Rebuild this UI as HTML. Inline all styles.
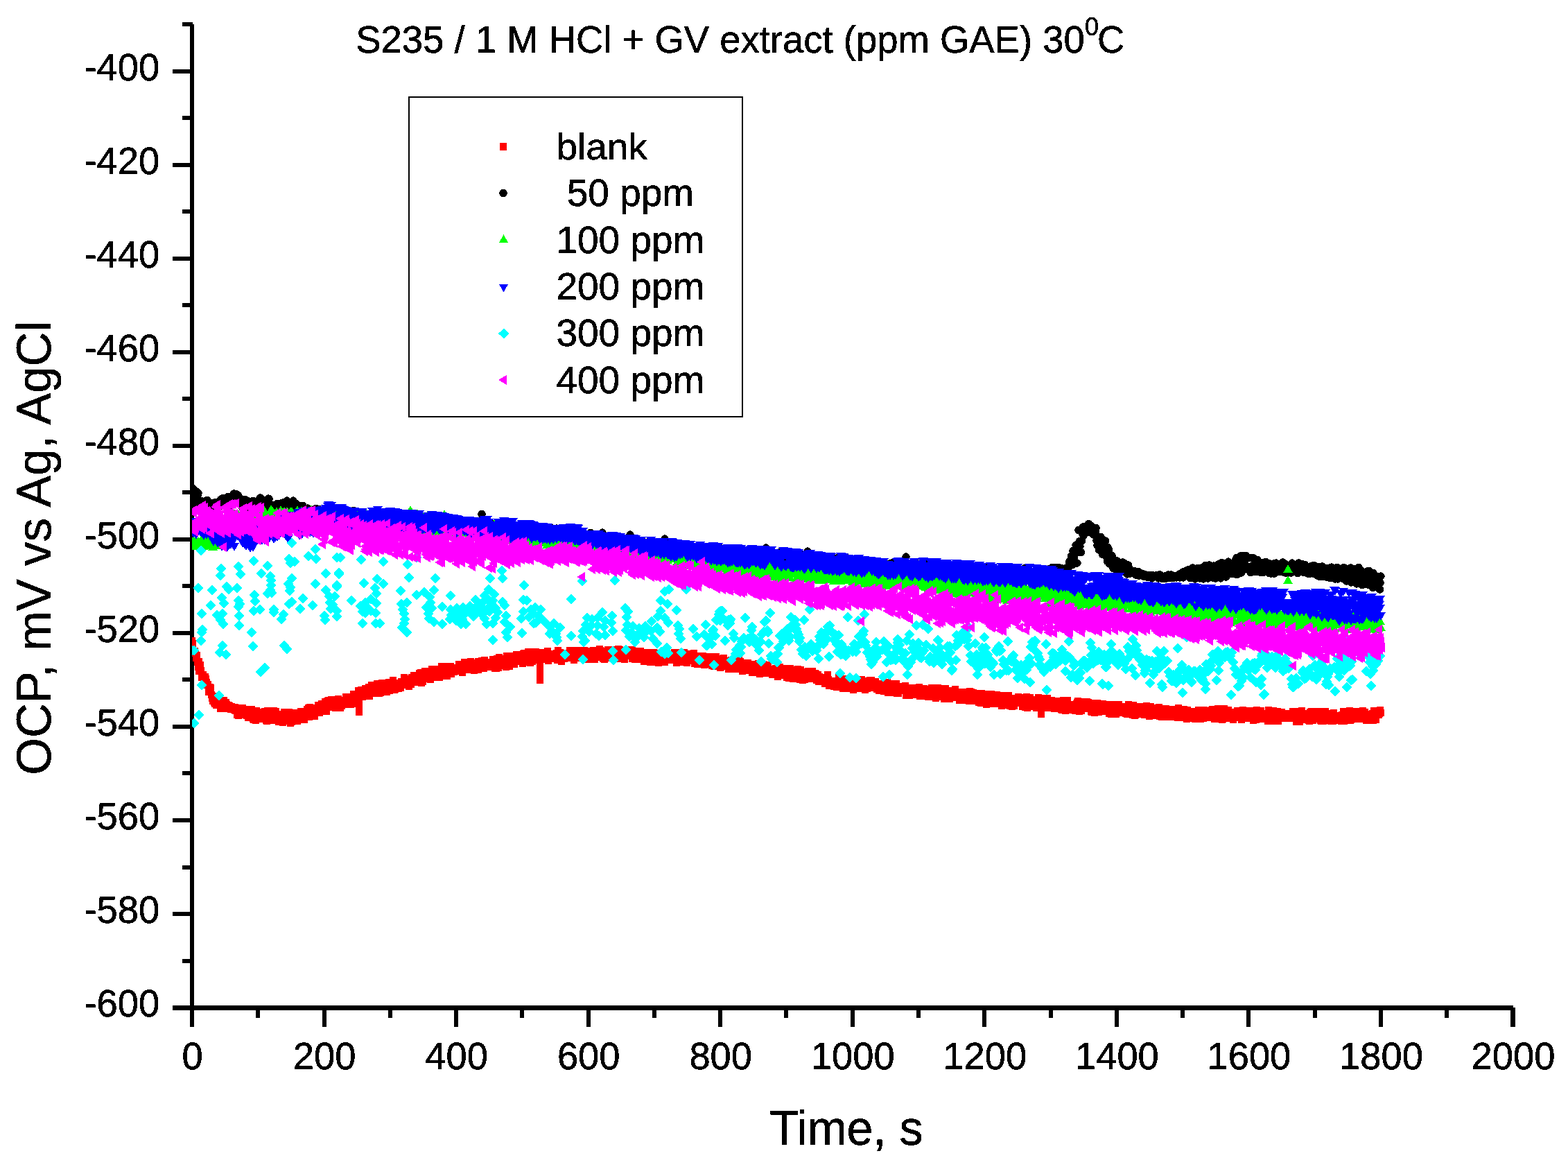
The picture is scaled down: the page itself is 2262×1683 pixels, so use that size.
<!DOCTYPE html>
<html lang="en"><head><meta charset="utf-8"><title>OCP vs time - S235 / 1 M HCl + GV extract</title>
<style>html,body{margin:0;padding:0;background:#fff}svg{display:block}text{font-family:"Liberation Sans",sans-serif;fill:#000;stroke:#000;stroke-width:.55px;stroke-linejoin:round}</style></head>
<body>
<svg width="2262" height="1683" viewBox="0 0 2262 1683">
<rect width="2262" height="1683" fill="#fff"/>
<g fill="#000" shape-rendering="crispEdges">
<rect x="274" y="35" width="6" height="1446"/>
<rect x="249" y="1450" width="1934" height="7"/>
<rect x="249" y="100" width="26" height="6"/><rect x="249" y="235" width="26" height="6"/><rect x="249" y="370" width="26" height="6"/><rect x="249" y="505" width="26" height="6"/><rect x="249" y="640" width="26" height="6"/><rect x="249" y="775" width="26" height="6"/><rect x="249" y="910" width="26" height="6"/><rect x="249" y="1045" width="26" height="6"/><rect x="249" y="1180" width="26" height="6"/><rect x="249" y="1315" width="26" height="6"/><rect x="263" y="32" width="15" height="6"/><rect x="263" y="167" width="12" height="6"/><rect x="263" y="302" width="12" height="6"/><rect x="263" y="437" width="12" height="6"/><rect x="263" y="572" width="12" height="6"/><rect x="263" y="707" width="12" height="6"/><rect x="263" y="842" width="12" height="6"/><rect x="263" y="977" width="12" height="6"/><rect x="263" y="1112" width="12" height="6"/><rect x="263" y="1248" width="12" height="6"/><rect x="263" y="1383" width="12" height="6"/>
<rect x="465" y="1455" width="6" height="26"/><rect x="655" y="1455" width="6" height="26"/><rect x="846" y="1455" width="6" height="26"/><rect x="1036" y="1455" width="6" height="26"/><rect x="1227" y="1455" width="6" height="26"/><rect x="1417" y="1455" width="6" height="26"/><rect x="1608" y="1455" width="6" height="26"/><rect x="1798" y="1455" width="6" height="26"/><rect x="1989" y="1455" width="6" height="26"/><rect x="2179" y="1453" width="7" height="28"/><rect x="369" y="1455" width="6" height="13"/><rect x="560" y="1455" width="6" height="13"/><rect x="750" y="1455" width="6" height="13"/><rect x="941" y="1455" width="6" height="13"/><rect x="1131" y="1455" width="6" height="13"/><rect x="1322" y="1455" width="6" height="13"/><rect x="1513" y="1455" width="6" height="13"/><rect x="1703" y="1455" width="6" height="13"/><rect x="1894" y="1455" width="6" height="13"/><rect x="2084" y="1455" width="6" height="13"/>
</g>
<defs><clipPath id="plot"><rect x="277" y="30" width="1920" height="1425"/></clipPath></defs>
<g clip-path="url(#plot)" shape-rendering="crispEdges">
<path d="M277,924h0M278,928h0M279,939h0M280,941h0M281,939h0M282,942h0M283,949h0M284,945h0M285,955h0M286,962h0M287,954h0M287,968h0M288,966h0M289,959h0M290,967h0M291,977h0M292,976h0M293,973h0M294,982h0M295,976h0M296,976h0M297,979h0M298,984h0M299,988h0M300,987h0M301,998h0M302,991h0M303,991h0M304,992h0M305,1002h0M306,1007h0M307,1004h0M307,1011h0M308,1009h0M309,1013h0M310,1015h0M311,1010h0M312,1017h0M313,1011h0M314,1009h0M315,1012h0M316,1017h0M317,1012h0M318,1022h0M319,1013h0M320,1014h0M321,1014h0M322,1016h0M323,1010h0M324,1021h0M325,1016h0M326,1013h0M327,1022h0M327,1016h0M328,1018h0M329,1021h0M330,1017h0M331,1018h0M332,1022h0M333,1023h0M334,1019h0M335,1020h0M336,1020h0M337,1020h0M338,1024h0M339,1020h0M340,1025h0M341,1021h0M342,1031h0M343,1021h0M344,1032h0M345,1021h0M346,1030h0M347,1028h0M348,1022h0M348,1031h0M349,1023h0M350,1021h0M351,1030h0M352,1029h0M353,1030h0M354,1023h0M355,1025h0M356,1032h0M357,1023h0M358,1035h0M359,1029h0M360,1032h0M361,1027h0M362,1025h0M363,1023h0M364,1026h0M365,1037h0M366,1038h0M367,1030h0M368,1029h0M368,1028h0M369,1039h0M370,1025h0M371,1030h0M372,1027h0M373,1028h0M374,1037h0M375,1028h0M376,1033h0M377,1030h0M378,1033h0M379,1030h0M380,1029h0M381,1029h0M382,1026h0M383,1032h0M384,1039h0M385,1040h0M386,1025h0M387,1039h0M388,1027h0M388,1037h0M389,1039h0M390,1028h0M391,1030h0M392,1031h0M393,1030h0M394,1033h0M395,1025h0M396,1032h0M397,1039h0M398,1026h0M399,1033h0M400,1033h0M401,1038h0M402,1041h0M403,1037h0M404,1030h0M405,1036h0M406,1031h0M407,1038h0M408,1037h0M408,1042h0M409,1040h0M410,1027h0M411,1031h0M412,1040h0M413,1036h0M414,1032h0M415,1027h0M416,1039h0M417,1027h0M418,1028h0M419,1043h0M420,1039h0M421,1041h0M422,1034h0M423,1029h0M424,1035h0M425,1033h0M426,1028h0M427,1028h0M428,1029h0M428,1040h0M429,1040h0M430,1036h0M431,1036h0M432,1036h0M433,1032h0M434,1026h0M435,1037h0M436,1037h0M437,1034h0M438,1037h0M439,1038h0M440,1030h0M441,1034h0M442,1031h0M443,1023h0M444,1026h0M445,1021h0M446,1034h0M447,1020h0M448,1028h0M448,1022h0M449,1021h0M450,1021h0M451,1032h0M452,1025h0M453,1023h0M454,1033h0M455,1025h0M456,1021h0M457,1022h0M458,1026h0M459,1017h0M460,1027h0M461,1028h0M462,1022h0M463,1021h0M464,1015h0M465,1020h0M466,1025h0M467,1019h0M468,1022h0M469,1012h0M469,1015h0M470,1014h0M471,1026h0M472,1011h0M473,1014h0M474,1010h0M475,1020h0M476,1020h0M477,1015h0M478,1009h0M479,1016h0M480,1011h0M481,1015h0M482,1014h0M483,1011h0M484,1021h0M485,1018h0M486,1014h0M487,1013h0M488,1008h0M489,1016h0M489,1014h0M490,1020h0M491,1021h0M492,1018h0M493,1018h0M494,1012h0M495,1010h0M496,1011h0M497,1012h0M498,1016h0M499,1005h0M500,1012h0M501,1016h0M502,1005h0M503,1006h0M504,1014h0M505,1011h0M506,1016h0M507,1010h0M508,1015h0M509,1012h0M509,1010h0M510,1001h0M511,1001h0M512,1012h0M513,1003h0M514,1008h0M515,1003h0M516,1003h0M517,996h0M518,1008h0M519,1000h0M520,1000h0M521,995h0M522,1003h0M523,1005h0M524,1001h0M525,1000h0M526,1004h0M527,993h0M528,1000h0M529,1002h0M529,996h0M530,1004h0M531,996h0M532,991h0M533,1004h0M534,995h0M535,999h0M536,988h0M537,1000h0M538,989h0M539,988h0M540,991h0M541,993h0M542,993h0M543,992h0M544,986h0M545,995h0M546,997h0M547,1000h0M548,993h0M549,999h0M549,999h0M550,987h0M551,985h0M552,986h0M553,995h0M554,987h0M555,985h0M556,998h0M557,993h0M558,998h0M559,987h0M560,985h0M561,984h0M562,996h0M563,984h0M564,994h0M565,984h0M566,994h0M567,981h0M568,986h0M569,986h0M569,995h0M570,994h0M571,985h0M572,986h0M573,990h0M574,989h0M575,993h0M576,989h0M577,986h0M578,992h0M579,983h0M580,983h0M581,983h0M582,985h0M583,977h0M584,984h0M585,981h0M586,980h0M587,980h0M588,988h0M589,981h0M590,990h0M590,981h0M591,985h0M592,979h0M593,987h0M594,977h0M595,977h0M596,977h0M597,974h0M598,984h0M599,979h0M600,974h0M601,980h0M602,979h0M603,979h0M604,982h0M605,971h0M606,978h0M607,970h0M608,985h0M609,979h0M610,971h0M610,983h0M611,971h0M612,973h0M613,968h0M614,973h0M615,979h0M616,969h0M617,979h0M618,973h0M619,979h0M620,968h0M621,980h0M622,976h0M623,965h0M624,972h0M625,965h0M626,975h0M627,969h0M628,976h0M629,977h0M630,965h0M630,975h0M631,968h0M632,968h0M633,972h0M634,977h0M635,972h0M636,965h0M637,961h0M638,963h0M639,965h0M640,961h0M641,961h0M642,975h0M643,962h0M644,965h0M645,975h0M646,968h0M647,970h0M648,963h0M649,969h0M650,961h0M650,964h0M651,972h0M652,969h0M653,965h0M654,965h0M655,969h0M656,963h0M657,964h0M658,966h0M659,965h0M660,963h0M661,966h0M662,958h0M663,967h0M664,958h0M665,968h0M666,964h0M667,970h0M668,961h0M669,965h0M670,955h0M670,959h0M671,956h0M672,964h0M673,955h0M674,961h0M675,957h0M676,955h0M677,966h0M678,956h0M679,954h0M680,959h0M681,956h0M682,964h0M683,962h0M684,967h0M685,965h0M686,957h0M687,965h0M688,956h0M689,965h0M690,954h0M690,966h0M691,960h0M692,958h0M693,957h0M694,957h0M695,953h0M696,961h0M697,956h0M698,964h0M699,952h0M700,958h0M701,959h0M702,962h0M703,960h0M704,957h0M705,961h0M706,961h0M707,956h0M708,956h0M709,955h0M710,962h0M711,951h0M711,962h0M712,958h0M713,955h0M714,964h0M715,964h0M716,964h0M717,950h0M718,956h0M719,963h0M720,948h0M721,953h0M722,955h0M723,952h0M724,956h0M725,956h0M726,960h0M727,950h0M728,959h0M729,954h0M730,962h0M731,960h0M731,946h0M732,952h0M733,949h0M734,953h0M735,961h0M736,954h0M737,946h0M738,956h0M739,947h0M740,951h0M741,954h0M742,958h0M743,949h0M744,954h0M745,944h0M746,944h0M747,949h0M748,952h0M749,947h0M750,954h0M751,947h0M751,946h0M752,953h0M753,953h0M754,957h0M755,943h0M756,942h0M757,954h0M758,945h0M759,955h0M760,949h0M761,950h0M762,940h0M763,949h0M764,954h0M765,956h0M766,946h0M767,942h0M768,954h0M769,946h0M770,947h0M771,947h0M771,948h0M772,940h0M773,940h0M774,952h0M775,949h0M776,946h0M777,950h0M778,951h0M779,944h0M780,945h0M781,943h0M782,941h0M783,948h0M784,951h0M785,949h0M786,943h0M787,949h0M788,945h0M789,946h0M790,939h0M791,951h0M791,953h0M792,943h0M793,944h0M794,946h0M795,945h0M796,944h0M797,950h0M798,949h0M799,943h0M800,948h0M801,949h0M802,945h0M803,942h0M804,952h0M805,938h0M806,950h0M807,951h0M808,941h0M809,947h0M810,954h0M811,943h0M811,948h0M812,944h0M813,945h0M814,950h0M815,946h0M816,942h0M817,949h0M818,946h0M819,942h0M820,947h0M821,949h0M822,938h0M823,940h0M824,943h0M825,941h0M826,946h0M827,938h0M828,952h0M829,949h0M830,944h0M831,939h0M832,938h0M832,949h0M833,946h0M834,943h0M835,942h0M836,938h0M837,949h0M838,940h0M839,941h0M840,940h0M841,946h0M842,941h0M843,938h0M844,950h0M845,939h0M846,940h0M847,948h0M848,944h0M849,951h0M850,950h0M851,945h0M852,939h0M852,941h0M853,947h0M854,941h0M855,944h0M856,938h0M857,945h0M858,951h0M859,946h0M860,940h0M861,938h0M862,945h0M863,945h0M864,948h0M865,936h0M866,938h0M867,946h0M868,945h0M869,947h0M870,950h0M871,948h0M872,945h0M872,951h0M873,941h0M874,939h0M875,940h0M876,946h0M877,937h0M878,942h0M879,941h0M880,937h0M881,949h0M882,949h0M883,939h0M884,937h0M885,945h0M886,939h0M887,945h0M888,941h0M889,949h0M890,940h0M891,943h0M892,936h0M892,941h0M893,950h0M894,937h0M895,947h0M896,942h0M897,944h0M898,949h0M899,950h0M900,942h0M901,951h0M902,940h0M903,939h0M904,946h0M905,945h0M906,944h0M907,941h0M908,943h0M909,945h0M910,937h0M911,937h0M912,937h0M912,950h0M913,947h0M914,942h0M915,946h0M916,951h0M917,939h0M918,940h0M919,943h0M920,945h0M921,943h0M922,951h0M923,946h0M924,939h0M925,942h0M926,946h0M927,950h0M928,948h0M929,954h0M930,944h0M931,948h0M932,954h0M932,946h0M933,941h0M934,943h0M935,946h0M936,941h0M937,947h0M938,955h0M939,954h0M940,949h0M941,955h0M942,950h0M943,941h0M944,950h0M945,949h0M946,950h0M947,944h0M948,952h0M949,949h0M950,956h0M951,942h0M952,948h0M952,954h0M953,943h0M954,952h0M955,955h0M956,952h0M957,951h0M958,944h0M959,955h0M960,941h0M961,946h0M962,941h0M963,948h0M964,952h0M965,948h0M966,944h0M967,950h0M968,952h0M969,944h0M970,946h0M971,944h0M972,948h0M973,941h0M973,947h0M974,942h0M975,945h0M976,956h0M977,941h0M978,945h0M979,946h0M980,954h0M981,942h0M982,955h0M983,952h0M984,955h0M985,954h0M986,950h0M987,941h0M988,955h0M989,950h0M990,943h0M991,956h0M992,943h0M993,944h0M993,951h0M994,953h0M995,943h0M996,948h0M997,949h0M998,949h0M999,949h0M1000,949h0M1001,942h0M1002,957h0M1003,952h0M1004,954h0M1005,953h0M1006,958h0M1007,952h0M1008,949h0M1009,955h0M1010,946h0M1011,953h0M1012,955h0M1013,953h0M1013,957h0M1014,946h0M1015,957h0M1016,959h0M1017,958h0M1018,951h0M1019,947h0M1020,954h0M1021,949h0M1022,956h0M1023,950h0M1024,957h0M1025,952h0M1026,953h0M1027,960h0M1028,952h0M1029,947h0M1030,961h0M1031,949h0M1032,951h0M1033,959h0M1033,947h0M1034,959h0M1035,955h0M1036,958h0M1037,953h0M1038,952h0M1039,963h0M1040,962h0M1041,958h0M1042,954h0M1043,950h0M1044,949h0M1045,953h0M1046,960h0M1047,953h0M1048,953h0M1049,957h0M1050,961h0M1051,965h0M1052,965h0M1053,959h0M1053,960h0M1054,955h0M1055,952h0M1056,960h0M1057,953h0M1058,965h0M1059,953h0M1060,961h0M1061,952h0M1062,962h0M1063,954h0M1064,962h0M1065,965h0M1066,952h0M1067,957h0M1068,954h0M1069,956h0M1070,958h0M1071,968h0M1072,958h0M1073,964h0M1073,957h0M1074,957h0M1075,959h0M1076,963h0M1077,963h0M1078,960h0M1079,956h0M1080,967h0M1081,963h0M1082,964h0M1083,966h0M1084,958h0M1085,970h0M1086,967h0M1087,968h0M1088,967h0M1089,958h0M1090,966h0M1091,959h0M1092,964h0M1093,970h0M1094,964h0M1094,957h0M1095,968h0M1096,972h0M1097,969h0M1098,967h0M1099,958h0M1100,962h0M1101,958h0M1102,964h0M1103,968h0M1104,971h0M1105,964h0M1106,964h0M1107,961h0M1108,959h0M1109,969h0M1110,966h0M1111,968h0M1112,970h0M1113,965h0M1114,973h0M1114,967h0M1115,968h0M1116,973h0M1117,965h0M1118,972h0M1119,964h0M1120,972h0M1121,970h0M1122,976h0M1123,968h0M1124,972h0M1125,962h0M1126,973h0M1127,970h0M1128,965h0M1129,974h0M1130,965h0M1131,970h0M1132,972h0M1133,964h0M1134,971h0M1134,964h0M1135,977h0M1136,966h0M1137,972h0M1138,978h0M1139,970h0M1140,964h0M1141,970h0M1142,973h0M1143,972h0M1144,979h0M1145,966h0M1146,966h0M1147,970h0M1148,971h0M1149,978h0M1150,968h0M1151,965h0M1152,976h0M1153,972h0M1154,966h0M1154,980h0M1155,966h0M1156,973h0M1157,972h0M1158,981h0M1159,973h0M1160,970h0M1161,980h0M1162,975h0M1163,969h0M1164,969h0M1165,977h0M1166,968h0M1167,973h0M1168,978h0M1169,979h0M1170,978h0M1171,970h0M1172,968h0M1173,979h0M1174,975h0M1174,977h0M1175,971h0M1176,971h0M1177,972h0M1178,981h0M1179,973h0M1180,973h0M1181,983h0M1182,976h0M1183,983h0M1184,979h0M1185,980h0M1186,977h0M1187,979h0M1188,978h0M1189,980h0M1190,986h0M1191,982h0M1192,981h0M1193,982h0M1194,973h0M1194,976h0M1195,980h0M1196,989h0M1197,985h0M1198,988h0M1199,983h0M1200,988h0M1201,982h0M1202,989h0M1203,990h0M1204,985h0M1205,983h0M1206,986h0M1207,991h0M1208,983h0M1209,987h0M1210,977h0M1211,985h0M1212,981h0M1213,989h0M1214,981h0M1215,986h0M1215,985h0M1216,993h0M1217,991h0M1218,979h0M1219,992h0M1220,990h0M1221,980h0M1222,990h0M1223,993h0M1224,983h0M1225,987h0M1226,981h0M1227,984h0M1228,986h0M1229,986h0M1230,982h0M1231,995h0M1232,979h0M1233,982h0M1234,984h0M1235,983h0M1235,980h0M1236,986h0M1237,983h0M1238,985h0M1239,981h0M1240,993h0M1241,992h0M1242,980h0M1243,980h0M1244,990h0M1245,984h0M1246,986h0M1247,988h0M1248,995h0M1249,982h0M1250,986h0M1251,993h0M1252,990h0M1253,986h0M1254,989h0M1255,981h0M1255,986h0M1256,992h0M1257,981h0M1258,989h0M1259,984h0M1260,984h0M1261,986h0M1262,985h0M1263,983h0M1264,986h0M1265,994h0M1266,991h0M1267,994h0M1268,996h0M1269,994h0M1270,986h0M1271,989h0M1272,987h0M1273,995h0M1274,993h0M1275,993h0M1275,997h0M1276,987h0M1277,988h0M1278,994h0M1279,997h0M1280,984h0M1281,999h0M1282,988h0M1283,989h0M1284,995h0M1285,999h0M1286,986h0M1287,992h0M1288,998h0M1289,993h0M1290,995h0M1291,997h0M1292,995h0M1293,986h0M1294,1000h0M1295,990h0M1295,993h0M1296,1000h0M1297,992h0M1298,993h0M1299,996h0M1300,992h0M1301,991h0M1302,995h0M1303,990h0M1304,994h0M1305,991h0M1306,989h0M1307,1003h0M1308,1001h0M1309,1003h0M1310,995h0M1311,992h0M1312,1003h0M1313,992h0M1314,995h0M1315,999h0M1315,992h0M1316,997h0M1317,1002h0M1318,999h0M1319,994h0M1320,992h0M1321,996h0M1322,997h0M1323,994h0M1324,996h0M1325,996h0M1326,991h0M1327,1004h0M1328,1002h0M1329,1000h0M1330,994h0M1331,999h0M1332,996h0M1333,993h0M1334,995h0M1335,999h0M1336,995h0M1336,1001h0M1337,1004h0M1338,1002h0M1339,1005h0M1340,1005h0M1341,1003h0M1342,999h0M1343,994h0M1344,992h0M1345,997h0M1346,993h0M1347,993h0M1348,996h0M1349,997h0M1350,1007h0M1351,994h0M1352,1001h0M1353,992h0M1354,1005h0M1355,993h0M1356,998h0M1356,1000h0M1357,1004h0M1358,1000h0M1359,996h0M1360,1005h0M1361,995h0M1362,1008h0M1363,1003h0M1364,993h0M1365,1008h0M1366,1006h0M1367,996h0M1368,1008h0M1369,999h0M1370,1008h0M1371,1001h0M1372,999h0M1373,999h0M1374,1005h0M1375,1005h0M1376,1006h0M1376,1006h0M1377,996h0M1378,994h0M1379,998h0M1380,999h0M1381,1000h0M1382,1003h0M1383,999h0M1384,1010h0M1385,1000h0M1386,998h0M1387,1001h0M1388,1002h0M1389,1004h0M1390,998h0M1391,1002h0M1392,1010h0M1393,998h0M1394,1008h0M1395,1000h0M1396,1001h0M1396,1010h0M1397,1004h0M1398,1011h0M1399,997h0M1400,1005h0M1401,998h0M1402,1005h0M1403,1009h0M1404,999h0M1405,1001h0M1406,1011h0M1407,1010h0M1408,1007h0M1409,1007h0M1410,1001h0M1411,1006h0M1412,1013h0M1413,1005h0M1414,1000h0M1415,1014h0M1416,1011h0M1416,1000h0M1417,1006h0M1418,1002h0M1419,1013h0M1420,1010h0M1421,1014h0M1422,1007h0M1423,1016h0M1424,1001h0M1425,1004h0M1426,1013h0M1427,1010h0M1428,1015h0M1429,1007h0M1430,1001h0M1431,1008h0M1432,1003h0M1433,1004h0M1434,1005h0M1435,1004h0M1436,1008h0M1436,1010h0M1437,1015h0M1438,1002h0M1439,1003h0M1440,1007h0M1441,1008h0M1442,1003h0M1443,1014h0M1444,1006h0M1445,1018h0M1446,1013h0M1447,1003h0M1448,1017h0M1449,1010h0M1450,1015h0M1451,1014h0M1452,1007h0M1453,1011h0M1454,1003h0M1455,1003h0M1456,1008h0M1457,1018h0M1457,1015h0M1458,1015h0M1459,1010h0M1460,1019h0M1461,1012h0M1462,1013h0M1463,1018h0M1464,1007h0M1465,1007h0M1466,1012h0M1467,1012h0M1468,1014h0M1469,1005h0M1470,1008h0M1471,1008h0M1472,1012h0M1473,1014h0M1474,1011h0M1475,1019h0M1476,1011h0M1477,1013h0M1477,1006h0M1478,1013h0M1479,1020h0M1480,1019h0M1481,1005h0M1482,1021h0M1483,1014h0M1484,1018h0M1485,1009h0M1486,1006h0M1487,1019h0M1488,1013h0M1489,1010h0M1490,1010h0M1491,1012h0M1492,1009h0M1493,1010h0M1494,1016h0M1495,1021h0M1496,1016h0M1497,1015h0M1497,1009h0M1498,1006h0M1499,1020h0M1500,1020h0M1501,1020h0M1502,1009h0M1503,1007h0M1504,1014h0M1505,1014h0M1506,1015h0M1507,1018h0M1508,1021h0M1509,1015h0M1510,1020h0M1511,1007h0M1512,1011h0M1513,1011h0M1514,1014h0M1515,1021h0M1516,1011h0M1517,1021h0M1517,1010h0M1518,1011h0M1519,1014h0M1520,1016h0M1521,1022h0M1522,1018h0M1523,1013h0M1524,1011h0M1525,1018h0M1526,1021h0M1527,1016h0M1528,1012h0M1529,1014h0M1530,1016h0M1531,1023h0M1532,1024h0M1533,1011h0M1534,1010h0M1535,1014h0M1536,1010h0M1537,1018h0M1537,1025h0M1538,1022h0M1539,1015h0M1540,1010h0M1541,1020h0M1542,1022h0M1543,1024h0M1544,1024h0M1545,1022h0M1546,1019h0M1547,1017h0M1548,1016h0M1549,1023h0M1550,1020h0M1551,1025h0M1552,1023h0M1553,1015h0M1554,1013h0M1555,1011h0M1556,1012h0M1557,1017h0M1557,1026h0M1558,1016h0M1559,1012h0M1560,1025h0M1561,1019h0M1562,1020h0M1563,1022h0M1564,1013h0M1565,1020h0M1566,1016h0M1567,1016h0M1568,1012h0M1569,1020h0M1570,1013h0M1571,1014h0M1572,1022h0M1573,1022h0M1574,1026h0M1575,1027h0M1576,1020h0M1577,1026h0M1578,1015h0M1578,1021h0M1579,1028h0M1580,1014h0M1581,1025h0M1582,1016h0M1583,1014h0M1584,1022h0M1585,1027h0M1586,1019h0M1587,1017h0M1588,1018h0M1589,1017h0M1590,1022h0M1591,1015h0M1592,1016h0M1593,1026h0M1594,1017h0M1595,1025h0M1596,1021h0M1597,1016h0M1598,1020h0M1598,1018h0M1599,1026h0M1600,1029h0M1601,1025h0M1602,1022h0M1603,1030h0M1604,1018h0M1605,1016h0M1606,1018h0M1607,1022h0M1608,1027h0M1609,1016h0M1610,1030h0M1611,1023h0M1612,1028h0M1613,1026h0M1614,1016h0M1615,1028h0M1616,1021h0M1617,1024h0M1618,1025h0M1618,1021h0M1619,1019h0M1620,1022h0M1621,1027h0M1622,1026h0M1623,1023h0M1624,1029h0M1625,1019h0M1626,1030h0M1627,1022h0M1628,1016h0M1629,1025h0M1630,1024h0M1631,1020h0M1632,1025h0M1633,1027h0M1634,1031h0M1635,1017h0M1636,1026h0M1637,1032h0M1638,1022h0M1638,1031h0M1639,1022h0M1640,1028h0M1641,1023h0M1642,1027h0M1643,1028h0M1644,1019h0M1645,1020h0M1646,1025h0M1647,1020h0M1648,1030h0M1649,1028h0M1650,1019h0M1651,1031h0M1652,1030h0M1653,1031h0M1654,1018h0M1655,1019h0M1656,1020h0M1657,1019h0M1658,1028h0M1658,1033h0M1659,1029h0M1660,1019h0M1661,1032h0M1662,1024h0M1663,1026h0M1664,1030h0M1665,1028h0M1666,1032h0M1667,1021h0M1668,1022h0M1669,1021h0M1670,1023h0M1671,1027h0M1672,1020h0M1673,1033h0M1674,1032h0M1675,1031h0M1676,1034h0M1677,1028h0M1678,1030h0M1678,1024h0M1679,1034h0M1680,1033h0M1681,1030h0M1682,1022h0M1683,1029h0M1684,1025h0M1685,1023h0M1686,1027h0M1687,1030h0M1688,1034h0M1689,1026h0M1690,1023h0M1691,1025h0M1692,1029h0M1693,1030h0M1694,1026h0M1695,1034h0M1696,1027h0M1697,1029h0M1698,1033h0M1699,1035h0M1699,1028h0M1700,1021h0M1701,1033h0M1702,1023h0M1703,1030h0M1704,1035h0M1705,1031h0M1706,1035h0M1707,1028h0M1708,1023h0M1709,1028h0M1710,1035h0M1711,1025h0M1712,1037h0M1713,1024h0M1714,1033h0M1715,1034h0M1716,1026h0M1717,1034h0M1718,1036h0M1719,1027h0M1719,1026h0M1720,1027h0M1721,1030h0M1722,1036h0M1723,1027h0M1724,1037h0M1725,1034h0M1726,1031h0M1727,1033h0M1728,1037h0M1729,1024h0M1730,1030h0M1731,1027h0M1732,1037h0M1733,1030h0M1734,1027h0M1735,1024h0M1736,1036h0M1737,1024h0M1738,1030h0M1739,1035h0M1739,1033h0M1740,1035h0M1741,1031h0M1742,1034h0M1743,1031h0M1744,1030h0M1745,1035h0M1746,1027h0M1747,1025h0M1748,1024h0M1749,1023h0M1750,1033h0M1751,1026h0M1752,1037h0M1753,1024h0M1754,1030h0M1755,1035h0M1756,1033h0M1757,1022h0M1758,1034h0M1759,1037h0M1759,1026h0M1760,1035h0M1761,1031h0M1762,1026h0M1763,1038h0M1764,1037h0M1765,1035h0M1766,1022h0M1767,1033h0M1768,1029h0M1769,1026h0M1770,1036h0M1771,1025h0M1772,1024h0M1773,1032h0M1774,1032h0M1775,1035h0M1776,1027h0M1777,1033h0M1778,1034h0M1779,1038h0M1779,1038h0M1780,1035h0M1781,1027h0M1782,1030h0M1783,1027h0M1784,1029h0M1785,1025h0M1786,1034h0M1787,1025h0M1788,1035h0M1789,1029h0M1790,1030h0M1791,1038h0M1792,1034h0M1793,1024h0M1794,1036h0M1795,1032h0M1796,1036h0M1797,1031h0M1798,1032h0M1799,1035h0M1799,1033h0M1800,1025h0M1801,1036h0M1802,1028h0M1803,1026h0M1804,1032h0M1805,1028h0M1806,1036h0M1807,1036h0M1808,1039h0M1809,1025h0M1810,1035h0M1811,1029h0M1812,1038h0M1813,1024h0M1814,1029h0M1815,1030h0M1816,1035h0M1817,1026h0M1818,1036h0M1819,1025h0M1820,1032h0M1820,1037h0M1821,1033h0M1822,1034h0M1823,1035h0M1824,1029h0M1825,1030h0M1826,1033h0M1827,1030h0M1828,1029h0M1829,1040h0M1830,1024h0M1831,1028h0M1832,1026h0M1833,1031h0M1834,1038h0M1835,1034h0M1836,1039h0M1837,1025h0M1838,1040h0M1839,1037h0M1840,1038h0M1840,1031h0M1841,1026h0M1842,1036h0M1843,1026h0M1844,1040h0M1845,1027h0M1846,1032h0M1847,1032h0M1848,1027h0M1849,1027h0M1850,1031h0M1851,1030h0M1852,1033h0M1853,1034h0M1854,1036h0M1855,1034h0M1856,1032h0M1857,1033h0M1858,1035h0M1859,1029h0M1860,1036h0M1860,1035h0M1861,1035h0M1862,1029h0M1863,1030h0M1864,1035h0M1865,1026h0M1866,1030h0M1867,1031h0M1868,1027h0M1869,1035h0M1870,1041h0M1871,1040h0M1872,1026h0M1873,1033h0M1874,1030h0M1875,1041h0M1876,1035h0M1877,1038h0M1878,1025h0M1879,1034h0M1880,1029h0M1880,1031h0M1881,1033h0M1882,1036h0M1883,1031h0M1884,1038h0M1885,1031h0M1886,1029h0M1887,1033h0M1888,1039h0M1889,1040h0M1890,1027h0M1891,1027h0M1892,1026h0M1893,1027h0M1894,1039h0M1895,1036h0M1896,1037h0M1897,1037h0M1898,1030h0M1899,1031h0M1900,1030h0M1900,1033h0M1901,1026h0M1902,1033h0M1903,1032h0M1904,1034h0M1905,1039h0M1906,1040h0M1907,1031h0M1908,1026h0M1909,1040h0M1910,1027h0M1911,1039h0M1912,1026h0M1913,1032h0M1914,1029h0M1915,1029h0M1916,1033h0M1917,1033h0M1918,1037h0M1919,1033h0M1920,1040h0M1920,1035h0M1921,1033h0M1922,1038h0M1923,1040h0M1924,1028h0M1925,1039h0M1926,1039h0M1927,1034h0M1928,1033h0M1929,1032h0M1930,1036h0M1931,1034h0M1932,1033h0M1933,1039h0M1934,1039h0M1935,1040h0M1936,1031h0M1937,1036h0M1938,1026h0M1939,1040h0M1940,1032h0M1941,1030h0M1941,1035h0M1942,1031h0M1943,1033h0M1944,1032h0M1945,1036h0M1946,1031h0M1947,1025h0M1948,1039h0M1949,1038h0M1950,1030h0M1951,1035h0M1952,1035h0M1953,1034h0M1954,1036h0M1955,1026h0M1956,1028h0M1957,1034h0M1958,1037h0M1959,1035h0M1960,1027h0M1961,1028h0M1961,1034h0M1962,1037h0M1963,1033h0M1964,1031h0M1965,1026h0M1966,1025h0M1967,1029h0M1968,1035h0M1969,1027h0M1970,1031h0M1971,1039h0M1972,1037h0M1973,1038h0M1974,1033h0M1975,1036h0M1976,1032h0M1977,1030h0M1978,1036h0M1979,1033h0M1980,1029h0M1981,1034h0M1981,1039h0M1982,1025h0M1983,1030h0M1984,1033h0M1985,1038h0M1986,1030h0M1987,1027h0M1988,1026h0M1989,1031h0M1990,1029h0M1991,1024h0M1992,1028h0M518,1012h0M518,1020h0M518,1027h0M779,958h0M779,966h0M779,974h0M779,981h0M1502,1018h0M1502,1025h0M1502,1030h0" stroke="#f00" stroke-width="10" stroke-linecap="square" fill="none"/>
<path d="M277,715.5h0M277.5,709h0M278.5,709.5h0M279,707h0M280,710h0M280.5,713.5h0M281.5,708h0M282,716h0M282.5,722h0M283.5,715.5h0M284,711h0M285,715h0M285.5,729.5h0M286.5,723h0M287,729.5h0M287.5,732.5h0M288.5,725.5h0M289,729.5h0M290,723h0M290.5,722.5h0M291.5,726h0M292,724.5h0M292.5,729.5h0M293.5,739.5h0M294,734.5h0M295,736h0M295.5,723h0M296.5,724.5h0M297,735.5h0M297.5,726h0M298.5,729.5h0M299,721.5h0M300,735.5h0M300.5,734h0M301.5,734.5h0M302,725.5h0M302.5,726.5h0M303.5,730.5h0M304,736.5h0M305,726h0M305.5,726h0M306.5,734.5h0M307,734.5h0M307.5,730.5h0M308.5,730h0M309,725.5h0M310,725.5h0M310.5,724.5h0M311.5,725.5h0M312,733.5h0M312.5,729h0M313.5,729h0M314,734h0M315,724.5h0M315.5,726.5h0M316.5,730.5h0M317,727.5h0M317.5,722h0M318.5,720.5h0M319,722.5h0M320,722h0M320.5,719h0M321.5,721.5h0M322,720.5h0M322.5,728.5h0M323.5,719h0M324,723.5h0M325,727.5h0M325.5,720.5h0M326.5,718.5h0M327,724.5h0M327.5,721.5h0M328.5,722.5h0M329,716.5h0M330,729.5h0M330.5,718h0M331.5,725.5h0M332,728h0M332.5,717.5h0M333.5,727h0M334,716.5h0M335,718h0M335.5,717h0M336.5,714.5h0M337,713.5h0M337.5,712h0M338.5,721.5h0M339,713.5h0M340,715.5h0M340.5,715.5h0M341.5,719.5h0M342,713h0M342.5,723.5h0M343.5,714.5h0M344,722.5h0M345,726.5h0M345.5,718.5h0M346.5,719.5h0M347,728h0M347.5,727h0M348.5,721h0M349,722h0M350,733h0M350.5,732.5h0M351.5,728h0M352,731.5h0M352.5,726h0M353.5,720.5h0M354,724h0M355,723.5h0M355.5,731.5h0M356.5,722h0M357,725.5h0M357.5,734h0M358.5,724h0M359,729.5h0M360,730h0M360.5,733.5h0M361.5,734.5h0M362,734.5h0M362.5,729.5h0M363.5,735h0M364,723h0M365,722.5h0M365.5,732.5h0M366.5,731h0M367,727.5h0M367.5,731h0M368.5,733h0M369,735h0M370,730h0M370.5,730.5h0M371.5,729.5h0M372,725.5h0M373,725.5h0M373.5,721.5h0M374,728.5h0M375,723.5h0M375.5,718h0M376.5,733.5h0M377,728h0M378,728.5h0M378.5,730.5h0M379,722.5h0M380,724.5h0M380.5,735h0M381.5,722.5h0M382,725h0M383,734h0M383.5,723h0M384,721h0M385,721.5h0M385.5,721.5h0M386.5,722.5h0M387,719h0M388,719.5h0M388.5,730.5h0M389,731.5h0M390,731.5h0M390.5,728h0M391.5,728h0M392,734h0M393,731h0M393.5,733.5h0M394,735.5h0M395,730.5h0M395.5,737h0M396.5,731h0M397,735.5h0M398,732.5h0M398.5,737.5h0M399,732.5h0M400,726.5h0M400.5,733h0M401.5,727.5h0M402,736.5h0M403,739h0M403.5,736.5h0M404,731.5h0M405,731h0M405.5,737h0M406.5,725.5h0M407,734.5h0M408,727h0M408.5,725h0M409,737.5h0M410,725h0M410.5,728h0M411.5,730h0M412,726.5h0M413,736.5h0M413.5,739h0M414,722h0M415,737.5h0M415.5,729h0M416.5,732.5h0M417,729.5h0M418,728.5h0M418.5,728.5h0M419,734.5h0M420,724h0M420.5,739h0M421.5,736h0M422,724h0M423,722h0M423.5,728.5h0M424,727h0M425,725.5h0M425.5,737h0M426.5,726h0M427,730.5h0M428,730.5h0M428.5,739.5h0M429,742h0M430,735.5h0M430.5,734h0M431.5,733h0M432,736.5h0M433,733.5h0M433.5,740h0M434,729.5h0M435,743h0M435.5,742.5h0M436.5,733h0M437,729.5h0M438,741.5h0M438.5,733h0M439,737h0M440,735.5h0M440.5,739h0M441.5,745h0M442,736.5h0M443,742.5h0M443.5,740h0M444,733h0M445,742.5h0M445.5,744.5h0M446.5,739h0M447,738h0M448,744h0M448.5,743h0M449,736h0M450,746.5h0M450.5,747h0M451.5,745h0M452,737h0M453,748h0M453.5,745h0M454,734h0M455,747h0M455.5,741.5h0M456.5,733.5h0M457,736h0M458,737h0M458.5,744.5h0M459,735h0M460,737h0M460.5,734.5h0M461.5,742h0M462,735.5h0M463,736.5h0M463.5,749.5h0M464,748h0M465,736.5h0M465.5,750.5h0M466.5,738.5h0M467,734.5h0M468,745.5h0M468.5,744h0M469,742.5h0M470,752.5h0M470.5,738h0M471.5,744.5h0M472,735h0M473,747h0M473.5,746.5h0M474,738.5h0M475,730h0M475.5,738.5h0M476.5,734.5h0M477,745.5h0M478,736.5h0M478.5,734.5h0M479,741h0M480,744h0M480.5,732h0M481.5,753.5h0M482,736h0M483,740h0M483.5,738.5h0M484,754.5h0M485,752.5h0M485.5,735.5h0M486.5,753h0M487,746h0M488,739.5h0M488.5,755h0M489,750h0M490,736.5h0M490.5,756h0M491.5,747.5h0M492,748h0M493,743.5h0M493.5,742h0M494,732.5h0M495,751h0M495.5,747h0M496.5,750h0M497,742.5h0M498,751.5h0M498.5,737h0M499,757h0M500,751.5h0M500.5,742.5h0M501.5,749h0M502,737.5h0M503,748h0M503.5,755.5h0M504,751.5h0M505,752h0M505.5,752h0M506.5,738.5h0M507,741.5h0M508,751h0M508.5,738h0M509,742.5h0M510,736.5h0M510.5,740h0M511.5,750.5h0M512,754h0M513,757.5h0M513.5,755.5h0M514,752.5h0M515,755h0M515.5,755h0M516.5,750.5h0M517,747.5h0M518,751.5h0M518.5,752.5h0M519,739h0M520,755h0M520.5,747.5h0M521.5,749h0M522,746.5h0M523,741h0M523.5,756h0M524,751.5h0M525,743.5h0M525.5,746h0M526.5,748.5h0M527,743h0M528,751h0M528.5,748.5h0M529,754.5h0M530,755h0M530.5,753.5h0M531.5,749h0M532,750.5h0M533,745.5h0M533.5,746.5h0M534,742h0M535,757.5h0M535.5,747.5h0M536.5,748h0M537,749.5h0M538,758h0M538.5,753.5h0M539,756h0M540,744h0M540.5,744.5h0M541.5,743h0M542,759h0M543,753h0M543.5,749.5h0M544,750.5h0M545,753.5h0M545.5,756h0M546.5,752.5h0M547,755h0M548,741.5h0M548.5,744.5h0M549,759h0M550,757h0M550.5,749h0M551.5,748.5h0M552,744h0M553,743.5h0M553.5,749.5h0M554.5,743.5h0M555,755.5h0M555.5,752h0M556.5,748h0M557,757h0M558,745.5h0M558.5,744h0M559.5,745h0M560,757.5h0M560.5,744.5h0M561.5,743h0M562,753h0M563,753.5h0M563.5,746.5h0M564.5,749.5h0M565,749h0M565.5,756h0M566.5,753.5h0M567,758h0M568,759h0M568.5,745h0M569.5,748.5h0M570,752.5h0M570.5,758h0M571.5,745.5h0M572,745.5h0M573,742.5h0M573.5,754h0M574.5,755.5h0M575,742.5h0M575.5,742.5h0M576.5,755h0M577,751.5h0M578,747h0M578.5,752h0M579.5,748.5h0M580,755h0M580.5,757.5h0M581.5,742.5h0M582,755h0M583,755.5h0M583.5,747.5h0M584.5,754.5h0M585,749h0M585.5,748h0M586.5,752.5h0M587,756h0M588,758.5h0M588.5,758h0M589.5,745.5h0M590,755h0M590.5,753h0M591.5,756h0M592,757.5h0M593,745h0M593.5,755.5h0M594.5,747h0M595,750h0M595.5,744.5h0M596.5,760h0M597,753.5h0M598,755h0M598.5,751h0M599.5,749.5h0M600,747.5h0M600.5,748h0M601.5,750.5h0M602,758.5h0M603,746h0M603.5,760.5h0M604.5,744h0M605,761.5h0M605.5,758.5h0M606.5,758.5h0M607,758h0M608,757h0M608.5,760.5h0M609.5,746.5h0M610,757.5h0M610.5,745h0M611.5,750.5h0M612,757.5h0M613,754.5h0M613.5,753.5h0M614.5,745h0M615,757.5h0M615.5,748h0M616.5,754h0M617,762.5h0M618,753.5h0M618.5,757h0M619.5,751.5h0M620,756.5h0M620.5,746.5h0M621.5,746.5h0M622,747.5h0M623,758h0M623.5,748.5h0M624.5,748.5h0M625,757h0M625.5,751h0M626.5,756.5h0M627,748h0M628,747h0M628.5,755h0M629.5,749.5h0M630,748.5h0M630.5,746h0M631.5,763.5h0M632,756.5h0M633,758.5h0M633.5,763h0M634.5,764h0M635,758.5h0M635.5,765h0M636.5,755.5h0M637,754h0M638,749.5h0M638.5,754h0M639.5,758h0M640,753h0M640.5,764.5h0M641.5,749h0M642,764h0M643,757.5h0M643.5,754h0M644.5,751.5h0M645,749.5h0M645.5,749.5h0M646.5,748.5h0M647,752.5h0M648,764h0M648.5,750h0M649.5,748.5h0M650,757.5h0M650.5,754.5h0M651.5,755h0M652,749h0M653,756.5h0M653.5,755.5h0M654.5,767h0M655,766.5h0M655.5,756.5h0M656.5,766h0M657,760h0M658,752.5h0M658.5,767h0M659.5,756.5h0M660,758.5h0M660.5,762.5h0M661.5,754h0M662,758.5h0M663,754.5h0M663.5,754.5h0M664.5,756.5h0M665,766.5h0M665.5,762h0M666.5,757.5h0M667,757h0M668,758h0M668.5,753.5h0M669.5,766.5h0M670,757.5h0M670.5,760h0M671.5,753h0M672,767.5h0M673,760.5h0M673.5,769h0M674.5,753.5h0M675,756.5h0M675.5,762.5h0M676.5,759h0M677,766h0M678,762.5h0M678.5,767h0M679.5,766h0M680,752.5h0M680.5,768.5h0M681.5,755h0M682,758.5h0M683,762h0M683.5,768h0M684.5,757.5h0M685,753h0M685.5,754.5h0M686.5,766.5h0M687,756h0M688,764.5h0M688.5,764.5h0M689.5,769.5h0M690,770.5h0M690.5,757h0M691.5,767.5h0M692,760h0M693,757h0M693.5,759h0M694.5,756.5h0M695,770.5h0M695.5,753.5h0M696.5,768h0M697,765.5h0M698,763h0M698.5,757.5h0M699.5,759h0M700,770h0M700.5,768h0M701.5,755.5h0M702,761.5h0M703,770h0M703.5,754.5h0M704.5,763h0M705,766.5h0M705.5,758.5h0M706.5,761h0M707,770h0M708,764.5h0M708.5,769h0M709.5,766.5h0M710,758h0M710.5,757h0M711.5,765h0M712,760h0M713,755.5h0M713.5,755.5h0M714.5,768.5h0M715,767h0M715.5,769.5h0M716.5,755h0M717,765h0M718,757h0M718.5,770h0M719.5,765.5h0M720,755.5h0M720.5,770h0M721.5,759h0M722,771.5h0M723,760.5h0M723.5,768.5h0M724.5,764h0M725,763.5h0M725.5,760.5h0M726.5,772.5h0M727,770.5h0M728,772.5h0M728.5,757h0M729.5,766h0M730,764h0M730.5,760.5h0M731.5,766h0M732,772h0M733,768.5h0M733.5,766.5h0M734.5,762h0M735,765.5h0M735.5,756h0M736.5,760.5h0M737,766.5h0M738,767h0M738.5,758h0M739.5,762h0M740,772h0M741,760h0M741.5,759h0M742,764.5h0M743,762.5h0M743.5,765h0M744.5,757.5h0M745,767.5h0M746,763h0M746.5,758h0M747,765h0M748,766.5h0M748.5,762h0M749.5,760.5h0M750,771h0M751,767h0M751.5,762h0M752,769.5h0M753,763.5h0M753.5,765h0M754.5,759.5h0M755,762h0M756,763h0M756.5,770.5h0M757,761h0M758,765.5h0M758.5,761.5h0M759.5,769.5h0M760,760h0M761,765.5h0M761.5,762h0M762,769h0M763,771.5h0M763.5,773h0M764.5,768.5h0M765,758.5h0M766,769.5h0M766.5,769.5h0M767,771h0M768,769.5h0M768.5,761h0M769.5,773h0M770,762.5h0M771,771h0M771.5,760.5h0M772,760h0M773,763h0M773.5,760.5h0M774.5,764h0M775,761.5h0M776,772h0M776.5,771h0M777,772.5h0M778,768h0M778.5,763h0M779.5,760h0M780,761h0M781,763.5h0M781.5,763.5h0M782,764h0M783,772h0M783.5,770.5h0M784.5,768.5h0M785,766h0M786,763.5h0M786.5,769h0M787,764h0M788,772h0M788.5,773.5h0M789.5,768h0M790,761h0M791,770.5h0M791.5,765h0M792,774h0M793,761.5h0M793.5,771h0M794.5,771.5h0M795,761.5h0M796,773h0M796.5,764.5h0M797,772.5h0M798,773h0M798.5,769h0M799.5,770h0M800,774.5h0M801,763.5h0M801.5,769h0M802,766.5h0M803,762h0M803.5,763h0M804.5,766.5h0M805,774h0M806,774h0M806.5,766.5h0M807,772h0M808,770h0M808.5,773.5h0M809.5,773h0M810,766.5h0M811,774.5h0M811.5,772h0M812,764h0M813,763.5h0M813.5,763.5h0M814.5,773.5h0M815,769.5h0M816,764h0M816.5,771.5h0M817,772h0M818,775h0M818.5,771.5h0M819.5,776.5h0M820,770.5h0M821,769.5h0M821.5,774.5h0M822,767h0M823,766.5h0M823.5,773h0M824.5,775h0M825,772.5h0M826,766.5h0M826.5,771h0M827,765h0M828,775.5h0M828.5,777h0M829.5,764h0M830,769h0M831,775.5h0M831.5,775.5h0M832,769.5h0M833,767.5h0M833.5,772.5h0M834.5,770h0M835,765h0M836,772h0M836.5,770h0M837,770.5h0M838,768h0M838.5,773.5h0M839.5,769h0M840,779h0M841,774.5h0M841.5,776.5h0M842,777h0M843,769h0M843.5,778h0M844.5,777h0M845,774.5h0M846,778h0M846.5,772.5h0M847,770.5h0M848,771.5h0M848.5,777.5h0M849.5,775.5h0M850,774.5h0M851,778.5h0M851.5,769.5h0M852,768.5h0M853,775.5h0M853.5,777h0M854.5,779.5h0M855,774.5h0M856,777h0M856.5,773.5h0M857,771h0M858,779.5h0M858.5,781h0M859.5,771.5h0M860,777.5h0M861,778h0M861.5,778.5h0M862,775.5h0M863,774.5h0M863.5,775h0M864.5,774h0M865,777.5h0M866,772.5h0M866.5,777h0M867,778h0M868,782h0M868.5,778h0M869.5,775.5h0M870,779h0M871,772.5h0M871.5,775.5h0M872,778.5h0M873,779.5h0M873.5,775h0M874.5,782h0M875,776h0M876,784.5h0M876.5,784h0M877,777.5h0M878,773.5h0M878.5,780.5h0M879.5,784h0M880,780h0M881,784.5h0M881.5,779h0M882,780.5h0M883,779h0M883.5,775h0M884.5,776.5h0M885,785.5h0M886,780.5h0M886.5,784h0M887,783.5h0M888,777h0M888.5,775h0M889.5,776.5h0M890,775h0M891,778h0M891.5,783h0M892,780.5h0M893,778.5h0M893.5,787h0M894.5,779.5h0M895,789h0M896,777.5h0M896.5,778.5h0M897,779h0M898,778.5h0M898.5,778h0M899.5,791.5h0M900,778h0M901,791h0M901.5,781h0M902,778h0M903,782.5h0M903.5,784.5h0M904.5,787.5h0M905,793h0M906,785.5h0M906.5,787h0M907,788.5h0M908,780.5h0M908.5,784.5h0M909.5,790.5h0M910,780.5h0M911,780.5h0M911.5,789.5h0M912,787.5h0M913,781.5h0M913.5,784h0M914.5,781.5h0M915,781h0M916,789.5h0M916.5,779.5h0M917,784.5h0M918,794.5h0M918.5,794h0M919.5,782.5h0M920,784h0M921,784h0M921.5,786.5h0M922,783h0M923,786.5h0M923.5,783h0M924.5,790h0M925,787h0M926,785h0M926.5,781.5h0M927.5,781h0M928,793.5h0M928.5,784.5h0M929.5,782h0M930,786.5h0M931,790.5h0M931.5,798h0M932.5,784.5h0M933,798h0M933.5,787.5h0M934.5,782h0M935,797h0M936,782h0M936.5,782h0M937.5,783.5h0M938,797.5h0M938.5,782.5h0M939.5,784h0M940,787.5h0M941,797h0M941.5,797h0M942.5,794.5h0M943,788h0M943.5,794h0M944.5,796.5h0M945,792.5h0M946,795h0M946.5,787h0M947.5,782.5h0M948,789h0M948.5,796h0M949.5,785h0M950,784h0M951,789.5h0M951.5,787h0M952.5,782.5h0M953,795h0M953.5,794h0M954.5,797.5h0M955,783h0M956,784.5h0M956.5,789.5h0M957.5,794h0M958,787h0M958.5,785h0M959.5,785h0M960,789h0M961,788.5h0M961.5,797h0M962.5,790h0M963,790.5h0M963.5,797.5h0M964.5,791.5h0M965,785h0M966,784.5h0M966.5,790h0M967.5,787.5h0M968,793.5h0M968.5,792h0M969.5,788.5h0M970,785h0M971,788.5h0M971.5,794h0M972.5,792.5h0M973,786.5h0M973.5,786h0M974.5,793.5h0M975,798h0M976,797h0M976.5,795.5h0M977.5,785.5h0M978,795h0M978.5,789h0M979.5,797h0M980,790h0M981,790.5h0M981.5,794.5h0M982.5,786.5h0M983,791h0M983.5,788h0M984.5,794h0M985,789.5h0M986,791h0M986.5,796.5h0M987.5,793h0M988,796h0M988.5,795.5h0M989.5,789.5h0M990,795.5h0M991,797.5h0M991.5,796h0M992.5,795.5h0M993,789h0M993.5,793h0M994.5,788h0M995,793h0M996,788h0M996.5,797.5h0M997.5,793h0M998,792h0M998.5,796.5h0M999.5,794.5h0M1000,790.5h0M1001,795.5h0M1001.5,793.5h0M1002.5,792h0M1003,798h0M1003.5,795.5h0M1004.5,793.5h0M1005,800.5h0M1006,795.5h0M1006.5,795.5h0M1007.5,793.5h0M1008,792.5h0M1008.5,793.5h0M1009.5,791.5h0M1010,800h0M1011,789h0M1011.5,801h0M1012.5,797.5h0M1013,790.5h0M1013.5,789.5h0M1014.5,792.5h0M1015,793.5h0M1016,801.5h0M1016.5,795.5h0M1017.5,795.5h0M1018,802h0M1018.5,798h0M1019.5,799.5h0M1020,791.5h0M1021,796.5h0M1021.5,790h0M1022.5,791h0M1023,798h0M1023.5,791h0M1024.5,796.5h0M1025,794h0M1026,791.5h0M1026.5,788.5h0M1027.5,793h0M1028,795h0M1028.5,794.5h0M1029.5,798h0M1030,804h0M1031,802h0M1031.5,795h0M1032.5,800h0M1033,792h0M1033.5,803h0M1034.5,791.5h0M1035,794h0M1036,802h0M1036.5,805h0M1037.5,789h0M1038,804.5h0M1038.5,790h0M1039.5,801.5h0M1040,795.5h0M1041,793h0M1041.5,799h0M1042.5,801.5h0M1043,795.5h0M1043.5,793.5h0M1044.5,792h0M1045,802.5h0M1046,803.5h0M1046.5,797.5h0M1047.5,798.5h0M1048,800h0M1048.5,791.5h0M1049.5,795h0M1050,800.5h0M1051,796.5h0M1051.5,792.5h0M1052.5,791h0M1053,799h0M1053.5,798.5h0M1054.5,795h0M1055,791.5h0M1056,803h0M1056.5,803.5h0M1057.5,791.5h0M1058,795h0M1058.5,794h0M1059.5,798.5h0M1060,802h0M1061,802.5h0M1061.5,805h0M1062.5,801h0M1063,803.5h0M1063.5,800.5h0M1064.5,806.5h0M1065,801.5h0M1066,802.5h0M1066.5,798h0M1067.5,808.5h0M1068,809h0M1068.5,804h0M1069.5,804.5h0M1070,800h0M1071,796.5h0M1071.5,798.5h0M1072.5,801.5h0M1073,810h0M1073.5,796.5h0M1074.5,798h0M1075,810h0M1076,801.5h0M1076.5,807.5h0M1077.5,806.5h0M1078,800h0M1078.5,795.5h0M1079.5,795h0M1080,808.5h0M1081,810.5h0M1081.5,799h0M1082.5,807h0M1083,803h0M1083.5,806.5h0M1084.5,801.5h0M1085,808h0M1086,812h0M1086.5,803h0M1087.5,808.5h0M1088,798.5h0M1088.5,804h0M1089.5,811h0M1090,799h0M1091,796h0M1091.5,799.5h0M1092.5,800.5h0M1093,808h0M1093.5,797.5h0M1094.5,799h0M1095,808.5h0M1096,801.5h0M1096.5,812h0M1097.5,795h0M1098,797h0M1098.5,798.5h0M1099.5,809h0M1100,804.5h0M1101,810h0M1101.5,800.5h0M1102.5,809h0M1103,795.5h0M1103.5,804h0M1104.5,811h0M1105,799.5h0M1106,797.5h0M1106.5,800.5h0M1107.5,812h0M1108,811.5h0M1109,806.5h0M1109.5,812h0M1110,800h0M1111,807h0M1111.5,804.5h0M1112.5,799h0M1113,797.5h0M1114,806h0M1114.5,803h0M1115,802.5h0M1116,801.5h0M1116.5,799h0M1117.5,811h0M1118,805.5h0M1119,797.5h0M1119.5,803.5h0M1120,800.5h0M1121,802h0M1121.5,809h0M1122.5,812h0M1123,804h0M1124,798.5h0M1124.5,808h0M1125,796h0M1126,806h0M1126.5,803h0M1127.5,801h0M1128,796.5h0M1129,800.5h0M1129.5,797h0M1130,809h0M1131,801.5h0M1131.5,811h0M1132.5,808.5h0M1133,809h0M1134,813h0M1134.5,812.5h0M1135,807h0M1136,805h0M1136.5,804.5h0M1137.5,807h0M1138,804.5h0M1139,801h0M1139.5,804h0M1140,811.5h0M1141,800h0M1141.5,798h0M1142.5,813.5h0M1143,809.5h0M1144,807.5h0M1144.5,803h0M1145,803.5h0M1146,803.5h0M1146.5,798h0M1147.5,809h0M1148,802h0M1149,812.5h0M1149.5,814h0M1150,807.5h0M1151,803h0M1151.5,809.5h0M1152.5,801h0M1153,811.5h0M1154,811h0M1154.5,813h0M1155,799.5h0M1156,807h0M1156.5,813.5h0M1157.5,807h0M1158,807h0M1159,805h0M1159.5,813.5h0M1160,811.5h0M1161,808h0M1161.5,803h0M1162.5,809.5h0M1163,804.5h0M1164,802h0M1164.5,801.5h0M1165,814.5h0M1166,808.5h0M1166.5,807.5h0M1167.5,814.5h0M1168,814.5h0M1169,811.5h0M1169.5,801h0M1170,812h0M1171,816.5h0M1171.5,806h0M1172.5,802.5h0M1173,815.5h0M1174,806.5h0M1174.5,809.5h0M1175,802.5h0M1176,814h0M1176.5,807.5h0M1177.5,808h0M1178,806.5h0M1179,816.5h0M1179.5,815h0M1180,806.5h0M1181,807h0M1181.5,813.5h0M1182.5,815.5h0M1183,804h0M1184,801.5h0M1184.5,811h0M1185,815.5h0M1186,818h0M1186.5,807h0M1187.5,809h0M1188,810.5h0M1189,817h0M1189.5,811.5h0M1190,806h0M1191,805.5h0M1191.5,806h0M1192.5,812.5h0M1193,814h0M1194,814.5h0M1194.5,812h0M1195,806.5h0M1196,818.5h0M1196.5,807h0M1197.5,808h0M1198,815.5h0M1199,804h0M1199.5,811h0M1200,811.5h0M1201,819h0M1201.5,804.5h0M1202.5,812.5h0M1203,819.5h0M1204,809h0M1204.5,815h0M1205,819.5h0M1206,816h0M1206.5,806.5h0M1207.5,807.5h0M1208,813h0M1209,804h0M1209.5,818.5h0M1210,811h0M1211,818h0M1211.5,805.5h0M1212.5,817.5h0M1213,812h0M1214,807.5h0M1214.5,815.5h0M1215,812.5h0M1216,815.5h0M1216.5,810.5h0M1217.5,811.5h0M1218,816.5h0M1219,814.5h0M1219.5,809.5h0M1220,815.5h0M1221,815.5h0M1221.5,807.5h0M1222.5,814.5h0M1223,805h0M1224,820.5h0M1224.5,818h0M1225,815.5h0M1226,820.5h0M1226.5,808.5h0M1227.5,818h0M1228,811h0M1229,814h0M1229.5,820h0M1230,809.5h0M1231,811h0M1231.5,812h0M1232.5,817h0M1233,814h0M1234,817h0M1234.5,813h0M1235,822h0M1236,808.5h0M1236.5,815h0M1237.5,808.5h0M1238,815h0M1239,817h0M1239.5,812h0M1240,811.5h0M1241,809h0M1241.5,819h0M1242.5,817.5h0M1243,813.5h0M1244,809.5h0M1244.5,822h0M1245,815.5h0M1246,821h0M1246.5,819.5h0M1247.5,820.5h0M1248,813h0M1249,819h0M1249.5,820.5h0M1250,816h0M1251,818h0M1251.5,817.5h0M1252.5,814.5h0M1253,819.5h0M1254,811h0M1254.5,819h0M1255,815h0M1256,816h0M1256.5,817.5h0M1257.5,812.5h0M1258,811.5h0M1259,816h0M1259.5,818h0M1260,819h0M1261,822.5h0M1261.5,812h0M1262.5,813.5h0M1263,814h0M1264,823.5h0M1264.5,814.5h0M1265,818.5h0M1266,818h0M1266.5,816.5h0M1267.5,819h0M1268,823h0M1269,815h0M1269.5,814.5h0M1270,822.5h0M1271,815.5h0M1271.5,818h0M1272.5,815.5h0M1273,817h0M1274,824h0M1274.5,822h0M1275,816.5h0M1276,813.5h0M1276.5,825.5h0M1277.5,813h0M1278,821.5h0M1279,824h0M1279.5,816.5h0M1280,820.5h0M1281,826.5h0M1281.5,823.5h0M1282.5,816.5h0M1283,827h0M1284,816.5h0M1284.5,812.5h0M1285,820h0M1286,823.5h0M1286.5,814.5h0M1287.5,811.5h0M1288,826.5h0M1289,825h0M1289.5,824h0M1290,825h0M1291,816h0M1291.5,824.5h0M1292.5,815h0M1293,813h0M1294,814h0M1294.5,823h0M1295.5,827.5h0M1296,827.5h0M1296.5,819h0M1297.5,813.5h0M1298,819.5h0M1299,817h0M1299.5,814.5h0M1300.5,827.5h0M1301,812.5h0M1301.5,816.5h0M1302.5,813.5h0M1303,812h0M1304,812h0M1304.5,829.5h0M1305.5,820.5h0M1306,817h0M1306.5,827.5h0M1307.5,828h0M1308,813h0M1309,814h0M1309.5,827h0M1310.5,826h0M1311,829.5h0M1311.5,827.5h0M1312.5,825.5h0M1313,816h0M1314,814.5h0M1314.5,817.5h0M1315.5,813h0M1316,818h0M1316.5,816h0M1317.5,831h0M1318,815.5h0M1319,829.5h0M1319.5,830h0M1320.5,828h0M1321,828.5h0M1321.5,823h0M1322.5,827h0M1323,815h0M1324,813h0M1324.5,821h0M1325.5,831h0M1326,822.5h0M1326.5,821h0M1327.5,826h0M1328,828h0M1329,818.5h0M1329.5,819.5h0M1330.5,818h0M1331,830h0M1331.5,822.5h0M1332.5,812.5h0M1333,826.5h0M1334,820.5h0M1334.5,817h0M1335.5,831h0M1336,817.5h0M1336.5,833h0M1337.5,826.5h0M1338,831h0M1339,829h0M1339.5,813h0M1340.5,833.5h0M1341,822.5h0M1341.5,814h0M1342.5,817.5h0M1343,817.5h0M1344,820.5h0M1344.5,829h0M1345.5,832.5h0M1346,821h0M1346.5,819.5h0M1347.5,817.5h0M1348,828.5h0M1349,818.5h0M1349.5,828.5h0M1350.5,827.5h0M1351,824.5h0M1351.5,820.5h0M1352.5,818.5h0M1353,823h0M1354,821.5h0M1354.5,824h0M1355.5,832h0M1356,823.5h0M1356.5,813.5h0M1357.5,822h0M1358,824.5h0M1359,833h0M1359.5,827.5h0M1360.5,824h0M1361,823.5h0M1361.5,815h0M1362.5,815h0M1363,832h0M1364,822.5h0M1364.5,818.5h0M1365.5,829.5h0M1366,822h0M1366.5,818.5h0M1367.5,828h0M1368,817.5h0M1369,828.5h0M1369.5,817.5h0M1370.5,826.5h0M1371,829.5h0M1371.5,822.5h0M1372.5,825h0M1373,835h0M1374,822.5h0M1374.5,826h0M1375.5,834.5h0M1376,815h0M1376.5,820.5h0M1377.5,816.5h0M1378,828.5h0M1379,818h0M1379.5,826h0M1380.5,829.5h0M1381,832.5h0M1381.5,826.5h0M1382.5,827h0M1383,819.5h0M1384,822h0M1384.5,819h0M1385.5,823.5h0M1386,825.5h0M1386.5,821h0M1387.5,824h0M1388,814.5h0M1389,817h0M1389.5,827h0M1390.5,823h0M1391,825h0M1391.5,828.5h0M1392.5,826h0M1393,824h0M1394,815h0M1394.5,832.5h0M1395.5,827h0M1396,818.5h0M1396.5,820.5h0M1397.5,835.5h0M1398,830.5h0M1399,831.5h0M1399.5,825.5h0M1400.5,822.5h0M1401,828.5h0M1401.5,818h0M1402.5,835h0M1403,832h0M1404,824.5h0M1404.5,828h0M1405.5,822.5h0M1406,836.5h0M1406.5,825h0M1407.5,828.5h0M1408,826.5h0M1409,823h0M1409.5,828.5h0M1410.5,818h0M1411,832h0M1411.5,818.5h0M1412.5,825.5h0M1413,836.5h0M1414,828.5h0M1414.5,834.5h0M1415.5,820h0M1416,818h0M1416.5,833.5h0M1417.5,836h0M1418,830h0M1419,832h0M1419.5,832h0M1420.5,831.5h0M1421,828h0M1421.5,824.5h0M1422.5,826h0M1423,833h0M1424,832h0M1424.5,818h0M1425.5,825h0M1426,825.5h0M1426.5,825h0M1427.5,821h0M1428,823.5h0M1429,829.5h0M1429.5,822.5h0M1430.5,821.5h0M1431,820.5h0M1431.5,834.5h0M1432.5,830h0M1433,826.5h0M1434,826h0M1434.5,832h0M1435.5,822.5h0M1436,827h0M1436.5,827h0M1437.5,823.5h0M1438,823h0M1439,832h0M1439.5,833h0M1440.5,833.5h0M1441,821.5h0M1441.5,826.5h0M1442.5,820h0M1443,820.5h0M1444,822.5h0M1444.5,829h0M1445.5,819.5h0M1446,835h0M1446.5,820.5h0M1447.5,835h0M1448,829.5h0M1449,820.5h0M1449.5,831.5h0M1450.5,825h0M1451,832h0M1451.5,829.5h0M1452.5,828h0M1453,828.5h0M1454,834.5h0M1454.5,829.5h0M1455.5,828h0M1456,835h0M1456.5,835h0M1457.5,822.5h0M1458,828h0M1459,835h0M1459.5,831h0M1460.5,821.5h0M1461,828.5h0M1461.5,831h0M1462.5,831.5h0M1463,820h0M1464,819.5h0M1464.5,822.5h0M1465.5,825h0M1466,824.5h0M1466.5,830.5h0M1467.5,825.5h0M1468,828h0M1469,831h0M1469.5,828.5h0M1470.5,832h0M1471,826.5h0M1471.5,827h0M1472.5,832.5h0M1473,823h0M1474,823h0M1474.5,823h0M1475.5,824.5h0M1476,824h0M1477,833h0M1477.5,820h0M1478,824.5h0M1479,823.5h0M1479.5,828.5h0M1480.5,828h0M1481,820h0M1482,832.5h0M1482.5,822.5h0M1483,824.5h0M1484,827.5h0M1484.5,824.5h0M1485.5,825h0M1486,831.5h0M1487,827h0M1487.5,830h0M1488,825.5h0M1489,829h0M1489.5,825.5h0M1490.5,828.5h0M1491,829h0M1492,829h0M1492.5,824.5h0M1493,826.5h0M1494,824h0M1494.5,829.5h0M1495.5,830.5h0M1496,823h0M1497,821.5h0M1497.5,822h0M1498,825h0M1499,824h0M1499.5,822h0M1500.5,824.5h0M1501,820.5h0M1502,824h0M1502.5,826.5h0M1503,827.5h0M1504,825.5h0M1504.5,827h0M1505.5,821h0M1506,821h0M1507,823h0M1507.5,824.5h0M1508,823h0M1509,825.5h0M1509.5,822.5h0M1510.5,823.5h0M1511,825h0M1512,821h0M1512.5,822.5h0M1513,824.5h0M1514,826h0M1514.5,824.5h0M1515.5,825h0M1516,822.5h0M1517,826h0M1517.5,824.5h0M1518,818.5h0M1519,822.5h0M1519.5,821h0M1520.5,820h0M1521,820.5h0M1522,823h0M1522.5,824h0M1523,818.5h0M1524,820h0M1524.5,820h0M1525.5,820.5h0M1526,823.5h0M1527,818.5h0M1527.5,819.5h0M1528,822.5h0M1529,820h0M1529.5,824.5h0M1530.5,820h0M1531,824h0M1532,820h0M1532.5,820h0M1533,821h0M1534,820.5h0M1534.5,822.5h0M1535.5,821.5h0M1536,820h0M1537,821h0M1537.5,821h0M1538,821h0M1539,820.5h0M1539.5,820.5h0M1540.5,819h0M1541,818h0M1542,815.5h0M1542.5,812.5h0M1543,809.5h0M1544,813.5h0M1544.5,815.5h0M1545.5,802h0M1546,809.5h0M1547,814.5h0M1547.5,809h0M1548,794.5h0M1549,811h0M1549.5,803.5h0M1550.5,796.5h0M1551,811.5h0M1552,786h0M1552.5,812h0M1553,793.5h0M1554,812h0M1554.5,791.5h0M1555.5,796.5h0M1556,764.5h0M1557,786h0M1557.5,780.5h0M1558,788h0M1559,764.5h0M1559.5,796.5h0M1560.5,780h0M1561,769h0M1562,764h0M1562.5,760h0M1563,772.5h0M1564,768.5h0M1564.5,767.5h0M1565.5,760h0M1566,767h0M1567,761h0M1567.5,766.5h0M1568,766.5h0M1569,767.5h0M1569.5,757.5h0M1570.5,755.5h0M1571,763.5h0M1572,757h0M1572.5,766.5h0M1573,764.5h0M1574,758h0M1574.5,766h0M1575.5,762h0M1576,763.5h0M1577,764h0M1577.5,771h0M1578,765h0M1579,768.5h0M1579.5,764h0M1580.5,766h0M1581,761.5h0M1582,779.5h0M1582.5,776.5h0M1583,786.5h0M1584,783h0M1584.5,780.5h0M1585.5,793h0M1586,788h0M1587,794h0M1587.5,786.5h0M1588,774.5h0M1589,778h0M1589.5,790.5h0M1590.5,799.5h0M1591,793.5h0M1592,791h0M1592.5,793.5h0M1593,785h0M1594,781h0M1594.5,780h0M1595.5,802h0M1596,797h0M1597,804h0M1597.5,809.5h0M1598,789h0M1599,795.5h0M1599.5,792.5h0M1600.5,813h0M1601,807h0M1602,800h0M1602.5,806.5h0M1603,813h0M1604,801h0M1604.5,811h0M1605.5,817.5h0M1606,819.5h0M1607,815h0M1607.5,814.5h0M1608,810.5h0M1609,808h0M1609.5,812.5h0M1610.5,810h0M1611,822.5h0M1612,809h0M1612.5,822.5h0M1613,815.5h0M1614,817h0M1614.5,813h0M1615.5,820h0M1616,812.5h0M1617,817h0M1617.5,822.5h0M1618,811.5h0M1619,819h0M1619.5,811h0M1620.5,815h0M1621,818.5h0M1622,812.5h0M1622.5,824.5h0M1623,821.5h0M1624,825h0M1624.5,823h0M1625.5,816.5h0M1626,828h0M1627,816h0M1627.5,815h0M1628,817h0M1629,819h0M1629.5,827.5h0M1630.5,827h0M1631,823h0M1632,825.5h0M1632.5,824.5h0M1633,826h0M1634,825.5h0M1634.5,826.5h0M1635.5,827h0M1636,824h0M1637,825h0M1637.5,824h0M1638,825.5h0M1639,828.5h0M1639.5,829.5h0M1640.5,828h0M1641,825h0M1642,824.5h0M1642.5,830h0M1643,828h0M1644,830h0M1644.5,829.5h0M1645.5,827.5h0M1646,829.5h0M1647,827h0M1647.5,827.5h0M1648,827.5h0M1649,829.5h0M1649.5,829h0M1650.5,831.5h0M1651,829h0M1652,829h0M1652.5,829h0M1653,830.5h0M1654,831.5h0M1654.5,831h0M1655.5,830.5h0M1656,832.5h0M1657,829.5h0M1657.5,832h0M1658,832h0M1659,829.5h0M1659.5,829.5h0M1660.5,829.5h0M1661,829.5h0M1662,834h0M1662.5,831.5h0M1663.5,830.5h0M1664,830h0M1664.5,831h0M1665.5,830.5h0M1666,831h0M1667,830h0M1667.5,830.5h0M1668.5,829.5h0M1669,832h0M1669.5,831.5h0M1670.5,832h0M1671,834h0M1672,833h0M1672.5,829h0M1673.5,829h0M1674,831h0M1674.5,831h0M1675.5,834h0M1676,831h0M1677,834h0M1677.5,834h0M1678.5,833.5h0M1679,831.5h0M1679.5,831.5h0M1680.5,833.5h0M1681,834.5h0M1682,830.5h0M1682.5,831h0M1683.5,832h0M1684,831h0M1684.5,829.5h0M1685.5,829h0M1686,831h0M1687,831.5h0M1687.5,833.5h0M1688.5,829.5h0M1689,832h0M1689.5,829h0M1690.5,832h0M1691,833h0M1692,832.5h0M1692.5,831h0M1693.5,833h0M1694,833h0M1694.5,831.5h0M1695.5,832.5h0M1696,830.5h0M1697,833h0M1697.5,831.5h0M1698.5,831.5h0M1699,832h0M1699.5,829.5h0M1700.5,831.5h0M1701,829h0M1702,833h0M1702.5,827.5h0M1703.5,829.5h0M1704,830.5h0M1704.5,831.5h0M1705.5,827.5h0M1706,825h0M1707,833h0M1707.5,824.5h0M1708.5,826.5h0M1709,831h0M1709.5,824h0M1710.5,824h0M1711,830h0M1712,829h0M1712.5,823h0M1713.5,823h0M1714,824.5h0M1714.5,821.5h0M1715.5,826.5h0M1716,830h0M1717,833.5h0M1717.5,825.5h0M1718.5,833h0M1719,820h0M1719.5,832.5h0M1720.5,819h0M1721,831.5h0M1722,829.5h0M1722.5,821.5h0M1723.5,821.5h0M1724,835h0M1724.5,826.5h0M1725.5,831h0M1726,820h0M1727,827.5h0M1727.5,827h0M1728.5,819.5h0M1729,825.5h0M1729.5,829.5h0M1730.5,822.5h0M1731,834h0M1732,831.5h0M1732.5,831.5h0M1733.5,819h0M1734,827.5h0M1734.5,827h0M1735.5,829h0M1736,835h0M1737,823.5h0M1737.5,821h0M1738.5,821.5h0M1739,815.5h0M1739.5,826.5h0M1740.5,815.5h0M1741,826.5h0M1742,819.5h0M1742.5,834h0M1743.5,832h0M1744,832.5h0M1744.5,815h0M1745.5,826.5h0M1746,825.5h0M1747,824.5h0M1747.5,829.5h0M1748.5,822.5h0M1749,833h0M1749.5,822h0M1750.5,819h0M1751,816h0M1752,825h0M1752.5,816.5h0M1753.5,834h0M1754,825.5h0M1754.5,825.5h0M1755.5,830h0M1756,826.5h0M1757,814h0M1757.5,825h0M1758.5,829h0M1759,814.5h0M1759.5,830h0M1760.5,818h0M1761,834h0M1762,814.5h0M1762.5,811.5h0M1763.5,816.5h0M1764,824.5h0M1764.5,813h0M1765.5,816.5h0M1766,821h0M1767,829h0M1767.5,829h0M1768.5,832h0M1769,825.5h0M1769.5,821h0M1770.5,817.5h0M1771,817h0M1772,810h0M1772.5,828h0M1773.5,812.5h0M1774,822h0M1774.5,815.5h0M1775.5,825h0M1776,818.5h0M1777,827.5h0M1777.5,825h0M1778.5,819.5h0M1779,824h0M1779.5,814h0M1780.5,812.5h0M1781,810h0M1782,812h0M1782.5,828h0M1783.5,815h0M1784,804.5h0M1784.5,812h0M1785.5,828h0M1786,814.5h0M1787,818h0M1787.5,807.5h0M1788.5,807.5h0M1789,822h0M1789.5,802h0M1790.5,817.5h0M1791,826h0M1792,815h0M1792.5,807h0M1793.5,817.5h0M1794,801.5h0M1794.5,802h0M1795.5,813.5h0M1796,806.5h0M1797,816h0M1797.5,801.5h0M1798.5,805.5h0M1799,803h0M1799.5,820h0M1800.5,821.5h0M1801,819h0M1802,820.5h0M1802.5,823h0M1803.5,804.5h0M1804,825.5h0M1804.5,804.5h0M1805.5,816.5h0M1806,820.5h0M1807,816.5h0M1807.5,815.5h0M1808.5,805h0M1809,806.5h0M1809.5,817h0M1810.5,822h0M1811,824.5h0M1812,823.5h0M1812.5,824h0M1813.5,811h0M1814,807.5h0M1814.5,813.5h0M1815.5,816.5h0M1816,810.5h0M1817,811.5h0M1817.5,814h0M1818.5,825.5h0M1819,819h0M1819.5,812h0M1820.5,825.5h0M1821,814.5h0M1822,816h0M1822.5,822.5h0M1823.5,825h0M1824,812h0M1824.5,811h0M1825.5,823h0M1826,810.5h0M1827,817.5h0M1827.5,817.5h0M1828.5,818.5h0M1829,825h0M1829.5,822h0M1830.5,812.5h0M1831,826.5h0M1832,822.5h0M1832.5,821h0M1833.5,827h0M1834,817.5h0M1834.5,814h0M1835.5,822.5h0M1836,815h0M1837,817.5h0M1837.5,827h0M1838.5,812.5h0M1839,827h0M1839.5,814.5h0M1840.5,819h0M1841,812h0M1842,822.5h0M1842.5,818h0M1843.5,820h0M1844,816.5h0M1845,813.5h0M1845.5,818h0M1846,824.5h0M1847,823h0M1847.5,824h0M1848.5,823.5h0M1849,813h0M1850,820h0M1850.5,811h0M1851,824h0M1852,814.5h0M1852.5,825.5h0M1853.5,823h0M1854,813h0M1855,824.5h0M1855.5,819h0M1856,826.5h0M1857,826.5h0M1857.5,820h0M1858.5,819h0M1859,821.5h0M1860,820h0M1860.5,820.5h0M1861,823h0M1862,821.5h0M1862.5,826h0M1863.5,821h0M1864,812h0M1865,823.5h0M1865.5,818h0M1866,824.5h0M1867,819.5h0M1867.5,817.5h0M1868.5,824h0M1869,817.5h0M1870,814h0M1870.5,824.5h0M1871,815h0M1872,826.5h0M1872.5,813.5h0M1873.5,812h0M1874,824h0M1875,824h0M1875.5,816h0M1876,823.5h0M1877,813.5h0M1877.5,818.5h0M1878.5,824.5h0M1879,814.5h0M1880,814h0M1880.5,825.5h0M1881,825.5h0M1882,817.5h0M1882.5,814.5h0M1883.5,817.5h0M1884,822h0M1885,818h0M1885.5,823h0M1886,827h0M1887,819.5h0M1887.5,827.5h0M1888.5,825.5h0M1889,822.5h0M1890,818h0M1890.5,825h0M1891,827h0M1892,816.5h0M1892.5,824.5h0M1893.5,821h0M1894,826.5h0M1895,815.5h0M1895.5,826h0M1896,827.5h0M1897,819h0M1897.5,816.5h0M1898.5,820.5h0M1899,829h0M1900,826.5h0M1900.5,830h0M1901,818h0M1902,821.5h0M1902.5,831h0M1903.5,817.5h0M1904,821h0M1905,827.5h0M1905.5,820.5h0M1906,830h0M1907,831.5h0M1907.5,817h0M1908.5,819.5h0M1909,825h0M1910,828.5h0M1910.5,821.5h0M1911,822h0M1912,819.5h0M1912.5,831h0M1913.5,832h0M1914,819.5h0M1915,825h0M1915.5,820.5h0M1916,822h0M1917,823.5h0M1917.5,828h0M1918.5,819h0M1919,833.5h0M1920,831h0M1920.5,818.5h0M1921,818h0M1922,829.5h0M1922.5,828h0M1923.5,826.5h0M1924,829.5h0M1925,831.5h0M1925.5,831h0M1926,835h0M1927,825.5h0M1927.5,825.5h0M1928.5,822h0M1929,818.5h0M1930,835h0M1930.5,824h0M1931,825.5h0M1932,832h0M1932.5,823.5h0M1933.5,824h0M1934,829.5h0M1935,832h0M1935.5,832.5h0M1936,826.5h0M1937,829.5h0M1937.5,819h0M1938.5,835h0M1939,824h0M1940,819h0M1940.5,825h0M1941,821.5h0M1942,823h0M1942.5,838h0M1943.5,833h0M1944,827.5h0M1945,832h0M1945.5,831h0M1946,824h0M1947,829.5h0M1947.5,825h0M1948.5,819h0M1949,840h0M1950,830h0M1950.5,823h0M1951,830.5h0M1952,833.5h0M1952.5,824h0M1953.5,828.5h0M1954,820.5h0M1955,825h0M1955.5,829.5h0M1956,840h0M1957,842h0M1957.5,826.5h0M1958.5,826h0M1959,819h0M1960,818.5h0M1960.5,833.5h0M1961,840h0M1962,831h0M1962.5,834.5h0M1963.5,829.5h0M1964,823h0M1965,843.5h0M1965.5,843.5h0M1966,828h0M1967,825.5h0M1967.5,835.5h0M1968.5,827h0M1969,840.5h0M1970,826.5h0M1970.5,826.5h0M1971,826h0M1972,824h0M1972.5,834h0M1973.5,843h0M1974,830h0M1975,823.5h0M1975.5,824.5h0M1976,836h0M1977,828.5h0M1977.5,827h0M1978.5,827h0M1979,829.5h0M1980,827h0M1980.5,847.5h0M1981,826.5h0M1982,846.5h0M1982.5,843h0M1983.5,830.5h0M1984,840h0M1985,834.5h0M1985.5,835.5h0M1986,835.5h0M1987,844.5h0M1987.5,831.5h0M1988.5,844.5h0M1989,833h0M1990,840h0M1990.5,850h0M1991,840.5h0M1992,831h0M277,703h0M278,704h0M280,706h0M282,708h0M284,709h0M286,711h0M695,741.5h0M869,768h0M909,771h0M959,777h0M1105,790h0M1165,795h0M1307,803h0" stroke="#000" stroke-width="11.5" stroke-linecap="round" fill="none"/>
<path d="M277,780.1l6.7,11.7h-13.4zM278,780.1l6.7,11.7h-13.4zM278,777.1l6.7,11.7h-13.4zM279,772.1l6.7,11.7h-13.4zM279,781.1l6.7,11.7h-13.4zM280,778.1l6.7,11.7h-13.4zM280,775.1l6.7,11.7h-13.4zM281,777.1l6.7,11.7h-13.4zM282,777.1l6.7,11.7h-13.4zM282,773.1l6.7,11.7h-13.4zM283,774.1l6.7,11.7h-13.4zM283,777.1l6.7,11.7h-13.4zM284,775.1l6.7,11.7h-13.4zM284,781.1l6.7,11.7h-13.4zM285,777.1l6.7,11.7h-13.4zM286,774.1l6.7,11.7h-13.4zM286,777.1l6.7,11.7h-13.4zM287,777.1l6.7,11.7h-13.4zM287,777.1l6.7,11.7h-13.4zM288,779.1l6.7,11.7h-13.4zM288,776.1l6.7,11.7h-13.4zM289,778.1l6.7,11.7h-13.4zM290,772.1l6.7,11.7h-13.4zM290,778.1l6.7,11.7h-13.4zM291,781.1l6.7,11.7h-13.4zM291,777.1l6.7,11.7h-13.4zM292,776.1l6.7,11.7h-13.4zM292,773.1l6.7,11.7h-13.4zM293,781.1l6.7,11.7h-13.4zM294,775.1l6.7,11.7h-13.4zM294,778.1l6.7,11.7h-13.4zM295,777.1l6.7,11.7h-13.4zM295,774.1l6.7,11.7h-13.4zM296,771.1l6.7,11.7h-13.4zM296,780.1l6.7,11.7h-13.4zM297,775.1l6.7,11.7h-13.4zM298,779.1l6.7,11.7h-13.4zM298,776.1l6.7,11.7h-13.4zM299,777.1l6.7,11.7h-13.4zM299,776.1l6.7,11.7h-13.4zM300,776.1l6.7,11.7h-13.4zM300,774.1l6.7,11.7h-13.4zM301,779.1l6.7,11.7h-13.4zM302,775.1l6.7,11.7h-13.4zM302,777.1l6.7,11.7h-13.4zM303,772.1l6.7,11.7h-13.4zM303,779.1l6.7,11.7h-13.4zM304,777.1l6.7,11.7h-13.4zM304,774.1l6.7,11.7h-13.4zM305,776.1l6.7,11.7h-13.4zM306,776.1l6.7,11.7h-13.4zM306,777.1l6.7,11.7h-13.4zM307,782.1l6.7,11.7h-13.4zM307,779.1l6.7,11.7h-13.4zM308,779.1l6.7,11.7h-13.4zM308,777.1l6.7,11.7h-13.4zM309,777.1l6.7,11.7h-13.4zM310,778.1l6.7,11.7h-13.4zM310,778.1l6.7,11.7h-13.4zM311,775.1l6.7,11.7h-13.4zM311,776.1l6.7,11.7h-13.4zM312,778.1l6.7,11.7h-13.4zM312,775.1l6.7,11.7h-13.4zM313,780.1l6.7,11.7h-13.4zM314,780.1l6.7,11.7h-13.4zM314,778.1l6.7,11.7h-13.4zM315,774.1l6.7,11.7h-13.4zM315,775.1l6.7,11.7h-13.4zM316,765.1l6.7,11.7h-13.4zM316,770.1l6.7,11.7h-13.4zM317,779.1l6.7,11.7h-13.4zM318,773.1l6.7,11.7h-13.4zM318,766.1l6.7,11.7h-13.4zM319,768.1l6.7,11.7h-13.4zM319,756.1l6.7,11.7h-13.4zM320,763.1l6.7,11.7h-13.4zM320,765.1l6.7,11.7h-13.4zM321,769.1l6.7,11.7h-13.4zM322,758.1l6.7,11.7h-13.4zM322,771.1l6.7,11.7h-13.4zM323,748.1l6.7,11.7h-13.4zM323,769.1l6.7,11.7h-13.4zM324,769.1l6.7,11.7h-13.4zM324,748.1l6.7,11.7h-13.4zM325,751.1l6.7,11.7h-13.4zM326,742.1l6.7,11.7h-13.4zM326,747.1l6.7,11.7h-13.4zM327,751.1l6.7,11.7h-13.4zM327,753.1l6.7,11.7h-13.4zM328,757.1l6.7,11.7h-13.4zM328,763.1l6.7,11.7h-13.4zM329,737.1l6.7,11.7h-13.4zM330,753.1l6.7,11.7h-13.4zM330,748.1l6.7,11.7h-13.4zM331,744.1l6.7,11.7h-13.4zM331,746.1l6.7,11.7h-13.4zM332,738.1l6.7,11.7h-13.4zM332,748.1l6.7,11.7h-13.4zM333,752.1l6.7,11.7h-13.4zM334,735.1l6.7,11.7h-13.4zM334,746.1l6.7,11.7h-13.4zM335,753.1l6.7,11.7h-13.4zM335,757.1l6.7,11.7h-13.4zM336,739.1l6.7,11.7h-13.4zM336,754.1l6.7,11.7h-13.4zM337,748.1l6.7,11.7h-13.4zM338,734.1l6.7,11.7h-13.4zM338,738.1l6.7,11.7h-13.4zM339,753.1l6.7,11.7h-13.4zM339,737.1l6.7,11.7h-13.4zM340,751.1l6.7,11.7h-13.4zM340,742.1l6.7,11.7h-13.4zM341,745.1l6.7,11.7h-13.4zM342,735.1l6.7,11.7h-13.4zM342,757.1l6.7,11.7h-13.4zM343,740.1l6.7,11.7h-13.4zM343,743.1l6.7,11.7h-13.4zM344,735.1l6.7,11.7h-13.4zM344,738.1l6.7,11.7h-13.4zM345,744.1l6.7,11.7h-13.4zM346,744.1l6.7,11.7h-13.4zM346,757.1l6.7,11.7h-13.4zM347,741.1l6.7,11.7h-13.4zM347,741.1l6.7,11.7h-13.4zM348,743.1l6.7,11.7h-13.4zM348,736.1l6.7,11.7h-13.4zM349,740.1l6.7,11.7h-13.4zM350,744.1l6.7,11.7h-13.4zM350,746.1l6.7,11.7h-13.4zM351,744.1l6.7,11.7h-13.4zM351,733.1l6.7,11.7h-13.4zM352,740.1l6.7,11.7h-13.4zM352,755.1l6.7,11.7h-13.4zM353,748.1l6.7,11.7h-13.4zM354,747.1l6.7,11.7h-13.4zM354,751.1l6.7,11.7h-13.4zM355,738.1l6.7,11.7h-13.4zM355,741.1l6.7,11.7h-13.4zM356,755.1l6.7,11.7h-13.4zM356,745.1l6.7,11.7h-13.4zM357,748.1l6.7,11.7h-13.4zM358,748.1l6.7,11.7h-13.4zM358,738.1l6.7,11.7h-13.4zM359,743.1l6.7,11.7h-13.4zM359,749.1l6.7,11.7h-13.4zM360,742.1l6.7,11.7h-13.4zM360,749.1l6.7,11.7h-13.4zM361,734.1l6.7,11.7h-13.4zM362,743.1l6.7,11.7h-13.4zM362,742.1l6.7,11.7h-13.4zM363,740.1l6.7,11.7h-13.4zM363,747.1l6.7,11.7h-13.4zM364,750.1l6.7,11.7h-13.4zM364,747.1l6.7,11.7h-13.4zM365,736.1l6.7,11.7h-13.4zM366,746.1l6.7,11.7h-13.4zM366,739.1l6.7,11.7h-13.4zM367,746.1l6.7,11.7h-13.4zM367,745.1l6.7,11.7h-13.4zM368,745.1l6.7,11.7h-13.4zM368,742.1l6.7,11.7h-13.4zM369,736.1l6.7,11.7h-13.4zM370,737.1l6.7,11.7h-13.4zM370,752.1l6.7,11.7h-13.4zM371,754.1l6.7,11.7h-13.4zM371,737.1l6.7,11.7h-13.4zM372,737.1l6.7,11.7h-13.4zM372,746.1l6.7,11.7h-13.4zM373,744.1l6.7,11.7h-13.4zM374,738.1l6.7,11.7h-13.4zM374,743.1l6.7,11.7h-13.4zM375,740.1l6.7,11.7h-13.4zM375,752.1l6.7,11.7h-13.4zM376,737.1l6.7,11.7h-13.4zM376,740.1l6.7,11.7h-13.4zM377,734.1l6.7,11.7h-13.4zM378,737.1l6.7,11.7h-13.4zM378,733.1l6.7,11.7h-13.4zM379,742.1l6.7,11.7h-13.4zM379,744.1l6.7,11.7h-13.4zM380,733.1l6.7,11.7h-13.4zM380,736.1l6.7,11.7h-13.4zM381,729.1l6.7,11.7h-13.4zM382,740.1l6.7,11.7h-13.4zM382,741.1l6.7,11.7h-13.4zM383,751.1l6.7,11.7h-13.4zM383,750.1l6.7,11.7h-13.4zM384,735.1l6.7,11.7h-13.4zM384,751.1l6.7,11.7h-13.4zM385,742.1l6.7,11.7h-13.4zM386,741.1l6.7,11.7h-13.4zM386,745.1l6.7,11.7h-13.4zM387,740.1l6.7,11.7h-13.4zM387,746.1l6.7,11.7h-13.4zM388,741.1l6.7,11.7h-13.4zM388,742.1l6.7,11.7h-13.4zM389,744.1l6.7,11.7h-13.4zM390,740.1l6.7,11.7h-13.4zM390,738.1l6.7,11.7h-13.4zM391,744.1l6.7,11.7h-13.4zM391,728.1l6.7,11.7h-13.4zM392,745.1l6.7,11.7h-13.4zM392,735.1l6.7,11.7h-13.4zM393,730.1l6.7,11.7h-13.4zM394,732.1l6.7,11.7h-13.4zM394,752.1l6.7,11.7h-13.4zM395,739.1l6.7,11.7h-13.4zM395,748.1l6.7,11.7h-13.4zM396,740.1l6.7,11.7h-13.4zM396,739.1l6.7,11.7h-13.4zM397,745.1l6.7,11.7h-13.4zM398,747.1l6.7,11.7h-13.4zM398,734.1l6.7,11.7h-13.4zM399,731.1l6.7,11.7h-13.4zM399,734.1l6.7,11.7h-13.4zM400,750.1l6.7,11.7h-13.4zM400,743.1l6.7,11.7h-13.4zM401,740.1l6.7,11.7h-13.4zM402,747.1l6.7,11.7h-13.4zM402,745.1l6.7,11.7h-13.4zM403,735.1l6.7,11.7h-13.4zM403,751.1l6.7,11.7h-13.4zM404,744.1l6.7,11.7h-13.4zM404,741.1l6.7,11.7h-13.4zM405,729.1l6.7,11.7h-13.4zM406,733.1l6.7,11.7h-13.4zM406,743.1l6.7,11.7h-13.4zM407,749.1l6.7,11.7h-13.4zM407,751.1l6.7,11.7h-13.4zM408,754.1l6.7,11.7h-13.4zM408,732.1l6.7,11.7h-13.4zM409,736.1l6.7,11.7h-13.4zM410,731.1l6.7,11.7h-13.4zM410,731.1l6.7,11.7h-13.4zM411,732.1l6.7,11.7h-13.4zM411,746.1l6.7,11.7h-13.4zM412,742.1l6.7,11.7h-13.4zM412,733.1l6.7,11.7h-13.4zM413,736.1l6.7,11.7h-13.4zM414,731.1l6.7,11.7h-13.4zM414,736.1l6.7,11.7h-13.4zM415,743.1l6.7,11.7h-13.4zM415,732.1l6.7,11.7h-13.4zM416,745.1l6.7,11.7h-13.4zM416,746.1l6.7,11.7h-13.4zM417,736.1l6.7,11.7h-13.4zM418,741.1l6.7,11.7h-13.4zM418,742.1l6.7,11.7h-13.4zM419,735.1l6.7,11.7h-13.4zM419,731.1l6.7,11.7h-13.4zM420,746.1l6.7,11.7h-13.4zM420,749.1l6.7,11.7h-13.4zM421,731.1l6.7,11.7h-13.4zM422,736.1l6.7,11.7h-13.4zM422,744.1l6.7,11.7h-13.4zM423,742.1l6.7,11.7h-13.4zM423,753.1l6.7,11.7h-13.4zM424,751.1l6.7,11.7h-13.4zM424,743.1l6.7,11.7h-13.4zM425,739.1l6.7,11.7h-13.4zM426,748.1l6.7,11.7h-13.4zM426,749.1l6.7,11.7h-13.4zM427,744.1l6.7,11.7h-13.4zM427,740.1l6.7,11.7h-13.4zM428,752.1l6.7,11.7h-13.4zM428,742.1l6.7,11.7h-13.4zM429,729.1l6.7,11.7h-13.4zM430,753.1l6.7,11.7h-13.4zM430,734.1l6.7,11.7h-13.4zM431,731.1l6.7,11.7h-13.4zM431,748.1l6.7,11.7h-13.4zM432,744.1l6.7,11.7h-13.4zM432,741.1l6.7,11.7h-13.4zM433,739.1l6.7,11.7h-13.4zM434,735.1l6.7,11.7h-13.4zM434,751.1l6.7,11.7h-13.4zM435,730.1l6.7,11.7h-13.4zM435,738.1l6.7,11.7h-13.4zM436,753.1l6.7,11.7h-13.4zM436,746.1l6.7,11.7h-13.4zM437,752.1l6.7,11.7h-13.4zM438,743.1l6.7,11.7h-13.4zM438,741.1l6.7,11.7h-13.4zM439,735.1l6.7,11.7h-13.4zM439,742.1l6.7,11.7h-13.4zM440,745.1l6.7,11.7h-13.4zM440,742.1l6.7,11.7h-13.4zM441,747.1l6.7,11.7h-13.4zM442,743.1l6.7,11.7h-13.4zM442,754.1l6.7,11.7h-13.4zM443,733.1l6.7,11.7h-13.4zM443,746.1l6.7,11.7h-13.4zM444,743.1l6.7,11.7h-13.4zM444,735.1l6.7,11.7h-13.4zM445,748.1l6.7,11.7h-13.4zM446,740.1l6.7,11.7h-13.4zM446,735.1l6.7,11.7h-13.4zM447,734.1l6.7,11.7h-13.4zM447,742.1l6.7,11.7h-13.4zM448,734.1l6.7,11.7h-13.4zM448,751.1l6.7,11.7h-13.4zM449,728.1l6.7,11.7h-13.4zM450,738.1l6.7,11.7h-13.4zM450,742.1l6.7,11.7h-13.4zM451,733.1l6.7,11.7h-13.4zM451,736.1l6.7,11.7h-13.4zM452,739.1l6.7,11.7h-13.4zM452,751.1l6.7,11.7h-13.4zM453,750.1l6.7,11.7h-13.4zM454,738.1l6.7,11.7h-13.4zM454,733.1l6.7,11.7h-13.4zM455,752.1l6.7,11.7h-13.4zM455,737.1l6.7,11.7h-13.4zM456,754.1l6.7,11.7h-13.4zM456,748.1l6.7,11.7h-13.4zM457,753.1l6.7,11.7h-13.4zM458,746.1l6.7,11.7h-13.4zM458,746.1l6.7,11.7h-13.4zM459,734.1l6.7,11.7h-13.4zM459,736.1l6.7,11.7h-13.4zM460,743.1l6.7,11.7h-13.4zM460,751.1l6.7,11.7h-13.4zM461,749.1l6.7,11.7h-13.4zM462,739.1l6.7,11.7h-13.4zM462,753.1l6.7,11.7h-13.4zM463,749.1l6.7,11.7h-13.4zM463,738.1l6.7,11.7h-13.4zM464,738.1l6.7,11.7h-13.4zM465,739.1l6.7,11.7h-13.4zM465,742.1l6.7,11.7h-13.4zM466,749.1l6.7,11.7h-13.4zM466,748.1l6.7,11.7h-13.4zM467,748.1l6.7,11.7h-13.4zM467,739.1l6.7,11.7h-13.4zM468,739.1l6.7,11.7h-13.4zM469,740.1l6.7,11.7h-13.4zM469,742.1l6.7,11.7h-13.4zM470,745.1l6.7,11.7h-13.4zM470,743.1l6.7,11.7h-13.4zM471,747.1l6.7,11.7h-13.4zM471,743.1l6.7,11.7h-13.4zM472,749.1l6.7,11.7h-13.4zM473,746.1l6.7,11.7h-13.4zM473,743.1l6.7,11.7h-13.4zM474,736.1l6.7,11.7h-13.4zM474,755.1l6.7,11.7h-13.4zM475,732.1l6.7,11.7h-13.4zM475,738.1l6.7,11.7h-13.4zM476,740.1l6.7,11.7h-13.4zM477,733.1l6.7,11.7h-13.4zM477,742.1l6.7,11.7h-13.4zM478,744.1l6.7,11.7h-13.4zM478,741.1l6.7,11.7h-13.4zM479,749.1l6.7,11.7h-13.4zM479,753.1l6.7,11.7h-13.4zM480,734.1l6.7,11.7h-13.4zM481,737.1l6.7,11.7h-13.4zM481,740.1l6.7,11.7h-13.4zM482,749.1l6.7,11.7h-13.4zM482,734.1l6.7,11.7h-13.4zM483,733.1l6.7,11.7h-13.4zM483,739.1l6.7,11.7h-13.4zM484,740.1l6.7,11.7h-13.4zM485,733.1l6.7,11.7h-13.4zM485,733.1l6.7,11.7h-13.4zM486,739.1l6.7,11.7h-13.4zM486,751.1l6.7,11.7h-13.4zM487,748.1l6.7,11.7h-13.4zM487,743.1l6.7,11.7h-13.4zM488,741.1l6.7,11.7h-13.4zM489,738.1l6.7,11.7h-13.4zM489,736.1l6.7,11.7h-13.4zM490,743.1l6.7,11.7h-13.4zM490,743.1l6.7,11.7h-13.4zM491,745.1l6.7,11.7h-13.4zM491,738.1l6.7,11.7h-13.4zM492,752.1l6.7,11.7h-13.4zM493,736.1l6.7,11.7h-13.4zM493,735.1l6.7,11.7h-13.4zM494,746.1l6.7,11.7h-13.4zM494,750.1l6.7,11.7h-13.4zM495,745.1l6.7,11.7h-13.4zM495,742.1l6.7,11.7h-13.4zM496,741.1l6.7,11.7h-13.4zM497,744.1l6.7,11.7h-13.4zM497,740.1l6.7,11.7h-13.4zM498,743.1l6.7,11.7h-13.4zM498,746.1l6.7,11.7h-13.4zM499,752.1l6.7,11.7h-13.4zM499,747.1l6.7,11.7h-13.4zM500,749.1l6.7,11.7h-13.4zM501,739.1l6.7,11.7h-13.4zM501,742.1l6.7,11.7h-13.4zM502,749.1l6.7,11.7h-13.4zM502,751.1l6.7,11.7h-13.4zM503,741.1l6.7,11.7h-13.4zM503,744.1l6.7,11.7h-13.4zM504,738.1l6.7,11.7h-13.4zM505,739.1l6.7,11.7h-13.4zM505,738.1l6.7,11.7h-13.4zM506,750.1l6.7,11.7h-13.4zM506,733.1l6.7,11.7h-13.4zM507,739.1l6.7,11.7h-13.4zM507,743.1l6.7,11.7h-13.4zM508,746.1l6.7,11.7h-13.4zM509,743.1l6.7,11.7h-13.4zM509,745.1l6.7,11.7h-13.4zM510,746.1l6.7,11.7h-13.4zM510,742.1l6.7,11.7h-13.4zM511,750.1l6.7,11.7h-13.4zM511,741.1l6.7,11.7h-13.4zM512,754.1l6.7,11.7h-13.4zM513,746.1l6.7,11.7h-13.4zM513,743.1l6.7,11.7h-13.4zM514,753.1l6.7,11.7h-13.4zM514,740.1l6.7,11.7h-13.4zM515,741.1l6.7,11.7h-13.4zM515,751.1l6.7,11.7h-13.4zM516,742.1l6.7,11.7h-13.4zM517,734.1l6.7,11.7h-13.4zM517,748.1l6.7,11.7h-13.4zM518,741.1l6.7,11.7h-13.4zM518,739.1l6.7,11.7h-13.4zM519,749.1l6.7,11.7h-13.4zM519,745.1l6.7,11.7h-13.4zM520,755.1l6.7,11.7h-13.4zM521,745.1l6.7,11.7h-13.4zM521,742.1l6.7,11.7h-13.4zM522,736.1l6.7,11.7h-13.4zM522,750.1l6.7,11.7h-13.4zM523,745.1l6.7,11.7h-13.4zM523,734.1l6.7,11.7h-13.4zM524,743.1l6.7,11.7h-13.4zM525,737.1l6.7,11.7h-13.4zM525,744.1l6.7,11.7h-13.4zM526,745.1l6.7,11.7h-13.4zM526,746.1l6.7,11.7h-13.4zM527,755.1l6.7,11.7h-13.4zM527,748.1l6.7,11.7h-13.4zM528,733.1l6.7,11.7h-13.4zM529,736.1l6.7,11.7h-13.4zM529,749.1l6.7,11.7h-13.4zM530,737.1l6.7,11.7h-13.4zM530,746.1l6.7,11.7h-13.4zM531,747.1l6.7,11.7h-13.4zM531,737.1l6.7,11.7h-13.4zM532,740.1l6.7,11.7h-13.4zM533,749.1l6.7,11.7h-13.4zM533,744.1l6.7,11.7h-13.4zM534,747.1l6.7,11.7h-13.4zM534,741.1l6.7,11.7h-13.4zM535,746.1l6.7,11.7h-13.4zM535,740.1l6.7,11.7h-13.4zM536,742.1l6.7,11.7h-13.4zM537,737.1l6.7,11.7h-13.4zM537,749.1l6.7,11.7h-13.4zM538,748.1l6.7,11.7h-13.4zM538,736.1l6.7,11.7h-13.4zM539,754.1l6.7,11.7h-13.4zM539,746.1l6.7,11.7h-13.4zM540,744.1l6.7,11.7h-13.4zM541,746.1l6.7,11.7h-13.4zM541,745.1l6.7,11.7h-13.4zM542,752.1l6.7,11.7h-13.4zM542,749.1l6.7,11.7h-13.4zM543,743.1l6.7,11.7h-13.4zM543,734.1l6.7,11.7h-13.4zM544,747.1l6.7,11.7h-13.4zM545,738.1l6.7,11.7h-13.4zM545,751.1l6.7,11.7h-13.4zM546,744.1l6.7,11.7h-13.4zM546,741.1l6.7,11.7h-13.4zM547,753.1l6.7,11.7h-13.4zM547,749.1l6.7,11.7h-13.4zM548,742.1l6.7,11.7h-13.4zM549,738.1l6.7,11.7h-13.4zM549,750.1l6.7,11.7h-13.4zM550,737.1l6.7,11.7h-13.4zM550,748.1l6.7,11.7h-13.4zM551,751.1l6.7,11.7h-13.4zM551,743.1l6.7,11.7h-13.4zM552,736.1l6.7,11.7h-13.4zM553,746.1l6.7,11.7h-13.4zM553,748.1l6.7,11.7h-13.4zM554,755.1l6.7,11.7h-13.4zM554,748.1l6.7,11.7h-13.4zM555,743.1l6.7,11.7h-13.4zM555,747.1l6.7,11.7h-13.4zM556,745.1l6.7,11.7h-13.4zM557,744.1l6.7,11.7h-13.4zM557,743.1l6.7,11.7h-13.4zM558,748.1l6.7,11.7h-13.4zM558,741.1l6.7,11.7h-13.4zM559,752.1l6.7,11.7h-13.4zM559,737.1l6.7,11.7h-13.4zM560,746.1l6.7,11.7h-13.4zM561,750.1l6.7,11.7h-13.4zM561,744.1l6.7,11.7h-13.4zM562,745.1l6.7,11.7h-13.4zM562,740.1l6.7,11.7h-13.4zM563,746.1l6.7,11.7h-13.4zM563,749.1l6.7,11.7h-13.4zM564,738.1l6.7,11.7h-13.4zM565,746.1l6.7,11.7h-13.4zM565,747.1l6.7,11.7h-13.4zM566,745.1l6.7,11.7h-13.4zM566,733.1l6.7,11.7h-13.4zM567,739.1l6.7,11.7h-13.4zM567,744.1l6.7,11.7h-13.4zM568,755.1l6.7,11.7h-13.4zM569,755.1l6.7,11.7h-13.4zM569,734.1l6.7,11.7h-13.4zM570,733.1l6.7,11.7h-13.4zM570,743.1l6.7,11.7h-13.4zM571,747.1l6.7,11.7h-13.4zM571,739.1l6.7,11.7h-13.4zM572,755.1l6.7,11.7h-13.4zM573,751.1l6.7,11.7h-13.4zM573,755.1l6.7,11.7h-13.4zM574,751.1l6.7,11.7h-13.4zM574,741.1l6.7,11.7h-13.4zM575,735.1l6.7,11.7h-13.4zM575,750.1l6.7,11.7h-13.4zM576,746.1l6.7,11.7h-13.4zM577,750.1l6.7,11.7h-13.4zM577,742.1l6.7,11.7h-13.4zM578,749.1l6.7,11.7h-13.4zM578,749.1l6.7,11.7h-13.4zM579,754.1l6.7,11.7h-13.4zM579,744.1l6.7,11.7h-13.4zM580,756.1l6.7,11.7h-13.4zM581,738.1l6.7,11.7h-13.4zM581,739.1l6.7,11.7h-13.4zM582,754.1l6.7,11.7h-13.4zM582,741.1l6.7,11.7h-13.4zM583,737.1l6.7,11.7h-13.4zM583,741.1l6.7,11.7h-13.4zM584,740.1l6.7,11.7h-13.4zM585,751.1l6.7,11.7h-13.4zM585,738.1l6.7,11.7h-13.4zM586,743.1l6.7,11.7h-13.4zM586,745.1l6.7,11.7h-13.4zM587,751.1l6.7,11.7h-13.4zM587,743.1l6.7,11.7h-13.4zM588,748.1l6.7,11.7h-13.4zM589,752.1l6.7,11.7h-13.4zM589,753.1l6.7,11.7h-13.4zM590,744.1l6.7,11.7h-13.4zM590,746.1l6.7,11.7h-13.4zM591,751.1l6.7,11.7h-13.4zM591,751.1l6.7,11.7h-13.4zM592,750.1l6.7,11.7h-13.4zM593,754.1l6.7,11.7h-13.4zM593,742.1l6.7,11.7h-13.4zM594,748.1l6.7,11.7h-13.4zM594,747.1l6.7,11.7h-13.4zM595,753.1l6.7,11.7h-13.4zM595,753.1l6.7,11.7h-13.4zM596,756.1l6.7,11.7h-13.4zM597,746.1l6.7,11.7h-13.4zM597,744.1l6.7,11.7h-13.4zM598,742.1l6.7,11.7h-13.4zM598,734.1l6.7,11.7h-13.4zM599,744.1l6.7,11.7h-13.4zM599,748.1l6.7,11.7h-13.4zM600,756.1l6.7,11.7h-13.4zM601,738.1l6.7,11.7h-13.4zM601,744.1l6.7,11.7h-13.4zM602,734.1l6.7,11.7h-13.4zM602,757.1l6.7,11.7h-13.4zM603,749.1l6.7,11.7h-13.4zM603,747.1l6.7,11.7h-13.4zM604,755.1l6.7,11.7h-13.4zM605,750.1l6.7,11.7h-13.4zM605,739.1l6.7,11.7h-13.4zM606,750.1l6.7,11.7h-13.4zM606,749.1l6.7,11.7h-13.4zM607,749.1l6.7,11.7h-13.4zM607,735.1l6.7,11.7h-13.4zM608,745.1l6.7,11.7h-13.4zM609,742.1l6.7,11.7h-13.4zM609,736.1l6.7,11.7h-13.4zM610,759.1l6.7,11.7h-13.4zM610,747.1l6.7,11.7h-13.4zM611,749.1l6.7,11.7h-13.4zM611,741.1l6.7,11.7h-13.4zM612,741.1l6.7,11.7h-13.4zM613,749.1l6.7,11.7h-13.4zM613,745.1l6.7,11.7h-13.4zM614,745.1l6.7,11.7h-13.4zM614,752.1l6.7,11.7h-13.4zM615,756.1l6.7,11.7h-13.4zM615,748.1l6.7,11.7h-13.4zM616,751.1l6.7,11.7h-13.4zM617,758.1l6.7,11.7h-13.4zM617,736.1l6.7,11.7h-13.4zM618,739.1l6.7,11.7h-13.4zM618,748.1l6.7,11.7h-13.4zM619,743.1l6.7,11.7h-13.4zM619,748.1l6.7,11.7h-13.4zM620,748.1l6.7,11.7h-13.4zM621,757.1l6.7,11.7h-13.4zM621,758.1l6.7,11.7h-13.4zM622,744.1l6.7,11.7h-13.4zM622,745.1l6.7,11.7h-13.4zM623,758.1l6.7,11.7h-13.4zM623,752.1l6.7,11.7h-13.4zM624,757.1l6.7,11.7h-13.4zM625,748.1l6.7,11.7h-13.4zM625,748.1l6.7,11.7h-13.4zM626,753.1l6.7,11.7h-13.4zM626,743.1l6.7,11.7h-13.4zM627,749.1l6.7,11.7h-13.4zM627,754.1l6.7,11.7h-13.4zM628,759.1l6.7,11.7h-13.4zM629,746.1l6.7,11.7h-13.4zM629,751.1l6.7,11.7h-13.4zM630,760.1l6.7,11.7h-13.4zM630,746.1l6.7,11.7h-13.4zM631,750.1l6.7,11.7h-13.4zM631,745.1l6.7,11.7h-13.4zM632,749.1l6.7,11.7h-13.4zM633,743.1l6.7,11.7h-13.4zM633,750.1l6.7,11.7h-13.4zM634,740.1l6.7,11.7h-13.4zM634,744.1l6.7,11.7h-13.4zM635,742.1l6.7,11.7h-13.4zM635,749.1l6.7,11.7h-13.4zM636,738.1l6.7,11.7h-13.4zM637,740.1l6.7,11.7h-13.4zM637,751.1l6.7,11.7h-13.4zM638,748.1l6.7,11.7h-13.4zM638,743.1l6.7,11.7h-13.4zM639,751.1l6.7,11.7h-13.4zM639,739.1l6.7,11.7h-13.4zM640,753.1l6.7,11.7h-13.4zM641,763.1l6.7,11.7h-13.4zM641,752.1l6.7,11.7h-13.4zM642,755.1l6.7,11.7h-13.4zM642,743.1l6.7,11.7h-13.4zM643,759.1l6.7,11.7h-13.4zM643,744.1l6.7,11.7h-13.4zM644,757.1l6.7,11.7h-13.4zM645,756.1l6.7,11.7h-13.4zM645,739.1l6.7,11.7h-13.4zM646,744.1l6.7,11.7h-13.4zM646,741.1l6.7,11.7h-13.4zM647,745.1l6.7,11.7h-13.4zM647,750.1l6.7,11.7h-13.4zM648,748.1l6.7,11.7h-13.4zM649,752.1l6.7,11.7h-13.4zM649,753.1l6.7,11.7h-13.4zM650,758.1l6.7,11.7h-13.4zM650,746.1l6.7,11.7h-13.4zM651,758.1l6.7,11.7h-13.4zM651,749.1l6.7,11.7h-13.4zM652,764.1l6.7,11.7h-13.4zM653,741.1l6.7,11.7h-13.4zM653,747.1l6.7,11.7h-13.4zM654,755.1l6.7,11.7h-13.4zM654,742.1l6.7,11.7h-13.4zM655,760.1l6.7,11.7h-13.4zM655,752.1l6.7,11.7h-13.4zM656,765.1l6.7,11.7h-13.4zM657,745.1l6.7,11.7h-13.4zM657,742.1l6.7,11.7h-13.4zM658,748.1l6.7,11.7h-13.4zM658,753.1l6.7,11.7h-13.4zM659,764.1l6.7,11.7h-13.4zM659,758.1l6.7,11.7h-13.4zM660,748.1l6.7,11.7h-13.4zM661,747.1l6.7,11.7h-13.4zM661,753.1l6.7,11.7h-13.4zM662,747.1l6.7,11.7h-13.4zM662,750.1l6.7,11.7h-13.4zM663,755.1l6.7,11.7h-13.4zM663,755.1l6.7,11.7h-13.4zM664,754.1l6.7,11.7h-13.4zM665,756.1l6.7,11.7h-13.4zM665,753.1l6.7,11.7h-13.4zM666,762.1l6.7,11.7h-13.4zM666,755.1l6.7,11.7h-13.4zM667,749.1l6.7,11.7h-13.4zM667,746.1l6.7,11.7h-13.4zM668,756.1l6.7,11.7h-13.4zM669,760.1l6.7,11.7h-13.4zM669,745.1l6.7,11.7h-13.4zM670,755.1l6.7,11.7h-13.4zM670,748.1l6.7,11.7h-13.4zM671,747.1l6.7,11.7h-13.4zM671,757.1l6.7,11.7h-13.4zM672,752.1l6.7,11.7h-13.4zM673,748.1l6.7,11.7h-13.4zM673,757.1l6.7,11.7h-13.4zM674,750.1l6.7,11.7h-13.4zM674,751.1l6.7,11.7h-13.4zM675,744.1l6.7,11.7h-13.4zM675,754.1l6.7,11.7h-13.4zM676,744.1l6.7,11.7h-13.4zM677,749.1l6.7,11.7h-13.4zM677,754.1l6.7,11.7h-13.4zM678,762.1l6.7,11.7h-13.4zM678,766.1l6.7,11.7h-13.4zM679,755.1l6.7,11.7h-13.4zM679,756.1l6.7,11.7h-13.4zM680,757.1l6.7,11.7h-13.4zM681,756.1l6.7,11.7h-13.4zM681,751.1l6.7,11.7h-13.4zM682,744.1l6.7,11.7h-13.4zM682,756.1l6.7,11.7h-13.4zM683,753.1l6.7,11.7h-13.4zM683,756.1l6.7,11.7h-13.4zM684,745.1l6.7,11.7h-13.4zM685,753.1l6.7,11.7h-13.4zM685,757.1l6.7,11.7h-13.4zM686,749.1l6.7,11.7h-13.4zM686,753.1l6.7,11.7h-13.4zM687,759.1l6.7,11.7h-13.4zM687,766.1l6.7,11.7h-13.4zM688,761.1l6.7,11.7h-13.4zM689,760.1l6.7,11.7h-13.4zM689,762.1l6.7,11.7h-13.4zM690,759.1l6.7,11.7h-13.4zM690,759.1l6.7,11.7h-13.4zM691,757.1l6.7,11.7h-13.4zM691,752.1l6.7,11.7h-13.4zM692,755.1l6.7,11.7h-13.4zM693,750.1l6.7,11.7h-13.4zM693,757.1l6.7,11.7h-13.4zM694,750.1l6.7,11.7h-13.4zM694,760.1l6.7,11.7h-13.4zM695,761.1l6.7,11.7h-13.4zM695,760.1l6.7,11.7h-13.4zM696,759.1l6.7,11.7h-13.4zM697,760.1l6.7,11.7h-13.4zM697,764.1l6.7,11.7h-13.4zM698,754.1l6.7,11.7h-13.4zM698,760.1l6.7,11.7h-13.4zM699,750.1l6.7,11.7h-13.4zM699,748.1l6.7,11.7h-13.4zM700,769.1l6.7,11.7h-13.4zM701,759.1l6.7,11.7h-13.4zM701,755.1l6.7,11.7h-13.4zM702,760.1l6.7,11.7h-13.4zM702,757.1l6.7,11.7h-13.4zM703,758.1l6.7,11.7h-13.4zM703,755.1l6.7,11.7h-13.4zM704,748.1l6.7,11.7h-13.4zM705,750.1l6.7,11.7h-13.4zM705,760.1l6.7,11.7h-13.4zM706,749.1l6.7,11.7h-13.4zM706,754.1l6.7,11.7h-13.4zM707,763.1l6.7,11.7h-13.4zM707,757.1l6.7,11.7h-13.4zM708,754.1l6.7,11.7h-13.4zM709,768.1l6.7,11.7h-13.4zM709,751.1l6.7,11.7h-13.4zM710,753.1l6.7,11.7h-13.4zM710,751.1l6.7,11.7h-13.4zM711,757.1l6.7,11.7h-13.4zM711,760.1l6.7,11.7h-13.4zM712,757.1l6.7,11.7h-13.4zM713,749.1l6.7,11.7h-13.4zM713,753.1l6.7,11.7h-13.4zM714,770.1l6.7,11.7h-13.4zM714,760.1l6.7,11.7h-13.4zM715,750.1l6.7,11.7h-13.4zM715,769.1l6.7,11.7h-13.4zM716,760.1l6.7,11.7h-13.4zM717,758.1l6.7,11.7h-13.4zM717,752.1l6.7,11.7h-13.4zM718,759.1l6.7,11.7h-13.4zM718,758.1l6.7,11.7h-13.4zM719,760.1l6.7,11.7h-13.4zM719,772.1l6.7,11.7h-13.4zM720,766.1l6.7,11.7h-13.4zM721,753.1l6.7,11.7h-13.4zM721,762.1l6.7,11.7h-13.4zM722,764.1l6.7,11.7h-13.4zM722,755.1l6.7,11.7h-13.4zM723,758.1l6.7,11.7h-13.4zM723,763.1l6.7,11.7h-13.4zM724,758.1l6.7,11.7h-13.4zM725,754.1l6.7,11.7h-13.4zM725,753.1l6.7,11.7h-13.4zM726,763.1l6.7,11.7h-13.4zM726,755.1l6.7,11.7h-13.4zM727,753.1l6.7,11.7h-13.4zM727,769.1l6.7,11.7h-13.4zM728,769.1l6.7,11.7h-13.4zM729,772.1l6.7,11.7h-13.4zM729,762.1l6.7,11.7h-13.4zM730,758.1l6.7,11.7h-13.4zM730,757.1l6.7,11.7h-13.4zM731,751.1l6.7,11.7h-13.4zM731,769.1l6.7,11.7h-13.4zM732,772.1l6.7,11.7h-13.4zM733,768.1l6.7,11.7h-13.4zM733,757.1l6.7,11.7h-13.4zM734,767.1l6.7,11.7h-13.4zM734,770.1l6.7,11.7h-13.4zM735,769.1l6.7,11.7h-13.4zM735,758.1l6.7,11.7h-13.4zM736,768.1l6.7,11.7h-13.4zM737,762.1l6.7,11.7h-13.4zM737,758.1l6.7,11.7h-13.4zM738,761.1l6.7,11.7h-13.4zM738,753.1l6.7,11.7h-13.4zM739,769.1l6.7,11.7h-13.4zM739,756.1l6.7,11.7h-13.4zM740,759.1l6.7,11.7h-13.4zM741,757.1l6.7,11.7h-13.4zM741,757.1l6.7,11.7h-13.4zM742,764.1l6.7,11.7h-13.4zM742,770.1l6.7,11.7h-13.4zM743,758.1l6.7,11.7h-13.4zM743,775.1l6.7,11.7h-13.4zM744,769.1l6.7,11.7h-13.4zM745,767.1l6.7,11.7h-13.4zM745,775.1l6.7,11.7h-13.4zM746,759.1l6.7,11.7h-13.4zM746,760.1l6.7,11.7h-13.4zM747,765.1l6.7,11.7h-13.4zM747,766.1l6.7,11.7h-13.4zM748,763.1l6.7,11.7h-13.4zM749,771.1l6.7,11.7h-13.4zM749,755.1l6.7,11.7h-13.4zM750,755.1l6.7,11.7h-13.4zM750,762.1l6.7,11.7h-13.4zM751,763.1l6.7,11.7h-13.4zM751,757.1l6.7,11.7h-13.4zM752,769.1l6.7,11.7h-13.4zM753,770.1l6.7,11.7h-13.4zM753,759.1l6.7,11.7h-13.4zM754,765.1l6.7,11.7h-13.4zM754,761.1l6.7,11.7h-13.4zM755,755.1l6.7,11.7h-13.4zM755,759.1l6.7,11.7h-13.4zM756,761.1l6.7,11.7h-13.4zM757,767.1l6.7,11.7h-13.4zM757,757.1l6.7,11.7h-13.4zM758,772.1l6.7,11.7h-13.4zM758,764.1l6.7,11.7h-13.4zM759,766.1l6.7,11.7h-13.4zM759,772.1l6.7,11.7h-13.4zM760,772.1l6.7,11.7h-13.4zM761,774.1l6.7,11.7h-13.4zM761,763.1l6.7,11.7h-13.4zM762,756.1l6.7,11.7h-13.4zM762,779.1l6.7,11.7h-13.4zM763,758.1l6.7,11.7h-13.4zM763,761.1l6.7,11.7h-13.4zM764,764.1l6.7,11.7h-13.4zM765,765.1l6.7,11.7h-13.4zM765,759.1l6.7,11.7h-13.4zM766,766.1l6.7,11.7h-13.4zM766,771.1l6.7,11.7h-13.4zM767,767.1l6.7,11.7h-13.4zM767,770.1l6.7,11.7h-13.4zM768,765.1l6.7,11.7h-13.4zM769,776.1l6.7,11.7h-13.4zM769,770.1l6.7,11.7h-13.4zM770,777.1l6.7,11.7h-13.4zM770,762.1l6.7,11.7h-13.4zM771,773.1l6.7,11.7h-13.4zM771,771.1l6.7,11.7h-13.4zM772,757.1l6.7,11.7h-13.4zM773,774.1l6.7,11.7h-13.4zM773,765.1l6.7,11.7h-13.4zM774,766.1l6.7,11.7h-13.4zM774,767.1l6.7,11.7h-13.4zM775,767.1l6.7,11.7h-13.4zM775,770.1l6.7,11.7h-13.4zM776,765.1l6.7,11.7h-13.4zM777,774.1l6.7,11.7h-13.4zM777,766.1l6.7,11.7h-13.4zM778,765.1l6.7,11.7h-13.4zM778,770.1l6.7,11.7h-13.4zM779,769.1l6.7,11.7h-13.4zM779,769.1l6.7,11.7h-13.4zM780,769.1l6.7,11.7h-13.4zM781,773.1l6.7,11.7h-13.4zM781,764.1l6.7,11.7h-13.4zM782,762.1l6.7,11.7h-13.4zM782,774.1l6.7,11.7h-13.4zM783,772.1l6.7,11.7h-13.4zM783,776.1l6.7,11.7h-13.4zM784,772.1l6.7,11.7h-13.4zM785,766.1l6.7,11.7h-13.4zM785,770.1l6.7,11.7h-13.4zM786,763.1l6.7,11.7h-13.4zM786,768.1l6.7,11.7h-13.4zM787,769.1l6.7,11.7h-13.4zM787,769.1l6.7,11.7h-13.4zM788,764.1l6.7,11.7h-13.4zM789,772.1l6.7,11.7h-13.4zM789,779.1l6.7,11.7h-13.4zM790,773.1l6.7,11.7h-13.4zM790,762.1l6.7,11.7h-13.4zM791,761.1l6.7,11.7h-13.4zM791,766.1l6.7,11.7h-13.4zM792,766.1l6.7,11.7h-13.4zM793,774.1l6.7,11.7h-13.4zM793,764.1l6.7,11.7h-13.4zM794,772.1l6.7,11.7h-13.4zM794,773.1l6.7,11.7h-13.4zM795,774.1l6.7,11.7h-13.4zM795,765.1l6.7,11.7h-13.4zM796,765.1l6.7,11.7h-13.4zM797,769.1l6.7,11.7h-13.4zM797,772.1l6.7,11.7h-13.4zM798,776.1l6.7,11.7h-13.4zM798,761.1l6.7,11.7h-13.4zM799,766.1l6.7,11.7h-13.4zM799,776.1l6.7,11.7h-13.4zM800,769.1l6.7,11.7h-13.4zM801,771.1l6.7,11.7h-13.4zM801,773.1l6.7,11.7h-13.4zM802,769.1l6.7,11.7h-13.4zM802,768.1l6.7,11.7h-13.4zM803,777.1l6.7,11.7h-13.4zM803,773.1l6.7,11.7h-13.4zM804,773.1l6.7,11.7h-13.4zM805,772.1l6.7,11.7h-13.4zM805,779.1l6.7,11.7h-13.4zM806,766.1l6.7,11.7h-13.4zM806,773.1l6.7,11.7h-13.4zM807,769.1l6.7,11.7h-13.4zM807,766.1l6.7,11.7h-13.4zM808,769.1l6.7,11.7h-13.4zM809,780.1l6.7,11.7h-13.4zM809,773.1l6.7,11.7h-13.4zM810,776.1l6.7,11.7h-13.4zM810,769.1l6.7,11.7h-13.4zM811,774.1l6.7,11.7h-13.4zM811,770.1l6.7,11.7h-13.4zM812,769.1l6.7,11.7h-13.4zM813,762.1l6.7,11.7h-13.4zM813,777.1l6.7,11.7h-13.4zM814,761.1l6.7,11.7h-13.4zM814,768.1l6.7,11.7h-13.4zM815,768.1l6.7,11.7h-13.4zM815,768.1l6.7,11.7h-13.4zM816,778.1l6.7,11.7h-13.4zM817,776.1l6.7,11.7h-13.4zM817,769.1l6.7,11.7h-13.4zM818,762.1l6.7,11.7h-13.4zM818,765.1l6.7,11.7h-13.4zM819,780.1l6.7,11.7h-13.4zM819,766.1l6.7,11.7h-13.4zM820,774.1l6.7,11.7h-13.4zM821,771.1l6.7,11.7h-13.4zM821,778.1l6.7,11.7h-13.4zM822,770.1l6.7,11.7h-13.4zM822,765.1l6.7,11.7h-13.4zM823,772.1l6.7,11.7h-13.4zM823,771.1l6.7,11.7h-13.4zM824,767.1l6.7,11.7h-13.4zM825,772.1l6.7,11.7h-13.4zM825,772.1l6.7,11.7h-13.4zM826,773.1l6.7,11.7h-13.4zM826,772.1l6.7,11.7h-13.4zM827,776.1l6.7,11.7h-13.4zM827,781.1l6.7,11.7h-13.4zM828,776.1l6.7,11.7h-13.4zM829,778.1l6.7,11.7h-13.4zM829,770.1l6.7,11.7h-13.4zM830,774.1l6.7,11.7h-13.4zM830,768.1l6.7,11.7h-13.4zM831,763.1l6.7,11.7h-13.4zM832,777.1l6.7,11.7h-13.4zM832,772.1l6.7,11.7h-13.4zM833,782.1l6.7,11.7h-13.4zM833,771.1l6.7,11.7h-13.4zM834,766.1l6.7,11.7h-13.4zM834,770.1l6.7,11.7h-13.4zM835,780.1l6.7,11.7h-13.4zM836,781.1l6.7,11.7h-13.4zM836,764.1l6.7,11.7h-13.4zM837,776.1l6.7,11.7h-13.4zM837,765.1l6.7,11.7h-13.4zM838,774.1l6.7,11.7h-13.4zM838,768.1l6.7,11.7h-13.4zM839,768.1l6.7,11.7h-13.4zM840,773.1l6.7,11.7h-13.4zM840,774.1l6.7,11.7h-13.4zM841,772.1l6.7,11.7h-13.4zM841,775.1l6.7,11.7h-13.4zM842,778.1l6.7,11.7h-13.4zM842,779.1l6.7,11.7h-13.4zM843,779.1l6.7,11.7h-13.4zM844,774.1l6.7,11.7h-13.4zM844,775.1l6.7,11.7h-13.4zM845,783.1l6.7,11.7h-13.4zM845,775.1l6.7,11.7h-13.4zM846,768.1l6.7,11.7h-13.4zM846,773.1l6.7,11.7h-13.4zM847,781.1l6.7,11.7h-13.4zM848,770.1l6.7,11.7h-13.4zM848,770.1l6.7,11.7h-13.4zM849,776.1l6.7,11.7h-13.4zM849,772.1l6.7,11.7h-13.4zM850,777.1l6.7,11.7h-13.4zM850,779.1l6.7,11.7h-13.4zM851,776.1l6.7,11.7h-13.4zM852,778.1l6.7,11.7h-13.4zM852,768.1l6.7,11.7h-13.4zM853,782.1l6.7,11.7h-13.4zM853,771.1l6.7,11.7h-13.4zM854,786.1l6.7,11.7h-13.4zM854,782.1l6.7,11.7h-13.4zM855,780.1l6.7,11.7h-13.4zM856,772.1l6.7,11.7h-13.4zM856,780.1l6.7,11.7h-13.4zM857,779.1l6.7,11.7h-13.4zM857,771.1l6.7,11.7h-13.4zM858,783.1l6.7,11.7h-13.4zM858,768.1l6.7,11.7h-13.4zM859,772.1l6.7,11.7h-13.4zM860,784.1l6.7,11.7h-13.4zM860,779.1l6.7,11.7h-13.4zM861,781.1l6.7,11.7h-13.4zM861,776.1l6.7,11.7h-13.4zM862,772.1l6.7,11.7h-13.4zM862,774.1l6.7,11.7h-13.4zM863,775.1l6.7,11.7h-13.4zM864,780.1l6.7,11.7h-13.4zM864,786.1l6.7,11.7h-13.4zM865,773.1l6.7,11.7h-13.4zM865,779.1l6.7,11.7h-13.4zM866,779.1l6.7,11.7h-13.4zM866,776.1l6.7,11.7h-13.4zM867,780.1l6.7,11.7h-13.4zM868,783.1l6.7,11.7h-13.4zM868,783.1l6.7,11.7h-13.4zM869,782.1l6.7,11.7h-13.4zM869,780.1l6.7,11.7h-13.4zM870,770.1l6.7,11.7h-13.4zM870,778.1l6.7,11.7h-13.4zM871,778.1l6.7,11.7h-13.4zM872,781.1l6.7,11.7h-13.4zM872,779.1l6.7,11.7h-13.4zM873,779.1l6.7,11.7h-13.4zM873,784.1l6.7,11.7h-13.4zM874,776.1l6.7,11.7h-13.4zM874,779.1l6.7,11.7h-13.4zM875,786.1l6.7,11.7h-13.4zM876,771.1l6.7,11.7h-13.4zM876,780.1l6.7,11.7h-13.4zM877,782.1l6.7,11.7h-13.4zM877,773.1l6.7,11.7h-13.4zM878,776.1l6.7,11.7h-13.4zM878,775.1l6.7,11.7h-13.4zM879,783.1l6.7,11.7h-13.4zM880,780.1l6.7,11.7h-13.4zM880,789.1l6.7,11.7h-13.4zM881,772.1l6.7,11.7h-13.4zM881,783.1l6.7,11.7h-13.4zM882,781.1l6.7,11.7h-13.4zM882,780.1l6.7,11.7h-13.4zM883,778.1l6.7,11.7h-13.4zM884,775.1l6.7,11.7h-13.4zM884,782.1l6.7,11.7h-13.4zM885,780.1l6.7,11.7h-13.4zM885,791.1l6.7,11.7h-13.4zM886,783.1l6.7,11.7h-13.4zM886,778.1l6.7,11.7h-13.4zM887,785.1l6.7,11.7h-13.4zM888,791.1l6.7,11.7h-13.4zM888,781.1l6.7,11.7h-13.4zM889,780.1l6.7,11.7h-13.4zM889,780.1l6.7,11.7h-13.4zM890,774.1l6.7,11.7h-13.4zM890,774.1l6.7,11.7h-13.4zM891,785.1l6.7,11.7h-13.4zM892,793.1l6.7,11.7h-13.4zM892,775.1l6.7,11.7h-13.4zM893,787.1l6.7,11.7h-13.4zM893,777.1l6.7,11.7h-13.4zM894,786.1l6.7,11.7h-13.4zM894,789.1l6.7,11.7h-13.4zM895,774.1l6.7,11.7h-13.4zM896,783.1l6.7,11.7h-13.4zM896,791.1l6.7,11.7h-13.4zM897,781.1l6.7,11.7h-13.4zM897,775.1l6.7,11.7h-13.4zM898,790.1l6.7,11.7h-13.4zM898,784.1l6.7,11.7h-13.4zM899,786.1l6.7,11.7h-13.4zM900,790.1l6.7,11.7h-13.4zM900,786.1l6.7,11.7h-13.4zM901,781.1l6.7,11.7h-13.4zM901,783.1l6.7,11.7h-13.4zM902,784.1l6.7,11.7h-13.4zM902,791.1l6.7,11.7h-13.4zM903,780.1l6.7,11.7h-13.4zM904,790.1l6.7,11.7h-13.4zM904,790.1l6.7,11.7h-13.4zM905,785.1l6.7,11.7h-13.4zM905,786.1l6.7,11.7h-13.4zM906,789.1l6.7,11.7h-13.4zM906,781.1l6.7,11.7h-13.4zM907,783.1l6.7,11.7h-13.4zM908,780.1l6.7,11.7h-13.4zM908,790.1l6.7,11.7h-13.4zM909,786.1l6.7,11.7h-13.4zM909,784.1l6.7,11.7h-13.4zM910,779.1l6.7,11.7h-13.4zM910,789.1l6.7,11.7h-13.4zM911,793.1l6.7,11.7h-13.4zM912,784.1l6.7,11.7h-13.4zM912,790.1l6.7,11.7h-13.4zM913,792.1l6.7,11.7h-13.4zM913,786.1l6.7,11.7h-13.4zM914,788.1l6.7,11.7h-13.4zM914,792.1l6.7,11.7h-13.4zM915,789.1l6.7,11.7h-13.4zM916,789.1l6.7,11.7h-13.4zM916,790.1l6.7,11.7h-13.4zM917,793.1l6.7,11.7h-13.4zM917,778.1l6.7,11.7h-13.4zM918,780.1l6.7,11.7h-13.4zM918,790.1l6.7,11.7h-13.4zM919,784.1l6.7,11.7h-13.4zM920,786.1l6.7,11.7h-13.4zM920,778.1l6.7,11.7h-13.4zM921,787.1l6.7,11.7h-13.4zM921,782.1l6.7,11.7h-13.4zM922,778.1l6.7,11.7h-13.4zM922,783.1l6.7,11.7h-13.4zM923,781.1l6.7,11.7h-13.4zM924,778.1l6.7,11.7h-13.4zM924,783.1l6.7,11.7h-13.4zM925,784.1l6.7,11.7h-13.4zM925,789.1l6.7,11.7h-13.4zM926,793.1l6.7,11.7h-13.4zM926,797.1l6.7,11.7h-13.4zM927,790.1l6.7,11.7h-13.4zM928,789.1l6.7,11.7h-13.4zM928,798.1l6.7,11.7h-13.4zM929,796.1l6.7,11.7h-13.4zM929,781.1l6.7,11.7h-13.4zM930,783.1l6.7,11.7h-13.4zM930,790.1l6.7,11.7h-13.4zM931,786.1l6.7,11.7h-13.4zM932,787.1l6.7,11.7h-13.4zM932,792.1l6.7,11.7h-13.4zM933,783.1l6.7,11.7h-13.4zM933,793.1l6.7,11.7h-13.4zM934,795.1l6.7,11.7h-13.4zM934,802.1l6.7,11.7h-13.4zM935,793.1l6.7,11.7h-13.4zM936,796.1l6.7,11.7h-13.4zM936,783.1l6.7,11.7h-13.4zM937,791.1l6.7,11.7h-13.4zM937,791.1l6.7,11.7h-13.4zM938,785.1l6.7,11.7h-13.4zM938,782.1l6.7,11.7h-13.4zM939,791.1l6.7,11.7h-13.4zM940,800.1l6.7,11.7h-13.4zM940,791.1l6.7,11.7h-13.4zM941,792.1l6.7,11.7h-13.4zM941,791.1l6.7,11.7h-13.4zM942,795.1l6.7,11.7h-13.4zM942,795.1l6.7,11.7h-13.4zM943,792.1l6.7,11.7h-13.4zM944,786.1l6.7,11.7h-13.4zM944,796.1l6.7,11.7h-13.4zM945,787.1l6.7,11.7h-13.4zM945,802.1l6.7,11.7h-13.4zM946,795.1l6.7,11.7h-13.4zM946,799.1l6.7,11.7h-13.4zM947,798.1l6.7,11.7h-13.4zM948,796.1l6.7,11.7h-13.4zM948,802.1l6.7,11.7h-13.4zM949,800.1l6.7,11.7h-13.4zM949,787.1l6.7,11.7h-13.4zM950,800.1l6.7,11.7h-13.4zM950,783.1l6.7,11.7h-13.4zM951,791.1l6.7,11.7h-13.4zM952,798.1l6.7,11.7h-13.4zM952,790.1l6.7,11.7h-13.4zM953,792.1l6.7,11.7h-13.4zM953,798.1l6.7,11.7h-13.4zM954,784.1l6.7,11.7h-13.4zM954,800.1l6.7,11.7h-13.4zM955,792.1l6.7,11.7h-13.4zM956,785.1l6.7,11.7h-13.4zM956,790.1l6.7,11.7h-13.4zM957,796.1l6.7,11.7h-13.4zM957,790.1l6.7,11.7h-13.4zM958,797.1l6.7,11.7h-13.4zM958,790.1l6.7,11.7h-13.4zM959,793.1l6.7,11.7h-13.4zM960,798.1l6.7,11.7h-13.4zM960,798.1l6.7,11.7h-13.4zM961,797.1l6.7,11.7h-13.4zM961,793.1l6.7,11.7h-13.4zM962,794.1l6.7,11.7h-13.4zM962,797.1l6.7,11.7h-13.4zM963,801.1l6.7,11.7h-13.4zM964,791.1l6.7,11.7h-13.4zM964,789.1l6.7,11.7h-13.4zM965,788.1l6.7,11.7h-13.4zM965,786.1l6.7,11.7h-13.4zM966,793.1l6.7,11.7h-13.4zM966,792.1l6.7,11.7h-13.4zM967,797.1l6.7,11.7h-13.4zM968,795.1l6.7,11.7h-13.4zM968,797.1l6.7,11.7h-13.4zM969,786.1l6.7,11.7h-13.4zM969,784.1l6.7,11.7h-13.4zM970,798.1l6.7,11.7h-13.4zM970,799.1l6.7,11.7h-13.4zM971,795.1l6.7,11.7h-13.4zM972,787.1l6.7,11.7h-13.4zM972,792.1l6.7,11.7h-13.4zM973,788.1l6.7,11.7h-13.4zM973,798.1l6.7,11.7h-13.4zM974,796.1l6.7,11.7h-13.4zM974,791.1l6.7,11.7h-13.4zM975,792.1l6.7,11.7h-13.4zM976,796.1l6.7,11.7h-13.4zM976,806.1l6.7,11.7h-13.4zM977,803.1l6.7,11.7h-13.4zM977,797.1l6.7,11.7h-13.4zM978,796.1l6.7,11.7h-13.4zM978,787.1l6.7,11.7h-13.4zM979,796.1l6.7,11.7h-13.4zM980,794.1l6.7,11.7h-13.4zM980,799.1l6.7,11.7h-13.4zM981,801.1l6.7,11.7h-13.4zM981,804.1l6.7,11.7h-13.4zM982,803.1l6.7,11.7h-13.4zM982,795.1l6.7,11.7h-13.4zM983,800.1l6.7,11.7h-13.4zM984,794.1l6.7,11.7h-13.4zM984,803.1l6.7,11.7h-13.4zM985,797.1l6.7,11.7h-13.4zM985,789.1l6.7,11.7h-13.4zM986,793.1l6.7,11.7h-13.4zM986,796.1l6.7,11.7h-13.4zM987,787.1l6.7,11.7h-13.4zM988,796.1l6.7,11.7h-13.4zM988,806.1l6.7,11.7h-13.4zM989,799.1l6.7,11.7h-13.4zM989,799.1l6.7,11.7h-13.4zM990,792.1l6.7,11.7h-13.4zM990,799.1l6.7,11.7h-13.4zM991,801.1l6.7,11.7h-13.4zM992,801.1l6.7,11.7h-13.4zM992,796.1l6.7,11.7h-13.4zM993,799.1l6.7,11.7h-13.4zM993,807.1l6.7,11.7h-13.4zM994,800.1l6.7,11.7h-13.4zM994,809.1l6.7,11.7h-13.4zM995,807.1l6.7,11.7h-13.4zM996,805.1l6.7,11.7h-13.4zM996,790.1l6.7,11.7h-13.4zM997,804.1l6.7,11.7h-13.4zM997,809.1l6.7,11.7h-13.4zM998,799.1l6.7,11.7h-13.4zM998,802.1l6.7,11.7h-13.4zM999,792.1l6.7,11.7h-13.4zM1000,797.1l6.7,11.7h-13.4zM1000,809.1l6.7,11.7h-13.4zM1001,810.1l6.7,11.7h-13.4zM1001,795.1l6.7,11.7h-13.4zM1002,801.1l6.7,11.7h-13.4zM1002,789.1l6.7,11.7h-13.4zM1003,797.1l6.7,11.7h-13.4zM1004,800.1l6.7,11.7h-13.4zM1004,795.1l6.7,11.7h-13.4zM1005,787.1l6.7,11.7h-13.4zM1005,801.1l6.7,11.7h-13.4zM1006,788.1l6.7,11.7h-13.4zM1006,789.1l6.7,11.7h-13.4zM1007,794.1l6.7,11.7h-13.4zM1008,801.1l6.7,11.7h-13.4zM1008,800.1l6.7,11.7h-13.4zM1009,797.1l6.7,11.7h-13.4zM1009,805.1l6.7,11.7h-13.4zM1010,800.1l6.7,11.7h-13.4zM1010,790.1l6.7,11.7h-13.4zM1011,803.1l6.7,11.7h-13.4zM1012,796.1l6.7,11.7h-13.4zM1012,798.1l6.7,11.7h-13.4zM1013,809.1l6.7,11.7h-13.4zM1013,795.1l6.7,11.7h-13.4zM1014,812.1l6.7,11.7h-13.4zM1014,806.1l6.7,11.7h-13.4zM1015,798.1l6.7,11.7h-13.4zM1016,805.1l6.7,11.7h-13.4zM1016,811.1l6.7,11.7h-13.4zM1017,811.1l6.7,11.7h-13.4zM1017,809.1l6.7,11.7h-13.4zM1018,798.1l6.7,11.7h-13.4zM1018,798.1l6.7,11.7h-13.4zM1019,802.1l6.7,11.7h-13.4zM1020,802.1l6.7,11.7h-13.4zM1020,797.1l6.7,11.7h-13.4zM1021,799.1l6.7,11.7h-13.4zM1021,811.1l6.7,11.7h-13.4zM1022,794.1l6.7,11.7h-13.4zM1022,797.1l6.7,11.7h-13.4zM1023,795.1l6.7,11.7h-13.4zM1024,794.1l6.7,11.7h-13.4zM1024,798.1l6.7,11.7h-13.4zM1025,804.1l6.7,11.7h-13.4zM1025,797.1l6.7,11.7h-13.4zM1026,793.1l6.7,11.7h-13.4zM1026,812.1l6.7,11.7h-13.4zM1027,811.1l6.7,11.7h-13.4zM1028,800.1l6.7,11.7h-13.4zM1028,813.1l6.7,11.7h-13.4zM1029,795.1l6.7,11.7h-13.4zM1029,811.1l6.7,11.7h-13.4zM1030,814.1l6.7,11.7h-13.4zM1030,810.1l6.7,11.7h-13.4zM1031,806.1l6.7,11.7h-13.4zM1032,808.1l6.7,11.7h-13.4zM1032,799.1l6.7,11.7h-13.4zM1033,811.1l6.7,11.7h-13.4zM1033,804.1l6.7,11.7h-13.4zM1034,812.1l6.7,11.7h-13.4zM1034,800.1l6.7,11.7h-13.4zM1035,802.1l6.7,11.7h-13.4zM1036,795.1l6.7,11.7h-13.4zM1036,808.1l6.7,11.7h-13.4zM1037,799.1l6.7,11.7h-13.4zM1037,807.1l6.7,11.7h-13.4zM1038,800.1l6.7,11.7h-13.4zM1038,811.1l6.7,11.7h-13.4zM1039,806.1l6.7,11.7h-13.4zM1040,805.1l6.7,11.7h-13.4zM1040,802.1l6.7,11.7h-13.4zM1041,791.1l6.7,11.7h-13.4zM1041,804.1l6.7,11.7h-13.4zM1042,809.1l6.7,11.7h-13.4zM1042,813.1l6.7,11.7h-13.4zM1043,808.1l6.7,11.7h-13.4zM1044,804.1l6.7,11.7h-13.4zM1044,812.1l6.7,11.7h-13.4zM1045,792.1l6.7,11.7h-13.4zM1045,806.1l6.7,11.7h-13.4zM1046,799.1l6.7,11.7h-13.4zM1046,806.1l6.7,11.7h-13.4zM1047,808.1l6.7,11.7h-13.4zM1048,810.1l6.7,11.7h-13.4zM1048,809.1l6.7,11.7h-13.4zM1049,808.1l6.7,11.7h-13.4zM1049,816.1l6.7,11.7h-13.4zM1050,806.1l6.7,11.7h-13.4zM1050,815.1l6.7,11.7h-13.4zM1051,809.1l6.7,11.7h-13.4zM1052,797.1l6.7,11.7h-13.4zM1052,815.1l6.7,11.7h-13.4zM1053,793.1l6.7,11.7h-13.4zM1053,804.1l6.7,11.7h-13.4zM1054,803.1l6.7,11.7h-13.4zM1054,807.1l6.7,11.7h-13.4zM1055,798.1l6.7,11.7h-13.4zM1056,815.1l6.7,11.7h-13.4zM1056,808.1l6.7,11.7h-13.4zM1057,816.1l6.7,11.7h-13.4zM1057,797.1l6.7,11.7h-13.4zM1058,801.1l6.7,11.7h-13.4zM1058,808.1l6.7,11.7h-13.4zM1059,819.1l6.7,11.7h-13.4zM1060,810.1l6.7,11.7h-13.4zM1060,798.1l6.7,11.7h-13.4zM1061,806.1l6.7,11.7h-13.4zM1061,816.1l6.7,11.7h-13.4zM1062,807.1l6.7,11.7h-13.4zM1062,814.1l6.7,11.7h-13.4zM1063,799.1l6.7,11.7h-13.4zM1064,810.1l6.7,11.7h-13.4zM1064,800.1l6.7,11.7h-13.4zM1065,808.1l6.7,11.7h-13.4zM1065,799.1l6.7,11.7h-13.4zM1066,808.1l6.7,11.7h-13.4zM1066,796.1l6.7,11.7h-13.4zM1067,807.1l6.7,11.7h-13.4zM1068,807.1l6.7,11.7h-13.4zM1068,813.1l6.7,11.7h-13.4zM1069,821.1l6.7,11.7h-13.4zM1069,808.1l6.7,11.7h-13.4zM1070,802.1l6.7,11.7h-13.4zM1070,802.1l6.7,11.7h-13.4zM1071,808.1l6.7,11.7h-13.4zM1072,810.1l6.7,11.7h-13.4zM1072,814.1l6.7,11.7h-13.4zM1073,801.1l6.7,11.7h-13.4zM1073,820.1l6.7,11.7h-13.4zM1074,803.1l6.7,11.7h-13.4zM1074,814.1l6.7,11.7h-13.4zM1075,809.1l6.7,11.7h-13.4zM1076,814.1l6.7,11.7h-13.4zM1076,808.1l6.7,11.7h-13.4zM1077,808.1l6.7,11.7h-13.4zM1077,803.1l6.7,11.7h-13.4zM1078,814.1l6.7,11.7h-13.4zM1078,805.1l6.7,11.7h-13.4zM1079,818.1l6.7,11.7h-13.4zM1080,802.1l6.7,11.7h-13.4zM1080,822.1l6.7,11.7h-13.4zM1081,802.1l6.7,11.7h-13.4zM1081,808.1l6.7,11.7h-13.4zM1082,811.1l6.7,11.7h-13.4zM1082,808.1l6.7,11.7h-13.4zM1083,807.1l6.7,11.7h-13.4zM1084,810.1l6.7,11.7h-13.4zM1084,816.1l6.7,11.7h-13.4zM1085,816.1l6.7,11.7h-13.4zM1085,815.1l6.7,11.7h-13.4zM1086,823.1l6.7,11.7h-13.4zM1086,813.1l6.7,11.7h-13.4zM1087,809.1l6.7,11.7h-13.4zM1088,807.1l6.7,11.7h-13.4zM1088,815.1l6.7,11.7h-13.4zM1089,814.1l6.7,11.7h-13.4zM1089,813.1l6.7,11.7h-13.4zM1090,819.1l6.7,11.7h-13.4zM1090,824.1l6.7,11.7h-13.4zM1091,814.1l6.7,11.7h-13.4zM1092,822.1l6.7,11.7h-13.4zM1092,810.1l6.7,11.7h-13.4zM1093,815.1l6.7,11.7h-13.4zM1093,810.1l6.7,11.7h-13.4zM1094,815.1l6.7,11.7h-13.4zM1094,806.1l6.7,11.7h-13.4zM1095,806.1l6.7,11.7h-13.4zM1096,803.1l6.7,11.7h-13.4zM1096,825.1l6.7,11.7h-13.4zM1097,802.1l6.7,11.7h-13.4zM1097,821.1l6.7,11.7h-13.4zM1098,810.1l6.7,11.7h-13.4zM1098,826.1l6.7,11.7h-13.4zM1099,813.1l6.7,11.7h-13.4zM1100,827.1l6.7,11.7h-13.4zM1100,819.1l6.7,11.7h-13.4zM1101,803.1l6.7,11.7h-13.4zM1101,820.1l6.7,11.7h-13.4zM1102,814.1l6.7,11.7h-13.4zM1102,809.1l6.7,11.7h-13.4zM1103,817.1l6.7,11.7h-13.4zM1104,812.1l6.7,11.7h-13.4zM1104,811.1l6.7,11.7h-13.4zM1105,822.1l6.7,11.7h-13.4zM1105,803.1l6.7,11.7h-13.4zM1106,819.1l6.7,11.7h-13.4zM1106,820.1l6.7,11.7h-13.4zM1107,825.1l6.7,11.7h-13.4zM1108,803.1l6.7,11.7h-13.4zM1108,810.1l6.7,11.7h-13.4zM1109,814.1l6.7,11.7h-13.4zM1109,808.1l6.7,11.7h-13.4zM1110,811.1l6.7,11.7h-13.4zM1110,816.1l6.7,11.7h-13.4zM1111,810.1l6.7,11.7h-13.4zM1112,800.1l6.7,11.7h-13.4zM1112,825.1l6.7,11.7h-13.4zM1113,825.1l6.7,11.7h-13.4zM1113,813.1l6.7,11.7h-13.4zM1114,811.1l6.7,11.7h-13.4zM1114,822.1l6.7,11.7h-13.4zM1115,809.1l6.7,11.7h-13.4zM1116,825.1l6.7,11.7h-13.4zM1116,808.1l6.7,11.7h-13.4zM1117,819.1l6.7,11.7h-13.4zM1117,816.1l6.7,11.7h-13.4zM1118,819.1l6.7,11.7h-13.4zM1118,809.1l6.7,11.7h-13.4zM1119,814.1l6.7,11.7h-13.4zM1120,816.1l6.7,11.7h-13.4zM1120,822.1l6.7,11.7h-13.4zM1121,817.1l6.7,11.7h-13.4zM1121,809.1l6.7,11.7h-13.4zM1122,826.1l6.7,11.7h-13.4zM1122,814.1l6.7,11.7h-13.4zM1123,822.1l6.7,11.7h-13.4zM1124,816.1l6.7,11.7h-13.4zM1124,813.1l6.7,11.7h-13.4zM1125,816.1l6.7,11.7h-13.4zM1125,811.1l6.7,11.7h-13.4zM1126,812.1l6.7,11.7h-13.4zM1126,809.1l6.7,11.7h-13.4zM1127,828.1l6.7,11.7h-13.4zM1128,803.1l6.7,11.7h-13.4zM1128,807.1l6.7,11.7h-13.4zM1129,825.1l6.7,11.7h-13.4zM1129,804.1l6.7,11.7h-13.4zM1130,824.1l6.7,11.7h-13.4zM1130,820.1l6.7,11.7h-13.4zM1131,816.1l6.7,11.7h-13.4zM1132,815.1l6.7,11.7h-13.4zM1132,821.1l6.7,11.7h-13.4zM1133,812.1l6.7,11.7h-13.4zM1133,819.1l6.7,11.7h-13.4zM1134,815.1l6.7,11.7h-13.4zM1134,823.1l6.7,11.7h-13.4zM1135,820.1l6.7,11.7h-13.4zM1136,807.1l6.7,11.7h-13.4zM1136,818.1l6.7,11.7h-13.4zM1137,809.1l6.7,11.7h-13.4zM1137,812.1l6.7,11.7h-13.4zM1138,820.1l6.7,11.7h-13.4zM1138,818.1l6.7,11.7h-13.4zM1139,811.1l6.7,11.7h-13.4zM1140,826.1l6.7,11.7h-13.4zM1140,808.1l6.7,11.7h-13.4zM1141,820.1l6.7,11.7h-13.4zM1141,803.1l6.7,11.7h-13.4zM1142,820.1l6.7,11.7h-13.4zM1142,816.1l6.7,11.7h-13.4zM1143,819.1l6.7,11.7h-13.4zM1144,815.1l6.7,11.7h-13.4zM1144,804.1l6.7,11.7h-13.4zM1145,817.1l6.7,11.7h-13.4zM1145,817.1l6.7,11.7h-13.4zM1146,820.1l6.7,11.7h-13.4zM1146,821.1l6.7,11.7h-13.4zM1147,803.1l6.7,11.7h-13.4zM1148,829.1l6.7,11.7h-13.4zM1148,815.1l6.7,11.7h-13.4zM1149,804.1l6.7,11.7h-13.4zM1149,820.1l6.7,11.7h-13.4zM1150,818.1l6.7,11.7h-13.4zM1150,819.1l6.7,11.7h-13.4zM1151,806.1l6.7,11.7h-13.4zM1152,821.1l6.7,11.7h-13.4zM1152,820.1l6.7,11.7h-13.4zM1153,805.1l6.7,11.7h-13.4zM1153,820.1l6.7,11.7h-13.4zM1154,820.1l6.7,11.7h-13.4zM1154,823.1l6.7,11.7h-13.4zM1155,808.1l6.7,11.7h-13.4zM1156,812.1l6.7,11.7h-13.4zM1156,811.1l6.7,11.7h-13.4zM1157,820.1l6.7,11.7h-13.4zM1157,828.1l6.7,11.7h-13.4zM1158,812.1l6.7,11.7h-13.4zM1158,826.1l6.7,11.7h-13.4zM1159,821.1l6.7,11.7h-13.4zM1160,828.1l6.7,11.7h-13.4zM1160,823.1l6.7,11.7h-13.4zM1161,821.1l6.7,11.7h-13.4zM1161,815.1l6.7,11.7h-13.4zM1162,809.1l6.7,11.7h-13.4zM1162,814.1l6.7,11.7h-13.4zM1163,811.1l6.7,11.7h-13.4zM1164,813.1l6.7,11.7h-13.4zM1164,821.1l6.7,11.7h-13.4zM1165,823.1l6.7,11.7h-13.4zM1165,809.1l6.7,11.7h-13.4zM1166,807.1l6.7,11.7h-13.4zM1166,813.1l6.7,11.7h-13.4zM1167,818.1l6.7,11.7h-13.4zM1168,826.1l6.7,11.7h-13.4zM1168,825.1l6.7,11.7h-13.4zM1169,810.1l6.7,11.7h-13.4zM1169,825.1l6.7,11.7h-13.4zM1170,805.1l6.7,11.7h-13.4zM1170,812.1l6.7,11.7h-13.4zM1171,814.1l6.7,11.7h-13.4zM1172,820.1l6.7,11.7h-13.4zM1172,829.1l6.7,11.7h-13.4zM1173,825.1l6.7,11.7h-13.4zM1173,816.1l6.7,11.7h-13.4zM1174,816.1l6.7,11.7h-13.4zM1174,821.1l6.7,11.7h-13.4zM1175,811.1l6.7,11.7h-13.4zM1176,828.1l6.7,11.7h-13.4zM1176,808.1l6.7,11.7h-13.4zM1177,821.1l6.7,11.7h-13.4zM1177,821.1l6.7,11.7h-13.4zM1178,811.1l6.7,11.7h-13.4zM1178,815.1l6.7,11.7h-13.4zM1179,819.1l6.7,11.7h-13.4zM1180,812.1l6.7,11.7h-13.4zM1180,815.1l6.7,11.7h-13.4zM1181,823.1l6.7,11.7h-13.4zM1181,808.1l6.7,11.7h-13.4zM1182,821.1l6.7,11.7h-13.4zM1182,807.1l6.7,11.7h-13.4zM1183,830.1l6.7,11.7h-13.4zM1184,826.1l6.7,11.7h-13.4zM1184,830.1l6.7,11.7h-13.4zM1185,825.1l6.7,11.7h-13.4zM1185,810.1l6.7,11.7h-13.4zM1186,815.1l6.7,11.7h-13.4zM1186,807.1l6.7,11.7h-13.4zM1187,819.1l6.7,11.7h-13.4zM1188,822.1l6.7,11.7h-13.4zM1188,816.1l6.7,11.7h-13.4zM1189,827.1l6.7,11.7h-13.4zM1189,820.1l6.7,11.7h-13.4zM1190,808.1l6.7,11.7h-13.4zM1190,828.1l6.7,11.7h-13.4zM1191,809.1l6.7,11.7h-13.4zM1192,808.1l6.7,11.7h-13.4zM1192,810.1l6.7,11.7h-13.4zM1193,821.1l6.7,11.7h-13.4zM1193,820.1l6.7,11.7h-13.4zM1194,826.1l6.7,11.7h-13.4zM1194,829.1l6.7,11.7h-13.4zM1195,824.1l6.7,11.7h-13.4zM1196,822.1l6.7,11.7h-13.4zM1196,819.1l6.7,11.7h-13.4zM1197,826.1l6.7,11.7h-13.4zM1197,821.1l6.7,11.7h-13.4zM1198,829.1l6.7,11.7h-13.4zM1198,828.1l6.7,11.7h-13.4zM1199,826.1l6.7,11.7h-13.4zM1200,824.1l6.7,11.7h-13.4zM1200,826.1l6.7,11.7h-13.4zM1201,815.1l6.7,11.7h-13.4zM1201,829.1l6.7,11.7h-13.4zM1202,814.1l6.7,11.7h-13.4zM1203,831.1l6.7,11.7h-13.4zM1203,816.1l6.7,11.7h-13.4zM1204,819.1l6.7,11.7h-13.4zM1204,809.1l6.7,11.7h-13.4zM1205,822.1l6.7,11.7h-13.4zM1205,812.1l6.7,11.7h-13.4zM1206,829.1l6.7,11.7h-13.4zM1207,819.1l6.7,11.7h-13.4zM1207,815.1l6.7,11.7h-13.4zM1208,827.1l6.7,11.7h-13.4zM1208,820.1l6.7,11.7h-13.4zM1209,814.1l6.7,11.7h-13.4zM1209,819.1l6.7,11.7h-13.4zM1210,820.1l6.7,11.7h-13.4zM1211,821.1l6.7,11.7h-13.4zM1211,827.1l6.7,11.7h-13.4zM1212,813.1l6.7,11.7h-13.4zM1212,831.1l6.7,11.7h-13.4zM1213,827.1l6.7,11.7h-13.4zM1213,813.1l6.7,11.7h-13.4zM1214,829.1l6.7,11.7h-13.4zM1215,820.1l6.7,11.7h-13.4zM1215,828.1l6.7,11.7h-13.4zM1216,813.1l6.7,11.7h-13.4zM1216,827.1l6.7,11.7h-13.4zM1217,827.1l6.7,11.7h-13.4zM1217,824.1l6.7,11.7h-13.4zM1218,812.1l6.7,11.7h-13.4zM1219,820.1l6.7,11.7h-13.4zM1219,827.1l6.7,11.7h-13.4zM1220,825.1l6.7,11.7h-13.4zM1220,816.1l6.7,11.7h-13.4zM1221,824.1l6.7,11.7h-13.4zM1221,816.1l6.7,11.7h-13.4zM1222,830.1l6.7,11.7h-13.4zM1223,824.1l6.7,11.7h-13.4zM1223,821.1l6.7,11.7h-13.4zM1224,816.1l6.7,11.7h-13.4zM1224,815.1l6.7,11.7h-13.4zM1225,815.1l6.7,11.7h-13.4zM1225,813.1l6.7,11.7h-13.4zM1226,825.1l6.7,11.7h-13.4zM1227,818.1l6.7,11.7h-13.4zM1227,816.1l6.7,11.7h-13.4zM1228,821.1l6.7,11.7h-13.4zM1228,814.1l6.7,11.7h-13.4zM1229,830.1l6.7,11.7h-13.4zM1229,830.1l6.7,11.7h-13.4zM1230,832.1l6.7,11.7h-13.4zM1231,824.1l6.7,11.7h-13.4zM1231,830.1l6.7,11.7h-13.4zM1232,823.1l6.7,11.7h-13.4zM1232,816.1l6.7,11.7h-13.4zM1233,832.1l6.7,11.7h-13.4zM1233,834.1l6.7,11.7h-13.4zM1234,826.1l6.7,11.7h-13.4zM1235,828.1l6.7,11.7h-13.4zM1235,825.1l6.7,11.7h-13.4zM1236,825.1l6.7,11.7h-13.4zM1236,828.1l6.7,11.7h-13.4zM1237,822.1l6.7,11.7h-13.4zM1237,825.1l6.7,11.7h-13.4zM1238,829.1l6.7,11.7h-13.4zM1239,825.1l6.7,11.7h-13.4zM1239,821.1l6.7,11.7h-13.4zM1240,830.1l6.7,11.7h-13.4zM1240,821.1l6.7,11.7h-13.4zM1241,819.1l6.7,11.7h-13.4zM1241,822.1l6.7,11.7h-13.4zM1242,830.1l6.7,11.7h-13.4zM1243,827.1l6.7,11.7h-13.4zM1243,830.1l6.7,11.7h-13.4zM1244,831.1l6.7,11.7h-13.4zM1244,829.1l6.7,11.7h-13.4zM1245,824.1l6.7,11.7h-13.4zM1245,823.1l6.7,11.7h-13.4zM1246,824.1l6.7,11.7h-13.4zM1247,834.1l6.7,11.7h-13.4zM1247,822.1l6.7,11.7h-13.4zM1248,828.1l6.7,11.7h-13.4zM1248,832.1l6.7,11.7h-13.4zM1249,835.1l6.7,11.7h-13.4zM1249,829.1l6.7,11.7h-13.4zM1250,822.1l6.7,11.7h-13.4zM1251,828.1l6.7,11.7h-13.4zM1251,833.1l6.7,11.7h-13.4zM1252,829.1l6.7,11.7h-13.4zM1252,832.1l6.7,11.7h-13.4zM1253,825.1l6.7,11.7h-13.4zM1253,831.1l6.7,11.7h-13.4zM1254,820.1l6.7,11.7h-13.4zM1255,819.1l6.7,11.7h-13.4zM1255,831.1l6.7,11.7h-13.4zM1256,834.1l6.7,11.7h-13.4zM1256,822.1l6.7,11.7h-13.4zM1257,817.1l6.7,11.7h-13.4zM1257,818.1l6.7,11.7h-13.4zM1258,830.1l6.7,11.7h-13.4zM1259,828.1l6.7,11.7h-13.4zM1259,829.1l6.7,11.7h-13.4zM1260,836.1l6.7,11.7h-13.4zM1260,829.1l6.7,11.7h-13.4zM1261,829.1l6.7,11.7h-13.4zM1261,829.1l6.7,11.7h-13.4zM1262,836.1l6.7,11.7h-13.4zM1263,823.1l6.7,11.7h-13.4zM1263,835.1l6.7,11.7h-13.4zM1264,831.1l6.7,11.7h-13.4zM1264,821.1l6.7,11.7h-13.4zM1265,836.1l6.7,11.7h-13.4zM1265,822.1l6.7,11.7h-13.4zM1266,829.1l6.7,11.7h-13.4zM1267,832.1l6.7,11.7h-13.4zM1267,823.1l6.7,11.7h-13.4zM1268,823.1l6.7,11.7h-13.4zM1268,826.1l6.7,11.7h-13.4zM1269,823.1l6.7,11.7h-13.4zM1269,827.1l6.7,11.7h-13.4zM1270,833.1l6.7,11.7h-13.4zM1271,832.1l6.7,11.7h-13.4zM1271,828.1l6.7,11.7h-13.4zM1272,832.1l6.7,11.7h-13.4zM1272,831.1l6.7,11.7h-13.4zM1273,822.1l6.7,11.7h-13.4zM1273,823.1l6.7,11.7h-13.4zM1274,827.1l6.7,11.7h-13.4zM1275,823.1l6.7,11.7h-13.4zM1275,825.1l6.7,11.7h-13.4zM1276,831.1l6.7,11.7h-13.4zM1276,820.1l6.7,11.7h-13.4zM1277,838.1l6.7,11.7h-13.4zM1277,831.1l6.7,11.7h-13.4zM1278,827.1l6.7,11.7h-13.4zM1279,829.1l6.7,11.7h-13.4zM1279,836.1l6.7,11.7h-13.4zM1280,818.1l6.7,11.7h-13.4zM1280,827.1l6.7,11.7h-13.4zM1281,825.1l6.7,11.7h-13.4zM1281,833.1l6.7,11.7h-13.4zM1282,821.1l6.7,11.7h-13.4zM1283,826.1l6.7,11.7h-13.4zM1283,821.1l6.7,11.7h-13.4zM1284,821.1l6.7,11.7h-13.4zM1284,825.1l6.7,11.7h-13.4zM1285,834.1l6.7,11.7h-13.4zM1285,820.1l6.7,11.7h-13.4zM1286,824.1l6.7,11.7h-13.4zM1287,833.1l6.7,11.7h-13.4zM1287,818.1l6.7,11.7h-13.4zM1288,836.1l6.7,11.7h-13.4zM1288,836.1l6.7,11.7h-13.4zM1289,838.1l6.7,11.7h-13.4zM1289,838.1l6.7,11.7h-13.4zM1290,824.1l6.7,11.7h-13.4zM1291,829.1l6.7,11.7h-13.4zM1291,820.1l6.7,11.7h-13.4zM1292,830.1l6.7,11.7h-13.4zM1292,828.1l6.7,11.7h-13.4zM1293,828.1l6.7,11.7h-13.4zM1293,827.1l6.7,11.7h-13.4zM1294,826.1l6.7,11.7h-13.4zM1295,820.1l6.7,11.7h-13.4zM1295,826.1l6.7,11.7h-13.4zM1296,830.1l6.7,11.7h-13.4zM1296,828.1l6.7,11.7h-13.4zM1297,832.1l6.7,11.7h-13.4zM1297,832.1l6.7,11.7h-13.4zM1298,821.1l6.7,11.7h-13.4zM1299,837.1l6.7,11.7h-13.4zM1299,833.1l6.7,11.7h-13.4zM1300,829.1l6.7,11.7h-13.4zM1300,828.1l6.7,11.7h-13.4zM1301,825.1l6.7,11.7h-13.4zM1301,835.1l6.7,11.7h-13.4zM1302,823.1l6.7,11.7h-13.4zM1303,829.1l6.7,11.7h-13.4zM1303,827.1l6.7,11.7h-13.4zM1304,839.1l6.7,11.7h-13.4zM1304,825.1l6.7,11.7h-13.4zM1305,837.1l6.7,11.7h-13.4zM1305,834.1l6.7,11.7h-13.4zM1306,840.1l6.7,11.7h-13.4zM1307,830.1l6.7,11.7h-13.4zM1307,828.1l6.7,11.7h-13.4zM1308,829.1l6.7,11.7h-13.4zM1308,824.1l6.7,11.7h-13.4zM1309,835.1l6.7,11.7h-13.4zM1309,829.1l6.7,11.7h-13.4zM1310,832.1l6.7,11.7h-13.4zM1311,831.1l6.7,11.7h-13.4zM1311,822.1l6.7,11.7h-13.4zM1312,831.1l6.7,11.7h-13.4zM1312,837.1l6.7,11.7h-13.4zM1313,833.1l6.7,11.7h-13.4zM1313,830.1l6.7,11.7h-13.4zM1314,821.1l6.7,11.7h-13.4zM1315,839.1l6.7,11.7h-13.4zM1315,837.1l6.7,11.7h-13.4zM1316,827.1l6.7,11.7h-13.4zM1316,831.1l6.7,11.7h-13.4zM1317,826.1l6.7,11.7h-13.4zM1317,828.1l6.7,11.7h-13.4zM1318,834.1l6.7,11.7h-13.4zM1319,830.1l6.7,11.7h-13.4zM1319,829.1l6.7,11.7h-13.4zM1320,834.1l6.7,11.7h-13.4zM1320,836.1l6.7,11.7h-13.4zM1321,832.1l6.7,11.7h-13.4zM1321,834.1l6.7,11.7h-13.4zM1322,828.1l6.7,11.7h-13.4zM1323,826.1l6.7,11.7h-13.4zM1323,822.1l6.7,11.7h-13.4zM1324,838.1l6.7,11.7h-13.4zM1324,830.1l6.7,11.7h-13.4zM1325,827.1l6.7,11.7h-13.4zM1325,824.1l6.7,11.7h-13.4zM1326,831.1l6.7,11.7h-13.4zM1327,828.1l6.7,11.7h-13.4zM1327,834.1l6.7,11.7h-13.4zM1328,826.1l6.7,11.7h-13.4zM1328,837.1l6.7,11.7h-13.4zM1329,829.1l6.7,11.7h-13.4zM1329,837.1l6.7,11.7h-13.4zM1330,830.1l6.7,11.7h-13.4zM1331,835.1l6.7,11.7h-13.4zM1331,827.1l6.7,11.7h-13.4zM1332,836.1l6.7,11.7h-13.4zM1332,824.1l6.7,11.7h-13.4zM1333,835.1l6.7,11.7h-13.4zM1333,838.1l6.7,11.7h-13.4zM1334,838.1l6.7,11.7h-13.4zM1335,837.1l6.7,11.7h-13.4zM1335,839.1l6.7,11.7h-13.4zM1336,833.1l6.7,11.7h-13.4zM1336,840.1l6.7,11.7h-13.4zM1337,831.1l6.7,11.7h-13.4zM1337,835.1l6.7,11.7h-13.4zM1338,835.1l6.7,11.7h-13.4zM1339,836.1l6.7,11.7h-13.4zM1339,823.1l6.7,11.7h-13.4zM1340,841.1l6.7,11.7h-13.4zM1340,837.1l6.7,11.7h-13.4zM1341,834.1l6.7,11.7h-13.4zM1341,823.1l6.7,11.7h-13.4zM1342,837.1l6.7,11.7h-13.4zM1343,827.1l6.7,11.7h-13.4zM1343,832.1l6.7,11.7h-13.4zM1344,822.1l6.7,11.7h-13.4zM1344,823.1l6.7,11.7h-13.4zM1345,829.1l6.7,11.7h-13.4zM1345,836.1l6.7,11.7h-13.4zM1346,832.1l6.7,11.7h-13.4zM1347,828.1l6.7,11.7h-13.4zM1347,834.1l6.7,11.7h-13.4zM1348,834.1l6.7,11.7h-13.4zM1348,844.1l6.7,11.7h-13.4zM1349,831.1l6.7,11.7h-13.4zM1349,831.1l6.7,11.7h-13.4zM1350,844.1l6.7,11.7h-13.4zM1351,840.1l6.7,11.7h-13.4zM1351,829.1l6.7,11.7h-13.4zM1352,841.1l6.7,11.7h-13.4zM1352,834.1l6.7,11.7h-13.4zM1353,827.1l6.7,11.7h-13.4zM1353,834.1l6.7,11.7h-13.4zM1354,827.1l6.7,11.7h-13.4zM1355,841.1l6.7,11.7h-13.4zM1355,835.1l6.7,11.7h-13.4zM1356,843.1l6.7,11.7h-13.4zM1356,830.1l6.7,11.7h-13.4zM1357,831.1l6.7,11.7h-13.4zM1357,837.1l6.7,11.7h-13.4zM1358,827.1l6.7,11.7h-13.4zM1359,843.1l6.7,11.7h-13.4zM1359,838.1l6.7,11.7h-13.4zM1360,825.1l6.7,11.7h-13.4zM1360,831.1l6.7,11.7h-13.4zM1361,838.1l6.7,11.7h-13.4zM1361,842.1l6.7,11.7h-13.4zM1362,838.1l6.7,11.7h-13.4zM1363,832.1l6.7,11.7h-13.4zM1363,836.1l6.7,11.7h-13.4zM1364,841.1l6.7,11.7h-13.4zM1364,844.1l6.7,11.7h-13.4zM1365,844.1l6.7,11.7h-13.4zM1365,835.1l6.7,11.7h-13.4zM1366,825.1l6.7,11.7h-13.4zM1367,839.1l6.7,11.7h-13.4zM1367,834.1l6.7,11.7h-13.4zM1368,835.1l6.7,11.7h-13.4zM1368,839.1l6.7,11.7h-13.4zM1369,843.1l6.7,11.7h-13.4zM1369,842.1l6.7,11.7h-13.4zM1370,839.1l6.7,11.7h-13.4zM1371,838.1l6.7,11.7h-13.4zM1371,839.1l6.7,11.7h-13.4zM1372,849.1l6.7,11.7h-13.4zM1372,832.1l6.7,11.7h-13.4zM1373,831.1l6.7,11.7h-13.4zM1373,835.1l6.7,11.7h-13.4zM1374,834.1l6.7,11.7h-13.4zM1375,837.1l6.7,11.7h-13.4zM1375,828.1l6.7,11.7h-13.4zM1376,848.1l6.7,11.7h-13.4zM1376,842.1l6.7,11.7h-13.4zM1377,828.1l6.7,11.7h-13.4zM1377,830.1l6.7,11.7h-13.4zM1378,844.1l6.7,11.7h-13.4zM1379,826.1l6.7,11.7h-13.4zM1379,834.1l6.7,11.7h-13.4zM1380,832.1l6.7,11.7h-13.4zM1380,842.1l6.7,11.7h-13.4zM1381,845.1l6.7,11.7h-13.4zM1381,840.1l6.7,11.7h-13.4zM1382,835.1l6.7,11.7h-13.4zM1383,833.1l6.7,11.7h-13.4zM1383,849.1l6.7,11.7h-13.4zM1384,854.1l6.7,11.7h-13.4zM1384,842.1l6.7,11.7h-13.4zM1385,835.1l6.7,11.7h-13.4zM1385,850.1l6.7,11.7h-13.4zM1386,830.1l6.7,11.7h-13.4zM1387,842.1l6.7,11.7h-13.4zM1387,831.1l6.7,11.7h-13.4zM1388,827.1l6.7,11.7h-13.4zM1388,847.1l6.7,11.7h-13.4zM1389,847.1l6.7,11.7h-13.4zM1389,835.1l6.7,11.7h-13.4zM1390,833.1l6.7,11.7h-13.4zM1391,849.1l6.7,11.7h-13.4zM1391,841.1l6.7,11.7h-13.4zM1392,847.1l6.7,11.7h-13.4zM1392,835.1l6.7,11.7h-13.4zM1393,847.1l6.7,11.7h-13.4zM1393,844.1l6.7,11.7h-13.4zM1394,827.1l6.7,11.7h-13.4zM1395,838.1l6.7,11.7h-13.4zM1395,853.1l6.7,11.7h-13.4zM1396,836.1l6.7,11.7h-13.4zM1396,830.1l6.7,11.7h-13.4zM1397,843.1l6.7,11.7h-13.4zM1397,840.1l6.7,11.7h-13.4zM1398,847.1l6.7,11.7h-13.4zM1399,835.1l6.7,11.7h-13.4zM1399,848.1l6.7,11.7h-13.4zM1400,838.1l6.7,11.7h-13.4zM1400,837.1l6.7,11.7h-13.4zM1401,833.1l6.7,11.7h-13.4zM1401,832.1l6.7,11.7h-13.4zM1402,846.1l6.7,11.7h-13.4zM1403,842.1l6.7,11.7h-13.4zM1403,832.1l6.7,11.7h-13.4zM1404,845.1l6.7,11.7h-13.4zM1404,834.1l6.7,11.7h-13.4zM1405,838.1l6.7,11.7h-13.4zM1405,841.1l6.7,11.7h-13.4zM1406,854.1l6.7,11.7h-13.4zM1407,840.1l6.7,11.7h-13.4zM1407,852.1l6.7,11.7h-13.4zM1408,838.1l6.7,11.7h-13.4zM1408,853.1l6.7,11.7h-13.4zM1409,848.1l6.7,11.7h-13.4zM1409,838.1l6.7,11.7h-13.4zM1410,851.1l6.7,11.7h-13.4zM1411,851.1l6.7,11.7h-13.4zM1411,835.1l6.7,11.7h-13.4zM1412,841.1l6.7,11.7h-13.4zM1412,847.1l6.7,11.7h-13.4zM1413,843.1l6.7,11.7h-13.4zM1413,847.1l6.7,11.7h-13.4zM1414,845.1l6.7,11.7h-13.4zM1415,841.1l6.7,11.7h-13.4zM1415,843.1l6.7,11.7h-13.4zM1416,843.1l6.7,11.7h-13.4zM1416,847.1l6.7,11.7h-13.4zM1417,848.1l6.7,11.7h-13.4zM1417,850.1l6.7,11.7h-13.4zM1418,832.1l6.7,11.7h-13.4zM1419,836.1l6.7,11.7h-13.4zM1419,837.1l6.7,11.7h-13.4zM1420,839.1l6.7,11.7h-13.4zM1420,835.1l6.7,11.7h-13.4zM1421,837.1l6.7,11.7h-13.4zM1421,854.1l6.7,11.7h-13.4zM1422,835.1l6.7,11.7h-13.4zM1423,847.1l6.7,11.7h-13.4zM1423,839.1l6.7,11.7h-13.4zM1424,838.1l6.7,11.7h-13.4zM1424,857.1l6.7,11.7h-13.4zM1425,838.1l6.7,11.7h-13.4zM1425,849.1l6.7,11.7h-13.4zM1426,830.1l6.7,11.7h-13.4zM1427,833.1l6.7,11.7h-13.4zM1427,852.1l6.7,11.7h-13.4zM1428,840.1l6.7,11.7h-13.4zM1428,845.1l6.7,11.7h-13.4zM1429,851.1l6.7,11.7h-13.4zM1429,855.1l6.7,11.7h-13.4zM1430,840.1l6.7,11.7h-13.4zM1431,853.1l6.7,11.7h-13.4zM1431,848.1l6.7,11.7h-13.4zM1432,843.1l6.7,11.7h-13.4zM1432,834.1l6.7,11.7h-13.4zM1433,853.1l6.7,11.7h-13.4zM1433,840.1l6.7,11.7h-13.4zM1434,841.1l6.7,11.7h-13.4zM1435,834.1l6.7,11.7h-13.4zM1435,842.1l6.7,11.7h-13.4zM1436,841.1l6.7,11.7h-13.4zM1436,847.1l6.7,11.7h-13.4zM1437,855.1l6.7,11.7h-13.4zM1437,854.1l6.7,11.7h-13.4zM1438,838.1l6.7,11.7h-13.4zM1439,836.1l6.7,11.7h-13.4zM1439,839.1l6.7,11.7h-13.4zM1440,838.1l6.7,11.7h-13.4zM1440,843.1l6.7,11.7h-13.4zM1441,856.1l6.7,11.7h-13.4zM1441,841.1l6.7,11.7h-13.4zM1442,846.1l6.7,11.7h-13.4zM1443,846.1l6.7,11.7h-13.4zM1443,834.1l6.7,11.7h-13.4zM1444,846.1l6.7,11.7h-13.4zM1444,833.1l6.7,11.7h-13.4zM1445,845.1l6.7,11.7h-13.4zM1445,853.1l6.7,11.7h-13.4zM1446,857.1l6.7,11.7h-13.4zM1447,838.1l6.7,11.7h-13.4zM1447,857.1l6.7,11.7h-13.4zM1448,845.1l6.7,11.7h-13.4zM1448,837.1l6.7,11.7h-13.4zM1449,850.1l6.7,11.7h-13.4zM1449,831.1l6.7,11.7h-13.4zM1450,857.1l6.7,11.7h-13.4zM1451,840.1l6.7,11.7h-13.4zM1451,840.1l6.7,11.7h-13.4zM1452,838.1l6.7,11.7h-13.4zM1452,843.1l6.7,11.7h-13.4zM1453,857.1l6.7,11.7h-13.4zM1453,859.1l6.7,11.7h-13.4zM1454,847.1l6.7,11.7h-13.4zM1455,849.1l6.7,11.7h-13.4zM1455,846.1l6.7,11.7h-13.4zM1456,845.1l6.7,11.7h-13.4zM1456,840.1l6.7,11.7h-13.4zM1457,851.1l6.7,11.7h-13.4zM1457,847.1l6.7,11.7h-13.4zM1458,838.1l6.7,11.7h-13.4zM1459,845.1l6.7,11.7h-13.4zM1459,856.1l6.7,11.7h-13.4zM1460,835.1l6.7,11.7h-13.4zM1460,846.1l6.7,11.7h-13.4zM1461,842.1l6.7,11.7h-13.4zM1461,851.1l6.7,11.7h-13.4zM1462,849.1l6.7,11.7h-13.4zM1463,851.1l6.7,11.7h-13.4zM1463,835.1l6.7,11.7h-13.4zM1464,837.1l6.7,11.7h-13.4zM1464,835.1l6.7,11.7h-13.4zM1465,844.1l6.7,11.7h-13.4zM1465,847.1l6.7,11.7h-13.4zM1466,835.1l6.7,11.7h-13.4zM1467,844.1l6.7,11.7h-13.4zM1467,860.1l6.7,11.7h-13.4zM1468,836.1l6.7,11.7h-13.4zM1468,853.1l6.7,11.7h-13.4zM1469,854.1l6.7,11.7h-13.4zM1469,845.1l6.7,11.7h-13.4zM1470,837.1l6.7,11.7h-13.4zM1471,851.1l6.7,11.7h-13.4zM1471,844.1l6.7,11.7h-13.4zM1472,844.1l6.7,11.7h-13.4zM1472,841.1l6.7,11.7h-13.4zM1473,857.1l6.7,11.7h-13.4zM1473,861.1l6.7,11.7h-13.4zM1474,845.1l6.7,11.7h-13.4zM1475,843.1l6.7,11.7h-13.4zM1475,851.1l6.7,11.7h-13.4zM1476,843.1l6.7,11.7h-13.4zM1476,846.1l6.7,11.7h-13.4zM1477,839.1l6.7,11.7h-13.4zM1477,848.1l6.7,11.7h-13.4zM1478,853.1l6.7,11.7h-13.4zM1479,839.1l6.7,11.7h-13.4zM1479,842.1l6.7,11.7h-13.4zM1480,843.1l6.7,11.7h-13.4zM1480,856.1l6.7,11.7h-13.4zM1481,845.1l6.7,11.7h-13.4zM1481,852.1l6.7,11.7h-13.4zM1482,852.1l6.7,11.7h-13.4zM1483,844.1l6.7,11.7h-13.4zM1483,849.1l6.7,11.7h-13.4zM1484,850.1l6.7,11.7h-13.4zM1484,860.1l6.7,11.7h-13.4zM1485,842.1l6.7,11.7h-13.4zM1485,848.1l6.7,11.7h-13.4zM1486,845.1l6.7,11.7h-13.4zM1487,857.1l6.7,11.7h-13.4zM1487,858.1l6.7,11.7h-13.4zM1488,854.1l6.7,11.7h-13.4zM1488,851.1l6.7,11.7h-13.4zM1489,840.1l6.7,11.7h-13.4zM1489,857.1l6.7,11.7h-13.4zM1490,844.1l6.7,11.7h-13.4zM1491,851.1l6.7,11.7h-13.4zM1491,855.1l6.7,11.7h-13.4zM1492,840.1l6.7,11.7h-13.4zM1492,858.1l6.7,11.7h-13.4zM1493,859.1l6.7,11.7h-13.4zM1493,851.1l6.7,11.7h-13.4zM1494,847.1l6.7,11.7h-13.4zM1495,847.1l6.7,11.7h-13.4zM1495,853.1l6.7,11.7h-13.4zM1496,838.1l6.7,11.7h-13.4zM1496,849.1l6.7,11.7h-13.4zM1497,848.1l6.7,11.7h-13.4zM1497,856.1l6.7,11.7h-13.4zM1498,844.1l6.7,11.7h-13.4zM1499,852.1l6.7,11.7h-13.4zM1499,847.1l6.7,11.7h-13.4zM1500,853.1l6.7,11.7h-13.4zM1500,839.1l6.7,11.7h-13.4zM1501,850.1l6.7,11.7h-13.4zM1501,839.1l6.7,11.7h-13.4zM1502,844.1l6.7,11.7h-13.4zM1503,851.1l6.7,11.7h-13.4zM1503,850.1l6.7,11.7h-13.4zM1504,852.1l6.7,11.7h-13.4zM1504,852.1l6.7,11.7h-13.4zM1505,846.1l6.7,11.7h-13.4zM1505,838.1l6.7,11.7h-13.4zM1506,850.1l6.7,11.7h-13.4zM1507,846.1l6.7,11.7h-13.4zM1507,851.1l6.7,11.7h-13.4zM1508,841.1l6.7,11.7h-13.4zM1508,856.1l6.7,11.7h-13.4zM1509,856.1l6.7,11.7h-13.4zM1509,850.1l6.7,11.7h-13.4zM1510,843.1l6.7,11.7h-13.4zM1511,852.1l6.7,11.7h-13.4zM1511,846.1l6.7,11.7h-13.4zM1512,853.1l6.7,11.7h-13.4zM1512,852.1l6.7,11.7h-13.4zM1513,839.1l6.7,11.7h-13.4zM1513,850.1l6.7,11.7h-13.4zM1514,850.1l6.7,11.7h-13.4zM1515,852.1l6.7,11.7h-13.4zM1515,862.1l6.7,11.7h-13.4zM1516,858.1l6.7,11.7h-13.4zM1516,850.1l6.7,11.7h-13.4zM1517,843.1l6.7,11.7h-13.4zM1517,864.1l6.7,11.7h-13.4zM1518,864.1l6.7,11.7h-13.4zM1519,850.1l6.7,11.7h-13.4zM1519,856.1l6.7,11.7h-13.4zM1520,860.1l6.7,11.7h-13.4zM1520,841.1l6.7,11.7h-13.4zM1521,852.1l6.7,11.7h-13.4zM1521,856.1l6.7,11.7h-13.4zM1522,852.1l6.7,11.7h-13.4zM1523,839.1l6.7,11.7h-13.4zM1523,844.1l6.7,11.7h-13.4zM1524,859.1l6.7,11.7h-13.4zM1524,838.1l6.7,11.7h-13.4zM1525,841.1l6.7,11.7h-13.4zM1525,863.1l6.7,11.7h-13.4zM1526,856.1l6.7,11.7h-13.4zM1527,852.1l6.7,11.7h-13.4zM1527,858.1l6.7,11.7h-13.4zM1528,857.1l6.7,11.7h-13.4zM1528,840.1l6.7,11.7h-13.4zM1529,862.1l6.7,11.7h-13.4zM1529,846.1l6.7,11.7h-13.4zM1530,850.1l6.7,11.7h-13.4zM1531,859.1l6.7,11.7h-13.4zM1531,845.1l6.7,11.7h-13.4zM1532,846.1l6.7,11.7h-13.4zM1532,853.1l6.7,11.7h-13.4zM1533,845.1l6.7,11.7h-13.4zM1533,854.1l6.7,11.7h-13.4zM1534,864.1l6.7,11.7h-13.4zM1535,844.1l6.7,11.7h-13.4zM1535,860.1l6.7,11.7h-13.4zM1536,842.1l6.7,11.7h-13.4zM1536,845.1l6.7,11.7h-13.4zM1537,849.1l6.7,11.7h-13.4zM1537,847.1l6.7,11.7h-13.4zM1538,845.1l6.7,11.7h-13.4zM1539,857.1l6.7,11.7h-13.4zM1539,856.1l6.7,11.7h-13.4zM1540,848.1l6.7,11.7h-13.4zM1540,855.1l6.7,11.7h-13.4zM1541,846.1l6.7,11.7h-13.4zM1541,849.1l6.7,11.7h-13.4zM1542,865.1l6.7,11.7h-13.4zM1543,858.1l6.7,11.7h-13.4zM1543,849.1l6.7,11.7h-13.4zM1544,845.1l6.7,11.7h-13.4zM1544,861.1l6.7,11.7h-13.4zM1545,853.1l6.7,11.7h-13.4zM1545,856.1l6.7,11.7h-13.4zM1546,859.1l6.7,11.7h-13.4zM1547,851.1l6.7,11.7h-13.4zM1547,846.1l6.7,11.7h-13.4zM1548,846.1l6.7,11.7h-13.4zM1548,853.1l6.7,11.7h-13.4zM1549,861.1l6.7,11.7h-13.4zM1549,851.1l6.7,11.7h-13.4zM1550,842.1l6.7,11.7h-13.4zM1551,858.1l6.7,11.7h-13.4zM1551,851.1l6.7,11.7h-13.4zM1552,855.1l6.7,11.7h-13.4zM1552,862.1l6.7,11.7h-13.4zM1553,862.1l6.7,11.7h-13.4zM1553,851.1l6.7,11.7h-13.4zM1554,854.1l6.7,11.7h-13.4zM1555,851.1l6.7,11.7h-13.4zM1555,867.1l6.7,11.7h-13.4zM1556,858.1l6.7,11.7h-13.4zM1556,855.1l6.7,11.7h-13.4zM1557,867.1l6.7,11.7h-13.4zM1557,843.1l6.7,11.7h-13.4zM1558,865.1l6.7,11.7h-13.4zM1559,855.1l6.7,11.7h-13.4zM1559,859.1l6.7,11.7h-13.4zM1560,859.1l6.7,11.7h-13.4zM1560,854.1l6.7,11.7h-13.4zM1561,847.1l6.7,11.7h-13.4zM1561,856.1l6.7,11.7h-13.4zM1562,853.1l6.7,11.7h-13.4zM1563,861.1l6.7,11.7h-13.4zM1563,847.1l6.7,11.7h-13.4zM1564,863.1l6.7,11.7h-13.4zM1564,860.1l6.7,11.7h-13.4zM1565,848.1l6.7,11.7h-13.4zM1565,854.1l6.7,11.7h-13.4zM1566,851.1l6.7,11.7h-13.4zM1567,857.1l6.7,11.7h-13.4zM1567,857.1l6.7,11.7h-13.4zM1568,855.1l6.7,11.7h-13.4zM1568,853.1l6.7,11.7h-13.4zM1569,861.1l6.7,11.7h-13.4zM1570,859.1l6.7,11.7h-13.4zM1570,865.1l6.7,11.7h-13.4zM1571,864.1l6.7,11.7h-13.4zM1571,868.1l6.7,11.7h-13.4zM1572,849.1l6.7,11.7h-13.4zM1572,853.1l6.7,11.7h-13.4zM1573,861.1l6.7,11.7h-13.4zM1574,843.1l6.7,11.7h-13.4zM1574,864.1l6.7,11.7h-13.4zM1575,850.1l6.7,11.7h-13.4zM1575,863.1l6.7,11.7h-13.4zM1576,865.1l6.7,11.7h-13.4zM1576,857.1l6.7,11.7h-13.4zM1577,866.1l6.7,11.7h-13.4zM1578,856.1l6.7,11.7h-13.4zM1578,860.1l6.7,11.7h-13.4zM1579,865.1l6.7,11.7h-13.4zM1579,849.1l6.7,11.7h-13.4zM1580,859.1l6.7,11.7h-13.4zM1580,854.1l6.7,11.7h-13.4zM1581,861.1l6.7,11.7h-13.4zM1582,852.1l6.7,11.7h-13.4zM1582,859.1l6.7,11.7h-13.4zM1583,864.1l6.7,11.7h-13.4zM1583,866.1l6.7,11.7h-13.4zM1584,848.1l6.7,11.7h-13.4zM1584,870.1l6.7,11.7h-13.4zM1585,852.1l6.7,11.7h-13.4zM1586,858.1l6.7,11.7h-13.4zM1586,852.1l6.7,11.7h-13.4zM1587,849.1l6.7,11.7h-13.4zM1587,851.1l6.7,11.7h-13.4zM1588,862.1l6.7,11.7h-13.4zM1588,856.1l6.7,11.7h-13.4zM1589,854.1l6.7,11.7h-13.4zM1590,869.1l6.7,11.7h-13.4zM1590,859.1l6.7,11.7h-13.4zM1591,868.1l6.7,11.7h-13.4zM1591,859.1l6.7,11.7h-13.4zM1592,861.1l6.7,11.7h-13.4zM1592,851.1l6.7,11.7h-13.4zM1593,864.1l6.7,11.7h-13.4zM1594,847.1l6.7,11.7h-13.4zM1594,852.1l6.7,11.7h-13.4zM1595,853.1l6.7,11.7h-13.4zM1595,866.1l6.7,11.7h-13.4zM1596,862.1l6.7,11.7h-13.4zM1596,858.1l6.7,11.7h-13.4zM1597,856.1l6.7,11.7h-13.4zM1598,869.1l6.7,11.7h-13.4zM1598,852.1l6.7,11.7h-13.4zM1599,863.1l6.7,11.7h-13.4zM1599,864.1l6.7,11.7h-13.4zM1600,858.1l6.7,11.7h-13.4zM1600,857.1l6.7,11.7h-13.4zM1601,855.1l6.7,11.7h-13.4zM1602,851.1l6.7,11.7h-13.4zM1602,866.1l6.7,11.7h-13.4zM1603,860.1l6.7,11.7h-13.4zM1603,856.1l6.7,11.7h-13.4zM1604,865.1l6.7,11.7h-13.4zM1604,863.1l6.7,11.7h-13.4zM1605,865.1l6.7,11.7h-13.4zM1606,856.1l6.7,11.7h-13.4zM1606,863.1l6.7,11.7h-13.4zM1607,861.1l6.7,11.7h-13.4zM1607,846.1l6.7,11.7h-13.4zM1608,866.1l6.7,11.7h-13.4zM1608,870.1l6.7,11.7h-13.4zM1609,846.1l6.7,11.7h-13.4zM1610,871.1l6.7,11.7h-13.4zM1610,852.1l6.7,11.7h-13.4zM1611,858.1l6.7,11.7h-13.4zM1611,859.1l6.7,11.7h-13.4zM1612,861.1l6.7,11.7h-13.4zM1612,868.1l6.7,11.7h-13.4zM1613,869.1l6.7,11.7h-13.4zM1614,862.1l6.7,11.7h-13.4zM1614,860.1l6.7,11.7h-13.4zM1615,866.1l6.7,11.7h-13.4zM1615,861.1l6.7,11.7h-13.4zM1616,847.1l6.7,11.7h-13.4zM1616,848.1l6.7,11.7h-13.4zM1617,853.1l6.7,11.7h-13.4zM1618,860.1l6.7,11.7h-13.4zM1618,870.1l6.7,11.7h-13.4zM1619,850.1l6.7,11.7h-13.4zM1619,856.1l6.7,11.7h-13.4zM1620,862.1l6.7,11.7h-13.4zM1620,855.1l6.7,11.7h-13.4zM1621,860.1l6.7,11.7h-13.4zM1622,871.1l6.7,11.7h-13.4zM1622,861.1l6.7,11.7h-13.4zM1623,853.1l6.7,11.7h-13.4zM1623,860.1l6.7,11.7h-13.4zM1624,857.1l6.7,11.7h-13.4zM1624,853.1l6.7,11.7h-13.4zM1625,858.1l6.7,11.7h-13.4zM1626,862.1l6.7,11.7h-13.4zM1626,856.1l6.7,11.7h-13.4zM1627,855.1l6.7,11.7h-13.4zM1627,857.1l6.7,11.7h-13.4zM1628,866.1l6.7,11.7h-13.4zM1628,857.1l6.7,11.7h-13.4zM1629,851.1l6.7,11.7h-13.4zM1630,862.1l6.7,11.7h-13.4zM1630,852.1l6.7,11.7h-13.4zM1631,861.1l6.7,11.7h-13.4zM1631,863.1l6.7,11.7h-13.4zM1632,870.1l6.7,11.7h-13.4zM1632,863.1l6.7,11.7h-13.4zM1633,854.1l6.7,11.7h-13.4zM1634,857.1l6.7,11.7h-13.4zM1634,871.1l6.7,11.7h-13.4zM1635,868.1l6.7,11.7h-13.4zM1635,861.1l6.7,11.7h-13.4zM1636,867.1l6.7,11.7h-13.4zM1636,875.1l6.7,11.7h-13.4zM1637,865.1l6.7,11.7h-13.4zM1638,864.1l6.7,11.7h-13.4zM1638,863.1l6.7,11.7h-13.4zM1639,865.1l6.7,11.7h-13.4zM1639,875.1l6.7,11.7h-13.4zM1640,852.1l6.7,11.7h-13.4zM1640,849.1l6.7,11.7h-13.4zM1641,865.1l6.7,11.7h-13.4zM1642,851.1l6.7,11.7h-13.4zM1642,863.1l6.7,11.7h-13.4zM1643,848.1l6.7,11.7h-13.4zM1643,863.1l6.7,11.7h-13.4zM1644,861.1l6.7,11.7h-13.4zM1644,855.1l6.7,11.7h-13.4zM1645,870.1l6.7,11.7h-13.4zM1646,855.1l6.7,11.7h-13.4zM1646,856.1l6.7,11.7h-13.4zM1647,863.1l6.7,11.7h-13.4zM1647,863.1l6.7,11.7h-13.4zM1648,854.1l6.7,11.7h-13.4zM1648,861.1l6.7,11.7h-13.4zM1649,862.1l6.7,11.7h-13.4zM1650,866.1l6.7,11.7h-13.4zM1650,865.1l6.7,11.7h-13.4zM1651,859.1l6.7,11.7h-13.4zM1651,867.1l6.7,11.7h-13.4zM1652,875.1l6.7,11.7h-13.4zM1652,861.1l6.7,11.7h-13.4zM1653,869.1l6.7,11.7h-13.4zM1654,853.1l6.7,11.7h-13.4zM1654,850.1l6.7,11.7h-13.4zM1655,875.1l6.7,11.7h-13.4zM1655,863.1l6.7,11.7h-13.4zM1656,868.1l6.7,11.7h-13.4zM1656,863.1l6.7,11.7h-13.4zM1657,871.1l6.7,11.7h-13.4zM1658,854.1l6.7,11.7h-13.4zM1658,876.1l6.7,11.7h-13.4zM1659,857.1l6.7,11.7h-13.4zM1659,876.1l6.7,11.7h-13.4zM1660,863.1l6.7,11.7h-13.4zM1660,868.1l6.7,11.7h-13.4zM1661,864.1l6.7,11.7h-13.4zM1662,867.1l6.7,11.7h-13.4zM1662,873.1l6.7,11.7h-13.4zM1663,873.1l6.7,11.7h-13.4zM1663,866.1l6.7,11.7h-13.4zM1664,863.1l6.7,11.7h-13.4zM1664,873.1l6.7,11.7h-13.4zM1665,859.1l6.7,11.7h-13.4zM1666,869.1l6.7,11.7h-13.4zM1666,867.1l6.7,11.7h-13.4zM1667,872.1l6.7,11.7h-13.4zM1667,862.1l6.7,11.7h-13.4zM1668,859.1l6.7,11.7h-13.4zM1668,864.1l6.7,11.7h-13.4zM1669,868.1l6.7,11.7h-13.4zM1670,852.1l6.7,11.7h-13.4zM1670,871.1l6.7,11.7h-13.4zM1671,874.1l6.7,11.7h-13.4zM1671,872.1l6.7,11.7h-13.4zM1672,871.1l6.7,11.7h-13.4zM1672,868.1l6.7,11.7h-13.4zM1673,871.1l6.7,11.7h-13.4zM1674,869.1l6.7,11.7h-13.4zM1674,868.1l6.7,11.7h-13.4zM1675,856.1l6.7,11.7h-13.4zM1675,873.1l6.7,11.7h-13.4zM1676,864.1l6.7,11.7h-13.4zM1676,872.1l6.7,11.7h-13.4zM1677,862.1l6.7,11.7h-13.4zM1678,852.1l6.7,11.7h-13.4zM1678,862.1l6.7,11.7h-13.4zM1679,862.1l6.7,11.7h-13.4zM1679,875.1l6.7,11.7h-13.4zM1680,862.1l6.7,11.7h-13.4zM1680,866.1l6.7,11.7h-13.4zM1681,863.1l6.7,11.7h-13.4zM1682,876.1l6.7,11.7h-13.4zM1682,877.1l6.7,11.7h-13.4zM1683,861.1l6.7,11.7h-13.4zM1683,869.1l6.7,11.7h-13.4zM1684,864.1l6.7,11.7h-13.4zM1684,869.1l6.7,11.7h-13.4zM1685,872.1l6.7,11.7h-13.4zM1686,876.1l6.7,11.7h-13.4zM1686,867.1l6.7,11.7h-13.4zM1687,869.1l6.7,11.7h-13.4zM1687,877.1l6.7,11.7h-13.4zM1688,857.1l6.7,11.7h-13.4zM1688,867.1l6.7,11.7h-13.4zM1689,859.1l6.7,11.7h-13.4zM1690,878.1l6.7,11.7h-13.4zM1690,871.1l6.7,11.7h-13.4zM1691,879.1l6.7,11.7h-13.4zM1691,852.1l6.7,11.7h-13.4zM1692,872.1l6.7,11.7h-13.4zM1692,854.1l6.7,11.7h-13.4zM1693,868.1l6.7,11.7h-13.4zM1694,870.1l6.7,11.7h-13.4zM1694,872.1l6.7,11.7h-13.4zM1695,861.1l6.7,11.7h-13.4zM1695,870.1l6.7,11.7h-13.4zM1696,879.1l6.7,11.7h-13.4zM1696,863.1l6.7,11.7h-13.4zM1697,863.1l6.7,11.7h-13.4zM1698,872.1l6.7,11.7h-13.4zM1698,865.1l6.7,11.7h-13.4zM1699,866.1l6.7,11.7h-13.4zM1699,859.1l6.7,11.7h-13.4zM1700,876.1l6.7,11.7h-13.4zM1700,873.1l6.7,11.7h-13.4zM1701,869.1l6.7,11.7h-13.4zM1702,878.1l6.7,11.7h-13.4zM1702,872.1l6.7,11.7h-13.4zM1703,875.1l6.7,11.7h-13.4zM1703,870.1l6.7,11.7h-13.4zM1704,861.1l6.7,11.7h-13.4zM1704,861.1l6.7,11.7h-13.4zM1705,882.1l6.7,11.7h-13.4zM1706,854.1l6.7,11.7h-13.4zM1706,861.1l6.7,11.7h-13.4zM1707,869.1l6.7,11.7h-13.4zM1707,860.1l6.7,11.7h-13.4zM1708,864.1l6.7,11.7h-13.4zM1708,873.1l6.7,11.7h-13.4zM1709,871.1l6.7,11.7h-13.4zM1710,860.1l6.7,11.7h-13.4zM1710,878.1l6.7,11.7h-13.4zM1711,869.1l6.7,11.7h-13.4zM1711,876.1l6.7,11.7h-13.4zM1712,881.1l6.7,11.7h-13.4zM1712,881.1l6.7,11.7h-13.4zM1713,873.1l6.7,11.7h-13.4zM1714,867.1l6.7,11.7h-13.4zM1714,880.1l6.7,11.7h-13.4zM1715,869.1l6.7,11.7h-13.4zM1715,879.1l6.7,11.7h-13.4zM1716,873.1l6.7,11.7h-13.4zM1716,871.1l6.7,11.7h-13.4zM1717,883.1l6.7,11.7h-13.4zM1718,880.1l6.7,11.7h-13.4zM1718,876.1l6.7,11.7h-13.4zM1719,858.1l6.7,11.7h-13.4zM1719,874.1l6.7,11.7h-13.4zM1720,856.1l6.7,11.7h-13.4zM1720,864.1l6.7,11.7h-13.4zM1721,872.1l6.7,11.7h-13.4zM1722,864.1l6.7,11.7h-13.4zM1722,872.1l6.7,11.7h-13.4zM1723,878.1l6.7,11.7h-13.4zM1723,875.1l6.7,11.7h-13.4zM1724,860.1l6.7,11.7h-13.4zM1724,876.1l6.7,11.7h-13.4zM1725,866.1l6.7,11.7h-13.4zM1726,862.1l6.7,11.7h-13.4zM1726,871.1l6.7,11.7h-13.4zM1727,885.1l6.7,11.7h-13.4zM1727,880.1l6.7,11.7h-13.4zM1728,875.1l6.7,11.7h-13.4zM1728,860.1l6.7,11.7h-13.4zM1729,880.1l6.7,11.7h-13.4zM1730,877.1l6.7,11.7h-13.4zM1730,866.1l6.7,11.7h-13.4zM1731,872.1l6.7,11.7h-13.4zM1731,856.1l6.7,11.7h-13.4zM1732,886.1l6.7,11.7h-13.4zM1732,858.1l6.7,11.7h-13.4zM1733,877.1l6.7,11.7h-13.4zM1734,863.1l6.7,11.7h-13.4zM1734,874.1l6.7,11.7h-13.4zM1735,869.1l6.7,11.7h-13.4zM1735,869.1l6.7,11.7h-13.4zM1736,870.1l6.7,11.7h-13.4zM1736,873.1l6.7,11.7h-13.4zM1737,872.1l6.7,11.7h-13.4zM1738,880.1l6.7,11.7h-13.4zM1738,862.1l6.7,11.7h-13.4zM1739,883.1l6.7,11.7h-13.4zM1739,878.1l6.7,11.7h-13.4zM1740,874.1l6.7,11.7h-13.4zM1740,873.1l6.7,11.7h-13.4zM1741,876.1l6.7,11.7h-13.4zM1742,863.1l6.7,11.7h-13.4zM1742,886.1l6.7,11.7h-13.4zM1743,868.1l6.7,11.7h-13.4zM1743,877.1l6.7,11.7h-13.4zM1744,881.1l6.7,11.7h-13.4zM1744,877.1l6.7,11.7h-13.4zM1745,871.1l6.7,11.7h-13.4zM1746,867.1l6.7,11.7h-13.4zM1746,872.1l6.7,11.7h-13.4zM1747,859.1l6.7,11.7h-13.4zM1747,879.1l6.7,11.7h-13.4zM1748,876.1l6.7,11.7h-13.4zM1748,881.1l6.7,11.7h-13.4zM1749,871.1l6.7,11.7h-13.4zM1750,865.1l6.7,11.7h-13.4zM1750,886.1l6.7,11.7h-13.4zM1751,867.1l6.7,11.7h-13.4zM1751,878.1l6.7,11.7h-13.4zM1752,881.1l6.7,11.7h-13.4zM1752,880.1l6.7,11.7h-13.4zM1753,876.1l6.7,11.7h-13.4zM1754,869.1l6.7,11.7h-13.4zM1754,888.1l6.7,11.7h-13.4zM1755,862.1l6.7,11.7h-13.4zM1755,862.1l6.7,11.7h-13.4zM1756,888.1l6.7,11.7h-13.4zM1756,861.1l6.7,11.7h-13.4zM1757,882.1l6.7,11.7h-13.4zM1758,878.1l6.7,11.7h-13.4zM1758,880.1l6.7,11.7h-13.4zM1759,867.1l6.7,11.7h-13.4zM1759,871.1l6.7,11.7h-13.4zM1760,878.1l6.7,11.7h-13.4zM1760,877.1l6.7,11.7h-13.4zM1761,874.1l6.7,11.7h-13.4zM1762,876.1l6.7,11.7h-13.4zM1762,880.1l6.7,11.7h-13.4zM1763,873.1l6.7,11.7h-13.4zM1763,862.1l6.7,11.7h-13.4zM1764,876.1l6.7,11.7h-13.4zM1764,883.1l6.7,11.7h-13.4zM1765,866.1l6.7,11.7h-13.4zM1766,865.1l6.7,11.7h-13.4zM1766,882.1l6.7,11.7h-13.4zM1767,879.1l6.7,11.7h-13.4zM1767,870.1l6.7,11.7h-13.4zM1768,886.1l6.7,11.7h-13.4zM1768,889.1l6.7,11.7h-13.4zM1769,879.1l6.7,11.7h-13.4zM1770,888.1l6.7,11.7h-13.4zM1770,887.1l6.7,11.7h-13.4zM1771,877.1l6.7,11.7h-13.4zM1771,883.1l6.7,11.7h-13.4zM1772,888.1l6.7,11.7h-13.4zM1772,882.1l6.7,11.7h-13.4zM1773,883.1l6.7,11.7h-13.4zM1774,875.1l6.7,11.7h-13.4zM1774,861.1l6.7,11.7h-13.4zM1775,891.1l6.7,11.7h-13.4zM1775,866.1l6.7,11.7h-13.4zM1776,865.1l6.7,11.7h-13.4zM1776,866.1l6.7,11.7h-13.4zM1777,880.1l6.7,11.7h-13.4zM1778,887.1l6.7,11.7h-13.4zM1778,884.1l6.7,11.7h-13.4zM1779,868.1l6.7,11.7h-13.4zM1779,878.1l6.7,11.7h-13.4zM1780,873.1l6.7,11.7h-13.4zM1780,889.1l6.7,11.7h-13.4zM1781,865.1l6.7,11.7h-13.4zM1782,868.1l6.7,11.7h-13.4zM1782,877.1l6.7,11.7h-13.4zM1783,880.1l6.7,11.7h-13.4zM1783,880.1l6.7,11.7h-13.4zM1784,875.1l6.7,11.7h-13.4zM1784,864.1l6.7,11.7h-13.4zM1785,876.1l6.7,11.7h-13.4zM1786,866.1l6.7,11.7h-13.4zM1786,872.1l6.7,11.7h-13.4zM1787,869.1l6.7,11.7h-13.4zM1787,887.1l6.7,11.7h-13.4zM1788,877.1l6.7,11.7h-13.4zM1788,868.1l6.7,11.7h-13.4zM1789,876.1l6.7,11.7h-13.4zM1790,869.1l6.7,11.7h-13.4zM1790,892.1l6.7,11.7h-13.4zM1791,887.1l6.7,11.7h-13.4zM1791,871.1l6.7,11.7h-13.4zM1792,880.1l6.7,11.7h-13.4zM1792,891.1l6.7,11.7h-13.4zM1793,874.1l6.7,11.7h-13.4zM1794,863.1l6.7,11.7h-13.4zM1794,865.1l6.7,11.7h-13.4zM1795,883.1l6.7,11.7h-13.4zM1795,871.1l6.7,11.7h-13.4zM1796,888.1l6.7,11.7h-13.4zM1796,888.1l6.7,11.7h-13.4zM1797,885.1l6.7,11.7h-13.4zM1798,877.1l6.7,11.7h-13.4zM1798,875.1l6.7,11.7h-13.4zM1799,881.1l6.7,11.7h-13.4zM1799,875.1l6.7,11.7h-13.4zM1800,880.1l6.7,11.7h-13.4zM1800,879.1l6.7,11.7h-13.4zM1801,877.1l6.7,11.7h-13.4zM1802,892.1l6.7,11.7h-13.4zM1802,888.1l6.7,11.7h-13.4zM1803,888.1l6.7,11.7h-13.4zM1803,867.1l6.7,11.7h-13.4zM1804,872.1l6.7,11.7h-13.4zM1804,882.1l6.7,11.7h-13.4zM1805,875.1l6.7,11.7h-13.4zM1806,867.1l6.7,11.7h-13.4zM1806,886.1l6.7,11.7h-13.4zM1807,870.1l6.7,11.7h-13.4zM1807,885.1l6.7,11.7h-13.4zM1808,870.1l6.7,11.7h-13.4zM1808,882.1l6.7,11.7h-13.4zM1809,868.1l6.7,11.7h-13.4zM1810,864.1l6.7,11.7h-13.4zM1810,874.1l6.7,11.7h-13.4zM1811,870.1l6.7,11.7h-13.4zM1811,871.1l6.7,11.7h-13.4zM1812,876.1l6.7,11.7h-13.4zM1812,881.1l6.7,11.7h-13.4zM1813,891.1l6.7,11.7h-13.4zM1814,894.1l6.7,11.7h-13.4zM1814,870.1l6.7,11.7h-13.4zM1815,878.1l6.7,11.7h-13.4zM1815,872.1l6.7,11.7h-13.4zM1816,871.1l6.7,11.7h-13.4zM1816,868.1l6.7,11.7h-13.4zM1817,880.1l6.7,11.7h-13.4zM1818,877.1l6.7,11.7h-13.4zM1818,882.1l6.7,11.7h-13.4zM1819,867.1l6.7,11.7h-13.4zM1819,868.1l6.7,11.7h-13.4zM1820,870.1l6.7,11.7h-13.4zM1820,886.1l6.7,11.7h-13.4zM1821,885.1l6.7,11.7h-13.4zM1822,882.1l6.7,11.7h-13.4zM1822,881.1l6.7,11.7h-13.4zM1823,881.1l6.7,11.7h-13.4zM1823,878.1l6.7,11.7h-13.4zM1824,887.1l6.7,11.7h-13.4zM1824,868.1l6.7,11.7h-13.4zM1825,888.1l6.7,11.7h-13.4zM1826,877.1l6.7,11.7h-13.4zM1826,878.1l6.7,11.7h-13.4zM1827,881.1l6.7,11.7h-13.4zM1827,874.1l6.7,11.7h-13.4zM1828,885.1l6.7,11.7h-13.4zM1828,883.1l6.7,11.7h-13.4zM1829,877.1l6.7,11.7h-13.4zM1830,871.1l6.7,11.7h-13.4zM1830,893.1l6.7,11.7h-13.4zM1831,885.1l6.7,11.7h-13.4zM1831,877.1l6.7,11.7h-13.4zM1832,895.1l6.7,11.7h-13.4zM1832,882.1l6.7,11.7h-13.4zM1833,876.1l6.7,11.7h-13.4zM1834,885.1l6.7,11.7h-13.4zM1834,893.1l6.7,11.7h-13.4zM1835,866.1l6.7,11.7h-13.4zM1835,888.1l6.7,11.7h-13.4zM1836,878.1l6.7,11.7h-13.4zM1836,889.1l6.7,11.7h-13.4zM1837,876.1l6.7,11.7h-13.4zM1838,879.1l6.7,11.7h-13.4zM1838,888.1l6.7,11.7h-13.4zM1839,895.1l6.7,11.7h-13.4zM1839,891.1l6.7,11.7h-13.4zM1840,867.1l6.7,11.7h-13.4zM1840,879.1l6.7,11.7h-13.4zM1841,882.1l6.7,11.7h-13.4zM1842,886.1l6.7,11.7h-13.4zM1842,887.1l6.7,11.7h-13.4zM1843,887.1l6.7,11.7h-13.4zM1843,885.1l6.7,11.7h-13.4zM1844,888.1l6.7,11.7h-13.4zM1844,878.1l6.7,11.7h-13.4zM1845,888.1l6.7,11.7h-13.4zM1846,880.1l6.7,11.7h-13.4zM1846,878.1l6.7,11.7h-13.4zM1847,878.1l6.7,11.7h-13.4zM1847,887.1l6.7,11.7h-13.4zM1848,893.1l6.7,11.7h-13.4zM1848,894.1l6.7,11.7h-13.4zM1849,882.1l6.7,11.7h-13.4zM1850,887.1l6.7,11.7h-13.4zM1850,880.1l6.7,11.7h-13.4zM1851,889.1l6.7,11.7h-13.4zM1851,891.1l6.7,11.7h-13.4zM1852,876.1l6.7,11.7h-13.4zM1852,882.1l6.7,11.7h-13.4zM1853,885.1l6.7,11.7h-13.4zM1854,890.1l6.7,11.7h-13.4zM1854,889.1l6.7,11.7h-13.4zM1855,877.1l6.7,11.7h-13.4zM1855,893.1l6.7,11.7h-13.4zM1856,891.1l6.7,11.7h-13.4zM1856,870.1l6.7,11.7h-13.4zM1857,882.1l6.7,11.7h-13.4zM1858,879.1l6.7,11.7h-13.4zM1858,888.1l6.7,11.7h-13.4zM1859,892.1l6.7,11.7h-13.4zM1859,886.1l6.7,11.7h-13.4zM1860,876.1l6.7,11.7h-13.4zM1860,887.1l6.7,11.7h-13.4zM1861,869.1l6.7,11.7h-13.4zM1862,883.1l6.7,11.7h-13.4zM1862,870.1l6.7,11.7h-13.4zM1863,885.1l6.7,11.7h-13.4zM1863,894.1l6.7,11.7h-13.4zM1864,873.1l6.7,11.7h-13.4zM1864,884.1l6.7,11.7h-13.4zM1865,882.1l6.7,11.7h-13.4zM1866,882.1l6.7,11.7h-13.4zM1866,875.1l6.7,11.7h-13.4zM1867,876.1l6.7,11.7h-13.4zM1867,878.1l6.7,11.7h-13.4zM1868,885.1l6.7,11.7h-13.4zM1868,897.1l6.7,11.7h-13.4zM1869,896.1l6.7,11.7h-13.4zM1870,897.1l6.7,11.7h-13.4zM1870,881.1l6.7,11.7h-13.4zM1871,881.1l6.7,11.7h-13.4zM1871,888.1l6.7,11.7h-13.4zM1872,879.1l6.7,11.7h-13.4zM1872,888.1l6.7,11.7h-13.4zM1873,891.1l6.7,11.7h-13.4zM1874,886.1l6.7,11.7h-13.4zM1874,880.1l6.7,11.7h-13.4zM1875,893.1l6.7,11.7h-13.4zM1875,897.1l6.7,11.7h-13.4zM1876,889.1l6.7,11.7h-13.4zM1876,877.1l6.7,11.7h-13.4zM1877,891.1l6.7,11.7h-13.4zM1878,882.1l6.7,11.7h-13.4zM1878,891.1l6.7,11.7h-13.4zM1879,897.1l6.7,11.7h-13.4zM1879,891.1l6.7,11.7h-13.4zM1880,897.1l6.7,11.7h-13.4zM1880,889.1l6.7,11.7h-13.4zM1881,872.1l6.7,11.7h-13.4zM1882,884.1l6.7,11.7h-13.4zM1882,874.1l6.7,11.7h-13.4zM1883,881.1l6.7,11.7h-13.4zM1883,877.1l6.7,11.7h-13.4zM1884,891.1l6.7,11.7h-13.4zM1884,875.1l6.7,11.7h-13.4zM1885,891.1l6.7,11.7h-13.4zM1886,878.1l6.7,11.7h-13.4zM1886,882.1l6.7,11.7h-13.4zM1887,878.1l6.7,11.7h-13.4zM1887,893.1l6.7,11.7h-13.4zM1888,897.1l6.7,11.7h-13.4zM1888,888.1l6.7,11.7h-13.4zM1889,892.1l6.7,11.7h-13.4zM1890,884.1l6.7,11.7h-13.4zM1890,892.1l6.7,11.7h-13.4zM1891,877.1l6.7,11.7h-13.4zM1891,885.1l6.7,11.7h-13.4zM1892,885.1l6.7,11.7h-13.4zM1892,891.1l6.7,11.7h-13.4zM1893,891.1l6.7,11.7h-13.4zM1894,895.1l6.7,11.7h-13.4zM1894,885.1l6.7,11.7h-13.4zM1895,875.1l6.7,11.7h-13.4zM1895,888.1l6.7,11.7h-13.4zM1896,886.1l6.7,11.7h-13.4zM1896,895.1l6.7,11.7h-13.4zM1897,887.1l6.7,11.7h-13.4zM1898,885.1l6.7,11.7h-13.4zM1898,893.1l6.7,11.7h-13.4zM1899,884.1l6.7,11.7h-13.4zM1899,888.1l6.7,11.7h-13.4zM1900,876.1l6.7,11.7h-13.4zM1900,881.1l6.7,11.7h-13.4zM1901,878.1l6.7,11.7h-13.4zM1902,887.1l6.7,11.7h-13.4zM1902,891.1l6.7,11.7h-13.4zM1903,886.1l6.7,11.7h-13.4zM1903,885.1l6.7,11.7h-13.4zM1904,899.1l6.7,11.7h-13.4zM1904,885.1l6.7,11.7h-13.4zM1905,888.1l6.7,11.7h-13.4zM1906,889.1l6.7,11.7h-13.4zM1906,895.1l6.7,11.7h-13.4zM1907,873.1l6.7,11.7h-13.4zM1907,884.1l6.7,11.7h-13.4zM1908,892.1l6.7,11.7h-13.4zM1908,893.1l6.7,11.7h-13.4zM1909,890.1l6.7,11.7h-13.4zM1910,885.1l6.7,11.7h-13.4zM1910,888.1l6.7,11.7h-13.4zM1911,889.1l6.7,11.7h-13.4zM1911,876.1l6.7,11.7h-13.4zM1912,899.1l6.7,11.7h-13.4zM1912,879.1l6.7,11.7h-13.4zM1913,877.1l6.7,11.7h-13.4zM1914,891.1l6.7,11.7h-13.4zM1914,878.1l6.7,11.7h-13.4zM1915,883.1l6.7,11.7h-13.4zM1915,875.1l6.7,11.7h-13.4zM1916,882.1l6.7,11.7h-13.4zM1916,889.1l6.7,11.7h-13.4zM1917,887.1l6.7,11.7h-13.4zM1918,896.1l6.7,11.7h-13.4zM1918,880.1l6.7,11.7h-13.4zM1919,889.1l6.7,11.7h-13.4zM1919,884.1l6.7,11.7h-13.4zM1920,878.1l6.7,11.7h-13.4zM1920,882.1l6.7,11.7h-13.4zM1921,891.1l6.7,11.7h-13.4zM1922,888.1l6.7,11.7h-13.4zM1922,886.1l6.7,11.7h-13.4zM1923,875.1l6.7,11.7h-13.4zM1923,891.1l6.7,11.7h-13.4zM1924,892.1l6.7,11.7h-13.4zM1924,883.1l6.7,11.7h-13.4zM1925,899.1l6.7,11.7h-13.4zM1926,894.1l6.7,11.7h-13.4zM1926,885.1l6.7,11.7h-13.4zM1927,876.1l6.7,11.7h-13.4zM1927,888.1l6.7,11.7h-13.4zM1928,874.1l6.7,11.7h-13.4zM1928,885.1l6.7,11.7h-13.4zM1929,884.1l6.7,11.7h-13.4zM1930,888.1l6.7,11.7h-13.4zM1930,875.1l6.7,11.7h-13.4zM1931,879.1l6.7,11.7h-13.4zM1931,875.1l6.7,11.7h-13.4zM1932,882.1l6.7,11.7h-13.4zM1932,876.1l6.7,11.7h-13.4zM1933,883.1l6.7,11.7h-13.4zM1934,893.1l6.7,11.7h-13.4zM1934,889.1l6.7,11.7h-13.4zM1935,887.1l6.7,11.7h-13.4zM1935,883.1l6.7,11.7h-13.4zM1936,890.1l6.7,11.7h-13.4zM1936,887.1l6.7,11.7h-13.4zM1937,888.1l6.7,11.7h-13.4zM1938,881.1l6.7,11.7h-13.4zM1938,886.1l6.7,11.7h-13.4zM1939,877.1l6.7,11.7h-13.4zM1939,888.1l6.7,11.7h-13.4zM1940,891.1l6.7,11.7h-13.4zM1941,882.1l6.7,11.7h-13.4zM1941,887.1l6.7,11.7h-13.4zM1942,901.1l6.7,11.7h-13.4zM1942,887.1l6.7,11.7h-13.4zM1943,894.1l6.7,11.7h-13.4zM1943,888.1l6.7,11.7h-13.4zM1944,882.1l6.7,11.7h-13.4zM1945,889.1l6.7,11.7h-13.4zM1945,893.1l6.7,11.7h-13.4zM1946,885.1l6.7,11.7h-13.4zM1946,881.1l6.7,11.7h-13.4zM1947,888.1l6.7,11.7h-13.4zM1947,881.1l6.7,11.7h-13.4zM1948,892.1l6.7,11.7h-13.4zM1949,890.1l6.7,11.7h-13.4zM1949,894.1l6.7,11.7h-13.4zM1950,886.1l6.7,11.7h-13.4zM1950,881.1l6.7,11.7h-13.4zM1951,884.1l6.7,11.7h-13.4zM1951,892.1l6.7,11.7h-13.4zM1952,892.1l6.7,11.7h-13.4zM1953,882.1l6.7,11.7h-13.4zM1953,894.1l6.7,11.7h-13.4zM1954,888.1l6.7,11.7h-13.4zM1954,890.1l6.7,11.7h-13.4zM1955,888.1l6.7,11.7h-13.4zM1955,883.1l6.7,11.7h-13.4zM1956,877.1l6.7,11.7h-13.4zM1957,888.1l6.7,11.7h-13.4zM1957,900.1l6.7,11.7h-13.4zM1958,887.1l6.7,11.7h-13.4zM1958,886.1l6.7,11.7h-13.4zM1959,896.1l6.7,11.7h-13.4zM1959,896.1l6.7,11.7h-13.4zM1960,889.1l6.7,11.7h-13.4zM1961,884.1l6.7,11.7h-13.4zM1961,891.1l6.7,11.7h-13.4zM1962,887.1l6.7,11.7h-13.4zM1962,897.1l6.7,11.7h-13.4zM1963,889.1l6.7,11.7h-13.4zM1963,886.1l6.7,11.7h-13.4zM1964,888.1l6.7,11.7h-13.4zM1965,897.1l6.7,11.7h-13.4zM1965,889.1l6.7,11.7h-13.4zM1966,883.1l6.7,11.7h-13.4zM1966,891.1l6.7,11.7h-13.4zM1967,886.1l6.7,11.7h-13.4zM1967,892.1l6.7,11.7h-13.4zM1968,885.1l6.7,11.7h-13.4zM1969,883.1l6.7,11.7h-13.4zM1969,890.1l6.7,11.7h-13.4zM1970,882.1l6.7,11.7h-13.4zM1970,889.1l6.7,11.7h-13.4zM1971,894.1l6.7,11.7h-13.4zM1971,901.1l6.7,11.7h-13.4zM1972,880.1l6.7,11.7h-13.4zM1973,887.1l6.7,11.7h-13.4zM1973,880.1l6.7,11.7h-13.4zM1974,881.1l6.7,11.7h-13.4zM1974,891.1l6.7,11.7h-13.4zM1975,896.1l6.7,11.7h-13.4zM1975,897.1l6.7,11.7h-13.4zM1976,887.1l6.7,11.7h-13.4zM1977,896.1l6.7,11.7h-13.4zM1977,900.1l6.7,11.7h-13.4zM1978,890.1l6.7,11.7h-13.4zM1978,892.1l6.7,11.7h-13.4zM1979,884.1l6.7,11.7h-13.4zM1979,897.1l6.7,11.7h-13.4zM1980,885.1l6.7,11.7h-13.4zM1981,893.1l6.7,11.7h-13.4zM1981,888.1l6.7,11.7h-13.4zM1982,893.1l6.7,11.7h-13.4zM1982,888.1l6.7,11.7h-13.4zM1983,896.1l6.7,11.7h-13.4zM1983,889.1l6.7,11.7h-13.4zM1984,898.1l6.7,11.7h-13.4zM1985,893.1l6.7,11.7h-13.4zM1985,893.1l6.7,11.7h-13.4zM1986,881.1l6.7,11.7h-13.4zM1986,901.1l6.7,11.7h-13.4zM1987,887.1l6.7,11.7h-13.4zM1987,899.1l6.7,11.7h-13.4zM1988,899.1l6.7,11.7h-13.4zM1989,898.1l6.7,11.7h-13.4zM1989,897.1l6.7,11.7h-13.4zM1990,888.1l6.7,11.7h-13.4zM1990,896.1l6.7,11.7h-13.4zM1991,898.1l6.7,11.7h-13.4zM1991,889.1l6.7,11.7h-13.4zM1992,898.1l6.7,11.7h-13.4zM592,729.1l6.7,11.7h-13.4zM641,735.1l6.7,11.7h-13.4zM1858,814.1l6.7,11.7h-13.4zM1858,830.1l6.7,11.7h-13.4z" fill="#0f0"/>
<path d="M277,764.9l6.7,-11.7h-13.4zM278,758.9l6.7,-11.7h-13.4zM278,771.9l6.7,-11.7h-13.4zM279,768.9l6.7,-11.7h-13.4zM279,775.9l6.7,-11.7h-13.4zM280,770.9l6.7,-11.7h-13.4zM280,758.9l6.7,-11.7h-13.4zM281,769.9l6.7,-11.7h-13.4zM282,758.9l6.7,-11.7h-13.4zM282,773.9l6.7,-11.7h-13.4zM283,777.9l6.7,-11.7h-13.4zM283,763.9l6.7,-11.7h-13.4zM284,774.9l6.7,-11.7h-13.4zM284,766.9l6.7,-11.7h-13.4zM285,773.9l6.7,-11.7h-13.4zM286,760.9l6.7,-11.7h-13.4zM286,769.9l6.7,-11.7h-13.4zM287,763.9l6.7,-11.7h-13.4zM287,768.9l6.7,-11.7h-13.4zM288,766.9l6.7,-11.7h-13.4zM288,758.9l6.7,-11.7h-13.4zM289,773.9l6.7,-11.7h-13.4zM290,771.9l6.7,-11.7h-13.4zM290,773.9l6.7,-11.7h-13.4zM291,763.9l6.7,-11.7h-13.4zM291,774.9l6.7,-11.7h-13.4zM292,773.9l6.7,-11.7h-13.4zM292,760.9l6.7,-11.7h-13.4zM293,774.9l6.7,-11.7h-13.4zM294,771.9l6.7,-11.7h-13.4zM294,778.9l6.7,-11.7h-13.4zM295,760.9l6.7,-11.7h-13.4zM295,759.9l6.7,-11.7h-13.4zM296,762.9l6.7,-11.7h-13.4zM296,763.9l6.7,-11.7h-13.4zM297,761.9l6.7,-11.7h-13.4zM298,777.9l6.7,-11.7h-13.4zM298,770.9l6.7,-11.7h-13.4zM299,760.9l6.7,-11.7h-13.4zM299,764.9l6.7,-11.7h-13.4zM300,763.9l6.7,-11.7h-13.4zM300,764.9l6.7,-11.7h-13.4zM301,765.9l6.7,-11.7h-13.4zM302,767.9l6.7,-11.7h-13.4zM302,771.9l6.7,-11.7h-13.4zM303,764.9l6.7,-11.7h-13.4zM303,777.9l6.7,-11.7h-13.4zM304,775.9l6.7,-11.7h-13.4zM304,767.9l6.7,-11.7h-13.4zM305,782.9l6.7,-11.7h-13.4zM306,783.9l6.7,-11.7h-13.4zM306,766.9l6.7,-11.7h-13.4zM307,770.9l6.7,-11.7h-13.4zM307,783.9l6.7,-11.7h-13.4zM308,787.9l6.7,-11.7h-13.4zM308,787.9l6.7,-11.7h-13.4zM309,772.9l6.7,-11.7h-13.4zM310,767.9l6.7,-11.7h-13.4zM310,775.9l6.7,-11.7h-13.4zM311,770.9l6.7,-11.7h-13.4zM311,784.9l6.7,-11.7h-13.4zM312,767.9l6.7,-11.7h-13.4zM312,780.9l6.7,-11.7h-13.4zM313,776.9l6.7,-11.7h-13.4zM314,789.9l6.7,-11.7h-13.4zM314,785.9l6.7,-11.7h-13.4zM315,769.9l6.7,-11.7h-13.4zM315,771.9l6.7,-11.7h-13.4zM316,769.9l6.7,-11.7h-13.4zM316,780.9l6.7,-11.7h-13.4zM317,789.9l6.7,-11.7h-13.4zM318,781.9l6.7,-11.7h-13.4zM318,779.9l6.7,-11.7h-13.4zM319,783.9l6.7,-11.7h-13.4zM319,779.9l6.7,-11.7h-13.4zM320,773.9l6.7,-11.7h-13.4zM320,794.9l6.7,-11.7h-13.4zM321,777.9l6.7,-11.7h-13.4zM322,771.9l6.7,-11.7h-13.4zM322,779.9l6.7,-11.7h-13.4zM323,769.9l6.7,-11.7h-13.4zM323,776.9l6.7,-11.7h-13.4zM324,784.9l6.7,-11.7h-13.4zM324,770.9l6.7,-11.7h-13.4zM325,790.9l6.7,-11.7h-13.4zM326,770.9l6.7,-11.7h-13.4zM326,772.9l6.7,-11.7h-13.4zM327,793.9l6.7,-11.7h-13.4zM327,784.9l6.7,-11.7h-13.4zM328,776.9l6.7,-11.7h-13.4zM328,795.9l6.7,-11.7h-13.4zM329,790.9l6.7,-11.7h-13.4zM330,774.9l6.7,-11.7h-13.4zM330,780.9l6.7,-11.7h-13.4zM331,769.9l6.7,-11.7h-13.4zM331,791.9l6.7,-11.7h-13.4zM332,786.9l6.7,-11.7h-13.4zM332,766.9l6.7,-11.7h-13.4zM333,791.9l6.7,-11.7h-13.4zM334,771.9l6.7,-11.7h-13.4zM334,785.9l6.7,-11.7h-13.4zM335,766.9l6.7,-11.7h-13.4zM335,788.9l6.7,-11.7h-13.4zM336,779.9l6.7,-11.7h-13.4zM336,787.9l6.7,-11.7h-13.4zM337,769.9l6.7,-11.7h-13.4zM338,768.9l6.7,-11.7h-13.4zM338,794.9l6.7,-11.7h-13.4zM339,781.9l6.7,-11.7h-13.4zM339,769.9l6.7,-11.7h-13.4zM340,778.9l6.7,-11.7h-13.4zM340,767.9l6.7,-11.7h-13.4zM341,769.9l6.7,-11.7h-13.4zM342,772.9l6.7,-11.7h-13.4zM342,766.9l6.7,-11.7h-13.4zM343,770.9l6.7,-11.7h-13.4zM343,779.9l6.7,-11.7h-13.4zM344,772.9l6.7,-11.7h-13.4zM344,766.9l6.7,-11.7h-13.4zM345,772.9l6.7,-11.7h-13.4zM346,780.9l6.7,-11.7h-13.4zM346,779.9l6.7,-11.7h-13.4zM347,778.9l6.7,-11.7h-13.4zM347,767.9l6.7,-11.7h-13.4zM348,773.9l6.7,-11.7h-13.4zM348,785.9l6.7,-11.7h-13.4zM349,769.9l6.7,-11.7h-13.4zM350,780.9l6.7,-11.7h-13.4zM350,789.9l6.7,-11.7h-13.4zM351,774.9l6.7,-11.7h-13.4zM351,781.9l6.7,-11.7h-13.4zM352,784.9l6.7,-11.7h-13.4zM352,787.9l6.7,-11.7h-13.4zM353,791.9l6.7,-11.7h-13.4zM354,766.9l6.7,-11.7h-13.4zM354,773.9l6.7,-11.7h-13.4zM355,791.9l6.7,-11.7h-13.4zM355,793.9l6.7,-11.7h-13.4zM356,777.9l6.7,-11.7h-13.4zM356,767.9l6.7,-11.7h-13.4zM357,781.9l6.7,-11.7h-13.4zM358,790.9l6.7,-11.7h-13.4zM358,786.9l6.7,-11.7h-13.4zM359,786.9l6.7,-11.7h-13.4zM359,767.9l6.7,-11.7h-13.4zM360,767.9l6.7,-11.7h-13.4zM360,789.9l6.7,-11.7h-13.4zM361,796.9l6.7,-11.7h-13.4zM362,779.9l6.7,-11.7h-13.4zM362,794.9l6.7,-11.7h-13.4zM363,793.9l6.7,-11.7h-13.4zM363,779.9l6.7,-11.7h-13.4zM364,783.9l6.7,-11.7h-13.4zM364,781.9l6.7,-11.7h-13.4zM365,795.9l6.7,-11.7h-13.4zM366,770.9l6.7,-11.7h-13.4zM366,770.9l6.7,-11.7h-13.4zM367,771.9l6.7,-11.7h-13.4zM367,788.9l6.7,-11.7h-13.4zM368,781.9l6.7,-11.7h-13.4zM368,773.9l6.7,-11.7h-13.4zM369,777.9l6.7,-11.7h-13.4zM370,774.9l6.7,-11.7h-13.4zM370,782.9l6.7,-11.7h-13.4zM371,779.9l6.7,-11.7h-13.4zM371,785.9l6.7,-11.7h-13.4zM372,767.9l6.7,-11.7h-13.4zM372,773.9l6.7,-11.7h-13.4zM373,783.9l6.7,-11.7h-13.4zM374,766.9l6.7,-11.7h-13.4zM374,763.9l6.7,-11.7h-13.4zM375,769.9l6.7,-11.7h-13.4zM375,778.9l6.7,-11.7h-13.4zM376,785.9l6.7,-11.7h-13.4zM376,772.9l6.7,-11.7h-13.4zM377,763.9l6.7,-11.7h-13.4zM378,766.9l6.7,-11.7h-13.4zM378,785.9l6.7,-11.7h-13.4zM379,782.9l6.7,-11.7h-13.4zM379,775.9l6.7,-11.7h-13.4zM380,764.9l6.7,-11.7h-13.4zM380,775.9l6.7,-11.7h-13.4zM381,774.9l6.7,-11.7h-13.4zM382,785.9l6.7,-11.7h-13.4zM382,770.9l6.7,-11.7h-13.4zM383,772.9l6.7,-11.7h-13.4zM383,780.9l6.7,-11.7h-13.4zM384,776.9l6.7,-11.7h-13.4zM384,769.9l6.7,-11.7h-13.4zM385,775.9l6.7,-11.7h-13.4zM386,758.9l6.7,-11.7h-13.4zM386,764.9l6.7,-11.7h-13.4zM387,784.9l6.7,-11.7h-13.4zM387,782.9l6.7,-11.7h-13.4zM388,761.9l6.7,-11.7h-13.4zM388,761.9l6.7,-11.7h-13.4zM389,776.9l6.7,-11.7h-13.4zM390,770.9l6.7,-11.7h-13.4zM390,772.9l6.7,-11.7h-13.4zM391,764.9l6.7,-11.7h-13.4zM391,767.9l6.7,-11.7h-13.4zM392,777.9l6.7,-11.7h-13.4zM392,763.9l6.7,-11.7h-13.4zM393,777.9l6.7,-11.7h-13.4zM394,758.9l6.7,-11.7h-13.4zM394,774.9l6.7,-11.7h-13.4zM395,757.9l6.7,-11.7h-13.4zM395,783.9l6.7,-11.7h-13.4zM396,779.9l6.7,-11.7h-13.4zM396,761.9l6.7,-11.7h-13.4zM397,781.9l6.7,-11.7h-13.4zM398,768.9l6.7,-11.7h-13.4zM398,769.9l6.7,-11.7h-13.4zM399,762.9l6.7,-11.7h-13.4zM399,769.9l6.7,-11.7h-13.4zM400,780.9l6.7,-11.7h-13.4zM400,776.9l6.7,-11.7h-13.4zM401,767.9l6.7,-11.7h-13.4zM402,778.9l6.7,-11.7h-13.4zM402,777.9l6.7,-11.7h-13.4zM403,772.9l6.7,-11.7h-13.4zM403,777.9l6.7,-11.7h-13.4zM404,765.9l6.7,-11.7h-13.4zM404,755.9l6.7,-11.7h-13.4zM405,764.9l6.7,-11.7h-13.4zM406,768.9l6.7,-11.7h-13.4zM406,766.9l6.7,-11.7h-13.4zM407,769.9l6.7,-11.7h-13.4zM407,759.9l6.7,-11.7h-13.4zM408,774.9l6.7,-11.7h-13.4zM408,758.9l6.7,-11.7h-13.4zM409,754.9l6.7,-11.7h-13.4zM410,765.9l6.7,-11.7h-13.4zM410,759.9l6.7,-11.7h-13.4zM411,750.9l6.7,-11.7h-13.4zM411,772.9l6.7,-11.7h-13.4zM412,777.9l6.7,-11.7h-13.4zM412,778.9l6.7,-11.7h-13.4zM413,776.9l6.7,-11.7h-13.4zM414,774.9l6.7,-11.7h-13.4zM414,758.9l6.7,-11.7h-13.4zM415,782.9l6.7,-11.7h-13.4zM415,760.9l6.7,-11.7h-13.4zM416,782.9l6.7,-11.7h-13.4zM416,770.9l6.7,-11.7h-13.4zM417,774.9l6.7,-11.7h-13.4zM418,772.9l6.7,-11.7h-13.4zM418,767.9l6.7,-11.7h-13.4zM419,750.9l6.7,-11.7h-13.4zM419,757.9l6.7,-11.7h-13.4zM420,758.9l6.7,-11.7h-13.4zM420,769.9l6.7,-11.7h-13.4zM421,749.9l6.7,-11.7h-13.4zM422,767.9l6.7,-11.7h-13.4zM422,750.9l6.7,-11.7h-13.4zM423,766.9l6.7,-11.7h-13.4zM423,767.9l6.7,-11.7h-13.4zM424,755.9l6.7,-11.7h-13.4zM424,755.9l6.7,-11.7h-13.4zM425,771.9l6.7,-11.7h-13.4zM426,770.9l6.7,-11.7h-13.4zM426,764.9l6.7,-11.7h-13.4zM427,770.9l6.7,-11.7h-13.4zM427,754.9l6.7,-11.7h-13.4zM428,757.9l6.7,-11.7h-13.4zM428,763.9l6.7,-11.7h-13.4zM429,749.9l6.7,-11.7h-13.4zM430,756.9l6.7,-11.7h-13.4zM430,747.9l6.7,-11.7h-13.4zM431,760.9l6.7,-11.7h-13.4zM431,745.9l6.7,-11.7h-13.4zM432,775.9l6.7,-11.7h-13.4zM432,778.9l6.7,-11.7h-13.4zM433,761.9l6.7,-11.7h-13.4zM434,767.9l6.7,-11.7h-13.4zM434,767.9l6.7,-11.7h-13.4zM435,752.9l6.7,-11.7h-13.4zM435,750.9l6.7,-11.7h-13.4zM436,776.9l6.7,-11.7h-13.4zM436,759.9l6.7,-11.7h-13.4zM437,743.9l6.7,-11.7h-13.4zM438,769.9l6.7,-11.7h-13.4zM438,752.9l6.7,-11.7h-13.4zM439,771.9l6.7,-11.7h-13.4zM439,748.9l6.7,-11.7h-13.4zM440,766.9l6.7,-11.7h-13.4zM440,771.9l6.7,-11.7h-13.4zM441,771.9l6.7,-11.7h-13.4zM442,759.9l6.7,-11.7h-13.4zM442,752.9l6.7,-11.7h-13.4zM443,773.9l6.7,-11.7h-13.4zM443,758.9l6.7,-11.7h-13.4zM444,775.9l6.7,-11.7h-13.4zM444,774.9l6.7,-11.7h-13.4zM445,766.9l6.7,-11.7h-13.4zM446,762.9l6.7,-11.7h-13.4zM446,773.9l6.7,-11.7h-13.4zM447,749.9l6.7,-11.7h-13.4zM447,774.9l6.7,-11.7h-13.4zM448,745.9l6.7,-11.7h-13.4zM448,746.9l6.7,-11.7h-13.4zM449,743.9l6.7,-11.7h-13.4zM450,748.9l6.7,-11.7h-13.4zM450,773.9l6.7,-11.7h-13.4zM451,766.9l6.7,-11.7h-13.4zM451,742.9l6.7,-11.7h-13.4zM452,763.9l6.7,-11.7h-13.4zM452,775.9l6.7,-11.7h-13.4zM453,749.9l6.7,-11.7h-13.4zM454,752.9l6.7,-11.7h-13.4zM454,765.9l6.7,-11.7h-13.4zM455,746.9l6.7,-11.7h-13.4zM455,742.9l6.7,-11.7h-13.4zM456,757.9l6.7,-11.7h-13.4zM456,759.9l6.7,-11.7h-13.4zM457,749.9l6.7,-11.7h-13.4zM458,764.9l6.7,-11.7h-13.4zM458,773.9l6.7,-11.7h-13.4zM459,749.9l6.7,-11.7h-13.4zM459,770.9l6.7,-11.7h-13.4zM460,760.9l6.7,-11.7h-13.4zM460,757.9l6.7,-11.7h-13.4zM461,749.9l6.7,-11.7h-13.4zM462,772.9l6.7,-11.7h-13.4zM462,770.9l6.7,-11.7h-13.4zM463,745.9l6.7,-11.7h-13.4zM463,766.9l6.7,-11.7h-13.4zM464,750.9l6.7,-11.7h-13.4zM465,741.9l6.7,-11.7h-13.4zM465,755.9l6.7,-11.7h-13.4zM466,746.9l6.7,-11.7h-13.4zM466,753.9l6.7,-11.7h-13.4zM467,772.9l6.7,-11.7h-13.4zM467,760.9l6.7,-11.7h-13.4zM468,772.9l6.7,-11.7h-13.4zM469,743.9l6.7,-11.7h-13.4zM469,748.9l6.7,-11.7h-13.4zM470,760.9l6.7,-11.7h-13.4zM470,739.9l6.7,-11.7h-13.4zM471,744.9l6.7,-11.7h-13.4zM471,752.9l6.7,-11.7h-13.4zM472,770.9l6.7,-11.7h-13.4zM473,736.9l6.7,-11.7h-13.4zM473,762.9l6.7,-11.7h-13.4zM474,734.9l6.7,-11.7h-13.4zM474,746.9l6.7,-11.7h-13.4zM475,744.9l6.7,-11.7h-13.4zM475,765.9l6.7,-11.7h-13.4zM476,752.9l6.7,-11.7h-13.4zM477,747.9l6.7,-11.7h-13.4zM477,736.9l6.7,-11.7h-13.4zM478,735.9l6.7,-11.7h-13.4zM478,756.9l6.7,-11.7h-13.4zM479,746.9l6.7,-11.7h-13.4zM479,740.9l6.7,-11.7h-13.4zM480,741.9l6.7,-11.7h-13.4zM481,749.9l6.7,-11.7h-13.4zM481,749.9l6.7,-11.7h-13.4zM482,767.9l6.7,-11.7h-13.4zM482,740.9l6.7,-11.7h-13.4zM483,757.9l6.7,-11.7h-13.4zM483,765.9l6.7,-11.7h-13.4zM484,759.9l6.7,-11.7h-13.4zM485,764.9l6.7,-11.7h-13.4zM485,758.9l6.7,-11.7h-13.4zM486,769.9l6.7,-11.7h-13.4zM486,756.9l6.7,-11.7h-13.4zM487,751.9l6.7,-11.7h-13.4zM487,738.9l6.7,-11.7h-13.4zM488,763.9l6.7,-11.7h-13.4zM489,758.9l6.7,-11.7h-13.4zM489,744.9l6.7,-11.7h-13.4zM490,751.9l6.7,-11.7h-13.4zM490,750.9l6.7,-11.7h-13.4zM491,756.9l6.7,-11.7h-13.4zM491,764.9l6.7,-11.7h-13.4zM492,743.9l6.7,-11.7h-13.4zM493,738.9l6.7,-11.7h-13.4zM493,740.9l6.7,-11.7h-13.4zM494,767.9l6.7,-11.7h-13.4zM494,740.9l6.7,-11.7h-13.4zM495,759.9l6.7,-11.7h-13.4zM495,743.9l6.7,-11.7h-13.4zM496,741.9l6.7,-11.7h-13.4zM497,751.9l6.7,-11.7h-13.4zM497,766.9l6.7,-11.7h-13.4zM498,742.9l6.7,-11.7h-13.4zM498,750.9l6.7,-11.7h-13.4zM499,742.9l6.7,-11.7h-13.4zM499,760.9l6.7,-11.7h-13.4zM500,762.9l6.7,-11.7h-13.4zM501,748.9l6.7,-11.7h-13.4zM501,761.9l6.7,-11.7h-13.4zM502,758.9l6.7,-11.7h-13.4zM502,751.9l6.7,-11.7h-13.4zM503,766.9l6.7,-11.7h-13.4zM503,769.9l6.7,-11.7h-13.4zM504,755.9l6.7,-11.7h-13.4zM505,757.9l6.7,-11.7h-13.4zM505,766.9l6.7,-11.7h-13.4zM506,748.9l6.7,-11.7h-13.4zM506,744.9l6.7,-11.7h-13.4zM507,751.9l6.7,-11.7h-13.4zM507,766.9l6.7,-11.7h-13.4zM508,755.9l6.7,-11.7h-13.4zM509,747.9l6.7,-11.7h-13.4zM509,750.9l6.7,-11.7h-13.4zM510,758.9l6.7,-11.7h-13.4zM510,752.9l6.7,-11.7h-13.4zM511,755.9l6.7,-11.7h-13.4zM511,743.9l6.7,-11.7h-13.4zM512,764.9l6.7,-11.7h-13.4zM513,767.9l6.7,-11.7h-13.4zM513,749.9l6.7,-11.7h-13.4zM514,765.9l6.7,-11.7h-13.4zM514,758.9l6.7,-11.7h-13.4zM515,760.9l6.7,-11.7h-13.4zM515,767.9l6.7,-11.7h-13.4zM516,761.9l6.7,-11.7h-13.4zM517,763.9l6.7,-11.7h-13.4zM517,757.9l6.7,-11.7h-13.4zM518,756.9l6.7,-11.7h-13.4zM518,768.9l6.7,-11.7h-13.4zM519,768.9l6.7,-11.7h-13.4zM519,750.9l6.7,-11.7h-13.4zM520,749.9l6.7,-11.7h-13.4zM521,769.9l6.7,-11.7h-13.4zM521,746.9l6.7,-11.7h-13.4zM522,744.9l6.7,-11.7h-13.4zM522,745.9l6.7,-11.7h-13.4zM523,753.9l6.7,-11.7h-13.4zM523,756.9l6.7,-11.7h-13.4zM524,765.9l6.7,-11.7h-13.4zM525,757.9l6.7,-11.7h-13.4zM525,756.9l6.7,-11.7h-13.4zM526,768.9l6.7,-11.7h-13.4zM526,756.9l6.7,-11.7h-13.4zM527,750.9l6.7,-11.7h-13.4zM527,760.9l6.7,-11.7h-13.4zM528,769.9l6.7,-11.7h-13.4zM529,766.9l6.7,-11.7h-13.4zM529,751.9l6.7,-11.7h-13.4zM530,754.9l6.7,-11.7h-13.4zM530,756.9l6.7,-11.7h-13.4zM531,766.9l6.7,-11.7h-13.4zM531,747.9l6.7,-11.7h-13.4zM532,763.9l6.7,-11.7h-13.4zM533,768.9l6.7,-11.7h-13.4zM533,763.9l6.7,-11.7h-13.4zM534,748.9l6.7,-11.7h-13.4zM534,750.9l6.7,-11.7h-13.4zM535,756.9l6.7,-11.7h-13.4zM535,747.9l6.7,-11.7h-13.4zM536,766.9l6.7,-11.7h-13.4zM537,743.9l6.7,-11.7h-13.4zM537,750.9l6.7,-11.7h-13.4zM538,751.9l6.7,-11.7h-13.4zM538,755.9l6.7,-11.7h-13.4zM539,744.9l6.7,-11.7h-13.4zM539,754.9l6.7,-11.7h-13.4zM540,769.9l6.7,-11.7h-13.4zM541,769.9l6.7,-11.7h-13.4zM541,755.9l6.7,-11.7h-13.4zM542,768.9l6.7,-11.7h-13.4zM542,764.9l6.7,-11.7h-13.4zM543,750.9l6.7,-11.7h-13.4zM543,750.9l6.7,-11.7h-13.4zM544,747.9l6.7,-11.7h-13.4zM545,765.9l6.7,-11.7h-13.4zM545,741.9l6.7,-11.7h-13.4zM546,759.9l6.7,-11.7h-13.4zM546,761.9l6.7,-11.7h-13.4zM547,756.9l6.7,-11.7h-13.4zM547,765.9l6.7,-11.7h-13.4zM548,745.9l6.7,-11.7h-13.4zM549,768.9l6.7,-11.7h-13.4zM549,759.9l6.7,-11.7h-13.4zM550,768.9l6.7,-11.7h-13.4zM550,748.9l6.7,-11.7h-13.4zM551,744.9l6.7,-11.7h-13.4zM551,752.9l6.7,-11.7h-13.4zM552,753.9l6.7,-11.7h-13.4zM553,754.9l6.7,-11.7h-13.4zM553,755.9l6.7,-11.7h-13.4zM554,757.9l6.7,-11.7h-13.4zM554,770.9l6.7,-11.7h-13.4zM555,760.9l6.7,-11.7h-13.4zM555,759.9l6.7,-11.7h-13.4zM556,748.9l6.7,-11.7h-13.4zM557,759.9l6.7,-11.7h-13.4zM557,754.9l6.7,-11.7h-13.4zM558,757.9l6.7,-11.7h-13.4zM558,770.9l6.7,-11.7h-13.4zM559,752.9l6.7,-11.7h-13.4zM559,746.9l6.7,-11.7h-13.4zM560,765.9l6.7,-11.7h-13.4zM561,769.9l6.7,-11.7h-13.4zM561,745.9l6.7,-11.7h-13.4zM562,747.9l6.7,-11.7h-13.4zM562,755.9l6.7,-11.7h-13.4zM563,743.9l6.7,-11.7h-13.4zM563,769.9l6.7,-11.7h-13.4zM564,755.9l6.7,-11.7h-13.4zM565,769.9l6.7,-11.7h-13.4zM565,761.9l6.7,-11.7h-13.4zM566,756.9l6.7,-11.7h-13.4zM566,765.9l6.7,-11.7h-13.4zM567,749.9l6.7,-11.7h-13.4zM567,748.9l6.7,-11.7h-13.4zM568,747.9l6.7,-11.7h-13.4zM569,749.9l6.7,-11.7h-13.4zM569,750.9l6.7,-11.7h-13.4zM570,760.9l6.7,-11.7h-13.4zM570,744.9l6.7,-11.7h-13.4zM571,759.9l6.7,-11.7h-13.4zM571,767.9l6.7,-11.7h-13.4zM572,747.9l6.7,-11.7h-13.4zM573,745.9l6.7,-11.7h-13.4zM573,765.9l6.7,-11.7h-13.4zM574,750.9l6.7,-11.7h-13.4zM574,766.9l6.7,-11.7h-13.4zM575,747.9l6.7,-11.7h-13.4zM575,750.9l6.7,-11.7h-13.4zM576,747.9l6.7,-11.7h-13.4zM577,747.9l6.7,-11.7h-13.4zM577,757.9l6.7,-11.7h-13.4zM578,748.9l6.7,-11.7h-13.4zM578,767.9l6.7,-11.7h-13.4zM579,761.9l6.7,-11.7h-13.4zM579,770.9l6.7,-11.7h-13.4zM580,769.9l6.7,-11.7h-13.4zM581,748.9l6.7,-11.7h-13.4zM581,757.9l6.7,-11.7h-13.4zM582,767.9l6.7,-11.7h-13.4zM582,758.9l6.7,-11.7h-13.4zM583,753.9l6.7,-11.7h-13.4zM583,749.9l6.7,-11.7h-13.4zM584,750.9l6.7,-11.7h-13.4zM585,769.9l6.7,-11.7h-13.4zM585,746.9l6.7,-11.7h-13.4zM586,754.9l6.7,-11.7h-13.4zM586,762.9l6.7,-11.7h-13.4zM587,764.9l6.7,-11.7h-13.4zM587,767.9l6.7,-11.7h-13.4zM588,761.9l6.7,-11.7h-13.4zM589,770.9l6.7,-11.7h-13.4zM589,765.9l6.7,-11.7h-13.4zM590,758.9l6.7,-11.7h-13.4zM590,764.9l6.7,-11.7h-13.4zM591,747.9l6.7,-11.7h-13.4zM591,749.9l6.7,-11.7h-13.4zM592,765.9l6.7,-11.7h-13.4zM593,757.9l6.7,-11.7h-13.4zM593,758.9l6.7,-11.7h-13.4zM594,746.9l6.7,-11.7h-13.4zM594,767.9l6.7,-11.7h-13.4zM595,757.9l6.7,-11.7h-13.4zM595,754.9l6.7,-11.7h-13.4zM596,753.9l6.7,-11.7h-13.4zM597,750.9l6.7,-11.7h-13.4zM597,751.9l6.7,-11.7h-13.4zM598,758.9l6.7,-11.7h-13.4zM598,759.9l6.7,-11.7h-13.4zM599,763.9l6.7,-11.7h-13.4zM599,763.9l6.7,-11.7h-13.4zM600,747.9l6.7,-11.7h-13.4zM601,766.9l6.7,-11.7h-13.4zM601,762.9l6.7,-11.7h-13.4zM602,770.9l6.7,-11.7h-13.4zM602,764.9l6.7,-11.7h-13.4zM603,758.9l6.7,-11.7h-13.4zM603,747.9l6.7,-11.7h-13.4zM604,750.9l6.7,-11.7h-13.4zM605,769.9l6.7,-11.7h-13.4zM605,747.9l6.7,-11.7h-13.4zM606,752.9l6.7,-11.7h-13.4zM606,770.9l6.7,-11.7h-13.4zM607,755.9l6.7,-11.7h-13.4zM607,766.9l6.7,-11.7h-13.4zM608,760.9l6.7,-11.7h-13.4zM609,766.9l6.7,-11.7h-13.4zM609,754.9l6.7,-11.7h-13.4zM610,771.9l6.7,-11.7h-13.4zM610,754.9l6.7,-11.7h-13.4zM611,763.9l6.7,-11.7h-13.4zM611,758.9l6.7,-11.7h-13.4zM612,759.9l6.7,-11.7h-13.4zM613,756.9l6.7,-11.7h-13.4zM613,764.9l6.7,-11.7h-13.4zM614,765.9l6.7,-11.7h-13.4zM614,760.9l6.7,-11.7h-13.4zM615,754.9l6.7,-11.7h-13.4zM615,771.9l6.7,-11.7h-13.4zM616,753.9l6.7,-11.7h-13.4zM617,767.9l6.7,-11.7h-13.4zM617,754.9l6.7,-11.7h-13.4zM618,769.9l6.7,-11.7h-13.4zM618,750.9l6.7,-11.7h-13.4zM619,768.9l6.7,-11.7h-13.4zM619,760.9l6.7,-11.7h-13.4zM620,768.9l6.7,-11.7h-13.4zM621,753.9l6.7,-11.7h-13.4zM621,750.9l6.7,-11.7h-13.4zM622,759.9l6.7,-11.7h-13.4zM622,767.9l6.7,-11.7h-13.4zM623,748.9l6.7,-11.7h-13.4zM623,762.9l6.7,-11.7h-13.4zM624,755.9l6.7,-11.7h-13.4zM625,765.9l6.7,-11.7h-13.4zM625,770.9l6.7,-11.7h-13.4zM626,771.9l6.7,-11.7h-13.4zM626,764.9l6.7,-11.7h-13.4zM627,756.9l6.7,-11.7h-13.4zM627,750.9l6.7,-11.7h-13.4zM628,751.9l6.7,-11.7h-13.4zM629,754.9l6.7,-11.7h-13.4zM629,766.9l6.7,-11.7h-13.4zM630,763.9l6.7,-11.7h-13.4zM630,760.9l6.7,-11.7h-13.4zM631,749.9l6.7,-11.7h-13.4zM631,766.9l6.7,-11.7h-13.4zM632,766.9l6.7,-11.7h-13.4zM633,753.9l6.7,-11.7h-13.4zM633,756.9l6.7,-11.7h-13.4zM634,762.9l6.7,-11.7h-13.4zM634,766.9l6.7,-11.7h-13.4zM635,757.9l6.7,-11.7h-13.4zM635,772.9l6.7,-11.7h-13.4zM636,753.9l6.7,-11.7h-13.4zM637,771.9l6.7,-11.7h-13.4zM637,765.9l6.7,-11.7h-13.4zM638,750.9l6.7,-11.7h-13.4zM638,770.9l6.7,-11.7h-13.4zM639,765.9l6.7,-11.7h-13.4zM639,768.9l6.7,-11.7h-13.4zM640,752.9l6.7,-11.7h-13.4zM641,751.9l6.7,-11.7h-13.4zM641,765.9l6.7,-11.7h-13.4zM642,759.9l6.7,-11.7h-13.4zM642,759.9l6.7,-11.7h-13.4zM643,766.9l6.7,-11.7h-13.4zM643,758.9l6.7,-11.7h-13.4zM644,756.9l6.7,-11.7h-13.4zM645,754.9l6.7,-11.7h-13.4zM645,770.9l6.7,-11.7h-13.4zM646,767.9l6.7,-11.7h-13.4zM646,752.9l6.7,-11.7h-13.4zM647,773.9l6.7,-11.7h-13.4zM647,759.9l6.7,-11.7h-13.4zM648,755.9l6.7,-11.7h-13.4zM649,760.9l6.7,-11.7h-13.4zM649,756.9l6.7,-11.7h-13.4zM650,753.9l6.7,-11.7h-13.4zM650,761.9l6.7,-11.7h-13.4zM651,772.9l6.7,-11.7h-13.4zM651,769.9l6.7,-11.7h-13.4zM652,755.9l6.7,-11.7h-13.4zM653,761.9l6.7,-11.7h-13.4zM653,759.9l6.7,-11.7h-13.4zM654,774.9l6.7,-11.7h-13.4zM654,753.9l6.7,-11.7h-13.4zM655,763.9l6.7,-11.7h-13.4zM655,764.9l6.7,-11.7h-13.4zM656,772.9l6.7,-11.7h-13.4zM657,767.9l6.7,-11.7h-13.4zM657,757.9l6.7,-11.7h-13.4zM658,766.9l6.7,-11.7h-13.4zM658,762.9l6.7,-11.7h-13.4zM659,775.9l6.7,-11.7h-13.4zM659,754.9l6.7,-11.7h-13.4zM660,772.9l6.7,-11.7h-13.4zM661,772.9l6.7,-11.7h-13.4zM661,755.9l6.7,-11.7h-13.4zM662,763.9l6.7,-11.7h-13.4zM662,756.9l6.7,-11.7h-13.4zM663,756.9l6.7,-11.7h-13.4zM663,765.9l6.7,-11.7h-13.4zM664,774.9l6.7,-11.7h-13.4zM665,756.9l6.7,-11.7h-13.4zM665,758.9l6.7,-11.7h-13.4zM666,758.9l6.7,-11.7h-13.4zM666,757.9l6.7,-11.7h-13.4zM667,764.9l6.7,-11.7h-13.4zM667,756.9l6.7,-11.7h-13.4zM668,765.9l6.7,-11.7h-13.4zM669,758.9l6.7,-11.7h-13.4zM669,769.9l6.7,-11.7h-13.4zM670,773.9l6.7,-11.7h-13.4zM670,757.9l6.7,-11.7h-13.4zM671,765.9l6.7,-11.7h-13.4zM671,771.9l6.7,-11.7h-13.4zM672,757.9l6.7,-11.7h-13.4zM673,766.9l6.7,-11.7h-13.4zM673,759.9l6.7,-11.7h-13.4zM674,774.9l6.7,-11.7h-13.4zM674,763.9l6.7,-11.7h-13.4zM675,767.9l6.7,-11.7h-13.4zM675,771.9l6.7,-11.7h-13.4zM676,764.9l6.7,-11.7h-13.4zM677,762.9l6.7,-11.7h-13.4zM677,756.9l6.7,-11.7h-13.4zM678,758.9l6.7,-11.7h-13.4zM678,763.9l6.7,-11.7h-13.4zM679,762.9l6.7,-11.7h-13.4zM679,777.9l6.7,-11.7h-13.4zM680,762.9l6.7,-11.7h-13.4zM681,775.9l6.7,-11.7h-13.4zM681,769.9l6.7,-11.7h-13.4zM682,769.9l6.7,-11.7h-13.4zM682,768.9l6.7,-11.7h-13.4zM683,762.9l6.7,-11.7h-13.4zM683,777.9l6.7,-11.7h-13.4zM684,758.9l6.7,-11.7h-13.4zM685,771.9l6.7,-11.7h-13.4zM685,774.9l6.7,-11.7h-13.4zM686,766.9l6.7,-11.7h-13.4zM686,762.9l6.7,-11.7h-13.4zM687,772.9l6.7,-11.7h-13.4zM687,773.9l6.7,-11.7h-13.4zM688,776.9l6.7,-11.7h-13.4zM689,761.9l6.7,-11.7h-13.4zM689,757.9l6.7,-11.7h-13.4zM690,761.9l6.7,-11.7h-13.4zM690,775.9l6.7,-11.7h-13.4zM691,772.9l6.7,-11.7h-13.4zM691,758.9l6.7,-11.7h-13.4zM692,760.9l6.7,-11.7h-13.4zM693,761.9l6.7,-11.7h-13.4zM693,764.9l6.7,-11.7h-13.4zM694,761.9l6.7,-11.7h-13.4zM694,776.9l6.7,-11.7h-13.4zM695,759.9l6.7,-11.7h-13.4zM695,775.9l6.7,-11.7h-13.4zM696,773.9l6.7,-11.7h-13.4zM697,771.9l6.7,-11.7h-13.4zM697,766.9l6.7,-11.7h-13.4zM698,775.9l6.7,-11.7h-13.4zM698,774.9l6.7,-11.7h-13.4zM699,766.9l6.7,-11.7h-13.4zM699,755.9l6.7,-11.7h-13.4zM700,781.9l6.7,-11.7h-13.4zM701,769.9l6.7,-11.7h-13.4zM701,772.9l6.7,-11.7h-13.4zM702,765.9l6.7,-11.7h-13.4zM702,755.9l6.7,-11.7h-13.4zM703,760.9l6.7,-11.7h-13.4zM703,755.9l6.7,-11.7h-13.4zM704,762.9l6.7,-11.7h-13.4zM705,759.9l6.7,-11.7h-13.4zM705,759.9l6.7,-11.7h-13.4zM706,764.9l6.7,-11.7h-13.4zM706,781.9l6.7,-11.7h-13.4zM707,763.9l6.7,-11.7h-13.4zM707,777.9l6.7,-11.7h-13.4zM708,782.9l6.7,-11.7h-13.4zM709,775.9l6.7,-11.7h-13.4zM709,773.9l6.7,-11.7h-13.4zM710,763.9l6.7,-11.7h-13.4zM710,764.9l6.7,-11.7h-13.4zM711,775.9l6.7,-11.7h-13.4zM711,766.9l6.7,-11.7h-13.4zM712,774.9l6.7,-11.7h-13.4zM713,777.9l6.7,-11.7h-13.4zM713,763.9l6.7,-11.7h-13.4zM714,781.9l6.7,-11.7h-13.4zM714,767.9l6.7,-11.7h-13.4zM715,777.9l6.7,-11.7h-13.4zM715,775.9l6.7,-11.7h-13.4zM716,767.9l6.7,-11.7h-13.4zM717,774.9l6.7,-11.7h-13.4zM717,773.9l6.7,-11.7h-13.4zM718,771.9l6.7,-11.7h-13.4zM718,781.9l6.7,-11.7h-13.4zM719,775.9l6.7,-11.7h-13.4zM719,759.9l6.7,-11.7h-13.4zM720,780.9l6.7,-11.7h-13.4zM721,760.9l6.7,-11.7h-13.4zM721,762.9l6.7,-11.7h-13.4zM722,776.9l6.7,-11.7h-13.4zM722,774.9l6.7,-11.7h-13.4zM723,776.9l6.7,-11.7h-13.4zM723,776.9l6.7,-11.7h-13.4zM724,779.9l6.7,-11.7h-13.4zM725,767.9l6.7,-11.7h-13.4zM725,770.9l6.7,-11.7h-13.4zM726,778.9l6.7,-11.7h-13.4zM726,767.9l6.7,-11.7h-13.4zM727,757.9l6.7,-11.7h-13.4zM727,771.9l6.7,-11.7h-13.4zM728,763.9l6.7,-11.7h-13.4zM729,759.9l6.7,-11.7h-13.4zM729,765.9l6.7,-11.7h-13.4zM730,767.9l6.7,-11.7h-13.4zM730,771.9l6.7,-11.7h-13.4zM731,768.9l6.7,-11.7h-13.4zM731,777.9l6.7,-11.7h-13.4zM732,771.9l6.7,-11.7h-13.4zM733,766.9l6.7,-11.7h-13.4zM733,767.9l6.7,-11.7h-13.4zM734,779.9l6.7,-11.7h-13.4zM734,765.9l6.7,-11.7h-13.4zM735,760.9l6.7,-11.7h-13.4zM735,771.9l6.7,-11.7h-13.4zM736,778.9l6.7,-11.7h-13.4zM737,784.9l6.7,-11.7h-13.4zM737,758.9l6.7,-11.7h-13.4zM738,778.9l6.7,-11.7h-13.4zM738,774.9l6.7,-11.7h-13.4zM739,764.9l6.7,-11.7h-13.4zM739,774.9l6.7,-11.7h-13.4zM740,758.9l6.7,-11.7h-13.4zM741,771.9l6.7,-11.7h-13.4zM741,774.9l6.7,-11.7h-13.4zM742,782.9l6.7,-11.7h-13.4zM742,780.9l6.7,-11.7h-13.4zM743,763.9l6.7,-11.7h-13.4zM743,773.9l6.7,-11.7h-13.4zM744,779.9l6.7,-11.7h-13.4zM745,763.9l6.7,-11.7h-13.4zM745,771.9l6.7,-11.7h-13.4zM746,765.9l6.7,-11.7h-13.4zM746,771.9l6.7,-11.7h-13.4zM747,784.9l6.7,-11.7h-13.4zM747,783.9l6.7,-11.7h-13.4zM748,770.9l6.7,-11.7h-13.4zM749,767.9l6.7,-11.7h-13.4zM749,775.9l6.7,-11.7h-13.4zM750,764.9l6.7,-11.7h-13.4zM750,769.9l6.7,-11.7h-13.4zM751,772.9l6.7,-11.7h-13.4zM751,772.9l6.7,-11.7h-13.4zM752,774.9l6.7,-11.7h-13.4zM753,769.9l6.7,-11.7h-13.4zM753,761.9l6.7,-11.7h-13.4zM754,781.9l6.7,-11.7h-13.4zM754,774.9l6.7,-11.7h-13.4zM755,770.9l6.7,-11.7h-13.4zM755,781.9l6.7,-11.7h-13.4zM756,766.9l6.7,-11.7h-13.4zM757,770.9l6.7,-11.7h-13.4zM757,761.9l6.7,-11.7h-13.4zM758,782.9l6.7,-11.7h-13.4zM758,777.9l6.7,-11.7h-13.4zM759,775.9l6.7,-11.7h-13.4zM759,761.9l6.7,-11.7h-13.4zM760,764.9l6.7,-11.7h-13.4zM761,771.9l6.7,-11.7h-13.4zM761,763.9l6.7,-11.7h-13.4zM762,767.9l6.7,-11.7h-13.4zM762,765.9l6.7,-11.7h-13.4zM763,771.9l6.7,-11.7h-13.4zM763,761.9l6.7,-11.7h-13.4zM764,770.9l6.7,-11.7h-13.4zM765,777.9l6.7,-11.7h-13.4zM765,762.9l6.7,-11.7h-13.4zM766,770.9l6.7,-11.7h-13.4zM766,766.9l6.7,-11.7h-13.4zM767,781.9l6.7,-11.7h-13.4zM767,783.9l6.7,-11.7h-13.4zM768,779.9l6.7,-11.7h-13.4zM769,779.9l6.7,-11.7h-13.4zM769,763.9l6.7,-11.7h-13.4zM770,764.9l6.7,-11.7h-13.4zM770,777.9l6.7,-11.7h-13.4zM771,780.9l6.7,-11.7h-13.4zM771,775.9l6.7,-11.7h-13.4zM772,773.9l6.7,-11.7h-13.4zM773,776.9l6.7,-11.7h-13.4zM773,781.9l6.7,-11.7h-13.4zM774,774.9l6.7,-11.7h-13.4zM774,768.9l6.7,-11.7h-13.4zM775,778.9l6.7,-11.7h-13.4zM775,769.9l6.7,-11.7h-13.4zM776,774.9l6.7,-11.7h-13.4zM777,781.9l6.7,-11.7h-13.4zM777,777.9l6.7,-11.7h-13.4zM778,775.9l6.7,-11.7h-13.4zM778,775.9l6.7,-11.7h-13.4zM779,784.9l6.7,-11.7h-13.4zM779,769.9l6.7,-11.7h-13.4zM780,768.9l6.7,-11.7h-13.4zM781,765.9l6.7,-11.7h-13.4zM781,766.9l6.7,-11.7h-13.4zM782,780.9l6.7,-11.7h-13.4zM782,773.9l6.7,-11.7h-13.4zM783,784.9l6.7,-11.7h-13.4zM783,765.9l6.7,-11.7h-13.4zM784,777.9l6.7,-11.7h-13.4zM785,777.9l6.7,-11.7h-13.4zM785,781.9l6.7,-11.7h-13.4zM786,783.9l6.7,-11.7h-13.4zM786,782.9l6.7,-11.7h-13.4zM787,782.9l6.7,-11.7h-13.4zM787,776.9l6.7,-11.7h-13.4zM788,781.9l6.7,-11.7h-13.4zM789,783.9l6.7,-11.7h-13.4zM789,784.9l6.7,-11.7h-13.4zM790,766.9l6.7,-11.7h-13.4zM790,775.9l6.7,-11.7h-13.4zM791,769.9l6.7,-11.7h-13.4zM791,771.9l6.7,-11.7h-13.4zM792,782.9l6.7,-11.7h-13.4zM793,785.9l6.7,-11.7h-13.4zM793,775.9l6.7,-11.7h-13.4zM794,779.9l6.7,-11.7h-13.4zM794,773.9l6.7,-11.7h-13.4zM795,782.9l6.7,-11.7h-13.4zM795,770.9l6.7,-11.7h-13.4zM796,781.9l6.7,-11.7h-13.4zM797,777.9l6.7,-11.7h-13.4zM797,780.9l6.7,-11.7h-13.4zM798,773.9l6.7,-11.7h-13.4zM798,784.9l6.7,-11.7h-13.4zM799,775.9l6.7,-11.7h-13.4zM799,783.9l6.7,-11.7h-13.4zM800,772.9l6.7,-11.7h-13.4zM801,776.9l6.7,-11.7h-13.4zM801,770.9l6.7,-11.7h-13.4zM802,780.9l6.7,-11.7h-13.4zM802,768.9l6.7,-11.7h-13.4zM803,781.9l6.7,-11.7h-13.4zM803,783.9l6.7,-11.7h-13.4zM804,771.9l6.7,-11.7h-13.4zM805,769.9l6.7,-11.7h-13.4zM805,777.9l6.7,-11.7h-13.4zM806,777.9l6.7,-11.7h-13.4zM806,779.9l6.7,-11.7h-13.4zM807,770.9l6.7,-11.7h-13.4zM807,776.9l6.7,-11.7h-13.4zM808,771.9l6.7,-11.7h-13.4zM809,783.9l6.7,-11.7h-13.4zM809,780.9l6.7,-11.7h-13.4zM810,776.9l6.7,-11.7h-13.4zM810,771.9l6.7,-11.7h-13.4zM811,771.9l6.7,-11.7h-13.4zM811,779.9l6.7,-11.7h-13.4zM812,782.9l6.7,-11.7h-13.4zM813,773.9l6.7,-11.7h-13.4zM813,767.9l6.7,-11.7h-13.4zM814,786.9l6.7,-11.7h-13.4zM814,768.9l6.7,-11.7h-13.4zM815,771.9l6.7,-11.7h-13.4zM815,780.9l6.7,-11.7h-13.4zM816,773.9l6.7,-11.7h-13.4zM817,781.9l6.7,-11.7h-13.4zM817,771.9l6.7,-11.7h-13.4zM818,772.9l6.7,-11.7h-13.4zM818,778.9l6.7,-11.7h-13.4zM819,772.9l6.7,-11.7h-13.4zM819,784.9l6.7,-11.7h-13.4zM820,770.9l6.7,-11.7h-13.4zM821,777.9l6.7,-11.7h-13.4zM821,767.9l6.7,-11.7h-13.4zM822,782.9l6.7,-11.7h-13.4zM822,776.9l6.7,-11.7h-13.4zM823,766.9l6.7,-11.7h-13.4zM823,779.9l6.7,-11.7h-13.4zM824,784.9l6.7,-11.7h-13.4zM825,780.9l6.7,-11.7h-13.4zM825,770.9l6.7,-11.7h-13.4zM826,777.9l6.7,-11.7h-13.4zM826,768.9l6.7,-11.7h-13.4zM827,775.9l6.7,-11.7h-13.4zM827,781.9l6.7,-11.7h-13.4zM828,768.9l6.7,-11.7h-13.4zM829,769.9l6.7,-11.7h-13.4zM829,786.9l6.7,-11.7h-13.4zM830,786.9l6.7,-11.7h-13.4zM830,783.9l6.7,-11.7h-13.4zM831,771.9l6.7,-11.7h-13.4zM832,778.9l6.7,-11.7h-13.4zM832,781.9l6.7,-11.7h-13.4zM833,767.9l6.7,-11.7h-13.4zM833,786.9l6.7,-11.7h-13.4zM834,768.9l6.7,-11.7h-13.4zM834,782.9l6.7,-11.7h-13.4zM835,780.9l6.7,-11.7h-13.4zM836,788.9l6.7,-11.7h-13.4zM836,773.9l6.7,-11.7h-13.4zM837,784.9l6.7,-11.7h-13.4zM837,782.9l6.7,-11.7h-13.4zM838,790.9l6.7,-11.7h-13.4zM838,781.9l6.7,-11.7h-13.4zM839,780.9l6.7,-11.7h-13.4zM840,790.9l6.7,-11.7h-13.4zM840,782.9l6.7,-11.7h-13.4zM841,782.9l6.7,-11.7h-13.4zM841,772.9l6.7,-11.7h-13.4zM842,777.9l6.7,-11.7h-13.4zM842,787.9l6.7,-11.7h-13.4zM843,777.9l6.7,-11.7h-13.4zM844,790.9l6.7,-11.7h-13.4zM844,782.9l6.7,-11.7h-13.4zM845,787.9l6.7,-11.7h-13.4zM845,788.9l6.7,-11.7h-13.4zM846,789.9l6.7,-11.7h-13.4zM846,787.9l6.7,-11.7h-13.4zM847,791.9l6.7,-11.7h-13.4zM848,785.9l6.7,-11.7h-13.4zM848,791.9l6.7,-11.7h-13.4zM849,778.9l6.7,-11.7h-13.4zM849,791.9l6.7,-11.7h-13.4zM850,776.9l6.7,-11.7h-13.4zM850,787.9l6.7,-11.7h-13.4zM851,786.9l6.7,-11.7h-13.4zM852,782.9l6.7,-11.7h-13.4zM852,777.9l6.7,-11.7h-13.4zM853,788.9l6.7,-11.7h-13.4zM853,790.9l6.7,-11.7h-13.4zM854,793.9l6.7,-11.7h-13.4zM854,792.9l6.7,-11.7h-13.4zM855,786.9l6.7,-11.7h-13.4zM856,777.9l6.7,-11.7h-13.4zM856,780.9l6.7,-11.7h-13.4zM857,777.9l6.7,-11.7h-13.4zM857,787.9l6.7,-11.7h-13.4zM858,780.9l6.7,-11.7h-13.4zM858,788.9l6.7,-11.7h-13.4zM859,788.9l6.7,-11.7h-13.4zM860,791.9l6.7,-11.7h-13.4zM860,785.9l6.7,-11.7h-13.4zM861,790.9l6.7,-11.7h-13.4zM861,786.9l6.7,-11.7h-13.4zM862,779.9l6.7,-11.7h-13.4zM862,785.9l6.7,-11.7h-13.4zM863,789.9l6.7,-11.7h-13.4zM864,776.9l6.7,-11.7h-13.4zM864,788.9l6.7,-11.7h-13.4zM865,794.9l6.7,-11.7h-13.4zM865,778.9l6.7,-11.7h-13.4zM866,778.9l6.7,-11.7h-13.4zM866,789.9l6.7,-11.7h-13.4zM867,784.9l6.7,-11.7h-13.4zM868,791.9l6.7,-11.7h-13.4zM868,793.9l6.7,-11.7h-13.4zM869,792.9l6.7,-11.7h-13.4zM869,790.9l6.7,-11.7h-13.4zM870,791.9l6.7,-11.7h-13.4zM870,790.9l6.7,-11.7h-13.4zM871,782.9l6.7,-11.7h-13.4zM872,794.9l6.7,-11.7h-13.4zM872,783.9l6.7,-11.7h-13.4zM873,783.9l6.7,-11.7h-13.4zM873,785.9l6.7,-11.7h-13.4zM874,779.9l6.7,-11.7h-13.4zM874,793.9l6.7,-11.7h-13.4zM875,783.9l6.7,-11.7h-13.4zM876,780.9l6.7,-11.7h-13.4zM876,788.9l6.7,-11.7h-13.4zM877,789.9l6.7,-11.7h-13.4zM877,787.9l6.7,-11.7h-13.4zM878,794.9l6.7,-11.7h-13.4zM878,783.9l6.7,-11.7h-13.4zM879,793.9l6.7,-11.7h-13.4zM880,781.9l6.7,-11.7h-13.4zM880,794.9l6.7,-11.7h-13.4zM881,795.9l6.7,-11.7h-13.4zM881,790.9l6.7,-11.7h-13.4zM882,786.9l6.7,-11.7h-13.4zM882,781.9l6.7,-11.7h-13.4zM883,778.9l6.7,-11.7h-13.4zM884,789.9l6.7,-11.7h-13.4zM884,778.9l6.7,-11.7h-13.4zM885,792.9l6.7,-11.7h-13.4zM885,795.9l6.7,-11.7h-13.4zM886,781.9l6.7,-11.7h-13.4zM886,794.9l6.7,-11.7h-13.4zM887,789.9l6.7,-11.7h-13.4zM888,779.9l6.7,-11.7h-13.4zM888,793.9l6.7,-11.7h-13.4zM889,786.9l6.7,-11.7h-13.4zM889,779.9l6.7,-11.7h-13.4zM890,797.9l6.7,-11.7h-13.4zM890,791.9l6.7,-11.7h-13.4zM891,795.9l6.7,-11.7h-13.4zM892,790.9l6.7,-11.7h-13.4zM892,796.9l6.7,-11.7h-13.4zM893,790.9l6.7,-11.7h-13.4zM893,785.9l6.7,-11.7h-13.4zM894,784.9l6.7,-11.7h-13.4zM894,796.9l6.7,-11.7h-13.4zM895,780.9l6.7,-11.7h-13.4zM896,785.9l6.7,-11.7h-13.4zM896,790.9l6.7,-11.7h-13.4zM897,789.9l6.7,-11.7h-13.4zM897,797.9l6.7,-11.7h-13.4zM898,793.9l6.7,-11.7h-13.4zM898,787.9l6.7,-11.7h-13.4zM899,793.9l6.7,-11.7h-13.4zM900,794.9l6.7,-11.7h-13.4zM900,784.9l6.7,-11.7h-13.4zM901,798.9l6.7,-11.7h-13.4zM901,784.9l6.7,-11.7h-13.4zM902,782.9l6.7,-11.7h-13.4zM902,792.9l6.7,-11.7h-13.4zM903,796.9l6.7,-11.7h-13.4zM904,799.9l6.7,-11.7h-13.4zM904,799.9l6.7,-11.7h-13.4zM905,798.9l6.7,-11.7h-13.4zM905,790.9l6.7,-11.7h-13.4zM906,799.9l6.7,-11.7h-13.4zM906,790.9l6.7,-11.7h-13.4zM907,797.9l6.7,-11.7h-13.4zM908,792.9l6.7,-11.7h-13.4zM908,783.9l6.7,-11.7h-13.4zM909,787.9l6.7,-11.7h-13.4zM909,791.9l6.7,-11.7h-13.4zM910,795.9l6.7,-11.7h-13.4zM910,783.9l6.7,-11.7h-13.4zM911,799.9l6.7,-11.7h-13.4zM912,787.9l6.7,-11.7h-13.4zM912,785.9l6.7,-11.7h-13.4zM913,788.9l6.7,-11.7h-13.4zM913,785.9l6.7,-11.7h-13.4zM914,784.9l6.7,-11.7h-13.4zM914,782.9l6.7,-11.7h-13.4zM915,795.9l6.7,-11.7h-13.4zM916,801.9l6.7,-11.7h-13.4zM916,786.9l6.7,-11.7h-13.4zM917,783.9l6.7,-11.7h-13.4zM917,797.9l6.7,-11.7h-13.4zM918,799.9l6.7,-11.7h-13.4zM918,793.9l6.7,-11.7h-13.4zM919,800.9l6.7,-11.7h-13.4zM920,798.9l6.7,-11.7h-13.4zM920,786.9l6.7,-11.7h-13.4zM921,797.9l6.7,-11.7h-13.4zM921,787.9l6.7,-11.7h-13.4zM922,786.9l6.7,-11.7h-13.4zM922,797.9l6.7,-11.7h-13.4zM923,800.9l6.7,-11.7h-13.4zM924,796.9l6.7,-11.7h-13.4zM924,786.9l6.7,-11.7h-13.4zM925,785.9l6.7,-11.7h-13.4zM925,790.9l6.7,-11.7h-13.4zM926,796.9l6.7,-11.7h-13.4zM926,802.9l6.7,-11.7h-13.4zM927,802.9l6.7,-11.7h-13.4zM928,788.9l6.7,-11.7h-13.4zM928,794.9l6.7,-11.7h-13.4zM929,793.9l6.7,-11.7h-13.4zM929,793.9l6.7,-11.7h-13.4zM930,802.9l6.7,-11.7h-13.4zM930,798.9l6.7,-11.7h-13.4zM931,797.9l6.7,-11.7h-13.4zM932,791.9l6.7,-11.7h-13.4zM932,802.9l6.7,-11.7h-13.4zM933,804.9l6.7,-11.7h-13.4zM933,793.9l6.7,-11.7h-13.4zM934,793.9l6.7,-11.7h-13.4zM934,804.9l6.7,-11.7h-13.4zM935,796.9l6.7,-11.7h-13.4zM936,799.9l6.7,-11.7h-13.4zM936,799.9l6.7,-11.7h-13.4zM937,789.9l6.7,-11.7h-13.4zM937,788.9l6.7,-11.7h-13.4zM938,805.9l6.7,-11.7h-13.4zM938,793.9l6.7,-11.7h-13.4zM939,785.9l6.7,-11.7h-13.4zM940,794.9l6.7,-11.7h-13.4zM940,793.9l6.7,-11.7h-13.4zM941,790.9l6.7,-11.7h-13.4zM941,804.9l6.7,-11.7h-13.4zM942,789.9l6.7,-11.7h-13.4zM942,790.9l6.7,-11.7h-13.4zM943,790.9l6.7,-11.7h-13.4zM944,787.9l6.7,-11.7h-13.4zM944,805.9l6.7,-11.7h-13.4zM945,791.9l6.7,-11.7h-13.4zM945,791.9l6.7,-11.7h-13.4zM946,787.9l6.7,-11.7h-13.4zM946,800.9l6.7,-11.7h-13.4zM947,793.9l6.7,-11.7h-13.4zM948,803.9l6.7,-11.7h-13.4zM948,803.9l6.7,-11.7h-13.4zM949,791.9l6.7,-11.7h-13.4zM949,791.9l6.7,-11.7h-13.4zM950,796.9l6.7,-11.7h-13.4zM950,795.9l6.7,-11.7h-13.4zM951,795.9l6.7,-11.7h-13.4zM952,797.9l6.7,-11.7h-13.4zM952,787.9l6.7,-11.7h-13.4zM953,794.9l6.7,-11.7h-13.4zM953,806.9l6.7,-11.7h-13.4zM954,797.9l6.7,-11.7h-13.4zM954,805.9l6.7,-11.7h-13.4zM955,793.9l6.7,-11.7h-13.4zM956,801.9l6.7,-11.7h-13.4zM956,787.9l6.7,-11.7h-13.4zM957,798.9l6.7,-11.7h-13.4zM957,788.9l6.7,-11.7h-13.4zM958,804.9l6.7,-11.7h-13.4zM958,806.9l6.7,-11.7h-13.4zM959,793.9l6.7,-11.7h-13.4zM960,795.9l6.7,-11.7h-13.4zM960,790.9l6.7,-11.7h-13.4zM961,801.9l6.7,-11.7h-13.4zM961,800.9l6.7,-11.7h-13.4zM962,793.9l6.7,-11.7h-13.4zM962,793.9l6.7,-11.7h-13.4zM963,806.9l6.7,-11.7h-13.4zM964,798.9l6.7,-11.7h-13.4zM964,806.9l6.7,-11.7h-13.4zM965,802.9l6.7,-11.7h-13.4zM965,799.9l6.7,-11.7h-13.4zM966,792.9l6.7,-11.7h-13.4zM966,807.9l6.7,-11.7h-13.4zM967,806.9l6.7,-11.7h-13.4zM968,809.9l6.7,-11.7h-13.4zM968,794.9l6.7,-11.7h-13.4zM969,787.9l6.7,-11.7h-13.4zM969,804.9l6.7,-11.7h-13.4zM970,788.9l6.7,-11.7h-13.4zM970,792.9l6.7,-11.7h-13.4zM971,789.9l6.7,-11.7h-13.4zM972,798.9l6.7,-11.7h-13.4zM972,792.9l6.7,-11.7h-13.4zM973,793.9l6.7,-11.7h-13.4zM973,810.9l6.7,-11.7h-13.4zM974,800.9l6.7,-11.7h-13.4zM974,807.9l6.7,-11.7h-13.4zM975,805.9l6.7,-11.7h-13.4zM976,801.9l6.7,-11.7h-13.4zM976,809.9l6.7,-11.7h-13.4zM977,805.9l6.7,-11.7h-13.4zM977,789.9l6.7,-11.7h-13.4zM978,797.9l6.7,-11.7h-13.4zM978,796.9l6.7,-11.7h-13.4zM979,800.9l6.7,-11.7h-13.4zM980,799.9l6.7,-11.7h-13.4zM980,803.9l6.7,-11.7h-13.4zM981,806.9l6.7,-11.7h-13.4zM981,795.9l6.7,-11.7h-13.4zM982,804.9l6.7,-11.7h-13.4zM982,799.9l6.7,-11.7h-13.4zM983,796.9l6.7,-11.7h-13.4zM984,793.9l6.7,-11.7h-13.4zM984,805.9l6.7,-11.7h-13.4zM985,796.9l6.7,-11.7h-13.4zM985,797.9l6.7,-11.7h-13.4zM986,799.9l6.7,-11.7h-13.4zM986,791.9l6.7,-11.7h-13.4zM987,791.9l6.7,-11.7h-13.4zM988,790.9l6.7,-11.7h-13.4zM988,800.9l6.7,-11.7h-13.4zM989,799.9l6.7,-11.7h-13.4zM989,805.9l6.7,-11.7h-13.4zM990,805.9l6.7,-11.7h-13.4zM990,801.9l6.7,-11.7h-13.4zM991,809.9l6.7,-11.7h-13.4zM992,810.9l6.7,-11.7h-13.4zM992,794.9l6.7,-11.7h-13.4zM993,793.9l6.7,-11.7h-13.4zM993,802.9l6.7,-11.7h-13.4zM994,791.9l6.7,-11.7h-13.4zM994,791.9l6.7,-11.7h-13.4zM995,794.9l6.7,-11.7h-13.4zM996,791.9l6.7,-11.7h-13.4zM996,809.9l6.7,-11.7h-13.4zM997,805.9l6.7,-11.7h-13.4zM997,799.9l6.7,-11.7h-13.4zM998,803.9l6.7,-11.7h-13.4zM998,794.9l6.7,-11.7h-13.4zM999,802.9l6.7,-11.7h-13.4zM1000,802.9l6.7,-11.7h-13.4zM1000,808.9l6.7,-11.7h-13.4zM1001,803.9l6.7,-11.7h-13.4zM1001,805.9l6.7,-11.7h-13.4zM1002,802.9l6.7,-11.7h-13.4zM1002,801.9l6.7,-11.7h-13.4zM1003,794.9l6.7,-11.7h-13.4zM1004,797.9l6.7,-11.7h-13.4zM1004,810.9l6.7,-11.7h-13.4zM1005,810.9l6.7,-11.7h-13.4zM1005,812.9l6.7,-11.7h-13.4zM1006,804.9l6.7,-11.7h-13.4zM1006,806.9l6.7,-11.7h-13.4zM1007,812.9l6.7,-11.7h-13.4zM1008,802.9l6.7,-11.7h-13.4zM1008,798.9l6.7,-11.7h-13.4zM1009,797.9l6.7,-11.7h-13.4zM1009,803.9l6.7,-11.7h-13.4zM1010,798.9l6.7,-11.7h-13.4zM1010,792.9l6.7,-11.7h-13.4zM1011,804.9l6.7,-11.7h-13.4zM1012,805.9l6.7,-11.7h-13.4zM1012,812.9l6.7,-11.7h-13.4zM1013,794.9l6.7,-11.7h-13.4zM1013,794.9l6.7,-11.7h-13.4zM1014,812.9l6.7,-11.7h-13.4zM1014,810.9l6.7,-11.7h-13.4zM1015,811.9l6.7,-11.7h-13.4zM1016,799.9l6.7,-11.7h-13.4zM1016,810.9l6.7,-11.7h-13.4zM1017,796.9l6.7,-11.7h-13.4zM1017,803.9l6.7,-11.7h-13.4zM1018,807.9l6.7,-11.7h-13.4zM1018,804.9l6.7,-11.7h-13.4zM1019,811.9l6.7,-11.7h-13.4zM1020,801.9l6.7,-11.7h-13.4zM1020,798.9l6.7,-11.7h-13.4zM1021,794.9l6.7,-11.7h-13.4zM1021,811.9l6.7,-11.7h-13.4zM1022,814.9l6.7,-11.7h-13.4zM1022,810.9l6.7,-11.7h-13.4zM1023,798.9l6.7,-11.7h-13.4zM1024,805.9l6.7,-11.7h-13.4zM1024,799.9l6.7,-11.7h-13.4zM1025,796.9l6.7,-11.7h-13.4zM1025,799.9l6.7,-11.7h-13.4zM1026,809.9l6.7,-11.7h-13.4zM1026,815.9l6.7,-11.7h-13.4zM1027,799.9l6.7,-11.7h-13.4zM1028,801.9l6.7,-11.7h-13.4zM1028,804.9l6.7,-11.7h-13.4zM1029,794.9l6.7,-11.7h-13.4zM1029,793.9l6.7,-11.7h-13.4zM1030,796.9l6.7,-11.7h-13.4zM1030,814.9l6.7,-11.7h-13.4zM1031,809.9l6.7,-11.7h-13.4zM1032,809.9l6.7,-11.7h-13.4zM1032,804.9l6.7,-11.7h-13.4zM1033,814.9l6.7,-11.7h-13.4zM1033,805.9l6.7,-11.7h-13.4zM1034,816.9l6.7,-11.7h-13.4zM1034,801.9l6.7,-11.7h-13.4zM1035,808.9l6.7,-11.7h-13.4zM1036,794.9l6.7,-11.7h-13.4zM1036,794.9l6.7,-11.7h-13.4zM1037,814.9l6.7,-11.7h-13.4zM1037,797.9l6.7,-11.7h-13.4zM1038,798.9l6.7,-11.7h-13.4zM1038,814.9l6.7,-11.7h-13.4zM1039,800.9l6.7,-11.7h-13.4zM1040,816.9l6.7,-11.7h-13.4zM1040,815.9l6.7,-11.7h-13.4zM1041,803.9l6.7,-11.7h-13.4zM1041,808.9l6.7,-11.7h-13.4zM1042,799.9l6.7,-11.7h-13.4zM1042,814.9l6.7,-11.7h-13.4zM1043,804.9l6.7,-11.7h-13.4zM1044,798.9l6.7,-11.7h-13.4zM1044,814.9l6.7,-11.7h-13.4zM1045,811.9l6.7,-11.7h-13.4zM1045,804.9l6.7,-11.7h-13.4zM1046,811.9l6.7,-11.7h-13.4zM1046,803.9l6.7,-11.7h-13.4zM1047,815.9l6.7,-11.7h-13.4zM1048,806.9l6.7,-11.7h-13.4zM1048,805.9l6.7,-11.7h-13.4zM1049,816.9l6.7,-11.7h-13.4zM1049,801.9l6.7,-11.7h-13.4zM1050,796.9l6.7,-11.7h-13.4zM1050,818.9l6.7,-11.7h-13.4zM1051,806.9l6.7,-11.7h-13.4zM1052,797.9l6.7,-11.7h-13.4zM1052,800.9l6.7,-11.7h-13.4zM1053,817.9l6.7,-11.7h-13.4zM1053,804.9l6.7,-11.7h-13.4zM1054,796.9l6.7,-11.7h-13.4zM1054,805.9l6.7,-11.7h-13.4zM1055,797.9l6.7,-11.7h-13.4zM1056,816.9l6.7,-11.7h-13.4zM1056,799.9l6.7,-11.7h-13.4zM1057,814.9l6.7,-11.7h-13.4zM1057,799.9l6.7,-11.7h-13.4zM1058,802.9l6.7,-11.7h-13.4zM1058,805.9l6.7,-11.7h-13.4zM1059,800.9l6.7,-11.7h-13.4zM1060,812.9l6.7,-11.7h-13.4zM1060,815.9l6.7,-11.7h-13.4zM1061,817.9l6.7,-11.7h-13.4zM1061,810.9l6.7,-11.7h-13.4zM1062,816.9l6.7,-11.7h-13.4zM1062,801.9l6.7,-11.7h-13.4zM1063,818.9l6.7,-11.7h-13.4zM1064,816.9l6.7,-11.7h-13.4zM1064,796.9l6.7,-11.7h-13.4zM1065,800.9l6.7,-11.7h-13.4zM1065,818.9l6.7,-11.7h-13.4zM1066,806.9l6.7,-11.7h-13.4zM1066,815.9l6.7,-11.7h-13.4zM1067,802.9l6.7,-11.7h-13.4zM1068,804.9l6.7,-11.7h-13.4zM1068,818.9l6.7,-11.7h-13.4zM1069,814.9l6.7,-11.7h-13.4zM1069,797.9l6.7,-11.7h-13.4zM1070,804.9l6.7,-11.7h-13.4zM1070,816.9l6.7,-11.7h-13.4zM1071,804.9l6.7,-11.7h-13.4zM1072,800.9l6.7,-11.7h-13.4zM1072,807.9l6.7,-11.7h-13.4zM1073,803.9l6.7,-11.7h-13.4zM1073,814.9l6.7,-11.7h-13.4zM1074,814.9l6.7,-11.7h-13.4zM1074,821.9l6.7,-11.7h-13.4zM1075,807.9l6.7,-11.7h-13.4zM1076,820.9l6.7,-11.7h-13.4zM1076,799.9l6.7,-11.7h-13.4zM1077,802.9l6.7,-11.7h-13.4zM1077,803.9l6.7,-11.7h-13.4zM1078,799.9l6.7,-11.7h-13.4zM1078,808.9l6.7,-11.7h-13.4zM1079,800.9l6.7,-11.7h-13.4zM1080,820.9l6.7,-11.7h-13.4zM1080,803.9l6.7,-11.7h-13.4zM1081,820.9l6.7,-11.7h-13.4zM1081,802.9l6.7,-11.7h-13.4zM1082,817.9l6.7,-11.7h-13.4zM1082,808.9l6.7,-11.7h-13.4zM1083,817.9l6.7,-11.7h-13.4zM1084,806.9l6.7,-11.7h-13.4zM1084,798.9l6.7,-11.7h-13.4zM1085,807.9l6.7,-11.7h-13.4zM1085,797.9l6.7,-11.7h-13.4zM1086,816.9l6.7,-11.7h-13.4zM1086,808.9l6.7,-11.7h-13.4zM1087,807.9l6.7,-11.7h-13.4zM1088,799.9l6.7,-11.7h-13.4zM1088,804.9l6.7,-11.7h-13.4zM1089,801.9l6.7,-11.7h-13.4zM1089,807.9l6.7,-11.7h-13.4zM1090,818.9l6.7,-11.7h-13.4zM1090,805.9l6.7,-11.7h-13.4zM1091,818.9l6.7,-11.7h-13.4zM1092,804.9l6.7,-11.7h-13.4zM1092,798.9l6.7,-11.7h-13.4zM1093,807.9l6.7,-11.7h-13.4zM1093,805.9l6.7,-11.7h-13.4zM1094,800.9l6.7,-11.7h-13.4zM1094,800.9l6.7,-11.7h-13.4zM1095,802.9l6.7,-11.7h-13.4zM1096,808.9l6.7,-11.7h-13.4zM1096,815.9l6.7,-11.7h-13.4zM1097,821.9l6.7,-11.7h-13.4zM1097,820.9l6.7,-11.7h-13.4zM1098,816.9l6.7,-11.7h-13.4zM1098,813.9l6.7,-11.7h-13.4zM1099,817.9l6.7,-11.7h-13.4zM1100,820.9l6.7,-11.7h-13.4zM1100,805.9l6.7,-11.7h-13.4zM1101,815.9l6.7,-11.7h-13.4zM1101,812.9l6.7,-11.7h-13.4zM1102,817.9l6.7,-11.7h-13.4zM1102,798.9l6.7,-11.7h-13.4zM1103,822.9l6.7,-11.7h-13.4zM1104,800.9l6.7,-11.7h-13.4zM1104,804.9l6.7,-11.7h-13.4zM1105,815.9l6.7,-11.7h-13.4zM1105,801.9l6.7,-11.7h-13.4zM1106,817.9l6.7,-11.7h-13.4zM1106,799.9l6.7,-11.7h-13.4zM1107,814.9l6.7,-11.7h-13.4zM1108,799.9l6.7,-11.7h-13.4zM1108,813.9l6.7,-11.7h-13.4zM1109,802.9l6.7,-11.7h-13.4zM1109,805.9l6.7,-11.7h-13.4zM1110,808.9l6.7,-11.7h-13.4zM1110,803.9l6.7,-11.7h-13.4zM1111,801.9l6.7,-11.7h-13.4zM1112,813.9l6.7,-11.7h-13.4zM1112,800.9l6.7,-11.7h-13.4zM1113,799.9l6.7,-11.7h-13.4zM1113,808.9l6.7,-11.7h-13.4zM1114,806.9l6.7,-11.7h-13.4zM1114,816.9l6.7,-11.7h-13.4zM1115,804.9l6.7,-11.7h-13.4zM1116,819.9l6.7,-11.7h-13.4zM1116,815.9l6.7,-11.7h-13.4zM1117,804.9l6.7,-11.7h-13.4zM1117,803.9l6.7,-11.7h-13.4zM1118,818.9l6.7,-11.7h-13.4zM1118,822.9l6.7,-11.7h-13.4zM1119,809.9l6.7,-11.7h-13.4zM1120,807.9l6.7,-11.7h-13.4zM1120,812.9l6.7,-11.7h-13.4zM1121,810.9l6.7,-11.7h-13.4zM1121,817.9l6.7,-11.7h-13.4zM1122,817.9l6.7,-11.7h-13.4zM1122,810.9l6.7,-11.7h-13.4zM1123,814.9l6.7,-11.7h-13.4zM1124,819.9l6.7,-11.7h-13.4zM1124,820.9l6.7,-11.7h-13.4zM1125,821.9l6.7,-11.7h-13.4zM1125,816.9l6.7,-11.7h-13.4zM1126,822.9l6.7,-11.7h-13.4zM1126,805.9l6.7,-11.7h-13.4zM1127,824.9l6.7,-11.7h-13.4zM1128,820.9l6.7,-11.7h-13.4zM1128,823.9l6.7,-11.7h-13.4zM1129,809.9l6.7,-11.7h-13.4zM1129,819.9l6.7,-11.7h-13.4zM1130,809.9l6.7,-11.7h-13.4zM1130,800.9l6.7,-11.7h-13.4zM1131,804.9l6.7,-11.7h-13.4zM1132,822.9l6.7,-11.7h-13.4zM1132,801.9l6.7,-11.7h-13.4zM1133,802.9l6.7,-11.7h-13.4zM1133,821.9l6.7,-11.7h-13.4zM1134,819.9l6.7,-11.7h-13.4zM1134,823.9l6.7,-11.7h-13.4zM1135,801.9l6.7,-11.7h-13.4zM1136,801.9l6.7,-11.7h-13.4zM1136,807.9l6.7,-11.7h-13.4zM1137,807.9l6.7,-11.7h-13.4zM1137,812.9l6.7,-11.7h-13.4zM1138,808.9l6.7,-11.7h-13.4zM1138,802.9l6.7,-11.7h-13.4zM1139,820.9l6.7,-11.7h-13.4zM1140,823.9l6.7,-11.7h-13.4zM1140,808.9l6.7,-11.7h-13.4zM1141,814.9l6.7,-11.7h-13.4zM1141,824.9l6.7,-11.7h-13.4zM1142,816.9l6.7,-11.7h-13.4zM1142,805.9l6.7,-11.7h-13.4zM1143,825.9l6.7,-11.7h-13.4zM1144,817.9l6.7,-11.7h-13.4zM1144,818.9l6.7,-11.7h-13.4zM1145,816.9l6.7,-11.7h-13.4zM1145,825.9l6.7,-11.7h-13.4zM1146,818.9l6.7,-11.7h-13.4zM1146,802.9l6.7,-11.7h-13.4zM1147,806.9l6.7,-11.7h-13.4zM1148,809.9l6.7,-11.7h-13.4zM1148,802.9l6.7,-11.7h-13.4zM1149,807.9l6.7,-11.7h-13.4zM1149,824.9l6.7,-11.7h-13.4zM1150,819.9l6.7,-11.7h-13.4zM1150,803.9l6.7,-11.7h-13.4zM1151,823.9l6.7,-11.7h-13.4zM1152,803.9l6.7,-11.7h-13.4zM1152,811.9l6.7,-11.7h-13.4zM1153,822.9l6.7,-11.7h-13.4zM1153,816.9l6.7,-11.7h-13.4zM1154,808.9l6.7,-11.7h-13.4zM1154,824.9l6.7,-11.7h-13.4zM1155,808.9l6.7,-11.7h-13.4zM1156,816.9l6.7,-11.7h-13.4zM1156,822.9l6.7,-11.7h-13.4zM1157,813.9l6.7,-11.7h-13.4zM1157,821.9l6.7,-11.7h-13.4zM1158,823.9l6.7,-11.7h-13.4zM1158,822.9l6.7,-11.7h-13.4zM1159,810.9l6.7,-11.7h-13.4zM1160,809.9l6.7,-11.7h-13.4zM1160,827.9l6.7,-11.7h-13.4zM1161,807.9l6.7,-11.7h-13.4zM1161,827.9l6.7,-11.7h-13.4zM1162,823.9l6.7,-11.7h-13.4zM1162,818.9l6.7,-11.7h-13.4zM1163,816.9l6.7,-11.7h-13.4zM1164,805.9l6.7,-11.7h-13.4zM1164,809.9l6.7,-11.7h-13.4zM1165,808.9l6.7,-11.7h-13.4zM1165,805.9l6.7,-11.7h-13.4zM1166,814.9l6.7,-11.7h-13.4zM1166,808.9l6.7,-11.7h-13.4zM1167,809.9l6.7,-11.7h-13.4zM1168,811.9l6.7,-11.7h-13.4zM1168,823.9l6.7,-11.7h-13.4zM1169,808.9l6.7,-11.7h-13.4zM1169,804.9l6.7,-11.7h-13.4zM1170,826.9l6.7,-11.7h-13.4zM1170,825.9l6.7,-11.7h-13.4zM1171,816.9l6.7,-11.7h-13.4zM1172,811.9l6.7,-11.7h-13.4zM1172,810.9l6.7,-11.7h-13.4zM1173,815.9l6.7,-11.7h-13.4zM1173,811.9l6.7,-11.7h-13.4zM1174,821.9l6.7,-11.7h-13.4zM1174,820.9l6.7,-11.7h-13.4zM1175,819.9l6.7,-11.7h-13.4zM1176,812.9l6.7,-11.7h-13.4zM1176,810.9l6.7,-11.7h-13.4zM1177,818.9l6.7,-11.7h-13.4zM1177,820.9l6.7,-11.7h-13.4zM1178,826.9l6.7,-11.7h-13.4zM1178,818.9l6.7,-11.7h-13.4zM1179,821.9l6.7,-11.7h-13.4zM1180,824.9l6.7,-11.7h-13.4zM1180,806.9l6.7,-11.7h-13.4zM1181,816.9l6.7,-11.7h-13.4zM1181,807.9l6.7,-11.7h-13.4zM1182,820.9l6.7,-11.7h-13.4zM1182,825.9l6.7,-11.7h-13.4zM1183,819.9l6.7,-11.7h-13.4zM1184,808.9l6.7,-11.7h-13.4zM1184,807.9l6.7,-11.7h-13.4zM1185,820.9l6.7,-11.7h-13.4zM1185,811.9l6.7,-11.7h-13.4zM1186,809.9l6.7,-11.7h-13.4zM1186,818.9l6.7,-11.7h-13.4zM1187,810.9l6.7,-11.7h-13.4zM1188,812.9l6.7,-11.7h-13.4zM1188,808.9l6.7,-11.7h-13.4zM1189,823.9l6.7,-11.7h-13.4zM1189,828.9l6.7,-11.7h-13.4zM1190,819.9l6.7,-11.7h-13.4zM1190,819.9l6.7,-11.7h-13.4zM1191,828.9l6.7,-11.7h-13.4zM1192,808.9l6.7,-11.7h-13.4zM1192,816.9l6.7,-11.7h-13.4zM1193,828.9l6.7,-11.7h-13.4zM1193,824.9l6.7,-11.7h-13.4zM1194,810.9l6.7,-11.7h-13.4zM1194,810.9l6.7,-11.7h-13.4zM1195,811.9l6.7,-11.7h-13.4zM1196,827.9l6.7,-11.7h-13.4zM1196,829.9l6.7,-11.7h-13.4zM1197,823.9l6.7,-11.7h-13.4zM1197,810.9l6.7,-11.7h-13.4zM1198,808.9l6.7,-11.7h-13.4zM1198,814.9l6.7,-11.7h-13.4zM1199,809.9l6.7,-11.7h-13.4zM1200,820.9l6.7,-11.7h-13.4zM1200,821.9l6.7,-11.7h-13.4zM1201,819.9l6.7,-11.7h-13.4zM1201,830.9l6.7,-11.7h-13.4zM1202,824.9l6.7,-11.7h-13.4zM1203,818.9l6.7,-11.7h-13.4zM1203,829.9l6.7,-11.7h-13.4zM1204,822.9l6.7,-11.7h-13.4zM1204,814.9l6.7,-11.7h-13.4zM1205,814.9l6.7,-11.7h-13.4zM1205,818.9l6.7,-11.7h-13.4zM1206,816.9l6.7,-11.7h-13.4zM1207,819.9l6.7,-11.7h-13.4zM1207,830.9l6.7,-11.7h-13.4zM1208,829.9l6.7,-11.7h-13.4zM1208,813.9l6.7,-11.7h-13.4zM1209,828.9l6.7,-11.7h-13.4zM1209,828.9l6.7,-11.7h-13.4zM1210,821.9l6.7,-11.7h-13.4zM1211,831.9l6.7,-11.7h-13.4zM1211,829.9l6.7,-11.7h-13.4zM1212,816.9l6.7,-11.7h-13.4zM1212,823.9l6.7,-11.7h-13.4zM1213,812.9l6.7,-11.7h-13.4zM1213,808.9l6.7,-11.7h-13.4zM1214,828.9l6.7,-11.7h-13.4zM1215,821.9l6.7,-11.7h-13.4zM1215,827.9l6.7,-11.7h-13.4zM1216,827.9l6.7,-11.7h-13.4zM1216,827.9l6.7,-11.7h-13.4zM1217,809.9l6.7,-11.7h-13.4zM1217,815.9l6.7,-11.7h-13.4zM1218,815.9l6.7,-11.7h-13.4zM1219,821.9l6.7,-11.7h-13.4zM1219,824.9l6.7,-11.7h-13.4zM1220,823.9l6.7,-11.7h-13.4zM1220,826.9l6.7,-11.7h-13.4zM1221,829.9l6.7,-11.7h-13.4zM1221,824.9l6.7,-11.7h-13.4zM1222,815.9l6.7,-11.7h-13.4zM1223,816.9l6.7,-11.7h-13.4zM1223,830.9l6.7,-11.7h-13.4zM1224,818.9l6.7,-11.7h-13.4zM1224,811.9l6.7,-11.7h-13.4zM1225,819.9l6.7,-11.7h-13.4zM1225,830.9l6.7,-11.7h-13.4zM1226,826.9l6.7,-11.7h-13.4zM1227,813.9l6.7,-11.7h-13.4zM1227,824.9l6.7,-11.7h-13.4zM1228,824.9l6.7,-11.7h-13.4zM1228,822.9l6.7,-11.7h-13.4zM1229,827.9l6.7,-11.7h-13.4zM1229,820.9l6.7,-11.7h-13.4zM1230,813.9l6.7,-11.7h-13.4zM1231,831.9l6.7,-11.7h-13.4zM1231,819.9l6.7,-11.7h-13.4zM1232,816.9l6.7,-11.7h-13.4zM1232,815.9l6.7,-11.7h-13.4zM1233,828.9l6.7,-11.7h-13.4zM1233,823.9l6.7,-11.7h-13.4zM1234,818.9l6.7,-11.7h-13.4zM1235,813.9l6.7,-11.7h-13.4zM1235,832.9l6.7,-11.7h-13.4zM1236,824.9l6.7,-11.7h-13.4zM1236,826.9l6.7,-11.7h-13.4zM1237,812.9l6.7,-11.7h-13.4zM1237,824.9l6.7,-11.7h-13.4zM1238,828.9l6.7,-11.7h-13.4zM1239,819.9l6.7,-11.7h-13.4zM1239,811.9l6.7,-11.7h-13.4zM1240,814.9l6.7,-11.7h-13.4zM1240,815.9l6.7,-11.7h-13.4zM1241,828.9l6.7,-11.7h-13.4zM1241,813.9l6.7,-11.7h-13.4zM1242,826.9l6.7,-11.7h-13.4zM1243,833.9l6.7,-11.7h-13.4zM1243,832.9l6.7,-11.7h-13.4zM1244,832.9l6.7,-11.7h-13.4zM1244,822.9l6.7,-11.7h-13.4zM1245,827.9l6.7,-11.7h-13.4zM1245,816.9l6.7,-11.7h-13.4zM1246,821.9l6.7,-11.7h-13.4zM1247,813.9l6.7,-11.7h-13.4zM1247,832.9l6.7,-11.7h-13.4zM1248,826.9l6.7,-11.7h-13.4zM1248,826.9l6.7,-11.7h-13.4zM1249,815.9l6.7,-11.7h-13.4zM1249,824.9l6.7,-11.7h-13.4zM1250,814.9l6.7,-11.7h-13.4zM1251,827.9l6.7,-11.7h-13.4zM1251,818.9l6.7,-11.7h-13.4zM1252,818.9l6.7,-11.7h-13.4zM1252,821.9l6.7,-11.7h-13.4zM1253,817.9l6.7,-11.7h-13.4zM1253,822.9l6.7,-11.7h-13.4zM1254,814.9l6.7,-11.7h-13.4zM1255,818.9l6.7,-11.7h-13.4zM1255,814.9l6.7,-11.7h-13.4zM1256,825.9l6.7,-11.7h-13.4zM1256,814.9l6.7,-11.7h-13.4zM1257,823.9l6.7,-11.7h-13.4zM1257,828.9l6.7,-11.7h-13.4zM1258,830.9l6.7,-11.7h-13.4zM1259,827.9l6.7,-11.7h-13.4zM1259,825.9l6.7,-11.7h-13.4zM1260,826.9l6.7,-11.7h-13.4zM1260,815.9l6.7,-11.7h-13.4zM1261,825.9l6.7,-11.7h-13.4zM1261,821.9l6.7,-11.7h-13.4zM1262,831.9l6.7,-11.7h-13.4zM1263,831.9l6.7,-11.7h-13.4zM1263,828.9l6.7,-11.7h-13.4zM1264,826.9l6.7,-11.7h-13.4zM1264,815.9l6.7,-11.7h-13.4zM1265,833.9l6.7,-11.7h-13.4zM1265,831.9l6.7,-11.7h-13.4zM1266,825.9l6.7,-11.7h-13.4zM1267,823.9l6.7,-11.7h-13.4zM1267,835.9l6.7,-11.7h-13.4zM1268,818.9l6.7,-11.7h-13.4zM1268,830.9l6.7,-11.7h-13.4zM1269,833.9l6.7,-11.7h-13.4zM1269,834.9l6.7,-11.7h-13.4zM1270,827.9l6.7,-11.7h-13.4zM1271,827.9l6.7,-11.7h-13.4zM1271,830.9l6.7,-11.7h-13.4zM1272,831.9l6.7,-11.7h-13.4zM1272,823.9l6.7,-11.7h-13.4zM1273,827.9l6.7,-11.7h-13.4zM1273,816.9l6.7,-11.7h-13.4zM1274,825.9l6.7,-11.7h-13.4zM1275,816.9l6.7,-11.7h-13.4zM1275,823.9l6.7,-11.7h-13.4zM1276,832.9l6.7,-11.7h-13.4zM1276,831.9l6.7,-11.7h-13.4zM1277,830.9l6.7,-11.7h-13.4zM1277,832.9l6.7,-11.7h-13.4zM1278,825.9l6.7,-11.7h-13.4zM1279,833.9l6.7,-11.7h-13.4zM1279,823.9l6.7,-11.7h-13.4zM1280,823.9l6.7,-11.7h-13.4zM1280,831.9l6.7,-11.7h-13.4zM1281,836.9l6.7,-11.7h-13.4zM1281,820.9l6.7,-11.7h-13.4zM1282,824.9l6.7,-11.7h-13.4zM1283,824.9l6.7,-11.7h-13.4zM1283,831.9l6.7,-11.7h-13.4zM1284,821.9l6.7,-11.7h-13.4zM1284,836.9l6.7,-11.7h-13.4zM1285,822.9l6.7,-11.7h-13.4zM1285,823.9l6.7,-11.7h-13.4zM1286,833.9l6.7,-11.7h-13.4zM1287,833.9l6.7,-11.7h-13.4zM1287,826.9l6.7,-11.7h-13.4zM1288,833.9l6.7,-11.7h-13.4zM1288,823.9l6.7,-11.7h-13.4zM1289,828.9l6.7,-11.7h-13.4zM1289,836.9l6.7,-11.7h-13.4zM1290,832.9l6.7,-11.7h-13.4zM1291,822.9l6.7,-11.7h-13.4zM1291,822.9l6.7,-11.7h-13.4zM1292,835.9l6.7,-11.7h-13.4zM1292,824.9l6.7,-11.7h-13.4zM1293,828.9l6.7,-11.7h-13.4zM1293,824.9l6.7,-11.7h-13.4zM1294,816.9l6.7,-11.7h-13.4zM1295,829.9l6.7,-11.7h-13.4zM1295,822.9l6.7,-11.7h-13.4zM1296,823.9l6.7,-11.7h-13.4zM1296,815.9l6.7,-11.7h-13.4zM1297,817.9l6.7,-11.7h-13.4zM1297,819.9l6.7,-11.7h-13.4zM1298,822.9l6.7,-11.7h-13.4zM1299,825.9l6.7,-11.7h-13.4zM1299,820.9l6.7,-11.7h-13.4zM1300,825.9l6.7,-11.7h-13.4zM1300,828.9l6.7,-11.7h-13.4zM1301,818.9l6.7,-11.7h-13.4zM1301,816.9l6.7,-11.7h-13.4zM1302,837.9l6.7,-11.7h-13.4zM1303,818.9l6.7,-11.7h-13.4zM1303,832.9l6.7,-11.7h-13.4zM1304,833.9l6.7,-11.7h-13.4zM1304,835.9l6.7,-11.7h-13.4zM1305,832.9l6.7,-11.7h-13.4zM1305,816.9l6.7,-11.7h-13.4zM1306,828.9l6.7,-11.7h-13.4zM1307,831.9l6.7,-11.7h-13.4zM1307,820.9l6.7,-11.7h-13.4zM1308,826.9l6.7,-11.7h-13.4zM1308,823.9l6.7,-11.7h-13.4zM1309,828.9l6.7,-11.7h-13.4zM1309,825.9l6.7,-11.7h-13.4zM1310,830.9l6.7,-11.7h-13.4zM1311,832.9l6.7,-11.7h-13.4zM1311,818.9l6.7,-11.7h-13.4zM1312,821.9l6.7,-11.7h-13.4zM1312,827.9l6.7,-11.7h-13.4zM1313,834.9l6.7,-11.7h-13.4zM1313,837.9l6.7,-11.7h-13.4zM1314,833.9l6.7,-11.7h-13.4zM1315,821.9l6.7,-11.7h-13.4zM1315,832.9l6.7,-11.7h-13.4zM1316,819.9l6.7,-11.7h-13.4zM1316,838.9l6.7,-11.7h-13.4zM1317,824.9l6.7,-11.7h-13.4zM1317,835.9l6.7,-11.7h-13.4zM1318,826.9l6.7,-11.7h-13.4zM1319,821.9l6.7,-11.7h-13.4zM1319,816.9l6.7,-11.7h-13.4zM1320,823.9l6.7,-11.7h-13.4zM1320,820.9l6.7,-11.7h-13.4zM1321,820.9l6.7,-11.7h-13.4zM1321,828.9l6.7,-11.7h-13.4zM1322,835.9l6.7,-11.7h-13.4zM1323,824.9l6.7,-11.7h-13.4zM1323,835.9l6.7,-11.7h-13.4zM1324,833.9l6.7,-11.7h-13.4zM1324,826.9l6.7,-11.7h-13.4zM1325,838.9l6.7,-11.7h-13.4zM1325,824.9l6.7,-11.7h-13.4zM1326,826.9l6.7,-11.7h-13.4zM1327,837.9l6.7,-11.7h-13.4zM1327,819.9l6.7,-11.7h-13.4zM1328,836.9l6.7,-11.7h-13.4zM1328,822.9l6.7,-11.7h-13.4zM1329,830.9l6.7,-11.7h-13.4zM1329,821.9l6.7,-11.7h-13.4zM1330,824.9l6.7,-11.7h-13.4zM1331,830.9l6.7,-11.7h-13.4zM1331,816.9l6.7,-11.7h-13.4zM1332,815.9l6.7,-11.7h-13.4zM1332,830.9l6.7,-11.7h-13.4zM1333,836.9l6.7,-11.7h-13.4zM1333,826.9l6.7,-11.7h-13.4zM1334,829.9l6.7,-11.7h-13.4zM1335,836.9l6.7,-11.7h-13.4zM1335,838.9l6.7,-11.7h-13.4zM1336,828.9l6.7,-11.7h-13.4zM1336,836.9l6.7,-11.7h-13.4zM1337,836.9l6.7,-11.7h-13.4zM1337,830.9l6.7,-11.7h-13.4zM1338,825.9l6.7,-11.7h-13.4zM1339,840.9l6.7,-11.7h-13.4zM1339,822.9l6.7,-11.7h-13.4zM1340,835.9l6.7,-11.7h-13.4zM1340,825.9l6.7,-11.7h-13.4zM1341,836.9l6.7,-11.7h-13.4zM1341,833.9l6.7,-11.7h-13.4zM1342,816.9l6.7,-11.7h-13.4zM1343,837.9l6.7,-11.7h-13.4zM1343,816.9l6.7,-11.7h-13.4zM1344,817.9l6.7,-11.7h-13.4zM1344,826.9l6.7,-11.7h-13.4zM1345,819.9l6.7,-11.7h-13.4zM1345,838.9l6.7,-11.7h-13.4zM1346,825.9l6.7,-11.7h-13.4zM1347,827.9l6.7,-11.7h-13.4zM1347,817.9l6.7,-11.7h-13.4zM1348,836.9l6.7,-11.7h-13.4zM1348,832.9l6.7,-11.7h-13.4zM1349,826.9l6.7,-11.7h-13.4zM1349,826.9l6.7,-11.7h-13.4zM1350,821.9l6.7,-11.7h-13.4zM1351,827.9l6.7,-11.7h-13.4zM1351,816.9l6.7,-11.7h-13.4zM1352,833.9l6.7,-11.7h-13.4zM1352,819.9l6.7,-11.7h-13.4zM1353,819.9l6.7,-11.7h-13.4zM1353,829.9l6.7,-11.7h-13.4zM1354,820.9l6.7,-11.7h-13.4zM1355,837.9l6.7,-11.7h-13.4zM1355,820.9l6.7,-11.7h-13.4zM1356,830.9l6.7,-11.7h-13.4zM1356,820.9l6.7,-11.7h-13.4zM1357,820.9l6.7,-11.7h-13.4zM1357,830.9l6.7,-11.7h-13.4zM1358,837.9l6.7,-11.7h-13.4zM1359,834.9l6.7,-11.7h-13.4zM1359,826.9l6.7,-11.7h-13.4zM1360,821.9l6.7,-11.7h-13.4zM1360,833.9l6.7,-11.7h-13.4zM1361,839.9l6.7,-11.7h-13.4zM1361,818.9l6.7,-11.7h-13.4zM1362,839.9l6.7,-11.7h-13.4zM1363,826.9l6.7,-11.7h-13.4zM1363,838.9l6.7,-11.7h-13.4zM1364,829.9l6.7,-11.7h-13.4zM1364,841.9l6.7,-11.7h-13.4zM1365,832.9l6.7,-11.7h-13.4zM1365,832.9l6.7,-11.7h-13.4zM1366,818.9l6.7,-11.7h-13.4zM1367,827.9l6.7,-11.7h-13.4zM1367,829.9l6.7,-11.7h-13.4zM1368,832.9l6.7,-11.7h-13.4zM1368,826.9l6.7,-11.7h-13.4zM1369,822.9l6.7,-11.7h-13.4zM1369,831.9l6.7,-11.7h-13.4zM1370,830.9l6.7,-11.7h-13.4zM1371,832.9l6.7,-11.7h-13.4zM1371,835.9l6.7,-11.7h-13.4zM1372,834.9l6.7,-11.7h-13.4zM1372,832.9l6.7,-11.7h-13.4zM1373,841.9l6.7,-11.7h-13.4zM1373,824.9l6.7,-11.7h-13.4zM1374,820.9l6.7,-11.7h-13.4zM1375,830.9l6.7,-11.7h-13.4zM1375,826.9l6.7,-11.7h-13.4zM1376,841.9l6.7,-11.7h-13.4zM1376,832.9l6.7,-11.7h-13.4zM1377,837.9l6.7,-11.7h-13.4zM1377,823.9l6.7,-11.7h-13.4zM1378,839.9l6.7,-11.7h-13.4zM1379,838.9l6.7,-11.7h-13.4zM1379,841.9l6.7,-11.7h-13.4zM1380,818.9l6.7,-11.7h-13.4zM1380,821.9l6.7,-11.7h-13.4zM1381,828.9l6.7,-11.7h-13.4zM1381,829.9l6.7,-11.7h-13.4zM1382,820.9l6.7,-11.7h-13.4zM1383,830.9l6.7,-11.7h-13.4zM1383,831.9l6.7,-11.7h-13.4zM1384,832.9l6.7,-11.7h-13.4zM1384,831.9l6.7,-11.7h-13.4zM1385,819.9l6.7,-11.7h-13.4zM1385,834.9l6.7,-11.7h-13.4zM1386,831.9l6.7,-11.7h-13.4zM1387,834.9l6.7,-11.7h-13.4zM1387,834.9l6.7,-11.7h-13.4zM1388,819.9l6.7,-11.7h-13.4zM1388,831.9l6.7,-11.7h-13.4zM1389,819.9l6.7,-11.7h-13.4zM1389,842.9l6.7,-11.7h-13.4zM1390,827.9l6.7,-11.7h-13.4zM1391,824.9l6.7,-11.7h-13.4zM1391,843.9l6.7,-11.7h-13.4zM1392,824.9l6.7,-11.7h-13.4zM1392,819.9l6.7,-11.7h-13.4zM1393,838.9l6.7,-11.7h-13.4zM1393,838.9l6.7,-11.7h-13.4zM1394,832.9l6.7,-11.7h-13.4zM1395,840.9l6.7,-11.7h-13.4zM1395,821.9l6.7,-11.7h-13.4zM1396,844.9l6.7,-11.7h-13.4zM1396,836.9l6.7,-11.7h-13.4zM1397,840.9l6.7,-11.7h-13.4zM1397,834.9l6.7,-11.7h-13.4zM1398,840.9l6.7,-11.7h-13.4zM1399,824.9l6.7,-11.7h-13.4zM1399,840.9l6.7,-11.7h-13.4zM1400,831.9l6.7,-11.7h-13.4zM1400,819.9l6.7,-11.7h-13.4zM1401,822.9l6.7,-11.7h-13.4zM1401,829.9l6.7,-11.7h-13.4zM1402,826.9l6.7,-11.7h-13.4zM1403,836.9l6.7,-11.7h-13.4zM1403,841.9l6.7,-11.7h-13.4zM1404,843.9l6.7,-11.7h-13.4zM1404,831.9l6.7,-11.7h-13.4zM1405,838.9l6.7,-11.7h-13.4zM1405,822.9l6.7,-11.7h-13.4zM1406,825.9l6.7,-11.7h-13.4zM1407,825.9l6.7,-11.7h-13.4zM1407,822.9l6.7,-11.7h-13.4zM1408,835.9l6.7,-11.7h-13.4zM1408,829.9l6.7,-11.7h-13.4zM1409,829.9l6.7,-11.7h-13.4zM1409,843.9l6.7,-11.7h-13.4zM1410,830.9l6.7,-11.7h-13.4zM1411,836.9l6.7,-11.7h-13.4zM1411,838.9l6.7,-11.7h-13.4zM1412,822.9l6.7,-11.7h-13.4zM1412,833.9l6.7,-11.7h-13.4zM1413,842.9l6.7,-11.7h-13.4zM1413,821.9l6.7,-11.7h-13.4zM1414,831.9l6.7,-11.7h-13.4zM1415,836.9l6.7,-11.7h-13.4zM1415,838.9l6.7,-11.7h-13.4zM1416,840.9l6.7,-11.7h-13.4zM1416,824.9l6.7,-11.7h-13.4zM1417,823.9l6.7,-11.7h-13.4zM1417,826.9l6.7,-11.7h-13.4zM1418,845.9l6.7,-11.7h-13.4zM1419,843.9l6.7,-11.7h-13.4zM1419,832.9l6.7,-11.7h-13.4zM1420,827.9l6.7,-11.7h-13.4zM1420,828.9l6.7,-11.7h-13.4zM1421,840.9l6.7,-11.7h-13.4zM1421,844.9l6.7,-11.7h-13.4zM1422,831.9l6.7,-11.7h-13.4zM1423,831.9l6.7,-11.7h-13.4zM1423,832.9l6.7,-11.7h-13.4zM1424,837.9l6.7,-11.7h-13.4zM1424,833.9l6.7,-11.7h-13.4zM1425,844.9l6.7,-11.7h-13.4zM1425,834.9l6.7,-11.7h-13.4zM1426,840.9l6.7,-11.7h-13.4zM1427,842.9l6.7,-11.7h-13.4zM1427,841.9l6.7,-11.7h-13.4zM1428,826.9l6.7,-11.7h-13.4zM1428,836.9l6.7,-11.7h-13.4zM1429,822.9l6.7,-11.7h-13.4zM1429,828.9l6.7,-11.7h-13.4zM1430,838.9l6.7,-11.7h-13.4zM1431,839.9l6.7,-11.7h-13.4zM1431,825.9l6.7,-11.7h-13.4zM1432,824.9l6.7,-11.7h-13.4zM1432,827.9l6.7,-11.7h-13.4zM1433,835.9l6.7,-11.7h-13.4zM1433,846.9l6.7,-11.7h-13.4zM1434,846.9l6.7,-11.7h-13.4zM1435,843.9l6.7,-11.7h-13.4zM1435,833.9l6.7,-11.7h-13.4zM1436,831.9l6.7,-11.7h-13.4zM1436,841.9l6.7,-11.7h-13.4zM1437,826.9l6.7,-11.7h-13.4zM1437,839.9l6.7,-11.7h-13.4zM1438,833.9l6.7,-11.7h-13.4zM1439,844.9l6.7,-11.7h-13.4zM1439,834.9l6.7,-11.7h-13.4zM1440,831.9l6.7,-11.7h-13.4zM1440,839.9l6.7,-11.7h-13.4zM1441,827.9l6.7,-11.7h-13.4zM1441,846.9l6.7,-11.7h-13.4zM1442,837.9l6.7,-11.7h-13.4zM1443,835.9l6.7,-11.7h-13.4zM1443,846.9l6.7,-11.7h-13.4zM1444,828.9l6.7,-11.7h-13.4zM1444,828.9l6.7,-11.7h-13.4zM1445,823.9l6.7,-11.7h-13.4zM1445,826.9l6.7,-11.7h-13.4zM1446,838.9l6.7,-11.7h-13.4zM1447,832.9l6.7,-11.7h-13.4zM1447,825.9l6.7,-11.7h-13.4zM1448,824.9l6.7,-11.7h-13.4zM1448,827.9l6.7,-11.7h-13.4zM1449,826.9l6.7,-11.7h-13.4zM1449,843.9l6.7,-11.7h-13.4zM1450,847.9l6.7,-11.7h-13.4zM1451,843.9l6.7,-11.7h-13.4zM1451,838.9l6.7,-11.7h-13.4zM1452,836.9l6.7,-11.7h-13.4zM1452,829.9l6.7,-11.7h-13.4zM1453,840.9l6.7,-11.7h-13.4zM1453,832.9l6.7,-11.7h-13.4zM1454,823.9l6.7,-11.7h-13.4zM1455,825.9l6.7,-11.7h-13.4zM1455,832.9l6.7,-11.7h-13.4zM1456,834.9l6.7,-11.7h-13.4zM1456,836.9l6.7,-11.7h-13.4zM1457,844.9l6.7,-11.7h-13.4zM1457,831.9l6.7,-11.7h-13.4zM1458,843.9l6.7,-11.7h-13.4zM1459,825.9l6.7,-11.7h-13.4zM1459,840.9l6.7,-11.7h-13.4zM1460,836.9l6.7,-11.7h-13.4zM1460,830.9l6.7,-11.7h-13.4zM1461,828.9l6.7,-11.7h-13.4zM1461,846.9l6.7,-11.7h-13.4zM1462,844.9l6.7,-11.7h-13.4zM1463,846.9l6.7,-11.7h-13.4zM1463,845.9l6.7,-11.7h-13.4zM1464,846.9l6.7,-11.7h-13.4zM1464,838.9l6.7,-11.7h-13.4zM1465,840.9l6.7,-11.7h-13.4zM1465,847.9l6.7,-11.7h-13.4zM1466,824.9l6.7,-11.7h-13.4zM1467,848.9l6.7,-11.7h-13.4zM1467,829.9l6.7,-11.7h-13.4zM1468,824.9l6.7,-11.7h-13.4zM1468,833.9l6.7,-11.7h-13.4zM1469,840.9l6.7,-11.7h-13.4zM1469,835.9l6.7,-11.7h-13.4zM1470,834.9l6.7,-11.7h-13.4zM1471,830.9l6.7,-11.7h-13.4zM1471,832.9l6.7,-11.7h-13.4zM1472,843.9l6.7,-11.7h-13.4zM1472,838.9l6.7,-11.7h-13.4zM1473,844.9l6.7,-11.7h-13.4zM1473,848.9l6.7,-11.7h-13.4zM1474,835.9l6.7,-11.7h-13.4zM1475,829.9l6.7,-11.7h-13.4zM1475,833.9l6.7,-11.7h-13.4zM1476,828.9l6.7,-11.7h-13.4zM1476,829.9l6.7,-11.7h-13.4zM1477,827.9l6.7,-11.7h-13.4zM1477,844.9l6.7,-11.7h-13.4zM1478,832.9l6.7,-11.7h-13.4zM1479,834.9l6.7,-11.7h-13.4zM1479,832.9l6.7,-11.7h-13.4zM1480,845.9l6.7,-11.7h-13.4zM1480,843.9l6.7,-11.7h-13.4zM1481,829.9l6.7,-11.7h-13.4zM1481,830.9l6.7,-11.7h-13.4zM1482,842.9l6.7,-11.7h-13.4zM1483,830.9l6.7,-11.7h-13.4zM1483,833.9l6.7,-11.7h-13.4zM1484,830.9l6.7,-11.7h-13.4zM1484,837.9l6.7,-11.7h-13.4zM1485,824.9l6.7,-11.7h-13.4zM1485,836.9l6.7,-11.7h-13.4zM1486,848.9l6.7,-11.7h-13.4zM1487,838.9l6.7,-11.7h-13.4zM1487,847.9l6.7,-11.7h-13.4zM1488,843.9l6.7,-11.7h-13.4zM1488,836.9l6.7,-11.7h-13.4zM1489,833.9l6.7,-11.7h-13.4zM1489,849.9l6.7,-11.7h-13.4zM1490,837.9l6.7,-11.7h-13.4zM1491,841.9l6.7,-11.7h-13.4zM1491,849.9l6.7,-11.7h-13.4zM1492,842.9l6.7,-11.7h-13.4zM1492,831.9l6.7,-11.7h-13.4zM1493,840.9l6.7,-11.7h-13.4zM1493,850.9l6.7,-11.7h-13.4zM1494,833.9l6.7,-11.7h-13.4zM1495,826.9l6.7,-11.7h-13.4zM1495,825.9l6.7,-11.7h-13.4zM1496,844.9l6.7,-11.7h-13.4zM1496,828.9l6.7,-11.7h-13.4zM1497,842.9l6.7,-11.7h-13.4zM1497,847.9l6.7,-11.7h-13.4zM1498,842.9l6.7,-11.7h-13.4zM1499,833.9l6.7,-11.7h-13.4zM1499,836.9l6.7,-11.7h-13.4zM1500,847.9l6.7,-11.7h-13.4zM1500,848.9l6.7,-11.7h-13.4zM1501,842.9l6.7,-11.7h-13.4zM1501,834.9l6.7,-11.7h-13.4zM1502,838.9l6.7,-11.7h-13.4zM1503,846.9l6.7,-11.7h-13.4zM1503,826.9l6.7,-11.7h-13.4zM1504,838.9l6.7,-11.7h-13.4zM1504,843.9l6.7,-11.7h-13.4zM1505,842.9l6.7,-11.7h-13.4zM1505,827.9l6.7,-11.7h-13.4zM1506,843.9l6.7,-11.7h-13.4zM1507,838.9l6.7,-11.7h-13.4zM1507,828.9l6.7,-11.7h-13.4zM1508,847.9l6.7,-11.7h-13.4zM1508,837.9l6.7,-11.7h-13.4zM1509,828.9l6.7,-11.7h-13.4zM1509,846.9l6.7,-11.7h-13.4zM1510,840.9l6.7,-11.7h-13.4zM1511,838.9l6.7,-11.7h-13.4zM1511,835.9l6.7,-11.7h-13.4zM1512,838.9l6.7,-11.7h-13.4zM1512,839.9l6.7,-11.7h-13.4zM1513,840.9l6.7,-11.7h-13.4zM1513,827.9l6.7,-11.7h-13.4zM1514,851.9l6.7,-11.7h-13.4zM1515,832.9l6.7,-11.7h-13.4zM1515,833.9l6.7,-11.7h-13.4zM1516,841.9l6.7,-11.7h-13.4zM1516,845.9l6.7,-11.7h-13.4zM1517,827.9l6.7,-11.7h-13.4zM1517,831.9l6.7,-11.7h-13.4zM1518,838.9l6.7,-11.7h-13.4zM1519,849.9l6.7,-11.7h-13.4zM1519,829.9l6.7,-11.7h-13.4zM1520,852.9l6.7,-11.7h-13.4zM1520,836.9l6.7,-11.7h-13.4zM1521,846.9l6.7,-11.7h-13.4zM1521,833.9l6.7,-11.7h-13.4zM1522,850.9l6.7,-11.7h-13.4zM1523,843.9l6.7,-11.7h-13.4zM1523,837.9l6.7,-11.7h-13.4zM1524,851.9l6.7,-11.7h-13.4zM1524,846.9l6.7,-11.7h-13.4zM1525,840.9l6.7,-11.7h-13.4zM1525,838.9l6.7,-11.7h-13.4zM1526,843.9l6.7,-11.7h-13.4zM1527,855.9l6.7,-11.7h-13.4zM1527,848.9l6.7,-11.7h-13.4zM1528,831.9l6.7,-11.7h-13.4zM1528,848.9l6.7,-11.7h-13.4zM1529,842.9l6.7,-11.7h-13.4zM1529,839.9l6.7,-11.7h-13.4zM1530,837.9l6.7,-11.7h-13.4zM1531,836.9l6.7,-11.7h-13.4zM1531,834.9l6.7,-11.7h-13.4zM1532,837.9l6.7,-11.7h-13.4zM1532,834.9l6.7,-11.7h-13.4zM1533,846.9l6.7,-11.7h-13.4zM1533,853.9l6.7,-11.7h-13.4zM1534,852.9l6.7,-11.7h-13.4zM1535,841.9l6.7,-11.7h-13.4zM1535,847.9l6.7,-11.7h-13.4zM1536,833.9l6.7,-11.7h-13.4zM1536,846.9l6.7,-11.7h-13.4zM1537,853.9l6.7,-11.7h-13.4zM1537,834.9l6.7,-11.7h-13.4zM1538,837.9l6.7,-11.7h-13.4zM1539,845.9l6.7,-11.7h-13.4zM1539,837.9l6.7,-11.7h-13.4zM1540,852.9l6.7,-11.7h-13.4zM1540,846.9l6.7,-11.7h-13.4zM1541,849.9l6.7,-11.7h-13.4zM1541,836.9l6.7,-11.7h-13.4zM1542,851.9l6.7,-11.7h-13.4zM1543,837.9l6.7,-11.7h-13.4zM1543,849.9l6.7,-11.7h-13.4zM1544,855.9l6.7,-11.7h-13.4zM1544,845.9l6.7,-11.7h-13.4zM1545,851.9l6.7,-11.7h-13.4zM1545,847.9l6.7,-11.7h-13.4zM1546,833.9l6.7,-11.7h-13.4zM1547,857.9l6.7,-11.7h-13.4zM1547,844.9l6.7,-11.7h-13.4zM1548,848.9l6.7,-11.7h-13.4zM1548,842.9l6.7,-11.7h-13.4zM1549,844.9l6.7,-11.7h-13.4zM1549,849.9l6.7,-11.7h-13.4zM1550,860.9l6.7,-11.7h-13.4zM1551,859.9l6.7,-11.7h-13.4zM1551,847.9l6.7,-11.7h-13.4zM1552,856.9l6.7,-11.7h-13.4zM1552,857.9l6.7,-11.7h-13.4zM1553,848.9l6.7,-11.7h-13.4zM1553,851.9l6.7,-11.7h-13.4zM1554,853.9l6.7,-11.7h-13.4zM1555,838.9l6.7,-11.7h-13.4zM1555,835.9l6.7,-11.7h-13.4zM1556,852.9l6.7,-11.7h-13.4zM1556,840.9l6.7,-11.7h-13.4zM1557,855.9l6.7,-11.7h-13.4zM1557,844.9l6.7,-11.7h-13.4zM1558,846.9l6.7,-11.7h-13.4zM1559,849.9l6.7,-11.7h-13.4zM1559,849.9l6.7,-11.7h-13.4zM1560,847.9l6.7,-11.7h-13.4zM1560,836.9l6.7,-11.7h-13.4zM1561,843.9l6.7,-11.7h-13.4zM1561,841.9l6.7,-11.7h-13.4zM1562,836.9l6.7,-11.7h-13.4zM1563,843.9l6.7,-11.7h-13.4zM1563,838.9l6.7,-11.7h-13.4zM1564,860.9l6.7,-11.7h-13.4zM1564,844.9l6.7,-11.7h-13.4zM1565,854.9l6.7,-11.7h-13.4zM1565,863.9l6.7,-11.7h-13.4zM1566,860.9l6.7,-11.7h-13.4zM1567,840.9l6.7,-11.7h-13.4zM1567,856.9l6.7,-11.7h-13.4zM1568,864.9l6.7,-11.7h-13.4zM1568,837.9l6.7,-11.7h-13.4zM1569,861.9l6.7,-11.7h-13.4zM1570,857.9l6.7,-11.7h-13.4zM1570,837.9l6.7,-11.7h-13.4zM1571,838.9l6.7,-11.7h-13.4zM1571,837.9l6.7,-11.7h-13.4zM1572,839.9l6.7,-11.7h-13.4zM1572,839.9l6.7,-11.7h-13.4zM1573,858.9l6.7,-11.7h-13.4zM1574,838.9l6.7,-11.7h-13.4zM1574,864.9l6.7,-11.7h-13.4zM1575,852.9l6.7,-11.7h-13.4zM1575,864.9l6.7,-11.7h-13.4zM1576,864.9l6.7,-11.7h-13.4zM1576,837.9l6.7,-11.7h-13.4zM1577,859.9l6.7,-11.7h-13.4zM1578,851.9l6.7,-11.7h-13.4zM1578,860.9l6.7,-11.7h-13.4zM1579,854.9l6.7,-11.7h-13.4zM1579,859.9l6.7,-11.7h-13.4zM1580,836.9l6.7,-11.7h-13.4zM1580,844.9l6.7,-11.7h-13.4zM1581,853.9l6.7,-11.7h-13.4zM1582,836.9l6.7,-11.7h-13.4zM1582,857.9l6.7,-11.7h-13.4zM1583,846.9l6.7,-11.7h-13.4zM1583,848.9l6.7,-11.7h-13.4zM1584,852.9l6.7,-11.7h-13.4zM1584,856.9l6.7,-11.7h-13.4zM1585,836.9l6.7,-11.7h-13.4zM1586,860.9l6.7,-11.7h-13.4zM1586,850.9l6.7,-11.7h-13.4zM1587,851.9l6.7,-11.7h-13.4zM1587,840.9l6.7,-11.7h-13.4zM1588,858.9l6.7,-11.7h-13.4zM1588,845.9l6.7,-11.7h-13.4zM1589,841.9l6.7,-11.7h-13.4zM1590,852.9l6.7,-11.7h-13.4zM1590,866.9l6.7,-11.7h-13.4zM1591,862.9l6.7,-11.7h-13.4zM1591,849.9l6.7,-11.7h-13.4zM1592,841.9l6.7,-11.7h-13.4zM1592,860.9l6.7,-11.7h-13.4zM1593,865.9l6.7,-11.7h-13.4zM1594,860.9l6.7,-11.7h-13.4zM1594,859.9l6.7,-11.7h-13.4zM1595,864.9l6.7,-11.7h-13.4zM1595,848.9l6.7,-11.7h-13.4zM1596,864.9l6.7,-11.7h-13.4zM1596,854.9l6.7,-11.7h-13.4zM1597,837.9l6.7,-11.7h-13.4zM1598,844.9l6.7,-11.7h-13.4zM1598,859.9l6.7,-11.7h-13.4zM1599,839.9l6.7,-11.7h-13.4zM1599,853.9l6.7,-11.7h-13.4zM1600,852.9l6.7,-11.7h-13.4zM1600,843.9l6.7,-11.7h-13.4zM1601,845.9l6.7,-11.7h-13.4zM1602,837.9l6.7,-11.7h-13.4zM1602,845.9l6.7,-11.7h-13.4zM1603,857.9l6.7,-11.7h-13.4zM1603,839.9l6.7,-11.7h-13.4zM1604,854.9l6.7,-11.7h-13.4zM1604,845.9l6.7,-11.7h-13.4zM1605,864.9l6.7,-11.7h-13.4zM1606,841.9l6.7,-11.7h-13.4zM1606,853.9l6.7,-11.7h-13.4zM1607,837.9l6.7,-11.7h-13.4zM1607,865.9l6.7,-11.7h-13.4zM1608,859.9l6.7,-11.7h-13.4zM1608,849.9l6.7,-11.7h-13.4zM1609,852.9l6.7,-11.7h-13.4zM1610,847.9l6.7,-11.7h-13.4zM1610,844.9l6.7,-11.7h-13.4zM1611,866.9l6.7,-11.7h-13.4zM1611,840.9l6.7,-11.7h-13.4zM1612,848.9l6.7,-11.7h-13.4zM1612,839.9l6.7,-11.7h-13.4zM1613,857.9l6.7,-11.7h-13.4zM1614,849.9l6.7,-11.7h-13.4zM1614,843.9l6.7,-11.7h-13.4zM1615,837.9l6.7,-11.7h-13.4zM1615,852.9l6.7,-11.7h-13.4zM1616,847.9l6.7,-11.7h-13.4zM1616,848.9l6.7,-11.7h-13.4zM1617,862.9l6.7,-11.7h-13.4zM1618,847.9l6.7,-11.7h-13.4zM1618,861.9l6.7,-11.7h-13.4zM1619,848.9l6.7,-11.7h-13.4zM1619,845.9l6.7,-11.7h-13.4zM1620,860.9l6.7,-11.7h-13.4zM1620,855.9l6.7,-11.7h-13.4zM1621,871.9l6.7,-11.7h-13.4zM1622,866.9l6.7,-11.7h-13.4zM1622,846.9l6.7,-11.7h-13.4zM1623,858.9l6.7,-11.7h-13.4zM1623,868.9l6.7,-11.7h-13.4zM1624,854.9l6.7,-11.7h-13.4zM1624,867.9l6.7,-11.7h-13.4zM1625,861.9l6.7,-11.7h-13.4zM1626,869.9l6.7,-11.7h-13.4zM1626,855.9l6.7,-11.7h-13.4zM1627,861.9l6.7,-11.7h-13.4zM1627,848.9l6.7,-11.7h-13.4zM1628,850.9l6.7,-11.7h-13.4zM1628,858.9l6.7,-11.7h-13.4zM1629,869.9l6.7,-11.7h-13.4zM1630,858.9l6.7,-11.7h-13.4zM1630,868.9l6.7,-11.7h-13.4zM1631,861.9l6.7,-11.7h-13.4zM1631,856.9l6.7,-11.7h-13.4zM1632,853.9l6.7,-11.7h-13.4zM1632,868.9l6.7,-11.7h-13.4zM1633,855.9l6.7,-11.7h-13.4zM1634,848.9l6.7,-11.7h-13.4zM1634,851.9l6.7,-11.7h-13.4zM1635,851.9l6.7,-11.7h-13.4zM1635,865.9l6.7,-11.7h-13.4zM1636,855.9l6.7,-11.7h-13.4zM1636,868.9l6.7,-11.7h-13.4zM1637,864.9l6.7,-11.7h-13.4zM1638,858.9l6.7,-11.7h-13.4zM1638,854.9l6.7,-11.7h-13.4zM1639,860.9l6.7,-11.7h-13.4zM1639,851.9l6.7,-11.7h-13.4zM1640,852.9l6.7,-11.7h-13.4zM1640,869.9l6.7,-11.7h-13.4zM1641,861.9l6.7,-11.7h-13.4zM1642,852.9l6.7,-11.7h-13.4zM1642,871.9l6.7,-11.7h-13.4zM1643,852.9l6.7,-11.7h-13.4zM1643,870.9l6.7,-11.7h-13.4zM1644,869.9l6.7,-11.7h-13.4zM1644,864.9l6.7,-11.7h-13.4zM1645,853.9l6.7,-11.7h-13.4zM1646,872.9l6.7,-11.7h-13.4zM1646,866.9l6.7,-11.7h-13.4zM1647,864.9l6.7,-11.7h-13.4zM1647,867.9l6.7,-11.7h-13.4zM1648,859.9l6.7,-11.7h-13.4zM1648,859.9l6.7,-11.7h-13.4zM1649,852.9l6.7,-11.7h-13.4zM1650,862.9l6.7,-11.7h-13.4zM1650,860.9l6.7,-11.7h-13.4zM1651,862.9l6.7,-11.7h-13.4zM1651,853.9l6.7,-11.7h-13.4zM1652,853.9l6.7,-11.7h-13.4zM1652,858.9l6.7,-11.7h-13.4zM1653,855.9l6.7,-11.7h-13.4zM1654,854.9l6.7,-11.7h-13.4zM1654,859.9l6.7,-11.7h-13.4zM1655,850.9l6.7,-11.7h-13.4zM1655,865.9l6.7,-11.7h-13.4zM1656,862.9l6.7,-11.7h-13.4zM1656,861.9l6.7,-11.7h-13.4zM1657,873.9l6.7,-11.7h-13.4zM1658,853.9l6.7,-11.7h-13.4zM1658,866.9l6.7,-11.7h-13.4zM1659,861.9l6.7,-11.7h-13.4zM1659,874.9l6.7,-11.7h-13.4zM1660,873.9l6.7,-11.7h-13.4zM1660,858.9l6.7,-11.7h-13.4zM1661,873.9l6.7,-11.7h-13.4zM1662,856.9l6.7,-11.7h-13.4zM1662,868.9l6.7,-11.7h-13.4zM1663,869.9l6.7,-11.7h-13.4zM1663,875.9l6.7,-11.7h-13.4zM1664,875.9l6.7,-11.7h-13.4zM1664,865.9l6.7,-11.7h-13.4zM1665,868.9l6.7,-11.7h-13.4zM1666,851.9l6.7,-11.7h-13.4zM1666,868.9l6.7,-11.7h-13.4zM1667,868.9l6.7,-11.7h-13.4zM1667,855.9l6.7,-11.7h-13.4zM1668,852.9l6.7,-11.7h-13.4zM1668,868.9l6.7,-11.7h-13.4zM1669,862.9l6.7,-11.7h-13.4zM1670,855.9l6.7,-11.7h-13.4zM1670,858.9l6.7,-11.7h-13.4zM1671,870.9l6.7,-11.7h-13.4zM1671,853.9l6.7,-11.7h-13.4zM1672,869.9l6.7,-11.7h-13.4zM1672,864.9l6.7,-11.7h-13.4zM1673,860.9l6.7,-11.7h-13.4zM1674,866.9l6.7,-11.7h-13.4zM1674,856.9l6.7,-11.7h-13.4zM1675,874.9l6.7,-11.7h-13.4zM1675,854.9l6.7,-11.7h-13.4zM1676,861.9l6.7,-11.7h-13.4zM1676,861.9l6.7,-11.7h-13.4zM1677,858.9l6.7,-11.7h-13.4zM1678,853.9l6.7,-11.7h-13.4zM1678,869.9l6.7,-11.7h-13.4zM1679,875.9l6.7,-11.7h-13.4zM1679,862.9l6.7,-11.7h-13.4zM1680,875.9l6.7,-11.7h-13.4zM1680,865.9l6.7,-11.7h-13.4zM1681,857.9l6.7,-11.7h-13.4zM1682,871.9l6.7,-11.7h-13.4zM1682,861.9l6.7,-11.7h-13.4zM1683,871.9l6.7,-11.7h-13.4zM1683,860.9l6.7,-11.7h-13.4zM1684,866.9l6.7,-11.7h-13.4zM1684,865.9l6.7,-11.7h-13.4zM1685,855.9l6.7,-11.7h-13.4zM1686,855.9l6.7,-11.7h-13.4zM1686,873.9l6.7,-11.7h-13.4zM1687,874.9l6.7,-11.7h-13.4zM1687,867.9l6.7,-11.7h-13.4zM1688,870.9l6.7,-11.7h-13.4zM1688,852.9l6.7,-11.7h-13.4zM1689,866.9l6.7,-11.7h-13.4zM1690,867.9l6.7,-11.7h-13.4zM1690,863.9l6.7,-11.7h-13.4zM1691,862.9l6.7,-11.7h-13.4zM1691,855.9l6.7,-11.7h-13.4zM1692,856.9l6.7,-11.7h-13.4zM1692,872.9l6.7,-11.7h-13.4zM1693,871.9l6.7,-11.7h-13.4zM1694,852.9l6.7,-11.7h-13.4zM1694,862.9l6.7,-11.7h-13.4zM1695,863.9l6.7,-11.7h-13.4zM1695,863.9l6.7,-11.7h-13.4zM1696,859.9l6.7,-11.7h-13.4zM1696,851.9l6.7,-11.7h-13.4zM1697,877.9l6.7,-11.7h-13.4zM1698,875.9l6.7,-11.7h-13.4zM1698,852.9l6.7,-11.7h-13.4zM1699,861.9l6.7,-11.7h-13.4zM1699,854.9l6.7,-11.7h-13.4zM1700,864.9l6.7,-11.7h-13.4zM1700,864.9l6.7,-11.7h-13.4zM1701,854.9l6.7,-11.7h-13.4zM1702,862.9l6.7,-11.7h-13.4zM1702,872.9l6.7,-11.7h-13.4zM1703,857.9l6.7,-11.7h-13.4zM1703,857.9l6.7,-11.7h-13.4zM1704,865.9l6.7,-11.7h-13.4zM1704,858.9l6.7,-11.7h-13.4zM1705,868.9l6.7,-11.7h-13.4zM1706,855.9l6.7,-11.7h-13.4zM1706,863.9l6.7,-11.7h-13.4zM1707,861.9l6.7,-11.7h-13.4zM1707,859.9l6.7,-11.7h-13.4zM1708,878.9l6.7,-11.7h-13.4zM1708,858.9l6.7,-11.7h-13.4zM1709,854.9l6.7,-11.7h-13.4zM1710,877.9l6.7,-11.7h-13.4zM1710,859.9l6.7,-11.7h-13.4zM1711,860.9l6.7,-11.7h-13.4zM1711,873.9l6.7,-11.7h-13.4zM1712,858.9l6.7,-11.7h-13.4zM1712,870.9l6.7,-11.7h-13.4zM1713,871.9l6.7,-11.7h-13.4zM1714,869.9l6.7,-11.7h-13.4zM1714,866.9l6.7,-11.7h-13.4zM1715,857.9l6.7,-11.7h-13.4zM1715,864.9l6.7,-11.7h-13.4zM1716,870.9l6.7,-11.7h-13.4zM1716,856.9l6.7,-11.7h-13.4zM1717,868.9l6.7,-11.7h-13.4zM1718,862.9l6.7,-11.7h-13.4zM1718,854.9l6.7,-11.7h-13.4zM1719,873.9l6.7,-11.7h-13.4zM1719,856.9l6.7,-11.7h-13.4zM1720,869.9l6.7,-11.7h-13.4zM1720,867.9l6.7,-11.7h-13.4zM1721,869.9l6.7,-11.7h-13.4zM1722,869.9l6.7,-11.7h-13.4zM1722,852.9l6.7,-11.7h-13.4zM1723,865.9l6.7,-11.7h-13.4zM1723,856.9l6.7,-11.7h-13.4zM1724,863.9l6.7,-11.7h-13.4zM1724,858.9l6.7,-11.7h-13.4zM1725,881.9l6.7,-11.7h-13.4zM1726,870.9l6.7,-11.7h-13.4zM1726,853.9l6.7,-11.7h-13.4zM1727,862.9l6.7,-11.7h-13.4zM1727,872.9l6.7,-11.7h-13.4zM1728,873.9l6.7,-11.7h-13.4zM1728,872.9l6.7,-11.7h-13.4zM1729,875.9l6.7,-11.7h-13.4zM1730,868.9l6.7,-11.7h-13.4zM1730,862.9l6.7,-11.7h-13.4zM1731,857.9l6.7,-11.7h-13.4zM1731,867.9l6.7,-11.7h-13.4zM1732,860.9l6.7,-11.7h-13.4zM1732,877.9l6.7,-11.7h-13.4zM1733,877.9l6.7,-11.7h-13.4zM1734,871.9l6.7,-11.7h-13.4zM1734,868.9l6.7,-11.7h-13.4zM1735,856.9l6.7,-11.7h-13.4zM1735,863.9l6.7,-11.7h-13.4zM1736,881.9l6.7,-11.7h-13.4zM1736,870.9l6.7,-11.7h-13.4zM1737,860.9l6.7,-11.7h-13.4zM1738,854.9l6.7,-11.7h-13.4zM1738,877.9l6.7,-11.7h-13.4zM1739,871.9l6.7,-11.7h-13.4zM1739,872.9l6.7,-11.7h-13.4zM1740,870.9l6.7,-11.7h-13.4zM1740,875.9l6.7,-11.7h-13.4zM1741,877.9l6.7,-11.7h-13.4zM1742,879.9l6.7,-11.7h-13.4zM1742,879.9l6.7,-11.7h-13.4zM1743,878.9l6.7,-11.7h-13.4zM1743,878.9l6.7,-11.7h-13.4zM1744,869.9l6.7,-11.7h-13.4zM1744,865.9l6.7,-11.7h-13.4zM1745,866.9l6.7,-11.7h-13.4zM1746,879.9l6.7,-11.7h-13.4zM1746,861.9l6.7,-11.7h-13.4zM1747,859.9l6.7,-11.7h-13.4zM1747,854.9l6.7,-11.7h-13.4zM1748,861.9l6.7,-11.7h-13.4zM1748,874.9l6.7,-11.7h-13.4zM1749,868.9l6.7,-11.7h-13.4zM1750,860.9l6.7,-11.7h-13.4zM1750,877.9l6.7,-11.7h-13.4zM1751,877.9l6.7,-11.7h-13.4zM1751,863.9l6.7,-11.7h-13.4zM1752,866.9l6.7,-11.7h-13.4zM1752,860.9l6.7,-11.7h-13.4zM1753,881.9l6.7,-11.7h-13.4zM1754,869.9l6.7,-11.7h-13.4zM1754,880.9l6.7,-11.7h-13.4zM1755,862.9l6.7,-11.7h-13.4zM1755,883.9l6.7,-11.7h-13.4zM1756,876.9l6.7,-11.7h-13.4zM1756,856.9l6.7,-11.7h-13.4zM1757,878.9l6.7,-11.7h-13.4zM1758,876.9l6.7,-11.7h-13.4zM1758,877.9l6.7,-11.7h-13.4zM1759,867.9l6.7,-11.7h-13.4zM1759,876.9l6.7,-11.7h-13.4zM1760,858.9l6.7,-11.7h-13.4zM1760,856.9l6.7,-11.7h-13.4zM1761,877.9l6.7,-11.7h-13.4zM1762,870.9l6.7,-11.7h-13.4zM1762,881.9l6.7,-11.7h-13.4zM1763,859.9l6.7,-11.7h-13.4zM1763,872.9l6.7,-11.7h-13.4zM1764,860.9l6.7,-11.7h-13.4zM1764,867.9l6.7,-11.7h-13.4zM1765,872.9l6.7,-11.7h-13.4zM1766,870.9l6.7,-11.7h-13.4zM1766,874.9l6.7,-11.7h-13.4zM1767,870.9l6.7,-11.7h-13.4zM1767,855.9l6.7,-11.7h-13.4zM1768,858.9l6.7,-11.7h-13.4zM1768,861.9l6.7,-11.7h-13.4zM1769,872.9l6.7,-11.7h-13.4zM1770,865.9l6.7,-11.7h-13.4zM1770,873.9l6.7,-11.7h-13.4zM1771,859.9l6.7,-11.7h-13.4zM1771,871.9l6.7,-11.7h-13.4zM1772,879.9l6.7,-11.7h-13.4zM1772,877.9l6.7,-11.7h-13.4zM1773,873.9l6.7,-11.7h-13.4zM1774,868.9l6.7,-11.7h-13.4zM1774,877.9l6.7,-11.7h-13.4zM1775,884.9l6.7,-11.7h-13.4zM1775,870.9l6.7,-11.7h-13.4zM1776,871.9l6.7,-11.7h-13.4zM1776,867.9l6.7,-11.7h-13.4zM1777,866.9l6.7,-11.7h-13.4zM1778,877.9l6.7,-11.7h-13.4zM1778,877.9l6.7,-11.7h-13.4zM1779,860.9l6.7,-11.7h-13.4zM1779,864.9l6.7,-11.7h-13.4zM1780,856.9l6.7,-11.7h-13.4zM1780,868.9l6.7,-11.7h-13.4zM1781,858.9l6.7,-11.7h-13.4zM1782,861.9l6.7,-11.7h-13.4zM1782,882.9l6.7,-11.7h-13.4zM1783,885.9l6.7,-11.7h-13.4zM1783,873.9l6.7,-11.7h-13.4zM1784,871.9l6.7,-11.7h-13.4zM1784,870.9l6.7,-11.7h-13.4zM1785,860.9l6.7,-11.7h-13.4zM1786,867.9l6.7,-11.7h-13.4zM1786,880.9l6.7,-11.7h-13.4zM1787,871.9l6.7,-11.7h-13.4zM1787,873.9l6.7,-11.7h-13.4zM1788,880.9l6.7,-11.7h-13.4zM1788,879.9l6.7,-11.7h-13.4zM1789,874.9l6.7,-11.7h-13.4zM1790,877.9l6.7,-11.7h-13.4zM1790,865.9l6.7,-11.7h-13.4zM1791,880.9l6.7,-11.7h-13.4zM1791,866.9l6.7,-11.7h-13.4zM1792,874.9l6.7,-11.7h-13.4zM1792,878.9l6.7,-11.7h-13.4zM1793,870.9l6.7,-11.7h-13.4zM1794,859.9l6.7,-11.7h-13.4zM1794,873.9l6.7,-11.7h-13.4zM1795,866.9l6.7,-11.7h-13.4zM1795,877.9l6.7,-11.7h-13.4zM1796,876.9l6.7,-11.7h-13.4zM1796,879.9l6.7,-11.7h-13.4zM1797,879.9l6.7,-11.7h-13.4zM1798,882.9l6.7,-11.7h-13.4zM1798,872.9l6.7,-11.7h-13.4zM1799,865.9l6.7,-11.7h-13.4zM1799,871.9l6.7,-11.7h-13.4zM1800,867.9l6.7,-11.7h-13.4zM1800,881.9l6.7,-11.7h-13.4zM1801,858.9l6.7,-11.7h-13.4zM1802,876.9l6.7,-11.7h-13.4zM1802,858.9l6.7,-11.7h-13.4zM1803,860.9l6.7,-11.7h-13.4zM1803,875.9l6.7,-11.7h-13.4zM1804,886.9l6.7,-11.7h-13.4zM1804,862.9l6.7,-11.7h-13.4zM1805,859.9l6.7,-11.7h-13.4zM1806,859.9l6.7,-11.7h-13.4zM1806,863.9l6.7,-11.7h-13.4zM1807,871.9l6.7,-11.7h-13.4zM1807,870.9l6.7,-11.7h-13.4zM1808,886.9l6.7,-11.7h-13.4zM1808,879.9l6.7,-11.7h-13.4zM1809,883.9l6.7,-11.7h-13.4zM1810,886.9l6.7,-11.7h-13.4zM1810,867.9l6.7,-11.7h-13.4zM1811,885.9l6.7,-11.7h-13.4zM1811,872.9l6.7,-11.7h-13.4zM1812,885.9l6.7,-11.7h-13.4zM1812,884.9l6.7,-11.7h-13.4zM1813,873.9l6.7,-11.7h-13.4zM1814,875.9l6.7,-11.7h-13.4zM1814,861.9l6.7,-11.7h-13.4zM1815,861.9l6.7,-11.7h-13.4zM1815,875.9l6.7,-11.7h-13.4zM1816,864.9l6.7,-11.7h-13.4zM1816,870.9l6.7,-11.7h-13.4zM1817,871.9l6.7,-11.7h-13.4zM1818,862.9l6.7,-11.7h-13.4zM1818,880.9l6.7,-11.7h-13.4zM1819,873.9l6.7,-11.7h-13.4zM1819,864.9l6.7,-11.7h-13.4zM1820,867.9l6.7,-11.7h-13.4zM1820,869.9l6.7,-11.7h-13.4zM1821,860.9l6.7,-11.7h-13.4zM1822,876.9l6.7,-11.7h-13.4zM1822,871.9l6.7,-11.7h-13.4zM1823,877.9l6.7,-11.7h-13.4zM1823,868.9l6.7,-11.7h-13.4zM1824,875.9l6.7,-11.7h-13.4zM1824,882.9l6.7,-11.7h-13.4zM1825,865.9l6.7,-11.7h-13.4zM1826,858.9l6.7,-11.7h-13.4zM1826,876.9l6.7,-11.7h-13.4zM1827,881.9l6.7,-11.7h-13.4zM1827,886.9l6.7,-11.7h-13.4zM1828,880.9l6.7,-11.7h-13.4zM1828,871.9l6.7,-11.7h-13.4zM1829,872.9l6.7,-11.7h-13.4zM1830,878.9l6.7,-11.7h-13.4zM1830,872.9l6.7,-11.7h-13.4zM1831,871.9l6.7,-11.7h-13.4zM1831,877.9l6.7,-11.7h-13.4zM1832,862.9l6.7,-11.7h-13.4zM1832,865.9l6.7,-11.7h-13.4zM1833,878.9l6.7,-11.7h-13.4zM1834,866.9l6.7,-11.7h-13.4zM1834,869.9l6.7,-11.7h-13.4zM1835,885.9l6.7,-11.7h-13.4zM1835,874.9l6.7,-11.7h-13.4zM1836,858.9l6.7,-11.7h-13.4zM1836,872.9l6.7,-11.7h-13.4zM1837,880.9l6.7,-11.7h-13.4zM1838,869.9l6.7,-11.7h-13.4zM1838,884.9l6.7,-11.7h-13.4zM1839,871.9l6.7,-11.7h-13.4zM1839,883.9l6.7,-11.7h-13.4zM1840,880.9l6.7,-11.7h-13.4zM1840,880.9l6.7,-11.7h-13.4zM1841,861.9l6.7,-11.7h-13.4zM1842,886.9l6.7,-11.7h-13.4zM1842,886.9l6.7,-11.7h-13.4zM1843,878.9l6.7,-11.7h-13.4zM1843,884.9l6.7,-11.7h-13.4zM1844,875.9l6.7,-11.7h-13.4zM1844,860.9l6.7,-11.7h-13.4zM1845,868.9l6.7,-11.7h-13.4zM1846,866.9l6.7,-11.7h-13.4zM1846,882.9l6.7,-11.7h-13.4zM1847,869.9l6.7,-11.7h-13.4zM1847,876.9l6.7,-11.7h-13.4zM1848,869.9l6.7,-11.7h-13.4zM1848,867.9l6.7,-11.7h-13.4zM1849,867.9l6.7,-11.7h-13.4zM1850,868.9l6.7,-11.7h-13.4zM1850,882.9l6.7,-11.7h-13.4zM1851,876.9l6.7,-11.7h-13.4zM1851,878.9l6.7,-11.7h-13.4zM1852,883.9l6.7,-11.7h-13.4zM1852,860.9l6.7,-11.7h-13.4zM1853,886.9l6.7,-11.7h-13.4zM1854,883.9l6.7,-11.7h-13.4zM1854,879.9l6.7,-11.7h-13.4zM1855,883.9l6.7,-11.7h-13.4zM1855,883.9l6.7,-11.7h-13.4zM1856,881.9l6.7,-11.7h-13.4zM1856,886.9l6.7,-11.7h-13.4zM1857,886.9l6.7,-11.7h-13.4zM1858,887.9l6.7,-11.7h-13.4zM1858,878.9l6.7,-11.7h-13.4zM1859,887.9l6.7,-11.7h-13.4zM1859,883.9l6.7,-11.7h-13.4zM1860,875.9l6.7,-11.7h-13.4zM1860,882.9l6.7,-11.7h-13.4zM1861,876.9l6.7,-11.7h-13.4zM1862,883.9l6.7,-11.7h-13.4zM1862,878.9l6.7,-11.7h-13.4zM1863,881.9l6.7,-11.7h-13.4zM1863,875.9l6.7,-11.7h-13.4zM1864,885.9l6.7,-11.7h-13.4zM1864,863.9l6.7,-11.7h-13.4zM1865,877.9l6.7,-11.7h-13.4zM1866,888.9l6.7,-11.7h-13.4zM1866,889.9l6.7,-11.7h-13.4zM1867,880.9l6.7,-11.7h-13.4zM1867,864.9l6.7,-11.7h-13.4zM1868,879.9l6.7,-11.7h-13.4zM1868,872.9l6.7,-11.7h-13.4zM1869,866.9l6.7,-11.7h-13.4zM1870,866.9l6.7,-11.7h-13.4zM1870,870.9l6.7,-11.7h-13.4zM1871,871.9l6.7,-11.7h-13.4zM1871,870.9l6.7,-11.7h-13.4zM1872,879.9l6.7,-11.7h-13.4zM1872,876.9l6.7,-11.7h-13.4zM1873,883.9l6.7,-11.7h-13.4zM1874,863.9l6.7,-11.7h-13.4zM1874,872.9l6.7,-11.7h-13.4zM1875,888.9l6.7,-11.7h-13.4zM1875,885.9l6.7,-11.7h-13.4zM1876,875.9l6.7,-11.7h-13.4zM1876,884.9l6.7,-11.7h-13.4zM1877,882.9l6.7,-11.7h-13.4zM1878,862.9l6.7,-11.7h-13.4zM1878,880.9l6.7,-11.7h-13.4zM1879,870.9l6.7,-11.7h-13.4zM1879,875.9l6.7,-11.7h-13.4zM1880,869.9l6.7,-11.7h-13.4zM1880,885.9l6.7,-11.7h-13.4zM1881,888.9l6.7,-11.7h-13.4zM1882,862.9l6.7,-11.7h-13.4zM1882,882.9l6.7,-11.7h-13.4zM1883,861.9l6.7,-11.7h-13.4zM1883,867.9l6.7,-11.7h-13.4zM1884,870.9l6.7,-11.7h-13.4zM1884,877.9l6.7,-11.7h-13.4zM1885,875.9l6.7,-11.7h-13.4zM1886,883.9l6.7,-11.7h-13.4zM1886,871.9l6.7,-11.7h-13.4zM1887,882.9l6.7,-11.7h-13.4zM1887,873.9l6.7,-11.7h-13.4zM1888,864.9l6.7,-11.7h-13.4zM1888,883.9l6.7,-11.7h-13.4zM1889,875.9l6.7,-11.7h-13.4zM1890,893.9l6.7,-11.7h-13.4zM1890,892.9l6.7,-11.7h-13.4zM1891,871.9l6.7,-11.7h-13.4zM1891,865.9l6.7,-11.7h-13.4zM1892,873.9l6.7,-11.7h-13.4zM1892,879.9l6.7,-11.7h-13.4zM1893,862.9l6.7,-11.7h-13.4zM1894,868.9l6.7,-11.7h-13.4zM1894,871.9l6.7,-11.7h-13.4zM1895,876.9l6.7,-11.7h-13.4zM1895,889.9l6.7,-11.7h-13.4zM1896,883.9l6.7,-11.7h-13.4zM1896,871.9l6.7,-11.7h-13.4zM1897,886.9l6.7,-11.7h-13.4zM1898,860.9l6.7,-11.7h-13.4zM1898,868.9l6.7,-11.7h-13.4zM1899,892.9l6.7,-11.7h-13.4zM1899,870.9l6.7,-11.7h-13.4zM1900,880.9l6.7,-11.7h-13.4zM1900,876.9l6.7,-11.7h-13.4zM1901,863.9l6.7,-11.7h-13.4zM1902,880.9l6.7,-11.7h-13.4zM1902,863.9l6.7,-11.7h-13.4zM1903,874.9l6.7,-11.7h-13.4zM1903,869.9l6.7,-11.7h-13.4zM1904,860.9l6.7,-11.7h-13.4zM1904,879.9l6.7,-11.7h-13.4zM1905,872.9l6.7,-11.7h-13.4zM1906,866.9l6.7,-11.7h-13.4zM1906,861.9l6.7,-11.7h-13.4zM1907,886.9l6.7,-11.7h-13.4zM1907,896.9l6.7,-11.7h-13.4zM1908,882.9l6.7,-11.7h-13.4zM1908,887.9l6.7,-11.7h-13.4zM1909,890.9l6.7,-11.7h-13.4zM1910,886.9l6.7,-11.7h-13.4zM1910,874.9l6.7,-11.7h-13.4zM1911,861.9l6.7,-11.7h-13.4zM1911,877.9l6.7,-11.7h-13.4zM1912,870.9l6.7,-11.7h-13.4zM1912,861.9l6.7,-11.7h-13.4zM1913,888.9l6.7,-11.7h-13.4zM1914,886.9l6.7,-11.7h-13.4zM1914,895.9l6.7,-11.7h-13.4zM1915,895.9l6.7,-11.7h-13.4zM1915,880.9l6.7,-11.7h-13.4zM1916,897.9l6.7,-11.7h-13.4zM1916,893.9l6.7,-11.7h-13.4zM1917,874.9l6.7,-11.7h-13.4zM1918,878.9l6.7,-11.7h-13.4zM1918,881.9l6.7,-11.7h-13.4zM1919,878.9l6.7,-11.7h-13.4zM1919,864.9l6.7,-11.7h-13.4zM1920,885.9l6.7,-11.7h-13.4zM1920,865.9l6.7,-11.7h-13.4zM1921,870.9l6.7,-11.7h-13.4zM1922,894.9l6.7,-11.7h-13.4zM1922,878.9l6.7,-11.7h-13.4zM1923,891.9l6.7,-11.7h-13.4zM1923,879.9l6.7,-11.7h-13.4zM1924,886.9l6.7,-11.7h-13.4zM1924,894.9l6.7,-11.7h-13.4zM1925,857.9l6.7,-11.7h-13.4zM1926,858.9l6.7,-11.7h-13.4zM1926,877.9l6.7,-11.7h-13.4zM1927,875.9l6.7,-11.7h-13.4zM1927,892.9l6.7,-11.7h-13.4zM1928,896.9l6.7,-11.7h-13.4zM1928,871.9l6.7,-11.7h-13.4zM1929,879.9l6.7,-11.7h-13.4zM1930,893.9l6.7,-11.7h-13.4zM1930,887.9l6.7,-11.7h-13.4zM1931,872.9l6.7,-11.7h-13.4zM1931,882.9l6.7,-11.7h-13.4zM1932,889.9l6.7,-11.7h-13.4zM1932,902.9l6.7,-11.7h-13.4zM1933,887.9l6.7,-11.7h-13.4zM1934,873.9l6.7,-11.7h-13.4zM1934,862.9l6.7,-11.7h-13.4zM1935,874.9l6.7,-11.7h-13.4zM1935,894.9l6.7,-11.7h-13.4zM1936,884.9l6.7,-11.7h-13.4zM1936,871.9l6.7,-11.7h-13.4zM1937,876.9l6.7,-11.7h-13.4zM1938,859.9l6.7,-11.7h-13.4zM1938,898.9l6.7,-11.7h-13.4zM1939,872.9l6.7,-11.7h-13.4zM1939,897.9l6.7,-11.7h-13.4zM1940,900.9l6.7,-11.7h-13.4zM1941,875.9l6.7,-11.7h-13.4zM1941,885.9l6.7,-11.7h-13.4zM1942,897.9l6.7,-11.7h-13.4zM1942,892.9l6.7,-11.7h-13.4zM1943,900.9l6.7,-11.7h-13.4zM1943,897.9l6.7,-11.7h-13.4zM1944,881.9l6.7,-11.7h-13.4zM1945,883.9l6.7,-11.7h-13.4zM1945,885.9l6.7,-11.7h-13.4zM1946,861.9l6.7,-11.7h-13.4zM1946,883.9l6.7,-11.7h-13.4zM1947,891.9l6.7,-11.7h-13.4zM1947,897.9l6.7,-11.7h-13.4zM1948,879.9l6.7,-11.7h-13.4zM1949,901.9l6.7,-11.7h-13.4zM1949,878.9l6.7,-11.7h-13.4zM1950,877.9l6.7,-11.7h-13.4zM1950,871.9l6.7,-11.7h-13.4zM1951,861.9l6.7,-11.7h-13.4zM1951,881.9l6.7,-11.7h-13.4zM1952,874.9l6.7,-11.7h-13.4zM1953,871.9l6.7,-11.7h-13.4zM1953,899.9l6.7,-11.7h-13.4zM1954,880.9l6.7,-11.7h-13.4zM1954,899.9l6.7,-11.7h-13.4zM1955,863.9l6.7,-11.7h-13.4zM1955,897.9l6.7,-11.7h-13.4zM1956,899.9l6.7,-11.7h-13.4zM1957,882.9l6.7,-11.7h-13.4zM1957,890.9l6.7,-11.7h-13.4zM1958,891.9l6.7,-11.7h-13.4zM1958,864.9l6.7,-11.7h-13.4zM1959,864.9l6.7,-11.7h-13.4zM1959,882.9l6.7,-11.7h-13.4zM1960,869.9l6.7,-11.7h-13.4zM1961,900.9l6.7,-11.7h-13.4zM1961,870.9l6.7,-11.7h-13.4zM1962,883.9l6.7,-11.7h-13.4zM1962,878.9l6.7,-11.7h-13.4zM1963,889.9l6.7,-11.7h-13.4zM1963,865.9l6.7,-11.7h-13.4zM1964,899.9l6.7,-11.7h-13.4zM1965,892.9l6.7,-11.7h-13.4zM1965,876.9l6.7,-11.7h-13.4zM1966,864.9l6.7,-11.7h-13.4zM1966,899.9l6.7,-11.7h-13.4zM1967,891.9l6.7,-11.7h-13.4zM1967,877.9l6.7,-11.7h-13.4zM1968,870.9l6.7,-11.7h-13.4zM1969,892.9l6.7,-11.7h-13.4zM1969,873.9l6.7,-11.7h-13.4zM1970,889.9l6.7,-11.7h-13.4zM1970,892.9l6.7,-11.7h-13.4zM1971,885.9l6.7,-11.7h-13.4zM1971,882.9l6.7,-11.7h-13.4zM1972,889.9l6.7,-11.7h-13.4zM1973,876.9l6.7,-11.7h-13.4zM1973,868.9l6.7,-11.7h-13.4zM1974,890.9l6.7,-11.7h-13.4zM1974,875.9l6.7,-11.7h-13.4zM1975,878.9l6.7,-11.7h-13.4zM1975,895.9l6.7,-11.7h-13.4zM1976,879.9l6.7,-11.7h-13.4zM1977,883.9l6.7,-11.7h-13.4zM1977,876.9l6.7,-11.7h-13.4zM1978,884.9l6.7,-11.7h-13.4zM1978,897.9l6.7,-11.7h-13.4zM1979,893.9l6.7,-11.7h-13.4zM1979,867.9l6.7,-11.7h-13.4zM1980,890.9l6.7,-11.7h-13.4zM1981,880.9l6.7,-11.7h-13.4zM1981,886.9l6.7,-11.7h-13.4zM1982,886.9l6.7,-11.7h-13.4zM1982,870.9l6.7,-11.7h-13.4zM1983,876.9l6.7,-11.7h-13.4zM1983,898.9l6.7,-11.7h-13.4zM1984,872.9l6.7,-11.7h-13.4zM1985,889.9l6.7,-11.7h-13.4zM1985,885.9l6.7,-11.7h-13.4zM1986,883.9l6.7,-11.7h-13.4zM1986,898.9l6.7,-11.7h-13.4zM1987,873.9l6.7,-11.7h-13.4zM1987,894.9l6.7,-11.7h-13.4zM1988,886.9l6.7,-11.7h-13.4zM1989,879.9l6.7,-11.7h-13.4zM1989,876.9l6.7,-11.7h-13.4zM1990,878.9l6.7,-11.7h-13.4zM1990,871.9l6.7,-11.7h-13.4zM1991,883.9l6.7,-11.7h-13.4zM1991,870.9l6.7,-11.7h-13.4zM1992,894.9l6.7,-11.7h-13.4z" fill="#00f"/>
<path d="M282.2,794l7.8,-7.4l7.8,7.4l-7.8,7.4zM413.2,783l7.8,-7.4l7.8,7.4l-7.8,7.4zM447.2,792l7.8,-7.4l7.8,7.4l-7.8,7.4zM437.2,802l7.8,-7.4l7.8,7.4l-7.8,7.4zM448.2,806l7.8,-7.4l7.8,7.4l-7.8,7.4zM409.2,806l7.8,-7.4l7.8,7.4l-7.8,7.4zM417.2,810l7.8,-7.4l7.8,7.4l-7.8,7.4zM411.2,812l7.8,-7.4l7.8,7.4l-7.8,7.4zM478.2,804l7.8,-7.4l7.8,7.4l-7.8,7.4zM483.2,804l7.8,-7.4l7.8,7.4l-7.8,7.4zM358.2,809l7.8,-7.4l7.8,7.4l-7.8,7.4zM311.2,820l7.8,-7.4l7.8,7.4l-7.8,7.4zM336.2,817l7.8,-7.4l7.8,7.4l-7.8,7.4zM310.2,830l7.8,-7.4l7.8,7.4l-7.8,7.4zM339.2,828l7.8,-7.4l7.8,7.4l-7.8,7.4zM378.2,816l7.8,-7.4l7.8,7.4l-7.8,7.4zM369.2,827l7.8,-7.4l7.8,7.4l-7.8,7.4zM382.2,831l7.8,-7.4l7.8,7.4l-7.8,7.4zM383.2,837l7.8,-7.4l7.8,7.4l-7.8,7.4zM383.2,844l7.8,-7.4l7.8,7.4l-7.8,7.4zM382.2,851l7.8,-7.4l7.8,7.4l-7.8,7.4zM384.2,855l7.8,-7.4l7.8,7.4l-7.8,7.4zM378.2,856l7.8,-7.4l7.8,7.4l-7.8,7.4zM413.2,834l7.8,-7.4l7.8,7.4l-7.8,7.4zM408.2,842l7.8,-7.4l7.8,7.4l-7.8,7.4zM411.2,847l7.8,-7.4l7.8,7.4l-7.8,7.4zM410.2,852l7.8,-7.4l7.8,7.4l-7.8,7.4zM462.2,827l7.8,-7.4l7.8,7.4l-7.8,7.4zM481.2,826l7.8,-7.4l7.8,7.4l-7.8,7.4zM481.2,828l7.8,-7.4l7.8,7.4l-7.8,7.4zM447.2,842l7.8,-7.4l7.8,7.4l-7.8,7.4zM478.2,844l7.8,-7.4l7.8,7.4l-7.8,7.4zM478.2,846l7.8,-7.4l7.8,7.4l-7.8,7.4zM278.2,848l7.8,-7.4l7.8,7.4l-7.8,7.4zM298.2,851l7.8,-7.4l7.8,7.4l-7.8,7.4zM319.2,846l7.8,-7.4l7.8,7.4l-7.8,7.4zM322.2,850l7.8,-7.4l7.8,7.4l-7.8,7.4zM334.2,848l7.8,-7.4l7.8,7.4l-7.8,7.4zM359.2,858l7.8,-7.4l7.8,7.4l-7.8,7.4zM312.2,862l7.8,-7.4l7.8,7.4l-7.8,7.4zM315.2,870l7.8,-7.4l7.8,7.4l-7.8,7.4zM336.2,866l7.8,-7.4l7.8,7.4l-7.8,7.4zM338.2,871l7.8,-7.4l7.8,7.4l-7.8,7.4zM336.2,875l7.8,-7.4l7.8,7.4l-7.8,7.4zM360.2,867l7.8,-7.4l7.8,7.4l-7.8,7.4zM296.2,873l7.8,-7.4l7.8,7.4l-7.8,7.4zM462.2,851l7.8,-7.4l7.8,7.4l-7.8,7.4zM467.2,860l7.8,-7.4l7.8,7.4l-7.8,7.4zM475.2,860l7.8,-7.4l7.8,7.4l-7.8,7.4zM468.2,869l7.8,-7.4l7.8,7.4l-7.8,7.4zM472.2,872l7.8,-7.4l7.8,7.4l-7.8,7.4zM469.2,878l7.8,-7.4l7.8,7.4l-7.8,7.4zM478.2,881l7.8,-7.4l7.8,7.4l-7.8,7.4zM460.2,888l7.8,-7.4l7.8,7.4l-7.8,7.4zM478.2,889l7.8,-7.4l7.8,7.4l-7.8,7.4zM461.2,894l7.8,-7.4l7.8,7.4l-7.8,7.4zM429.2,863l7.8,-7.4l7.8,7.4l-7.8,7.4zM413.2,868l7.8,-7.4l7.8,7.4l-7.8,7.4zM409.2,871l7.8,-7.4l7.8,7.4l-7.8,7.4zM443.2,873l7.8,-7.4l7.8,7.4l-7.8,7.4zM425.2,878l7.8,-7.4l7.8,7.4l-7.8,7.4zM499.2,866l7.8,-7.4l7.8,7.4l-7.8,7.4zM387.2,879l7.8,-7.4l7.8,7.4l-7.8,7.4zM387.2,883l7.8,-7.4l7.8,7.4l-7.8,7.4zM401.2,886l7.8,-7.4l7.8,7.4l-7.8,7.4zM398.2,893l7.8,-7.4l7.8,7.4l-7.8,7.4zM358.2,881l7.8,-7.4l7.8,7.4l-7.8,7.4zM367.2,879l7.8,-7.4l7.8,7.4l-7.8,7.4zM283.2,885l7.8,-7.4l7.8,7.4l-7.8,7.4zM305.2,887l7.8,-7.4l7.8,7.4l-7.8,7.4zM313.2,885l7.8,-7.4l7.8,7.4l-7.8,7.4zM310.2,894l7.8,-7.4l7.8,7.4l-7.8,7.4zM314.2,900l7.8,-7.4l7.8,7.4l-7.8,7.4zM337.2,888l7.8,-7.4l7.8,7.4l-7.8,7.4zM337.2,902l7.8,-7.4l7.8,7.4l-7.8,7.4zM284.2,908l7.8,-7.4l7.8,7.4l-7.8,7.4zM283.2,912l7.8,-7.4l7.8,7.4l-7.8,7.4zM355.2,912l7.8,-7.4l7.8,7.4l-7.8,7.4zM282.2,924l7.8,-7.4l7.8,7.4l-7.8,7.4zM313.2,931l7.8,-7.4l7.8,7.4l-7.8,7.4zM309.2,941l7.8,-7.4l7.8,7.4l-7.8,7.4zM318.2,944l7.8,-7.4l7.8,7.4l-7.8,7.4zM357.2,932l7.8,-7.4l7.8,7.4l-7.8,7.4zM402.2,931l7.8,-7.4l7.8,7.4l-7.8,7.4zM406.2,936l7.8,-7.4l7.8,7.4l-7.8,7.4zM272.2,938l7.8,-7.4l7.8,7.4l-7.8,7.4zM374.2,963l7.8,-7.4l7.8,7.4l-7.8,7.4zM368.2,969l7.8,-7.4l7.8,7.4l-7.8,7.4zM513.2,807l7.8,-7.4l7.8,7.4l-7.8,7.4zM545.2,810l7.8,-7.4l7.8,7.4l-7.8,7.4zM580.2,814l7.8,-7.4l7.8,7.4l-7.8,7.4zM593.2,804l7.8,-7.4l7.8,7.4l-7.8,7.4zM582.2,833l7.8,-7.4l7.8,7.4l-7.8,7.4zM620.2,834l7.8,-7.4l7.8,7.4l-7.8,7.4zM699.2,834l7.8,-7.4l7.8,7.4l-7.8,7.4zM717.2,834l7.8,-7.4l7.8,7.4l-7.8,7.4zM716.2,823l7.8,-7.4l7.8,7.4l-7.8,7.4zM748.2,844l7.8,-7.4l7.8,7.4l-7.8,7.4zM517.2,841l7.8,-7.4l7.8,7.4l-7.8,7.4zM536.2,835l7.8,-7.4l7.8,7.4l-7.8,7.4zM545.2,842l7.8,-7.4l7.8,7.4l-7.8,7.4zM533.2,848l7.8,-7.4l7.8,7.4l-7.8,7.4zM570.2,852l7.8,-7.4l7.8,7.4l-7.8,7.4zM618.2,851l7.8,-7.4l7.8,7.4l-7.8,7.4zM604.2,854l7.8,-7.4l7.8,7.4l-7.8,7.4zM593.2,858l7.8,-7.4l7.8,7.4l-7.8,7.4zM612.2,861l7.8,-7.4l7.8,7.4l-7.8,7.4zM642.2,859l7.8,-7.4l7.8,7.4l-7.8,7.4zM535.2,856l7.8,-7.4l7.8,7.4l-7.8,7.4zM527.2,864l7.8,-7.4l7.8,7.4l-7.8,7.4zM519.2,869l7.8,-7.4l7.8,7.4l-7.8,7.4zM535.2,870l7.8,-7.4l7.8,7.4l-7.8,7.4zM523.2,877l7.8,-7.4l7.8,7.4l-7.8,7.4zM515.2,882l7.8,-7.4l7.8,7.4l-7.8,7.4zM534.2,884l7.8,-7.4l7.8,7.4l-7.8,7.4zM519.2,884l7.8,-7.4l7.8,7.4l-7.8,7.4zM527.2,881l7.8,-7.4l7.8,7.4l-7.8,7.4zM512.2,874l7.8,-7.4l7.8,7.4l-7.8,7.4zM515.2,899l7.8,-7.4l7.8,7.4l-7.8,7.4zM534.2,899l7.8,-7.4l7.8,7.4l-7.8,7.4zM540.2,899l7.8,-7.4l7.8,7.4l-7.8,7.4zM579.2,869l7.8,-7.4l7.8,7.4l-7.8,7.4zM571.2,871l7.8,-7.4l7.8,7.4l-7.8,7.4zM573.2,879l7.8,-7.4l7.8,7.4l-7.8,7.4zM575.2,885l7.8,-7.4l7.8,7.4l-7.8,7.4zM576.2,893l7.8,-7.4l7.8,7.4l-7.8,7.4zM575.2,899l7.8,-7.4l7.8,7.4l-7.8,7.4zM572.2,905l7.8,-7.4l7.8,7.4l-7.8,7.4zM579.2,912l7.8,-7.4l7.8,7.4l-7.8,7.4zM613.2,869l7.8,-7.4l7.8,7.4l-7.8,7.4zM607.2,876l7.8,-7.4l7.8,7.4l-7.8,7.4zM615.2,877l7.8,-7.4l7.8,7.4l-7.8,7.4zM630.2,875l7.8,-7.4l7.8,7.4l-7.8,7.4zM610.2,885l7.8,-7.4l7.8,7.4l-7.8,7.4zM611.2,892l7.8,-7.4l7.8,7.4l-7.8,7.4zM618.2,897l7.8,-7.4l7.8,7.4l-7.8,7.4zM630.2,900l7.8,-7.4l7.8,7.4l-7.8,7.4zM697.2,850l7.8,-7.4l7.8,7.4l-7.8,7.4zM705.2,857l7.8,-7.4l7.8,7.4l-7.8,7.4zM691.2,859l7.8,-7.4l7.8,7.4l-7.8,7.4zM678.2,865l7.8,-7.4l7.8,7.4l-7.8,7.4zM690.2,867l7.8,-7.4l7.8,7.4l-7.8,7.4zM703.2,866l7.8,-7.4l7.8,7.4l-7.8,7.4zM717.2,868l7.8,-7.4l7.8,7.4l-7.8,7.4zM720.2,873l7.8,-7.4l7.8,7.4l-7.8,7.4zM642.2,879l7.8,-7.4l7.8,7.4l-7.8,7.4zM651.2,877l7.8,-7.4l7.8,7.4l-7.8,7.4zM660.2,876l7.8,-7.4l7.8,7.4l-7.8,7.4zM670.2,874l7.8,-7.4l7.8,7.4l-7.8,7.4zM679.2,875l7.8,-7.4l7.8,7.4l-7.8,7.4zM688.2,877l7.8,-7.4l7.8,7.4l-7.8,7.4zM697.2,876l7.8,-7.4l7.8,7.4l-7.8,7.4zM707.2,877l7.8,-7.4l7.8,7.4l-7.8,7.4zM643.2,887l7.8,-7.4l7.8,7.4l-7.8,7.4zM652.2,888l7.8,-7.4l7.8,7.4l-7.8,7.4zM661.2,887l7.8,-7.4l7.8,7.4l-7.8,7.4zM671.2,885l7.8,-7.4l7.8,7.4l-7.8,7.4zM680.2,884l7.8,-7.4l7.8,7.4l-7.8,7.4zM689.2,885l7.8,-7.4l7.8,7.4l-7.8,7.4zM698.2,882l7.8,-7.4l7.8,7.4l-7.8,7.4zM710.2,883l7.8,-7.4l7.8,7.4l-7.8,7.4zM641.2,893l7.8,-7.4l7.8,7.4l-7.8,7.4zM650.2,895l7.8,-7.4l7.8,7.4l-7.8,7.4zM657.2,900l7.8,-7.4l7.8,7.4l-7.8,7.4zM664.2,900l7.8,-7.4l7.8,7.4l-7.8,7.4zM675.2,889l7.8,-7.4l7.8,7.4l-7.8,7.4zM686.2,885l7.8,-7.4l7.8,7.4l-7.8,7.4zM694.2,900l7.8,-7.4l7.8,7.4l-7.8,7.4zM703.2,899l7.8,-7.4l7.8,7.4l-7.8,7.4zM722.2,888l7.8,-7.4l7.8,7.4l-7.8,7.4zM720.2,897l7.8,-7.4l7.8,7.4l-7.8,7.4zM728.2,904l7.8,-7.4l7.8,7.4l-7.8,7.4zM722.2,912l7.8,-7.4l7.8,7.4l-7.8,7.4zM724.2,919l7.8,-7.4l7.8,7.4l-7.8,7.4zM703.2,923l7.8,-7.4l7.8,7.4l-7.8,7.4zM745.2,913l7.8,-7.4l7.8,7.4l-7.8,7.4zM647.2,882l7.8,-7.4l7.8,7.4l-7.8,7.4zM656.2,882l7.8,-7.4l7.8,7.4l-7.8,7.4zM665.2,881l7.8,-7.4l7.8,7.4l-7.8,7.4zM674.2,880l7.8,-7.4l7.8,7.4l-7.8,7.4zM683.2,870l7.8,-7.4l7.8,7.4l-7.8,7.4zM696.2,864l7.8,-7.4l7.8,7.4l-7.8,7.4zM701.2,870l7.8,-7.4l7.8,7.4l-7.8,7.4zM659.2,893l7.8,-7.4l7.8,7.4l-7.8,7.4zM691.2,892l7.8,-7.4l7.8,7.4l-7.8,7.4zM707.2,891l7.8,-7.4l7.8,7.4l-7.8,7.4zM747.2,865l7.8,-7.4l7.8,7.4l-7.8,7.4zM752.2,866l7.8,-7.4l7.8,7.4l-7.8,7.4zM747.2,882l7.8,-7.4l7.8,7.4l-7.8,7.4zM758.2,879l7.8,-7.4l7.8,7.4l-7.8,7.4zM744.2,892l7.8,-7.4l7.8,7.4l-7.8,7.4zM755.2,890l7.8,-7.4l7.8,7.4l-7.8,7.4zM762.2,899l7.8,-7.4l7.8,7.4l-7.8,7.4zM762.2,885l7.8,-7.4l7.8,7.4l-7.8,7.4zM283.2,988l7.8,-7.4l7.8,7.4l-7.8,7.4zM308.2,1003l7.8,-7.4l7.8,7.4l-7.8,7.4zM279.2,1031l7.8,-7.4l7.8,7.4l-7.8,7.4zM272.2,1043l7.8,-7.4l7.8,7.4l-7.8,7.4zM269.2,938l7.8,-7.4l7.8,7.4l-7.8,7.4zM764.2,876l7.8,-7.4l7.8,7.4l-7.8,7.4zM772.2,879l7.8,-7.4l7.8,7.4l-7.8,7.4zM769.2,888l7.8,-7.4l7.8,7.4l-7.8,7.4zM765.2,898l7.8,-7.4l7.8,7.4l-7.8,7.4zM776.2,895l7.8,-7.4l7.8,7.4l-7.8,7.4zM783.2,902l7.8,-7.4l7.8,7.4l-7.8,7.4zM791.2,899l7.8,-7.4l7.8,7.4l-7.8,7.4zM800.2,905l7.8,-7.4l7.8,7.4l-7.8,7.4zM788.2,910l7.8,-7.4l7.8,7.4l-7.8,7.4zM794.2,914l7.8,-7.4l7.8,7.4l-7.8,7.4zM785.2,914l7.8,-7.4l7.8,7.4l-7.8,7.4zM796.2,924l7.8,-7.4l7.8,7.4l-7.8,7.4zM795.2,919l7.8,-7.4l7.8,7.4l-7.8,7.4zM816.2,864l7.8,-7.4l7.8,7.4l-7.8,7.4zM816.2,917l7.8,-7.4l7.8,7.4l-7.8,7.4zM861.2,883l7.8,-7.4l7.8,7.4l-7.8,7.4zM875.2,888l7.8,-7.4l7.8,7.4l-7.8,7.4zM839.2,891l7.8,-7.4l7.8,7.4l-7.8,7.4zM846.2,893l7.8,-7.4l7.8,7.4l-7.8,7.4zM854.2,891l7.8,-7.4l7.8,7.4l-7.8,7.4zM865.2,895l7.8,-7.4l7.8,7.4l-7.8,7.4zM874.2,898l7.8,-7.4l7.8,7.4l-7.8,7.4zM837.2,901l7.8,-7.4l7.8,7.4l-7.8,7.4zM845.2,902l7.8,-7.4l7.8,7.4l-7.8,7.4zM854.2,902l7.8,-7.4l7.8,7.4l-7.8,7.4zM863.2,904l7.8,-7.4l7.8,7.4l-7.8,7.4zM833.2,910l7.8,-7.4l7.8,7.4l-7.8,7.4zM842.2,911l7.8,-7.4l7.8,7.4l-7.8,7.4zM852.2,914l7.8,-7.4l7.8,7.4l-7.8,7.4zM876.2,910l7.8,-7.4l7.8,7.4l-7.8,7.4zM865.2,916l7.8,-7.4l7.8,7.4l-7.8,7.4zM856.2,917l7.8,-7.4l7.8,7.4l-7.8,7.4zM832.2,918l7.8,-7.4l7.8,7.4l-7.8,7.4zM836.2,924l7.8,-7.4l7.8,7.4l-7.8,7.4zM834.2,926l7.8,-7.4l7.8,7.4l-7.8,7.4zM951.2,853l7.8,-7.4l7.8,7.4l-7.8,7.4zM957.2,850l7.8,-7.4l7.8,7.4l-7.8,7.4zM945.2,866l7.8,-7.4l7.8,7.4l-7.8,7.4zM955.2,871l7.8,-7.4l7.8,7.4l-7.8,7.4zM894.2,877l7.8,-7.4l7.8,7.4l-7.8,7.4zM898.2,882l7.8,-7.4l7.8,7.4l-7.8,7.4zM896.2,890l7.8,-7.4l7.8,7.4l-7.8,7.4zM945.2,881l7.8,-7.4l7.8,7.4l-7.8,7.4zM968.2,880l7.8,-7.4l7.8,7.4l-7.8,7.4zM897.2,901l7.8,-7.4l7.8,7.4l-7.8,7.4zM905.2,903l7.8,-7.4l7.8,7.4l-7.8,7.4zM914.2,906l7.8,-7.4l7.8,7.4l-7.8,7.4zM923.2,903l7.8,-7.4l7.8,7.4l-7.8,7.4zM932.2,896l7.8,-7.4l7.8,7.4l-7.8,7.4zM941.2,889l7.8,-7.4l7.8,7.4l-7.8,7.4zM951.2,891l7.8,-7.4l7.8,7.4l-7.8,7.4zM956.2,898l7.8,-7.4l7.8,7.4l-7.8,7.4zM895.2,909l7.8,-7.4l7.8,7.4l-7.8,7.4zM903.2,912l7.8,-7.4l7.8,7.4l-7.8,7.4zM913.2,914l7.8,-7.4l7.8,7.4l-7.8,7.4zM922.2,913l7.8,-7.4l7.8,7.4l-7.8,7.4zM931.2,910l7.8,-7.4l7.8,7.4l-7.8,7.4zM940.2,905l7.8,-7.4l7.8,7.4l-7.8,7.4zM944.2,911l7.8,-7.4l7.8,7.4l-7.8,7.4zM900.2,918l7.8,-7.4l7.8,7.4l-7.8,7.4zM909.2,921l7.8,-7.4l7.8,7.4l-7.8,7.4zM921.2,919l7.8,-7.4l7.8,7.4l-7.8,7.4zM908.2,926l7.8,-7.4l7.8,7.4l-7.8,7.4zM934.2,921l7.8,-7.4l7.8,7.4l-7.8,7.4zM940.2,928l7.8,-7.4l7.8,7.4l-7.8,7.4zM970.2,902l7.8,-7.4l7.8,7.4l-7.8,7.4zM972.2,907l7.8,-7.4l7.8,7.4l-7.8,7.4zM971.2,914l7.8,-7.4l7.8,7.4l-7.8,7.4zM974.2,921l7.8,-7.4l7.8,7.4l-7.8,7.4zM954.2,934l7.8,-7.4l7.8,7.4l-7.8,7.4zM946.2,940l7.8,-7.4l7.8,7.4l-7.8,7.4zM956.2,942l7.8,-7.4l7.8,7.4l-7.8,7.4zM951.2,943l7.8,-7.4l7.8,7.4l-7.8,7.4zM807.2,944l7.8,-7.4l7.8,7.4l-7.8,7.4zM833.2,951l7.8,-7.4l7.8,7.4l-7.8,7.4zM876.2,939l7.8,-7.4l7.8,7.4l-7.8,7.4zM877.2,952l7.8,-7.4l7.8,7.4l-7.8,7.4zM895.2,937l7.8,-7.4l7.8,7.4l-7.8,7.4zM975.2,941l7.8,-7.4l7.8,7.4l-7.8,7.4zM1001.2,952l7.8,-7.4l7.8,7.4l-7.8,7.4zM982.2,850l7.8,-7.4l7.8,7.4l-7.8,7.4zM992.2,907l7.8,-7.4l7.8,7.4l-7.8,7.4zM997.2,918l7.8,-7.4l7.8,7.4l-7.8,7.4zM1008.2,915l7.8,-7.4l7.8,7.4l-7.8,7.4zM879.2,837l7.8,-7.4l7.8,7.4l-7.8,7.4zM832.2,838l7.8,-7.4l7.8,7.4l-7.8,7.4zM1010.2,901l7.8,-7.4l7.8,7.4l-7.8,7.4zM1011.2,931l7.8,-7.4l7.8,7.4l-7.8,7.4zM1012.2,931l7.8,-7.4l7.8,7.4l-7.8,7.4zM1013.2,920l7.8,-7.4l7.8,7.4l-7.8,7.4zM1015.2,922l7.8,-7.4l7.8,7.4l-7.8,7.4zM1017.2,927l7.8,-7.4l7.8,7.4l-7.8,7.4zM1018.2,917l7.8,-7.4l7.8,7.4l-7.8,7.4zM1019.2,929l7.8,-7.4l7.8,7.4l-7.8,7.4zM1020.2,910l7.8,-7.4l7.8,7.4l-7.8,7.4zM1021.2,908l7.8,-7.4l7.8,7.4l-7.8,7.4zM1022.2,959l7.8,-7.4l7.8,7.4l-7.8,7.4zM1024.2,917l7.8,-7.4l7.8,7.4l-7.8,7.4zM1025.2,894l7.8,-7.4l7.8,7.4l-7.8,7.4zM1026.2,895l7.8,-7.4l7.8,7.4l-7.8,7.4zM1028.2,893l7.8,-7.4l7.8,7.4l-7.8,7.4zM1029.2,886l7.8,-7.4l7.8,7.4l-7.8,7.4zM1030.2,882l7.8,-7.4l7.8,7.4l-7.8,7.4zM1031.2,895l7.8,-7.4l7.8,7.4l-7.8,7.4zM1032.2,881l7.8,-7.4l7.8,7.4l-7.8,7.4zM1034.2,881l7.8,-7.4l7.8,7.4l-7.8,7.4zM1035.2,892l7.8,-7.4l7.8,7.4l-7.8,7.4zM1038.2,924l7.8,-7.4l7.8,7.4l-7.8,7.4zM1039.2,895l7.8,-7.4l7.8,7.4l-7.8,7.4zM1042.2,902l7.8,-7.4l7.8,7.4l-7.8,7.4zM1043.2,894l7.8,-7.4l7.8,7.4l-7.8,7.4zM1044.2,899l7.8,-7.4l7.8,7.4l-7.8,7.4zM1045.2,895l7.8,-7.4l7.8,7.4l-7.8,7.4zM1045.2,899l7.8,-7.4l7.8,7.4l-7.8,7.4zM1046.2,893l7.8,-7.4l7.8,7.4l-7.8,7.4zM1047.2,952l7.8,-7.4l7.8,7.4l-7.8,7.4zM1050.2,914l7.8,-7.4l7.8,7.4l-7.8,7.4zM1051.2,920l7.8,-7.4l7.8,7.4l-7.8,7.4zM1053.2,943l7.8,-7.4l7.8,7.4l-7.8,7.4zM1054.2,937l7.8,-7.4l7.8,7.4l-7.8,7.4zM1056.2,935l7.8,-7.4l7.8,7.4l-7.8,7.4zM1057.2,941l7.8,-7.4l7.8,7.4l-7.8,7.4zM1059.2,931l7.8,-7.4l7.8,7.4l-7.8,7.4zM1060.2,942l7.8,-7.4l7.8,7.4l-7.8,7.4zM1061.2,933l7.8,-7.4l7.8,7.4l-7.8,7.4zM1062.2,925l7.8,-7.4l7.8,7.4l-7.8,7.4zM1063.2,923l7.8,-7.4l7.8,7.4l-7.8,7.4zM1064.2,923l7.8,-7.4l7.8,7.4l-7.8,7.4zM1065.2,920l7.8,-7.4l7.8,7.4l-7.8,7.4zM1067.2,891l7.8,-7.4l7.8,7.4l-7.8,7.4zM1070.2,922l7.8,-7.4l7.8,7.4l-7.8,7.4zM1071.2,921l7.8,-7.4l7.8,7.4l-7.8,7.4zM1072.2,922l7.8,-7.4l7.8,7.4l-7.8,7.4zM1073.2,926l7.8,-7.4l7.8,7.4l-7.8,7.4zM1075.2,919l7.8,-7.4l7.8,7.4l-7.8,7.4zM1076.2,909l7.8,-7.4l7.8,7.4l-7.8,7.4zM1077.2,904l7.8,-7.4l7.8,7.4l-7.8,7.4zM1079.2,920l7.8,-7.4l7.8,7.4l-7.8,7.4zM1080.2,925l7.8,-7.4l7.8,7.4l-7.8,7.4zM1082.2,922l7.8,-7.4l7.8,7.4l-7.8,7.4zM1083.2,930l7.8,-7.4l7.8,7.4l-7.8,7.4zM1087.2,938l7.8,-7.4l7.8,7.4l-7.8,7.4zM1088.2,927l7.8,-7.4l7.8,7.4l-7.8,7.4zM1089.2,925l7.8,-7.4l7.8,7.4l-7.8,7.4zM1090.2,954l7.8,-7.4l7.8,7.4l-7.8,7.4zM1091.2,915l7.8,-7.4l7.8,7.4l-7.8,7.4zM1094.2,911l7.8,-7.4l7.8,7.4l-7.8,7.4zM1095.2,897l7.8,-7.4l7.8,7.4l-7.8,7.4zM1097.2,895l7.8,-7.4l7.8,7.4l-7.8,7.4zM1099.2,909l7.8,-7.4l7.8,7.4l-7.8,7.4zM1100.2,912l7.8,-7.4l7.8,7.4l-7.8,7.4zM1101.2,928l7.8,-7.4l7.8,7.4l-7.8,7.4zM1103.2,884l7.8,-7.4l7.8,7.4l-7.8,7.4zM1104.2,946l7.8,-7.4l7.8,7.4l-7.8,7.4zM1105.2,950l7.8,-7.4l7.8,7.4l-7.8,7.4zM1106.2,950l7.8,-7.4l7.8,7.4l-7.8,7.4zM1106.2,950l7.8,-7.4l7.8,7.4l-7.8,7.4zM1107.2,951l7.8,-7.4l7.8,7.4l-7.8,7.4zM1108.2,951l7.8,-7.4l7.8,7.4l-7.8,7.4zM1110.2,946l7.8,-7.4l7.8,7.4l-7.8,7.4zM1113.2,955l7.8,-7.4l7.8,7.4l-7.8,7.4zM1114.2,943l7.8,-7.4l7.8,7.4l-7.8,7.4zM1115.2,934l7.8,-7.4l7.8,7.4l-7.8,7.4zM1116.2,934l7.8,-7.4l7.8,7.4l-7.8,7.4zM1117.2,917l7.8,-7.4l7.8,7.4l-7.8,7.4zM1118.2,916l7.8,-7.4l7.8,7.4l-7.8,7.4zM1119.2,915l7.8,-7.4l7.8,7.4l-7.8,7.4zM1120.2,914l7.8,-7.4l7.8,7.4l-7.8,7.4zM1121.2,914l7.8,-7.4l7.8,7.4l-7.8,7.4zM1122.2,925l7.8,-7.4l7.8,7.4l-7.8,7.4zM1124.2,918l7.8,-7.4l7.8,7.4l-7.8,7.4zM1126.2,921l7.8,-7.4l7.8,7.4l-7.8,7.4zM1126.2,911l7.8,-7.4l7.8,7.4l-7.8,7.4zM1127.2,912l7.8,-7.4l7.8,7.4l-7.8,7.4zM1128.2,907l7.8,-7.4l7.8,7.4l-7.8,7.4zM1129.2,923l7.8,-7.4l7.8,7.4l-7.8,7.4zM1130.2,924l7.8,-7.4l7.8,7.4l-7.8,7.4zM1131.2,918l7.8,-7.4l7.8,7.4l-7.8,7.4zM1132.2,918l7.8,-7.4l7.8,7.4l-7.8,7.4zM1133.2,890l7.8,-7.4l7.8,7.4l-7.8,7.4zM1134.2,902l7.8,-7.4l7.8,7.4l-7.8,7.4zM1135.2,905l7.8,-7.4l7.8,7.4l-7.8,7.4zM1137.2,899l7.8,-7.4l7.8,7.4l-7.8,7.4zM1139.2,894l7.8,-7.4l7.8,7.4l-7.8,7.4zM1140.2,901l7.8,-7.4l7.8,7.4l-7.8,7.4zM1141.2,907l7.8,-7.4l7.8,7.4l-7.8,7.4zM1142.2,911l7.8,-7.4l7.8,7.4l-7.8,7.4zM1143.2,919l7.8,-7.4l7.8,7.4l-7.8,7.4zM1144.2,915l7.8,-7.4l7.8,7.4l-7.8,7.4zM1145.2,925l7.8,-7.4l7.8,7.4l-7.8,7.4zM1146.2,920l7.8,-7.4l7.8,7.4l-7.8,7.4zM1148.2,937l7.8,-7.4l7.8,7.4l-7.8,7.4zM1149.2,938l7.8,-7.4l7.8,7.4l-7.8,7.4zM1150.2,943l7.8,-7.4l7.8,7.4l-7.8,7.4zM1152.2,894l7.8,-7.4l7.8,7.4l-7.8,7.4zM1153.2,933l7.8,-7.4l7.8,7.4l-7.8,7.4zM1155.2,946l7.8,-7.4l7.8,7.4l-7.8,7.4zM1159.2,935l7.8,-7.4l7.8,7.4l-7.8,7.4zM1160.2,879l7.8,-7.4l7.8,7.4l-7.8,7.4zM1162.2,929l7.8,-7.4l7.8,7.4l-7.8,7.4zM1163.2,936l7.8,-7.4l7.8,7.4l-7.8,7.4zM1164.2,939l7.8,-7.4l7.8,7.4l-7.8,7.4zM1166.2,934l7.8,-7.4l7.8,7.4l-7.8,7.4zM1168.2,935l7.8,-7.4l7.8,7.4l-7.8,7.4zM1170.2,938l7.8,-7.4l7.8,7.4l-7.8,7.4zM1171.2,933l7.8,-7.4l7.8,7.4l-7.8,7.4zM1172.2,931l7.8,-7.4l7.8,7.4l-7.8,7.4zM1173.2,950l7.8,-7.4l7.8,7.4l-7.8,7.4zM1174.2,918l7.8,-7.4l7.8,7.4l-7.8,7.4zM1175.2,923l7.8,-7.4l7.8,7.4l-7.8,7.4zM1176.2,917l7.8,-7.4l7.8,7.4l-7.8,7.4zM1177.2,912l7.8,-7.4l7.8,7.4l-7.8,7.4zM1178.2,925l7.8,-7.4l7.8,7.4l-7.8,7.4zM1180.2,929l7.8,-7.4l7.8,7.4l-7.8,7.4zM1182.2,925l7.8,-7.4l7.8,7.4l-7.8,7.4zM1183.2,914l7.8,-7.4l7.8,7.4l-7.8,7.4zM1184.2,920l7.8,-7.4l7.8,7.4l-7.8,7.4zM1185.2,921l7.8,-7.4l7.8,7.4l-7.8,7.4zM1186.2,904l7.8,-7.4l7.8,7.4l-7.8,7.4zM1186.2,909l7.8,-7.4l7.8,7.4l-7.8,7.4zM1188.2,947l7.8,-7.4l7.8,7.4l-7.8,7.4zM1189.2,902l7.8,-7.4l7.8,7.4l-7.8,7.4zM1192.2,911l7.8,-7.4l7.8,7.4l-7.8,7.4zM1194.2,914l7.8,-7.4l7.8,7.4l-7.8,7.4zM1195.2,923l7.8,-7.4l7.8,7.4l-7.8,7.4zM1197.2,915l7.8,-7.4l7.8,7.4l-7.8,7.4zM1198.2,926l7.8,-7.4l7.8,7.4l-7.8,7.4zM1199.2,929l7.8,-7.4l7.8,7.4l-7.8,7.4zM1200.2,940l7.8,-7.4l7.8,7.4l-7.8,7.4zM1202.2,916l7.8,-7.4l7.8,7.4l-7.8,7.4zM1203.2,930l7.8,-7.4l7.8,7.4l-7.8,7.4zM1204.2,971l7.8,-7.4l7.8,7.4l-7.8,7.4zM1205.2,944l7.8,-7.4l7.8,7.4l-7.8,7.4zM1206.2,929l7.8,-7.4l7.8,7.4l-7.8,7.4zM1207.2,943l7.8,-7.4l7.8,7.4l-7.8,7.4zM1207.2,934l7.8,-7.4l7.8,7.4l-7.8,7.4zM1208.2,936l7.8,-7.4l7.8,7.4l-7.8,7.4zM1209.2,934l7.8,-7.4l7.8,7.4l-7.8,7.4zM1210.2,941l7.8,-7.4l7.8,7.4l-7.8,7.4zM1211.2,939l7.8,-7.4l7.8,7.4l-7.8,7.4zM1212.2,946l7.8,-7.4l7.8,7.4l-7.8,7.4zM1214.2,939l7.8,-7.4l7.8,7.4l-7.8,7.4zM1215.2,890l7.8,-7.4l7.8,7.4l-7.8,7.4zM1216.2,938l7.8,-7.4l7.8,7.4l-7.8,7.4zM1218.2,977l7.8,-7.4l7.8,7.4l-7.8,7.4zM1220.2,938l7.8,-7.4l7.8,7.4l-7.8,7.4zM1222.2,940l7.8,-7.4l7.8,7.4l-7.8,7.4zM1224.2,929l7.8,-7.4l7.8,7.4l-7.8,7.4zM1225.2,929l7.8,-7.4l7.8,7.4l-7.8,7.4zM1227.2,940l7.8,-7.4l7.8,7.4l-7.8,7.4zM1227.2,978l7.8,-7.4l7.8,7.4l-7.8,7.4zM1229.2,932l7.8,-7.4l7.8,7.4l-7.8,7.4zM1230.2,895l7.8,-7.4l7.8,7.4l-7.8,7.4zM1231.2,918l7.8,-7.4l7.8,7.4l-7.8,7.4zM1233.2,928l7.8,-7.4l7.8,7.4l-7.8,7.4zM1235.2,928l7.8,-7.4l7.8,7.4l-7.8,7.4zM1237.2,915l7.8,-7.4l7.8,7.4l-7.8,7.4zM1238.2,910l7.8,-7.4l7.8,7.4l-7.8,7.4zM1239.2,886l7.8,-7.4l7.8,7.4l-7.8,7.4zM1240.2,926l7.8,-7.4l7.8,7.4l-7.8,7.4zM1241.2,931l7.8,-7.4l7.8,7.4l-7.8,7.4zM1243.2,941l7.8,-7.4l7.8,7.4l-7.8,7.4zM1246.2,944l7.8,-7.4l7.8,7.4l-7.8,7.4zM1247.2,940l7.8,-7.4l7.8,7.4l-7.8,7.4zM1247.2,947l7.8,-7.4l7.8,7.4l-7.8,7.4zM1248.2,951l7.8,-7.4l7.8,7.4l-7.8,7.4zM1249.2,958l7.8,-7.4l7.8,7.4l-7.8,7.4zM1250.2,954l7.8,-7.4l7.8,7.4l-7.8,7.4zM1251.2,955l7.8,-7.4l7.8,7.4l-7.8,7.4zM1252.2,948l7.8,-7.4l7.8,7.4l-7.8,7.4zM1253.2,940l7.8,-7.4l7.8,7.4l-7.8,7.4zM1254.2,935l7.8,-7.4l7.8,7.4l-7.8,7.4zM1255.2,939l7.8,-7.4l7.8,7.4l-7.8,7.4zM1256.2,926l7.8,-7.4l7.8,7.4l-7.8,7.4zM1257.2,947l7.8,-7.4l7.8,7.4l-7.8,7.4zM1259.2,938l7.8,-7.4l7.8,7.4l-7.8,7.4zM1260.2,939l7.8,-7.4l7.8,7.4l-7.8,7.4zM1261.2,939l7.8,-7.4l7.8,7.4l-7.8,7.4zM1265.2,937l7.8,-7.4l7.8,7.4l-7.8,7.4zM1266.2,976l7.8,-7.4l7.8,7.4l-7.8,7.4zM1267.2,925l7.8,-7.4l7.8,7.4l-7.8,7.4zM1269.2,937l7.8,-7.4l7.8,7.4l-7.8,7.4zM1270.2,934l7.8,-7.4l7.8,7.4l-7.8,7.4zM1271.2,955l7.8,-7.4l7.8,7.4l-7.8,7.4zM1273.2,942l7.8,-7.4l7.8,7.4l-7.8,7.4zM1274.2,932l7.8,-7.4l7.8,7.4l-7.8,7.4zM1275.2,973l7.8,-7.4l7.8,7.4l-7.8,7.4zM1277.2,952l7.8,-7.4l7.8,7.4l-7.8,7.4zM1278.2,948l7.8,-7.4l7.8,7.4l-7.8,7.4zM1279.2,951l7.8,-7.4l7.8,7.4l-7.8,7.4zM1280.2,951l7.8,-7.4l7.8,7.4l-7.8,7.4zM1282.2,943l7.8,-7.4l7.8,7.4l-7.8,7.4zM1283.2,948l7.8,-7.4l7.8,7.4l-7.8,7.4zM1284.2,952l7.8,-7.4l7.8,7.4l-7.8,7.4zM1285.2,933l7.8,-7.4l7.8,7.4l-7.8,7.4zM1286.2,936l7.8,-7.4l7.8,7.4l-7.8,7.4zM1287.2,927l7.8,-7.4l7.8,7.4l-7.8,7.4zM1287.2,922l7.8,-7.4l7.8,7.4l-7.8,7.4zM1288.2,925l7.8,-7.4l7.8,7.4l-7.8,7.4zM1290.2,930l7.8,-7.4l7.8,7.4l-7.8,7.4zM1292.2,940l7.8,-7.4l7.8,7.4l-7.8,7.4zM1293.2,940l7.8,-7.4l7.8,7.4l-7.8,7.4zM1294.2,949l7.8,-7.4l7.8,7.4l-7.8,7.4zM1295.2,953l7.8,-7.4l7.8,7.4l-7.8,7.4zM1298.2,942l7.8,-7.4l7.8,7.4l-7.8,7.4zM1300.2,924l7.8,-7.4l7.8,7.4l-7.8,7.4zM1301.2,973l7.8,-7.4l7.8,7.4l-7.8,7.4zM1302.2,961l7.8,-7.4l7.8,7.4l-7.8,7.4zM1304.2,915l7.8,-7.4l7.8,7.4l-7.8,7.4zM1306.2,955l7.8,-7.4l7.8,7.4l-7.8,7.4zM1307.2,951l7.8,-7.4l7.8,7.4l-7.8,7.4zM1308.2,935l7.8,-7.4l7.8,7.4l-7.8,7.4zM1309.2,928l7.8,-7.4l7.8,7.4l-7.8,7.4zM1311.2,940l7.8,-7.4l7.8,7.4l-7.8,7.4zM1312.2,941l7.8,-7.4l7.8,7.4l-7.8,7.4zM1313.2,935l7.8,-7.4l7.8,7.4l-7.8,7.4zM1314.2,902l7.8,-7.4l7.8,7.4l-7.8,7.4zM1316.2,934l7.8,-7.4l7.8,7.4l-7.8,7.4zM1317.2,927l7.8,-7.4l7.8,7.4l-7.8,7.4zM1318.2,944l7.8,-7.4l7.8,7.4l-7.8,7.4zM1319.2,948l7.8,-7.4l7.8,7.4l-7.8,7.4zM1321.2,949l7.8,-7.4l7.8,7.4l-7.8,7.4zM1322.2,942l7.8,-7.4l7.8,7.4l-7.8,7.4zM1323.2,901l7.8,-7.4l7.8,7.4l-7.8,7.4zM1325.2,938l7.8,-7.4l7.8,7.4l-7.8,7.4zM1328.2,930l7.8,-7.4l7.8,7.4l-7.8,7.4zM1331.2,907l7.8,-7.4l7.8,7.4l-7.8,7.4zM1332.2,950l7.8,-7.4l7.8,7.4l-7.8,7.4zM1333.2,954l7.8,-7.4l7.8,7.4l-7.8,7.4zM1334.2,947l7.8,-7.4l7.8,7.4l-7.8,7.4zM1335.2,951l7.8,-7.4l7.8,7.4l-7.8,7.4zM1336.2,949l7.8,-7.4l7.8,7.4l-7.8,7.4zM1338.2,935l7.8,-7.4l7.8,7.4l-7.8,7.4zM1339.2,956l7.8,-7.4l7.8,7.4l-7.8,7.4zM1342.2,946l7.8,-7.4l7.8,7.4l-7.8,7.4zM1343.2,947l7.8,-7.4l7.8,7.4l-7.8,7.4zM1344.2,941l7.8,-7.4l7.8,7.4l-7.8,7.4zM1345.2,923l7.8,-7.4l7.8,7.4l-7.8,7.4zM1346.2,924l7.8,-7.4l7.8,7.4l-7.8,7.4zM1348.2,934l7.8,-7.4l7.8,7.4l-7.8,7.4zM1348.2,941l7.8,-7.4l7.8,7.4l-7.8,7.4zM1349.2,947l7.8,-7.4l7.8,7.4l-7.8,7.4zM1350.2,953l7.8,-7.4l7.8,7.4l-7.8,7.4zM1351.2,958l7.8,-7.4l7.8,7.4l-7.8,7.4zM1355.2,948l7.8,-7.4l7.8,7.4l-7.8,7.4zM1356.2,947l7.8,-7.4l7.8,7.4l-7.8,7.4zM1357.2,946l7.8,-7.4l7.8,7.4l-7.8,7.4zM1359.2,932l7.8,-7.4l7.8,7.4l-7.8,7.4zM1360.2,935l7.8,-7.4l7.8,7.4l-7.8,7.4zM1362.2,932l7.8,-7.4l7.8,7.4l-7.8,7.4zM1363.2,941l7.8,-7.4l7.8,7.4l-7.8,7.4zM1364.2,954l7.8,-7.4l7.8,7.4l-7.8,7.4zM1365.2,967l7.8,-7.4l7.8,7.4l-7.8,7.4zM1366.2,965l7.8,-7.4l7.8,7.4l-7.8,7.4zM1370.2,932l7.8,-7.4l7.8,7.4l-7.8,7.4zM1371.2,952l7.8,-7.4l7.8,7.4l-7.8,7.4zM1372.2,916l7.8,-7.4l7.8,7.4l-7.8,7.4zM1373.2,930l7.8,-7.4l7.8,7.4l-7.8,7.4zM1374.2,924l7.8,-7.4l7.8,7.4l-7.8,7.4zM1375.2,927l7.8,-7.4l7.8,7.4l-7.8,7.4zM1377.2,916l7.8,-7.4l7.8,7.4l-7.8,7.4zM1381.2,912l7.8,-7.4l7.8,7.4l-7.8,7.4zM1383.2,922l7.8,-7.4l7.8,7.4l-7.8,7.4zM1385.2,918l7.8,-7.4l7.8,7.4l-7.8,7.4zM1387.2,923l7.8,-7.4l7.8,7.4l-7.8,7.4zM1388.2,917l7.8,-7.4l7.8,7.4l-7.8,7.4zM1388.2,917l7.8,-7.4l7.8,7.4l-7.8,7.4zM1389.2,932l7.8,-7.4l7.8,7.4l-7.8,7.4zM1390.2,905l7.8,-7.4l7.8,7.4l-7.8,7.4zM1392.2,945l7.8,-7.4l7.8,7.4l-7.8,7.4zM1393.2,954l7.8,-7.4l7.8,7.4l-7.8,7.4zM1398.2,951l7.8,-7.4l7.8,7.4l-7.8,7.4zM1399.2,928l7.8,-7.4l7.8,7.4l-7.8,7.4zM1400.2,960l7.8,-7.4l7.8,7.4l-7.8,7.4zM1401.2,944l7.8,-7.4l7.8,7.4l-7.8,7.4zM1402.2,973l7.8,-7.4l7.8,7.4l-7.8,7.4zM1403.2,964l7.8,-7.4l7.8,7.4l-7.8,7.4zM1404.2,959l7.8,-7.4l7.8,7.4l-7.8,7.4zM1405.2,956l7.8,-7.4l7.8,7.4l-7.8,7.4zM1406.2,955l7.8,-7.4l7.8,7.4l-7.8,7.4zM1407.2,946l7.8,-7.4l7.8,7.4l-7.8,7.4zM1408.2,953l7.8,-7.4l7.8,7.4l-7.8,7.4zM1409.2,934l7.8,-7.4l7.8,7.4l-7.8,7.4zM1410.2,937l7.8,-7.4l7.8,7.4l-7.8,7.4zM1411.2,957l7.8,-7.4l7.8,7.4l-7.8,7.4zM1412.2,919l7.8,-7.4l7.8,7.4l-7.8,7.4zM1413.2,957l7.8,-7.4l7.8,7.4l-7.8,7.4zM1414.2,934l7.8,-7.4l7.8,7.4l-7.8,7.4zM1415.2,944l7.8,-7.4l7.8,7.4l-7.8,7.4zM1416.2,947l7.8,-7.4l7.8,7.4l-7.8,7.4zM1417.2,944l7.8,-7.4l7.8,7.4l-7.8,7.4zM1418.2,949l7.8,-7.4l7.8,7.4l-7.8,7.4zM1419.2,959l7.8,-7.4l7.8,7.4l-7.8,7.4zM1420.2,957l7.8,-7.4l7.8,7.4l-7.8,7.4zM1421.2,962l7.8,-7.4l7.8,7.4l-7.8,7.4zM1424.2,955l7.8,-7.4l7.8,7.4l-7.8,7.4zM1425.2,957l7.8,-7.4l7.8,7.4l-7.8,7.4zM1426.2,973l7.8,-7.4l7.8,7.4l-7.8,7.4zM1429.2,938l7.8,-7.4l7.8,7.4l-7.8,7.4zM1430.2,940l7.8,-7.4l7.8,7.4l-7.8,7.4zM1431.2,935l7.8,-7.4l7.8,7.4l-7.8,7.4zM1433.2,932l7.8,-7.4l7.8,7.4l-7.8,7.4zM1434.2,939l7.8,-7.4l7.8,7.4l-7.8,7.4zM1435.2,972l7.8,-7.4l7.8,7.4l-7.8,7.4zM1436.2,938l7.8,-7.4l7.8,7.4l-7.8,7.4zM1439.2,952l7.8,-7.4l7.8,7.4l-7.8,7.4zM1440.2,958l7.8,-7.4l7.8,7.4l-7.8,7.4zM1443.2,956l7.8,-7.4l7.8,7.4l-7.8,7.4zM1444.2,967l7.8,-7.4l7.8,7.4l-7.8,7.4zM1446.2,925l7.8,-7.4l7.8,7.4l-7.8,7.4zM1447.2,967l7.8,-7.4l7.8,7.4l-7.8,7.4zM1449.2,952l7.8,-7.4l7.8,7.4l-7.8,7.4zM1451.2,954l7.8,-7.4l7.8,7.4l-7.8,7.4zM1452.2,948l7.8,-7.4l7.8,7.4l-7.8,7.4zM1453.2,946l7.8,-7.4l7.8,7.4l-7.8,7.4zM1454.2,945l7.8,-7.4l7.8,7.4l-7.8,7.4zM1455.2,954l7.8,-7.4l7.8,7.4l-7.8,7.4zM1456.2,957l7.8,-7.4l7.8,7.4l-7.8,7.4zM1457.2,966l7.8,-7.4l7.8,7.4l-7.8,7.4zM1459.2,968l7.8,-7.4l7.8,7.4l-7.8,7.4zM1460.2,978l7.8,-7.4l7.8,7.4l-7.8,7.4zM1465.2,959l7.8,-7.4l7.8,7.4l-7.8,7.4zM1466.2,961l7.8,-7.4l7.8,7.4l-7.8,7.4zM1467.2,970l7.8,-7.4l7.8,7.4l-7.8,7.4zM1468.2,977l7.8,-7.4l7.8,7.4l-7.8,7.4zM1470.2,979l7.8,-7.4l7.8,7.4l-7.8,7.4zM1472.2,957l7.8,-7.4l7.8,7.4l-7.8,7.4zM1473.2,966l7.8,-7.4l7.8,7.4l-7.8,7.4zM1474.2,961l7.8,-7.4l7.8,7.4l-7.8,7.4zM1475.2,956l7.8,-7.4l7.8,7.4l-7.8,7.4zM1476.2,953l7.8,-7.4l7.8,7.4l-7.8,7.4zM1477.2,949l7.8,-7.4l7.8,7.4l-7.8,7.4zM1478.2,984l7.8,-7.4l7.8,7.4l-7.8,7.4zM1479.2,933l7.8,-7.4l7.8,7.4l-7.8,7.4zM1480.2,957l7.8,-7.4l7.8,7.4l-7.8,7.4zM1481.2,926l7.8,-7.4l7.8,7.4l-7.8,7.4zM1482.2,931l7.8,-7.4l7.8,7.4l-7.8,7.4zM1485.2,924l7.8,-7.4l7.8,7.4l-7.8,7.4zM1486.2,925l7.8,-7.4l7.8,7.4l-7.8,7.4zM1487.2,940l7.8,-7.4l7.8,7.4l-7.8,7.4zM1489.2,942l7.8,-7.4l7.8,7.4l-7.8,7.4zM1490.2,947l7.8,-7.4l7.8,7.4l-7.8,7.4zM1491.2,959l7.8,-7.4l7.8,7.4l-7.8,7.4zM1492.2,951l7.8,-7.4l7.8,7.4l-7.8,7.4zM1493.2,960l7.8,-7.4l7.8,7.4l-7.8,7.4zM1494.2,960l7.8,-7.4l7.8,7.4l-7.8,7.4zM1495.2,964l7.8,-7.4l7.8,7.4l-7.8,7.4zM1497.2,965l7.8,-7.4l7.8,7.4l-7.8,7.4zM1498.2,969l7.8,-7.4l7.8,7.4l-7.8,7.4zM1499.2,965l7.8,-7.4l7.8,7.4l-7.8,7.4zM1501.2,929l7.8,-7.4l7.8,7.4l-7.8,7.4zM1502.2,995l7.8,-7.4l7.8,7.4l-7.8,7.4zM1504.2,962l7.8,-7.4l7.8,7.4l-7.8,7.4zM1505.2,961l7.8,-7.4l7.8,7.4l-7.8,7.4zM1506.2,957l7.8,-7.4l7.8,7.4l-7.8,7.4zM1507.2,962l7.8,-7.4l7.8,7.4l-7.8,7.4zM1510.2,942l7.8,-7.4l7.8,7.4l-7.8,7.4zM1511.2,942l7.8,-7.4l7.8,7.4l-7.8,7.4zM1512.2,948l7.8,-7.4l7.8,7.4l-7.8,7.4zM1513.2,943l7.8,-7.4l7.8,7.4l-7.8,7.4zM1514.2,948l7.8,-7.4l7.8,7.4l-7.8,7.4zM1515.2,958l7.8,-7.4l7.8,7.4l-7.8,7.4zM1516.2,956l7.8,-7.4l7.8,7.4l-7.8,7.4zM1517.2,953l7.8,-7.4l7.8,7.4l-7.8,7.4zM1518.2,952l7.8,-7.4l7.8,7.4l-7.8,7.4zM1519.2,947l7.8,-7.4l7.8,7.4l-7.8,7.4zM1521.2,953l7.8,-7.4l7.8,7.4l-7.8,7.4zM1522.2,948l7.8,-7.4l7.8,7.4l-7.8,7.4zM1523.2,951l7.8,-7.4l7.8,7.4l-7.8,7.4zM1524.2,937l7.8,-7.4l7.8,7.4l-7.8,7.4zM1525.2,946l7.8,-7.4l7.8,7.4l-7.8,7.4zM1526.2,942l7.8,-7.4l7.8,7.4l-7.8,7.4zM1527.2,946l7.8,-7.4l7.8,7.4l-7.8,7.4zM1529.2,968l7.8,-7.4l7.8,7.4l-7.8,7.4zM1529.2,953l7.8,-7.4l7.8,7.4l-7.8,7.4zM1532.2,946l7.8,-7.4l7.8,7.4l-7.8,7.4zM1533.2,908l7.8,-7.4l7.8,7.4l-7.8,7.4zM1534.2,925l7.8,-7.4l7.8,7.4l-7.8,7.4zM1535.2,948l7.8,-7.4l7.8,7.4l-7.8,7.4zM1537.2,977l7.8,-7.4l7.8,7.4l-7.8,7.4zM1539.2,973l7.8,-7.4l7.8,7.4l-7.8,7.4zM1541.2,960l7.8,-7.4l7.8,7.4l-7.8,7.4zM1542.2,956l7.8,-7.4l7.8,7.4l-7.8,7.4zM1543.2,957l7.8,-7.4l7.8,7.4l-7.8,7.4zM1546.2,981l7.8,-7.4l7.8,7.4l-7.8,7.4zM1547.2,979l7.8,-7.4l7.8,7.4l-7.8,7.4zM1549.2,978l7.8,-7.4l7.8,7.4l-7.8,7.4zM1549.2,969l7.8,-7.4l7.8,7.4l-7.8,7.4zM1550.2,970l7.8,-7.4l7.8,7.4l-7.8,7.4zM1551.2,970l7.8,-7.4l7.8,7.4l-7.8,7.4zM1552.2,956l7.8,-7.4l7.8,7.4l-7.8,7.4zM1553.2,958l7.8,-7.4l7.8,7.4l-7.8,7.4zM1555.2,953l7.8,-7.4l7.8,7.4l-7.8,7.4zM1556.2,954l7.8,-7.4l7.8,7.4l-7.8,7.4zM1557.2,953l7.8,-7.4l7.8,7.4l-7.8,7.4zM1558.2,957l7.8,-7.4l7.8,7.4l-7.8,7.4zM1559.2,959l7.8,-7.4l7.8,7.4l-7.8,7.4zM1560.2,963l7.8,-7.4l7.8,7.4l-7.8,7.4zM1561.2,961l7.8,-7.4l7.8,7.4l-7.8,7.4zM1562.2,958l7.8,-7.4l7.8,7.4l-7.8,7.4zM1563.2,955l7.8,-7.4l7.8,7.4l-7.8,7.4zM1564.2,982l7.8,-7.4l7.8,7.4l-7.8,7.4zM1565.2,927l7.8,-7.4l7.8,7.4l-7.8,7.4zM1566.2,945l7.8,-7.4l7.8,7.4l-7.8,7.4zM1567.2,934l7.8,-7.4l7.8,7.4l-7.8,7.4zM1569.2,957l7.8,-7.4l7.8,7.4l-7.8,7.4zM1570.2,942l7.8,-7.4l7.8,7.4l-7.8,7.4zM1574.2,953l7.8,-7.4l7.8,7.4l-7.8,7.4zM1575.2,951l7.8,-7.4l7.8,7.4l-7.8,7.4zM1576.2,952l7.8,-7.4l7.8,7.4l-7.8,7.4zM1577.2,940l7.8,-7.4l7.8,7.4l-7.8,7.4zM1578.2,943l7.8,-7.4l7.8,7.4l-7.8,7.4zM1580.2,952l7.8,-7.4l7.8,7.4l-7.8,7.4zM1581.2,949l7.8,-7.4l7.8,7.4l-7.8,7.4zM1582.2,986l7.8,-7.4l7.8,7.4l-7.8,7.4zM1583.2,987l7.8,-7.4l7.8,7.4l-7.8,7.4zM1585.2,944l7.8,-7.4l7.8,7.4l-7.8,7.4zM1586.2,956l7.8,-7.4l7.8,7.4l-7.8,7.4zM1587.2,962l7.8,-7.4l7.8,7.4l-7.8,7.4zM1588.2,962l7.8,-7.4l7.8,7.4l-7.8,7.4zM1590.2,955l7.8,-7.4l7.8,7.4l-7.8,7.4zM1590.2,952l7.8,-7.4l7.8,7.4l-7.8,7.4zM1591.2,989l7.8,-7.4l7.8,7.4l-7.8,7.4zM1593.2,951l7.8,-7.4l7.8,7.4l-7.8,7.4zM1594.2,940l7.8,-7.4l7.8,7.4l-7.8,7.4zM1595.2,929l7.8,-7.4l7.8,7.4l-7.8,7.4zM1596.2,944l7.8,-7.4l7.8,7.4l-7.8,7.4zM1597.2,940l7.8,-7.4l7.8,7.4l-7.8,7.4zM1599.2,942l7.8,-7.4l7.8,7.4l-7.8,7.4zM1601.2,948l7.8,-7.4l7.8,7.4l-7.8,7.4zM1602.2,956l7.8,-7.4l7.8,7.4l-7.8,7.4zM1603.2,956l7.8,-7.4l7.8,7.4l-7.8,7.4zM1605.2,959l7.8,-7.4l7.8,7.4l-7.8,7.4zM1607.2,943l7.8,-7.4l7.8,7.4l-7.8,7.4zM1609.2,955l7.8,-7.4l7.8,7.4l-7.8,7.4zM1610.2,949l7.8,-7.4l7.8,7.4l-7.8,7.4zM1611.2,951l7.8,-7.4l7.8,7.4l-7.8,7.4zM1612.2,954l7.8,-7.4l7.8,7.4l-7.8,7.4zM1613.2,951l7.8,-7.4l7.8,7.4l-7.8,7.4zM1614.2,957l7.8,-7.4l7.8,7.4l-7.8,7.4zM1616.2,965l7.8,-7.4l7.8,7.4l-7.8,7.4zM1618.2,951l7.8,-7.4l7.8,7.4l-7.8,7.4zM1619.2,933l7.8,-7.4l7.8,7.4l-7.8,7.4zM1621.2,939l7.8,-7.4l7.8,7.4l-7.8,7.4zM1623.2,938l7.8,-7.4l7.8,7.4l-7.8,7.4zM1624.2,944l7.8,-7.4l7.8,7.4l-7.8,7.4zM1625.2,964l7.8,-7.4l7.8,7.4l-7.8,7.4zM1626.2,922l7.8,-7.4l7.8,7.4l-7.8,7.4zM1628.2,940l7.8,-7.4l7.8,7.4l-7.8,7.4zM1630.2,942l7.8,-7.4l7.8,7.4l-7.8,7.4zM1630.2,974l7.8,-7.4l7.8,7.4l-7.8,7.4zM1631.2,931l7.8,-7.4l7.8,7.4l-7.8,7.4zM1632.2,938l7.8,-7.4l7.8,7.4l-7.8,7.4zM1633.2,945l7.8,-7.4l7.8,7.4l-7.8,7.4zM1634.2,948l7.8,-7.4l7.8,7.4l-7.8,7.4zM1635.2,946l7.8,-7.4l7.8,7.4l-7.8,7.4zM1636.2,951l7.8,-7.4l7.8,7.4l-7.8,7.4zM1637.2,949l7.8,-7.4l7.8,7.4l-7.8,7.4zM1638.2,948l7.8,-7.4l7.8,7.4l-7.8,7.4zM1639.2,950l7.8,-7.4l7.8,7.4l-7.8,7.4zM1640.2,959l7.8,-7.4l7.8,7.4l-7.8,7.4zM1642.2,961l7.8,-7.4l7.8,7.4l-7.8,7.4zM1643.2,971l7.8,-7.4l7.8,7.4l-7.8,7.4zM1644.2,967l7.8,-7.4l7.8,7.4l-7.8,7.4zM1645.2,966l7.8,-7.4l7.8,7.4l-7.8,7.4zM1646.2,951l7.8,-7.4l7.8,7.4l-7.8,7.4zM1649.2,956l7.8,-7.4l7.8,7.4l-7.8,7.4zM1650.2,953l7.8,-7.4l7.8,7.4l-7.8,7.4zM1650.2,958l7.8,-7.4l7.8,7.4l-7.8,7.4zM1651.2,985l7.8,-7.4l7.8,7.4l-7.8,7.4zM1654.2,953l7.8,-7.4l7.8,7.4l-7.8,7.4zM1656.2,973l7.8,-7.4l7.8,7.4l-7.8,7.4zM1657.2,969l7.8,-7.4l7.8,7.4l-7.8,7.4zM1659.2,954l7.8,-7.4l7.8,7.4l-7.8,7.4zM1660.2,963l7.8,-7.4l7.8,7.4l-7.8,7.4zM1661.2,939l7.8,-7.4l7.8,7.4l-7.8,7.4zM1662.2,963l7.8,-7.4l7.8,7.4l-7.8,7.4zM1664.2,964l7.8,-7.4l7.8,7.4l-7.8,7.4zM1665.2,955l7.8,-7.4l7.8,7.4l-7.8,7.4zM1666.2,949l7.8,-7.4l7.8,7.4l-7.8,7.4zM1667.2,949l7.8,-7.4l7.8,7.4l-7.8,7.4zM1668.2,987l7.8,-7.4l7.8,7.4l-7.8,7.4zM1669.2,991l7.8,-7.4l7.8,7.4l-7.8,7.4zM1670.2,951l7.8,-7.4l7.8,7.4l-7.8,7.4zM1671.2,939l7.8,-7.4l7.8,7.4l-7.8,7.4zM1672.2,957l7.8,-7.4l7.8,7.4l-7.8,7.4zM1674.2,954l7.8,-7.4l7.8,7.4l-7.8,7.4zM1676.2,953l7.8,-7.4l7.8,7.4l-7.8,7.4zM1678.2,969l7.8,-7.4l7.8,7.4l-7.8,7.4zM1680.2,975l7.8,-7.4l7.8,7.4l-7.8,7.4zM1682.2,982l7.8,-7.4l7.8,7.4l-7.8,7.4zM1684.2,982l7.8,-7.4l7.8,7.4l-7.8,7.4zM1685.2,973l7.8,-7.4l7.8,7.4l-7.8,7.4zM1686.2,976l7.8,-7.4l7.8,7.4l-7.8,7.4zM1689.2,985l7.8,-7.4l7.8,7.4l-7.8,7.4zM1691.2,935l7.8,-7.4l7.8,7.4l-7.8,7.4zM1691.2,971l7.8,-7.4l7.8,7.4l-7.8,7.4zM1692.2,969l7.8,-7.4l7.8,7.4l-7.8,7.4zM1693.2,976l7.8,-7.4l7.8,7.4l-7.8,7.4zM1694.2,966l7.8,-7.4l7.8,7.4l-7.8,7.4zM1697.2,959l7.8,-7.4l7.8,7.4l-7.8,7.4zM1698.2,999l7.8,-7.4l7.8,7.4l-7.8,7.4zM1699.2,981l7.8,-7.4l7.8,7.4l-7.8,7.4zM1700.2,978l7.8,-7.4l7.8,7.4l-7.8,7.4zM1702.2,968l7.8,-7.4l7.8,7.4l-7.8,7.4zM1704.2,919l7.8,-7.4l7.8,7.4l-7.8,7.4zM1705.2,967l7.8,-7.4l7.8,7.4l-7.8,7.4zM1706.2,967l7.8,-7.4l7.8,7.4l-7.8,7.4zM1707.2,966l7.8,-7.4l7.8,7.4l-7.8,7.4zM1708.2,973l7.8,-7.4l7.8,7.4l-7.8,7.4zM1709.2,981l7.8,-7.4l7.8,7.4l-7.8,7.4zM1710.2,983l7.8,-7.4l7.8,7.4l-7.8,7.4zM1711.2,983l7.8,-7.4l7.8,7.4l-7.8,7.4zM1711.2,984l7.8,-7.4l7.8,7.4l-7.8,7.4zM1713.2,971l7.8,-7.4l7.8,7.4l-7.8,7.4zM1714.2,968l7.8,-7.4l7.8,7.4l-7.8,7.4zM1715.2,969l7.8,-7.4l7.8,7.4l-7.8,7.4zM1716.2,968l7.8,-7.4l7.8,7.4l-7.8,7.4zM1717.2,971l7.8,-7.4l7.8,7.4l-7.8,7.4zM1719.2,973l7.8,-7.4l7.8,7.4l-7.8,7.4zM1720.2,975l7.8,-7.4l7.8,7.4l-7.8,7.4zM1721.2,968l7.8,-7.4l7.8,7.4l-7.8,7.4zM1722.2,973l7.8,-7.4l7.8,7.4l-7.8,7.4zM1723.2,966l7.8,-7.4l7.8,7.4l-7.8,7.4zM1724.2,975l7.8,-7.4l7.8,7.4l-7.8,7.4zM1725.2,981l7.8,-7.4l7.8,7.4l-7.8,7.4zM1726.2,978l7.8,-7.4l7.8,7.4l-7.8,7.4zM1727.2,980l7.8,-7.4l7.8,7.4l-7.8,7.4zM1728.2,973l7.8,-7.4l7.8,7.4l-7.8,7.4zM1729.2,968l7.8,-7.4l7.8,7.4l-7.8,7.4zM1730.2,969l7.8,-7.4l7.8,7.4l-7.8,7.4zM1731.2,986l7.8,-7.4l7.8,7.4l-7.8,7.4zM1731.2,994l7.8,-7.4l7.8,7.4l-7.8,7.4zM1732.2,958l7.8,-7.4l7.8,7.4l-7.8,7.4zM1734.2,963l7.8,-7.4l7.8,7.4l-7.8,7.4zM1735.2,968l7.8,-7.4l7.8,7.4l-7.8,7.4zM1736.2,966l7.8,-7.4l7.8,7.4l-7.8,7.4zM1737.2,966l7.8,-7.4l7.8,7.4l-7.8,7.4zM1738.2,965l7.8,-7.4l7.8,7.4l-7.8,7.4zM1739.2,960l7.8,-7.4l7.8,7.4l-7.8,7.4zM1740.2,953l7.8,-7.4l7.8,7.4l-7.8,7.4zM1741.2,944l7.8,-7.4l7.8,7.4l-7.8,7.4zM1742.2,944l7.8,-7.4l7.8,7.4l-7.8,7.4zM1744.2,948l7.8,-7.4l7.8,7.4l-7.8,7.4zM1745.2,948l7.8,-7.4l7.8,7.4l-7.8,7.4zM1746.2,944l7.8,-7.4l7.8,7.4l-7.8,7.4zM1747.2,981l7.8,-7.4l7.8,7.4l-7.8,7.4zM1749.2,939l7.8,-7.4l7.8,7.4l-7.8,7.4zM1750.2,967l7.8,-7.4l7.8,7.4l-7.8,7.4zM1751.2,956l7.8,-7.4l7.8,7.4l-7.8,7.4zM1752.2,951l7.8,-7.4l7.8,7.4l-7.8,7.4zM1758.2,944l7.8,-7.4l7.8,7.4l-7.8,7.4zM1759.2,948l7.8,-7.4l7.8,7.4l-7.8,7.4zM1760.2,941l7.8,-7.4l7.8,7.4l-7.8,7.4zM1763.2,940l7.8,-7.4l7.8,7.4l-7.8,7.4zM1765.2,948l7.8,-7.4l7.8,7.4l-7.8,7.4zM1767.2,946l7.8,-7.4l7.8,7.4l-7.8,7.4zM1768.2,1002l7.8,-7.4l7.8,7.4l-7.8,7.4zM1769.2,941l7.8,-7.4l7.8,7.4l-7.8,7.4zM1771.2,955l7.8,-7.4l7.8,7.4l-7.8,7.4zM1773.2,964l7.8,-7.4l7.8,7.4l-7.8,7.4zM1775.2,973l7.8,-7.4l7.8,7.4l-7.8,7.4zM1778.2,990l7.8,-7.4l7.8,7.4l-7.8,7.4zM1780.2,989l7.8,-7.4l7.8,7.4l-7.8,7.4zM1781.2,976l7.8,-7.4l7.8,7.4l-7.8,7.4zM1782.2,970l7.8,-7.4l7.8,7.4l-7.8,7.4zM1783.2,982l7.8,-7.4l7.8,7.4l-7.8,7.4zM1784.2,975l7.8,-7.4l7.8,7.4l-7.8,7.4zM1785.2,978l7.8,-7.4l7.8,7.4l-7.8,7.4zM1786.2,966l7.8,-7.4l7.8,7.4l-7.8,7.4zM1787.2,962l7.8,-7.4l7.8,7.4l-7.8,7.4zM1788.2,964l7.8,-7.4l7.8,7.4l-7.8,7.4zM1789.2,961l7.8,-7.4l7.8,7.4l-7.8,7.4zM1791.2,956l7.8,-7.4l7.8,7.4l-7.8,7.4zM1793.2,967l7.8,-7.4l7.8,7.4l-7.8,7.4zM1794.2,963l7.8,-7.4l7.8,7.4l-7.8,7.4zM1796.2,977l7.8,-7.4l7.8,7.4l-7.8,7.4zM1797.2,963l7.8,-7.4l7.8,7.4l-7.8,7.4zM1798.2,961l7.8,-7.4l7.8,7.4l-7.8,7.4zM1799.2,957l7.8,-7.4l7.8,7.4l-7.8,7.4zM1800.2,960l7.8,-7.4l7.8,7.4l-7.8,7.4zM1801.2,965l7.8,-7.4l7.8,7.4l-7.8,7.4zM1802.2,956l7.8,-7.4l7.8,7.4l-7.8,7.4zM1803.2,966l7.8,-7.4l7.8,7.4l-7.8,7.4zM1804.2,984l7.8,-7.4l7.8,7.4l-7.8,7.4zM1806.2,957l7.8,-7.4l7.8,7.4l-7.8,7.4zM1807.2,955l7.8,-7.4l7.8,7.4l-7.8,7.4zM1809.2,957l7.8,-7.4l7.8,7.4l-7.8,7.4zM1811.2,988l7.8,-7.4l7.8,7.4l-7.8,7.4zM1812.2,979l7.8,-7.4l7.8,7.4l-7.8,7.4zM1812.2,946l7.8,-7.4l7.8,7.4l-7.8,7.4zM1813.2,943l7.8,-7.4l7.8,7.4l-7.8,7.4zM1814.2,942l7.8,-7.4l7.8,7.4l-7.8,7.4zM1815.2,1002l7.8,-7.4l7.8,7.4l-7.8,7.4zM1816.2,1001l7.8,-7.4l7.8,7.4l-7.8,7.4zM1817.2,953l7.8,-7.4l7.8,7.4l-7.8,7.4zM1818.2,943l7.8,-7.4l7.8,7.4l-7.8,7.4zM1820.2,963l7.8,-7.4l7.8,7.4l-7.8,7.4zM1822.2,955l7.8,-7.4l7.8,7.4l-7.8,7.4zM1823.2,952l7.8,-7.4l7.8,7.4l-7.8,7.4zM1827.2,947l7.8,-7.4l7.8,7.4l-7.8,7.4zM1828.2,931l7.8,-7.4l7.8,7.4l-7.8,7.4zM1830.2,957l7.8,-7.4l7.8,7.4l-7.8,7.4zM1831.2,960l7.8,-7.4l7.8,7.4l-7.8,7.4zM1832.2,963l7.8,-7.4l7.8,7.4l-7.8,7.4zM1833.2,960l7.8,-7.4l7.8,7.4l-7.8,7.4zM1834.2,955l7.8,-7.4l7.8,7.4l-7.8,7.4zM1835.2,944l7.8,-7.4l7.8,7.4l-7.8,7.4zM1836.2,952l7.8,-7.4l7.8,7.4l-7.8,7.4zM1837.2,951l7.8,-7.4l7.8,7.4l-7.8,7.4zM1839.2,959l7.8,-7.4l7.8,7.4l-7.8,7.4zM1840.2,958l7.8,-7.4l7.8,7.4l-7.8,7.4zM1841.2,963l7.8,-7.4l7.8,7.4l-7.8,7.4zM1842.2,923l7.8,-7.4l7.8,7.4l-7.8,7.4zM1843.2,968l7.8,-7.4l7.8,7.4l-7.8,7.4zM1845.2,935l7.8,-7.4l7.8,7.4l-7.8,7.4zM1846.2,950l7.8,-7.4l7.8,7.4l-7.8,7.4zM1847.2,965l7.8,-7.4l7.8,7.4l-7.8,7.4zM1848.2,959l7.8,-7.4l7.8,7.4l-7.8,7.4zM1849.2,956l7.8,-7.4l7.8,7.4l-7.8,7.4zM1850.2,963l7.8,-7.4l7.8,7.4l-7.8,7.4zM1851.2,964l7.8,-7.4l7.8,7.4l-7.8,7.4zM1852.2,962l7.8,-7.4l7.8,7.4l-7.8,7.4zM1855.2,979l7.8,-7.4l7.8,7.4l-7.8,7.4zM1856.2,987l7.8,-7.4l7.8,7.4l-7.8,7.4zM1857.2,991l7.8,-7.4l7.8,7.4l-7.8,7.4zM1858.2,991l7.8,-7.4l7.8,7.4l-7.8,7.4zM1860.2,984l7.8,-7.4l7.8,7.4l-7.8,7.4zM1861.2,936l7.8,-7.4l7.8,7.4l-7.8,7.4zM1862.2,978l7.8,-7.4l7.8,7.4l-7.8,7.4zM1865.2,986l7.8,-7.4l7.8,7.4l-7.8,7.4zM1871.2,970l7.8,-7.4l7.8,7.4l-7.8,7.4zM1872.2,967l7.8,-7.4l7.8,7.4l-7.8,7.4zM1873.2,972l7.8,-7.4l7.8,7.4l-7.8,7.4zM1874.2,979l7.8,-7.4l7.8,7.4l-7.8,7.4zM1875.2,976l7.8,-7.4l7.8,7.4l-7.8,7.4zM1876.2,978l7.8,-7.4l7.8,7.4l-7.8,7.4zM1877.2,975l7.8,-7.4l7.8,7.4l-7.8,7.4zM1878.2,970l7.8,-7.4l7.8,7.4l-7.8,7.4zM1879.2,972l7.8,-7.4l7.8,7.4l-7.8,7.4zM1880.2,969l7.8,-7.4l7.8,7.4l-7.8,7.4zM1881.2,965l7.8,-7.4l7.8,7.4l-7.8,7.4zM1883.2,972l7.8,-7.4l7.8,7.4l-7.8,7.4zM1884.2,975l7.8,-7.4l7.8,7.4l-7.8,7.4zM1885.2,976l7.8,-7.4l7.8,7.4l-7.8,7.4zM1886.2,946l7.8,-7.4l7.8,7.4l-7.8,7.4zM1889.2,959l7.8,-7.4l7.8,7.4l-7.8,7.4zM1891.2,980l7.8,-7.4l7.8,7.4l-7.8,7.4zM1892.2,965l7.8,-7.4l7.8,7.4l-7.8,7.4zM1892.2,964l7.8,-7.4l7.8,7.4l-7.8,7.4zM1893.2,971l7.8,-7.4l7.8,7.4l-7.8,7.4zM1894.2,975l7.8,-7.4l7.8,7.4l-7.8,7.4zM1895.2,958l7.8,-7.4l7.8,7.4l-7.8,7.4zM1896.2,960l7.8,-7.4l7.8,7.4l-7.8,7.4zM1897.2,960l7.8,-7.4l7.8,7.4l-7.8,7.4zM1898.2,957l7.8,-7.4l7.8,7.4l-7.8,7.4zM1899.2,948l7.8,-7.4l7.8,7.4l-7.8,7.4zM1900.2,952l7.8,-7.4l7.8,7.4l-7.8,7.4zM1901.2,961l7.8,-7.4l7.8,7.4l-7.8,7.4zM1902.2,970l7.8,-7.4l7.8,7.4l-7.8,7.4zM1905.2,987l7.8,-7.4l7.8,7.4l-7.8,7.4zM1906.2,983l7.8,-7.4l7.8,7.4l-7.8,7.4zM1907.2,976l7.8,-7.4l7.8,7.4l-7.8,7.4zM1908.2,972l7.8,-7.4l7.8,7.4l-7.8,7.4zM1909.2,988l7.8,-7.4l7.8,7.4l-7.8,7.4zM1911.2,964l7.8,-7.4l7.8,7.4l-7.8,7.4zM1912.2,966l7.8,-7.4l7.8,7.4l-7.8,7.4zM1917.2,962l7.8,-7.4l7.8,7.4l-7.8,7.4zM1918.2,997l7.8,-7.4l7.8,7.4l-7.8,7.4zM1919.2,964l7.8,-7.4l7.8,7.4l-7.8,7.4zM1920.2,966l7.8,-7.4l7.8,7.4l-7.8,7.4zM1921.2,950l7.8,-7.4l7.8,7.4l-7.8,7.4zM1922.2,968l7.8,-7.4l7.8,7.4l-7.8,7.4zM1923.2,969l7.8,-7.4l7.8,7.4l-7.8,7.4zM1924.2,976l7.8,-7.4l7.8,7.4l-7.8,7.4zM1925.2,967l7.8,-7.4l7.8,7.4l-7.8,7.4zM1926.2,956l7.8,-7.4l7.8,7.4l-7.8,7.4zM1927.2,958l7.8,-7.4l7.8,7.4l-7.8,7.4zM1928.2,951l7.8,-7.4l7.8,7.4l-7.8,7.4zM1929.2,950l7.8,-7.4l7.8,7.4l-7.8,7.4zM1931.2,967l7.8,-7.4l7.8,7.4l-7.8,7.4zM1932.2,947l7.8,-7.4l7.8,7.4l-7.8,7.4zM1933.2,936l7.8,-7.4l7.8,7.4l-7.8,7.4zM1933.2,925l7.8,-7.4l7.8,7.4l-7.8,7.4zM1934.2,963l7.8,-7.4l7.8,7.4l-7.8,7.4zM1935.2,991l7.8,-7.4l7.8,7.4l-7.8,7.4zM1936.2,961l7.8,-7.4l7.8,7.4l-7.8,7.4zM1937.2,955l7.8,-7.4l7.8,7.4l-7.8,7.4zM1938.2,961l7.8,-7.4l7.8,7.4l-7.8,7.4zM1940.2,960l7.8,-7.4l7.8,7.4l-7.8,7.4zM1941.2,981l7.8,-7.4l7.8,7.4l-7.8,7.4zM1942.2,954l7.8,-7.4l7.8,7.4l-7.8,7.4zM1943.2,980l7.8,-7.4l7.8,7.4l-7.8,7.4zM1946.2,935l7.8,-7.4l7.8,7.4l-7.8,7.4zM1947.2,936l7.8,-7.4l7.8,7.4l-7.8,7.4zM1949.2,939l7.8,-7.4l7.8,7.4l-7.8,7.4zM1950.2,940l7.8,-7.4l7.8,7.4l-7.8,7.4zM1952.2,941l7.8,-7.4l7.8,7.4l-7.8,7.4zM1953.2,937l7.8,-7.4l7.8,7.4l-7.8,7.4zM1953.2,939l7.8,-7.4l7.8,7.4l-7.8,7.4zM1955.2,929l7.8,-7.4l7.8,7.4l-7.8,7.4zM1956.2,941l7.8,-7.4l7.8,7.4l-7.8,7.4zM1957.2,944l7.8,-7.4l7.8,7.4l-7.8,7.4zM1960.2,943l7.8,-7.4l7.8,7.4l-7.8,7.4zM1961.2,933l7.8,-7.4l7.8,7.4l-7.8,7.4zM1962.2,933l7.8,-7.4l7.8,7.4l-7.8,7.4zM1963.2,968l7.8,-7.4l7.8,7.4l-7.8,7.4zM1964.2,945l7.8,-7.4l7.8,7.4l-7.8,7.4zM1967.2,939l7.8,-7.4l7.8,7.4l-7.8,7.4zM1968.2,955l7.8,-7.4l7.8,7.4l-7.8,7.4zM1969.2,972l7.8,-7.4l7.8,7.4l-7.8,7.4zM1970.2,989l7.8,-7.4l7.8,7.4l-7.8,7.4zM1971.2,953l7.8,-7.4l7.8,7.4l-7.8,7.4zM1972.2,961l7.8,-7.4l7.8,7.4l-7.8,7.4zM1973.2,967l7.8,-7.4l7.8,7.4l-7.8,7.4zM1973.2,967l7.8,-7.4l7.8,7.4l-7.8,7.4zM1975.2,960l7.8,-7.4l7.8,7.4l-7.8,7.4zM1976.2,958l7.8,-7.4l7.8,7.4l-7.8,7.4zM1977.2,958l7.8,-7.4l7.8,7.4l-7.8,7.4zM1980.2,953l7.8,-7.4l7.8,7.4l-7.8,7.4zM1981.2,948l7.8,-7.4l7.8,7.4l-7.8,7.4zM1983.2,946l7.8,-7.4l7.8,7.4l-7.8,7.4z" fill="#0ff"/>
<path d="M270.9,739l12.1,-7.2v14.3zM270.9,756l12.1,-7.2v14.3zM271.9,738l12.1,-7.2v14.3zM271.9,736l12.1,-7.2v14.3zM272.9,753l12.1,-7.2v14.3zM272.9,762l12.1,-7.2v14.3zM273.9,753l12.1,-7.2v14.3zM273.9,767l12.1,-7.2v14.3zM274.9,761l12.1,-7.2v14.3zM274.9,757l12.1,-7.2v14.3zM275.9,754l12.1,-7.2v14.3zM275.9,753l12.1,-7.2v14.3zM276.9,754l12.1,-7.2v14.3zM276.9,759l12.1,-7.2v14.3zM277.9,751l12.1,-7.2v14.3zM277.9,736l12.1,-7.2v14.3zM278.9,733l12.1,-7.2v14.3zM278.9,739l12.1,-7.2v14.3zM279.9,749l12.1,-7.2v14.3zM279.9,735l12.1,-7.2v14.3zM280.9,747l12.1,-7.2v14.3zM280.9,752l12.1,-7.2v14.3zM280.9,760l12.1,-7.2v14.3zM281.9,740l12.1,-7.2v14.3zM281.9,740l12.1,-7.2v14.3zM282.9,737l12.1,-7.2v14.3zM282.9,737l12.1,-7.2v14.3zM283.9,745l12.1,-7.2v14.3zM283.9,763l12.1,-7.2v14.3zM284.9,729l12.1,-7.2v14.3zM284.9,748l12.1,-7.2v14.3zM285.9,751l12.1,-7.2v14.3zM285.9,761l12.1,-7.2v14.3zM286.9,761l12.1,-7.2v14.3zM286.9,751l12.1,-7.2v14.3zM287.9,732l12.1,-7.2v14.3zM287.9,740l12.1,-7.2v14.3zM288.9,745l12.1,-7.2v14.3zM288.9,741l12.1,-7.2v14.3zM289.9,755l12.1,-7.2v14.3zM289.9,743l12.1,-7.2v14.3zM290.9,737l12.1,-7.2v14.3zM290.9,747l12.1,-7.2v14.3zM290.9,756l12.1,-7.2v14.3zM291.9,742l12.1,-7.2v14.3zM291.9,738l12.1,-7.2v14.3zM292.9,740l12.1,-7.2v14.3zM292.9,749l12.1,-7.2v14.3zM293.9,751l12.1,-7.2v14.3zM293.9,741l12.1,-7.2v14.3zM294.9,741l12.1,-7.2v14.3zM294.9,755l12.1,-7.2v14.3zM295.9,769l12.1,-7.2v14.3zM295.9,769l12.1,-7.2v14.3zM296.9,769l12.1,-7.2v14.3zM296.9,742l12.1,-7.2v14.3zM297.9,750l12.1,-7.2v14.3zM297.9,748l12.1,-7.2v14.3zM298.9,744l12.1,-7.2v14.3zM298.9,743l12.1,-7.2v14.3zM299.9,748l12.1,-7.2v14.3zM299.9,753l12.1,-7.2v14.3zM300.9,762l12.1,-7.2v14.3zM300.9,762l12.1,-7.2v14.3zM300.9,746l12.1,-7.2v14.3zM301.9,746l12.1,-7.2v14.3zM301.9,758l12.1,-7.2v14.3zM302.9,756l12.1,-7.2v14.3zM302.9,744l12.1,-7.2v14.3zM303.9,750l12.1,-7.2v14.3zM303.9,731l12.1,-7.2v14.3zM304.9,752l12.1,-7.2v14.3zM304.9,737l12.1,-7.2v14.3zM305.9,752l12.1,-7.2v14.3zM305.9,728l12.1,-7.2v14.3zM306.9,749l12.1,-7.2v14.3zM306.9,737l12.1,-7.2v14.3zM307.9,743l12.1,-7.2v14.3zM307.9,750l12.1,-7.2v14.3zM308.9,742l12.1,-7.2v14.3zM308.9,765l12.1,-7.2v14.3zM309.9,759l12.1,-7.2v14.3zM309.9,745l12.1,-7.2v14.3zM310.9,767l12.1,-7.2v14.3zM310.9,749l12.1,-7.2v14.3zM310.9,751l12.1,-7.2v14.3zM311.9,767l12.1,-7.2v14.3zM311.9,769l12.1,-7.2v14.3zM312.9,750l12.1,-7.2v14.3zM312.9,757l12.1,-7.2v14.3zM313.9,748l12.1,-7.2v14.3zM313.9,760l12.1,-7.2v14.3zM314.9,747l12.1,-7.2v14.3zM314.9,762l12.1,-7.2v14.3zM315.9,732l12.1,-7.2v14.3zM315.9,753l12.1,-7.2v14.3zM316.9,762l12.1,-7.2v14.3zM316.9,752l12.1,-7.2v14.3zM317.9,732l12.1,-7.2v14.3zM317.9,752l12.1,-7.2v14.3zM318.9,738l12.1,-7.2v14.3zM318.9,744l12.1,-7.2v14.3zM319.9,750l12.1,-7.2v14.3zM319.9,768l12.1,-7.2v14.3zM320.9,747l12.1,-7.2v14.3zM320.9,737l12.1,-7.2v14.3zM320.9,768l12.1,-7.2v14.3zM321.9,746l12.1,-7.2v14.3zM321.9,742l12.1,-7.2v14.3zM322.9,746l12.1,-7.2v14.3zM322.9,746l12.1,-7.2v14.3zM323.9,763l12.1,-7.2v14.3zM323.9,727l12.1,-7.2v14.3zM324.9,739l12.1,-7.2v14.3zM324.9,757l12.1,-7.2v14.3zM325.9,750l12.1,-7.2v14.3zM325.9,747l12.1,-7.2v14.3zM326.9,727l12.1,-7.2v14.3zM326.9,758l12.1,-7.2v14.3zM327.9,742l12.1,-7.2v14.3zM327.9,763l12.1,-7.2v14.3zM328.9,727l12.1,-7.2v14.3zM328.9,752l12.1,-7.2v14.3zM329.9,754l12.1,-7.2v14.3zM329.9,766l12.1,-7.2v14.3zM330.9,749l12.1,-7.2v14.3zM330.9,741l12.1,-7.2v14.3zM330.9,751l12.1,-7.2v14.3zM331.9,744l12.1,-7.2v14.3zM331.9,750l12.1,-7.2v14.3zM332.9,726l12.1,-7.2v14.3zM332.9,748l12.1,-7.2v14.3zM333.9,750l12.1,-7.2v14.3zM333.9,751l12.1,-7.2v14.3zM334.9,749l12.1,-7.2v14.3zM334.9,769l12.1,-7.2v14.3zM335.9,771l12.1,-7.2v14.3zM335.9,761l12.1,-7.2v14.3zM336.9,750l12.1,-7.2v14.3zM336.9,765l12.1,-7.2v14.3zM337.9,751l12.1,-7.2v14.3zM337.9,745l12.1,-7.2v14.3zM338.9,743l12.1,-7.2v14.3zM338.9,749l12.1,-7.2v14.3zM339.9,767l12.1,-7.2v14.3zM339.9,765l12.1,-7.2v14.3zM340.9,764l12.1,-7.2v14.3zM340.9,755l12.1,-7.2v14.3zM341.9,744l12.1,-7.2v14.3zM341.9,755l12.1,-7.2v14.3zM341.9,751l12.1,-7.2v14.3zM342.9,744l12.1,-7.2v14.3zM342.9,764l12.1,-7.2v14.3zM343.9,733l12.1,-7.2v14.3zM343.9,736l12.1,-7.2v14.3zM344.9,738l12.1,-7.2v14.3zM344.9,745l12.1,-7.2v14.3zM345.9,751l12.1,-7.2v14.3zM345.9,761l12.1,-7.2v14.3zM346.9,763l12.1,-7.2v14.3zM346.9,747l12.1,-7.2v14.3zM347.9,746l12.1,-7.2v14.3zM347.9,754l12.1,-7.2v14.3zM348.9,766l12.1,-7.2v14.3zM348.9,759l12.1,-7.2v14.3zM349.9,761l12.1,-7.2v14.3zM349.9,765l12.1,-7.2v14.3zM350.9,759l12.1,-7.2v14.3zM350.9,755l12.1,-7.2v14.3zM351.9,730l12.1,-7.2v14.3zM351.9,749l12.1,-7.2v14.3zM351.9,740l12.1,-7.2v14.3zM352.9,746l12.1,-7.2v14.3zM352.9,751l12.1,-7.2v14.3zM353.9,763l12.1,-7.2v14.3zM353.9,768l12.1,-7.2v14.3zM354.9,746l12.1,-7.2v14.3zM354.9,762l12.1,-7.2v14.3zM355.9,764l12.1,-7.2v14.3zM355.9,734l12.1,-7.2v14.3zM356.9,761l12.1,-7.2v14.3zM356.9,756l12.1,-7.2v14.3zM357.9,735l12.1,-7.2v14.3zM357.9,759l12.1,-7.2v14.3zM358.9,766l12.1,-7.2v14.3zM358.9,767l12.1,-7.2v14.3zM359.9,752l12.1,-7.2v14.3zM359.9,768l12.1,-7.2v14.3zM360.9,772l12.1,-7.2v14.3zM360.9,767l12.1,-7.2v14.3zM361.9,742l12.1,-7.2v14.3zM361.9,770l12.1,-7.2v14.3zM361.9,753l12.1,-7.2v14.3zM362.9,753l12.1,-7.2v14.3zM362.9,775l12.1,-7.2v14.3zM363.9,778l12.1,-7.2v14.3zM363.9,779l12.1,-7.2v14.3zM364.9,731l12.1,-7.2v14.3zM364.9,778l12.1,-7.2v14.3zM365.9,734l12.1,-7.2v14.3zM365.9,768l12.1,-7.2v14.3zM366.9,745l12.1,-7.2v14.3zM366.9,764l12.1,-7.2v14.3zM367.9,774l12.1,-7.2v14.3zM367.9,773l12.1,-7.2v14.3zM368.9,757l12.1,-7.2v14.3zM368.9,732l12.1,-7.2v14.3zM369.9,753l12.1,-7.2v14.3zM369.9,753l12.1,-7.2v14.3zM370.9,760l12.1,-7.2v14.3zM370.9,772l12.1,-7.2v14.3zM371.9,751l12.1,-7.2v14.3zM371.9,769l12.1,-7.2v14.3zM371.9,750l12.1,-7.2v14.3zM372.9,753l12.1,-7.2v14.3zM372.9,764l12.1,-7.2v14.3zM373.9,769l12.1,-7.2v14.3zM373.9,771l12.1,-7.2v14.3zM374.9,753l12.1,-7.2v14.3zM374.9,768l12.1,-7.2v14.3zM375.9,748l12.1,-7.2v14.3zM375.9,781l12.1,-7.2v14.3zM376.9,767l12.1,-7.2v14.3zM376.9,761l12.1,-7.2v14.3zM377.9,750l12.1,-7.2v14.3zM377.9,753l12.1,-7.2v14.3zM378.9,761l12.1,-7.2v14.3zM378.9,752l12.1,-7.2v14.3zM379.9,760l12.1,-7.2v14.3zM379.9,750l12.1,-7.2v14.3zM380.9,752l12.1,-7.2v14.3zM380.9,770l12.1,-7.2v14.3zM381.9,750l12.1,-7.2v14.3zM381.9,755l12.1,-7.2v14.3zM381.9,750l12.1,-7.2v14.3zM382.9,765l12.1,-7.2v14.3zM382.9,749l12.1,-7.2v14.3zM383.9,756l12.1,-7.2v14.3zM383.9,759l12.1,-7.2v14.3zM384.9,756l12.1,-7.2v14.3zM384.9,764l12.1,-7.2v14.3zM385.9,761l12.1,-7.2v14.3zM385.9,760l12.1,-7.2v14.3zM386.9,753l12.1,-7.2v14.3zM386.9,756l12.1,-7.2v14.3zM387.9,750l12.1,-7.2v14.3zM387.9,751l12.1,-7.2v14.3zM388.9,749l12.1,-7.2v14.3zM388.9,771l12.1,-7.2v14.3zM389.9,765l12.1,-7.2v14.3zM389.9,748l12.1,-7.2v14.3zM390.9,757l12.1,-7.2v14.3zM390.9,765l12.1,-7.2v14.3zM391.9,756l12.1,-7.2v14.3zM391.9,771l12.1,-7.2v14.3zM391.9,748l12.1,-7.2v14.3zM392.9,758l12.1,-7.2v14.3zM392.9,740l12.1,-7.2v14.3zM393.9,767l12.1,-7.2v14.3zM393.9,752l12.1,-7.2v14.3zM394.9,759l12.1,-7.2v14.3zM394.9,765l12.1,-7.2v14.3zM395.9,756l12.1,-7.2v14.3zM395.9,753l12.1,-7.2v14.3zM396.9,752l12.1,-7.2v14.3zM396.9,768l12.1,-7.2v14.3zM397.9,769l12.1,-7.2v14.3zM397.9,753l12.1,-7.2v14.3zM398.9,767l12.1,-7.2v14.3zM398.9,752l12.1,-7.2v14.3zM399.9,740l12.1,-7.2v14.3zM399.9,752l12.1,-7.2v14.3zM400.9,750l12.1,-7.2v14.3zM400.9,759l12.1,-7.2v14.3zM401.9,759l12.1,-7.2v14.3zM401.9,750l12.1,-7.2v14.3zM401.9,750l12.1,-7.2v14.3zM402.9,755l12.1,-7.2v14.3zM402.9,740l12.1,-7.2v14.3zM403.9,760l12.1,-7.2v14.3zM403.9,763l12.1,-7.2v14.3zM404.9,756l12.1,-7.2v14.3zM404.9,745l12.1,-7.2v14.3zM405.9,754l12.1,-7.2v14.3zM405.9,750l12.1,-7.2v14.3zM406.9,751l12.1,-7.2v14.3zM406.9,767l12.1,-7.2v14.3zM407.9,753l12.1,-7.2v14.3zM407.9,750l12.1,-7.2v14.3zM408.9,760l12.1,-7.2v14.3zM408.9,745l12.1,-7.2v14.3zM409.9,767l12.1,-7.2v14.3zM409.9,758l12.1,-7.2v14.3zM410.9,757l12.1,-7.2v14.3zM410.9,757l12.1,-7.2v14.3zM411.9,745l12.1,-7.2v14.3zM411.9,759l12.1,-7.2v14.3zM411.9,758l12.1,-7.2v14.3zM412.9,755l12.1,-7.2v14.3zM412.9,749l12.1,-7.2v14.3zM413.9,754l12.1,-7.2v14.3zM413.9,764l12.1,-7.2v14.3zM414.9,750l12.1,-7.2v14.3zM414.9,758l12.1,-7.2v14.3zM415.9,761l12.1,-7.2v14.3zM415.9,747l12.1,-7.2v14.3zM416.9,752l12.1,-7.2v14.3zM416.9,757l12.1,-7.2v14.3zM417.9,764l12.1,-7.2v14.3zM417.9,757l12.1,-7.2v14.3zM418.9,750l12.1,-7.2v14.3zM418.9,755l12.1,-7.2v14.3zM419.9,742l12.1,-7.2v14.3zM419.9,758l12.1,-7.2v14.3zM420.9,754l12.1,-7.2v14.3zM420.9,753l12.1,-7.2v14.3zM421.9,755l12.1,-7.2v14.3zM421.9,756l12.1,-7.2v14.3zM421.9,746l12.1,-7.2v14.3zM422.9,771l12.1,-7.2v14.3zM422.9,746l12.1,-7.2v14.3zM423.9,755l12.1,-7.2v14.3zM423.9,755l12.1,-7.2v14.3zM424.9,741l12.1,-7.2v14.3zM424.9,752l12.1,-7.2v14.3zM425.9,746l12.1,-7.2v14.3zM425.9,742l12.1,-7.2v14.3zM426.9,738l12.1,-7.2v14.3zM426.9,753l12.1,-7.2v14.3zM427.9,762l12.1,-7.2v14.3zM427.9,760l12.1,-7.2v14.3zM428.9,752l12.1,-7.2v14.3zM428.9,757l12.1,-7.2v14.3zM429.9,736l12.1,-7.2v14.3zM429.9,756l12.1,-7.2v14.3zM430.9,748l12.1,-7.2v14.3zM430.9,759l12.1,-7.2v14.3zM431.9,760l12.1,-7.2v14.3zM431.9,754l12.1,-7.2v14.3zM431.9,751l12.1,-7.2v14.3zM432.9,751l12.1,-7.2v14.3zM432.9,770l12.1,-7.2v14.3zM433.9,750l12.1,-7.2v14.3zM433.9,757l12.1,-7.2v14.3zM434.9,762l12.1,-7.2v14.3zM434.9,767l12.1,-7.2v14.3zM435.9,740l12.1,-7.2v14.3zM435.9,755l12.1,-7.2v14.3zM436.9,743l12.1,-7.2v14.3zM436.9,751l12.1,-7.2v14.3zM437.9,761l12.1,-7.2v14.3zM437.9,737l12.1,-7.2v14.3zM438.9,756l12.1,-7.2v14.3zM438.9,754l12.1,-7.2v14.3zM439.9,763l12.1,-7.2v14.3zM439.9,755l12.1,-7.2v14.3zM440.9,758l12.1,-7.2v14.3zM440.9,753l12.1,-7.2v14.3zM441.9,767l12.1,-7.2v14.3zM441.9,763l12.1,-7.2v14.3zM441.9,759l12.1,-7.2v14.3zM442.9,736l12.1,-7.2v14.3zM442.9,763l12.1,-7.2v14.3zM443.9,750l12.1,-7.2v14.3zM443.9,763l12.1,-7.2v14.3zM444.9,761l12.1,-7.2v14.3zM444.9,763l12.1,-7.2v14.3zM445.9,754l12.1,-7.2v14.3zM445.9,760l12.1,-7.2v14.3zM446.9,756l12.1,-7.2v14.3zM446.9,742l12.1,-7.2v14.3zM447.9,762l12.1,-7.2v14.3zM447.9,750l12.1,-7.2v14.3zM448.9,759l12.1,-7.2v14.3zM448.9,769l12.1,-7.2v14.3zM449.9,772l12.1,-7.2v14.3zM449.9,764l12.1,-7.2v14.3zM450.9,762l12.1,-7.2v14.3zM450.9,759l12.1,-7.2v14.3zM451.9,751l12.1,-7.2v14.3zM451.9,765l12.1,-7.2v14.3zM451.9,763l12.1,-7.2v14.3zM452.9,754l12.1,-7.2v14.3zM452.9,766l12.1,-7.2v14.3zM453.9,748l12.1,-7.2v14.3zM453.9,765l12.1,-7.2v14.3zM454.9,754l12.1,-7.2v14.3zM454.9,752l12.1,-7.2v14.3zM455.9,752l12.1,-7.2v14.3zM455.9,756l12.1,-7.2v14.3zM456.9,751l12.1,-7.2v14.3zM456.9,762l12.1,-7.2v14.3zM457.9,763l12.1,-7.2v14.3zM457.9,785l12.1,-7.2v14.3zM458.9,744l12.1,-7.2v14.3zM458.9,758l12.1,-7.2v14.3zM459.9,771l12.1,-7.2v14.3zM459.9,778l12.1,-7.2v14.3zM460.9,763l12.1,-7.2v14.3zM460.9,773l12.1,-7.2v14.3zM461.9,759l12.1,-7.2v14.3zM461.9,771l12.1,-7.2v14.3zM462.9,757l12.1,-7.2v14.3zM462.9,749l12.1,-7.2v14.3zM462.9,765l12.1,-7.2v14.3zM463.9,761l12.1,-7.2v14.3zM463.9,763l12.1,-7.2v14.3zM464.9,759l12.1,-7.2v14.3zM464.9,748l12.1,-7.2v14.3zM465.9,759l12.1,-7.2v14.3zM465.9,758l12.1,-7.2v14.3zM466.9,751l12.1,-7.2v14.3zM466.9,755l12.1,-7.2v14.3zM467.9,763l12.1,-7.2v14.3zM467.9,764l12.1,-7.2v14.3zM468.9,755l12.1,-7.2v14.3zM468.9,753l12.1,-7.2v14.3zM469.9,757l12.1,-7.2v14.3zM469.9,756l12.1,-7.2v14.3zM470.9,762l12.1,-7.2v14.3zM470.9,782l12.1,-7.2v14.3zM471.9,761l12.1,-7.2v14.3zM471.9,745l12.1,-7.2v14.3zM472.9,780l12.1,-7.2v14.3zM472.9,765l12.1,-7.2v14.3zM472.9,761l12.1,-7.2v14.3zM473.9,770l12.1,-7.2v14.3zM473.9,760l12.1,-7.2v14.3zM474.9,783l12.1,-7.2v14.3zM474.9,765l12.1,-7.2v14.3zM475.9,765l12.1,-7.2v14.3zM475.9,762l12.1,-7.2v14.3zM476.9,770l12.1,-7.2v14.3zM476.9,764l12.1,-7.2v14.3zM477.9,762l12.1,-7.2v14.3zM477.9,765l12.1,-7.2v14.3zM478.9,758l12.1,-7.2v14.3zM478.9,775l12.1,-7.2v14.3zM479.9,780l12.1,-7.2v14.3zM479.9,756l12.1,-7.2v14.3zM480.9,763l12.1,-7.2v14.3zM480.9,772l12.1,-7.2v14.3zM481.9,754l12.1,-7.2v14.3zM481.9,760l12.1,-7.2v14.3zM482.9,773l12.1,-7.2v14.3zM482.9,769l12.1,-7.2v14.3zM482.9,771l12.1,-7.2v14.3zM483.9,748l12.1,-7.2v14.3zM483.9,780l12.1,-7.2v14.3zM484.9,770l12.1,-7.2v14.3zM484.9,767l12.1,-7.2v14.3zM485.9,788l12.1,-7.2v14.3zM485.9,778l12.1,-7.2v14.3zM486.9,753l12.1,-7.2v14.3zM486.9,788l12.1,-7.2v14.3zM487.9,762l12.1,-7.2v14.3zM487.9,767l12.1,-7.2v14.3zM488.9,756l12.1,-7.2v14.3zM488.9,785l12.1,-7.2v14.3zM489.9,769l12.1,-7.2v14.3zM489.9,775l12.1,-7.2v14.3zM490.9,780l12.1,-7.2v14.3zM490.9,770l12.1,-7.2v14.3zM491.9,749l12.1,-7.2v14.3zM491.9,786l12.1,-7.2v14.3zM492.9,766l12.1,-7.2v14.3zM492.9,754l12.1,-7.2v14.3zM492.9,766l12.1,-7.2v14.3zM493.9,767l12.1,-7.2v14.3zM493.9,766l12.1,-7.2v14.3zM494.9,769l12.1,-7.2v14.3zM494.9,775l12.1,-7.2v14.3zM495.9,790l12.1,-7.2v14.3zM495.9,780l12.1,-7.2v14.3zM496.9,772l12.1,-7.2v14.3zM496.9,793l12.1,-7.2v14.3zM497.9,771l12.1,-7.2v14.3zM497.9,793l12.1,-7.2v14.3zM498.9,771l12.1,-7.2v14.3zM498.9,753l12.1,-7.2v14.3zM499.9,786l12.1,-7.2v14.3zM499.9,769l12.1,-7.2v14.3zM500.9,768l12.1,-7.2v14.3zM500.9,770l12.1,-7.2v14.3zM501.9,772l12.1,-7.2v14.3zM501.9,778l12.1,-7.2v14.3zM502.9,770l12.1,-7.2v14.3zM502.9,758l12.1,-7.2v14.3zM502.9,775l12.1,-7.2v14.3zM503.9,776l12.1,-7.2v14.3zM503.9,768l12.1,-7.2v14.3zM504.9,775l12.1,-7.2v14.3zM504.9,778l12.1,-7.2v14.3zM505.9,752l12.1,-7.2v14.3zM505.9,750l12.1,-7.2v14.3zM506.9,763l12.1,-7.2v14.3zM506.9,781l12.1,-7.2v14.3zM507.9,755l12.1,-7.2v14.3zM507.9,783l12.1,-7.2v14.3zM508.9,765l12.1,-7.2v14.3zM508.9,776l12.1,-7.2v14.3zM509.9,766l12.1,-7.2v14.3zM509.9,765l12.1,-7.2v14.3zM510.9,767l12.1,-7.2v14.3zM510.9,763l12.1,-7.2v14.3zM511.9,760l12.1,-7.2v14.3zM511.9,763l12.1,-7.2v14.3zM513,767l12.1,-7.2v14.3zM513,767l12.1,-7.2v14.3zM513,756l12.1,-7.2v14.3zM514,766l12.1,-7.2v14.3zM514,768l12.1,-7.2v14.3zM515,778l12.1,-7.2v14.3zM515,778l12.1,-7.2v14.3zM516,773l12.1,-7.2v14.3zM516,774l12.1,-7.2v14.3zM517,758l12.1,-7.2v14.3zM517,766l12.1,-7.2v14.3zM518,780l12.1,-7.2v14.3zM518,776l12.1,-7.2v14.3zM519,788l12.1,-7.2v14.3zM519,795l12.1,-7.2v14.3zM520,792l12.1,-7.2v14.3zM520,765l12.1,-7.2v14.3zM521,765l12.1,-7.2v14.3zM521,768l12.1,-7.2v14.3zM522,787l12.1,-7.2v14.3zM522,776l12.1,-7.2v14.3zM523,769l12.1,-7.2v14.3zM523,760l12.1,-7.2v14.3zM523,772l12.1,-7.2v14.3zM524,770l12.1,-7.2v14.3zM524,787l12.1,-7.2v14.3zM525,796l12.1,-7.2v14.3zM525,757l12.1,-7.2v14.3zM526,756l12.1,-7.2v14.3zM526,782l12.1,-7.2v14.3zM527,781l12.1,-7.2v14.3zM527,766l12.1,-7.2v14.3zM528,777l12.1,-7.2v14.3zM528,777l12.1,-7.2v14.3zM529,761l12.1,-7.2v14.3zM529,782l12.1,-7.2v14.3zM530,767l12.1,-7.2v14.3zM530,776l12.1,-7.2v14.3zM531,789l12.1,-7.2v14.3zM531,763l12.1,-7.2v14.3zM532,783l12.1,-7.2v14.3zM532,783l12.1,-7.2v14.3zM533,792l12.1,-7.2v14.3zM533,765l12.1,-7.2v14.3zM533,778l12.1,-7.2v14.3zM534,757l12.1,-7.2v14.3zM534,774l12.1,-7.2v14.3zM535,790l12.1,-7.2v14.3zM535,796l12.1,-7.2v14.3zM536,782l12.1,-7.2v14.3zM536,763l12.1,-7.2v14.3zM537,757l12.1,-7.2v14.3zM537,779l12.1,-7.2v14.3zM538,768l12.1,-7.2v14.3zM538,780l12.1,-7.2v14.3zM539,776l12.1,-7.2v14.3zM539,776l12.1,-7.2v14.3zM540,793l12.1,-7.2v14.3zM540,760l12.1,-7.2v14.3zM541,773l12.1,-7.2v14.3zM541,785l12.1,-7.2v14.3zM542,793l12.1,-7.2v14.3zM542,764l12.1,-7.2v14.3zM543,762l12.1,-7.2v14.3zM543,770l12.1,-7.2v14.3zM543,756l12.1,-7.2v14.3zM544,762l12.1,-7.2v14.3zM544,791l12.1,-7.2v14.3zM545,766l12.1,-7.2v14.3zM545,761l12.1,-7.2v14.3zM546,771l12.1,-7.2v14.3zM546,777l12.1,-7.2v14.3zM547,767l12.1,-7.2v14.3zM547,776l12.1,-7.2v14.3zM548,786l12.1,-7.2v14.3zM548,784l12.1,-7.2v14.3zM549,773l12.1,-7.2v14.3zM549,789l12.1,-7.2v14.3zM550,794l12.1,-7.2v14.3zM550,782l12.1,-7.2v14.3zM551,755l12.1,-7.2v14.3zM551,787l12.1,-7.2v14.3zM552,773l12.1,-7.2v14.3zM552,787l12.1,-7.2v14.3zM553,770l12.1,-7.2v14.3zM553,769l12.1,-7.2v14.3zM553,770l12.1,-7.2v14.3zM554,771l12.1,-7.2v14.3zM554,795l12.1,-7.2v14.3zM555,771l12.1,-7.2v14.3zM555,772l12.1,-7.2v14.3zM556,779l12.1,-7.2v14.3zM556,765l12.1,-7.2v14.3zM557,771l12.1,-7.2v14.3zM557,766l12.1,-7.2v14.3zM558,787l12.1,-7.2v14.3zM558,762l12.1,-7.2v14.3zM559,776l12.1,-7.2v14.3zM559,779l12.1,-7.2v14.3zM560,790l12.1,-7.2v14.3zM560,786l12.1,-7.2v14.3zM561,781l12.1,-7.2v14.3zM561,768l12.1,-7.2v14.3zM562,800l12.1,-7.2v14.3zM562,793l12.1,-7.2v14.3zM563,783l12.1,-7.2v14.3zM563,763l12.1,-7.2v14.3zM563,773l12.1,-7.2v14.3zM564,766l12.1,-7.2v14.3zM564,766l12.1,-7.2v14.3zM565,769l12.1,-7.2v14.3zM565,762l12.1,-7.2v14.3zM566,764l12.1,-7.2v14.3zM566,772l12.1,-7.2v14.3zM567,774l12.1,-7.2v14.3zM567,758l12.1,-7.2v14.3zM568,774l12.1,-7.2v14.3zM568,794l12.1,-7.2v14.3zM569,775l12.1,-7.2v14.3zM569,772l12.1,-7.2v14.3zM570,772l12.1,-7.2v14.3zM570,800l12.1,-7.2v14.3zM571,786l12.1,-7.2v14.3zM571,787l12.1,-7.2v14.3zM572,784l12.1,-7.2v14.3zM572,779l12.1,-7.2v14.3zM573,798l12.1,-7.2v14.3zM573,776l12.1,-7.2v14.3zM573,760l12.1,-7.2v14.3zM574,784l12.1,-7.2v14.3zM574,788l12.1,-7.2v14.3zM575,782l12.1,-7.2v14.3zM575,786l12.1,-7.2v14.3zM576,785l12.1,-7.2v14.3zM576,784l12.1,-7.2v14.3zM577,801l12.1,-7.2v14.3zM577,796l12.1,-7.2v14.3zM578,787l12.1,-7.2v14.3zM578,783l12.1,-7.2v14.3zM579,776l12.1,-7.2v14.3zM579,769l12.1,-7.2v14.3zM580,768l12.1,-7.2v14.3zM580,769l12.1,-7.2v14.3zM581,778l12.1,-7.2v14.3zM581,778l12.1,-7.2v14.3zM582,788l12.1,-7.2v14.3zM582,783l12.1,-7.2v14.3zM583,760l12.1,-7.2v14.3zM583,763l12.1,-7.2v14.3zM584,774l12.1,-7.2v14.3zM584,803l12.1,-7.2v14.3zM584,777l12.1,-7.2v14.3zM585,787l12.1,-7.2v14.3zM585,784l12.1,-7.2v14.3zM586,776l12.1,-7.2v14.3zM586,789l12.1,-7.2v14.3zM587,761l12.1,-7.2v14.3zM587,771l12.1,-7.2v14.3zM588,765l12.1,-7.2v14.3zM588,786l12.1,-7.2v14.3zM589,804l12.1,-7.2v14.3zM589,777l12.1,-7.2v14.3zM590,769l12.1,-7.2v14.3zM590,770l12.1,-7.2v14.3zM591,781l12.1,-7.2v14.3zM591,780l12.1,-7.2v14.3zM592,785l12.1,-7.2v14.3zM592,775l12.1,-7.2v14.3zM593,774l12.1,-7.2v14.3zM593,794l12.1,-7.2v14.3zM594,796l12.1,-7.2v14.3zM594,789l12.1,-7.2v14.3zM594,772l12.1,-7.2v14.3zM595,796l12.1,-7.2v14.3zM595,805l12.1,-7.2v14.3zM596,772l12.1,-7.2v14.3zM596,792l12.1,-7.2v14.3zM597,781l12.1,-7.2v14.3zM597,788l12.1,-7.2v14.3zM598,786l12.1,-7.2v14.3zM598,790l12.1,-7.2v14.3zM599,776l12.1,-7.2v14.3zM599,785l12.1,-7.2v14.3zM600,777l12.1,-7.2v14.3zM600,787l12.1,-7.2v14.3zM601,784l12.1,-7.2v14.3zM601,776l12.1,-7.2v14.3zM602,782l12.1,-7.2v14.3zM602,778l12.1,-7.2v14.3zM603,787l12.1,-7.2v14.3zM603,786l12.1,-7.2v14.3zM604,787l12.1,-7.2v14.3zM604,761l12.1,-7.2v14.3zM604,781l12.1,-7.2v14.3zM605,776l12.1,-7.2v14.3zM605,777l12.1,-7.2v14.3zM606,794l12.1,-7.2v14.3zM606,792l12.1,-7.2v14.3zM607,784l12.1,-7.2v14.3zM607,800l12.1,-7.2v14.3zM608,798l12.1,-7.2v14.3zM608,788l12.1,-7.2v14.3zM609,795l12.1,-7.2v14.3zM609,804l12.1,-7.2v14.3zM610,773l12.1,-7.2v14.3zM610,771l12.1,-7.2v14.3zM611,774l12.1,-7.2v14.3zM611,780l12.1,-7.2v14.3zM612,784l12.1,-7.2v14.3zM612,799l12.1,-7.2v14.3zM613,778l12.1,-7.2v14.3zM613,802l12.1,-7.2v14.3zM614,800l12.1,-7.2v14.3zM614,801l12.1,-7.2v14.3zM614,786l12.1,-7.2v14.3zM615,777l12.1,-7.2v14.3zM615,800l12.1,-7.2v14.3zM616,791l12.1,-7.2v14.3zM616,783l12.1,-7.2v14.3zM617,796l12.1,-7.2v14.3zM617,790l12.1,-7.2v14.3zM618,778l12.1,-7.2v14.3zM618,792l12.1,-7.2v14.3zM619,788l12.1,-7.2v14.3zM619,784l12.1,-7.2v14.3zM620,791l12.1,-7.2v14.3zM620,777l12.1,-7.2v14.3zM621,787l12.1,-7.2v14.3zM621,780l12.1,-7.2v14.3zM622,795l12.1,-7.2v14.3zM622,788l12.1,-7.2v14.3zM623,784l12.1,-7.2v14.3zM623,797l12.1,-7.2v14.3zM624,779l12.1,-7.2v14.3zM624,777l12.1,-7.2v14.3zM624,799l12.1,-7.2v14.3zM625,776l12.1,-7.2v14.3zM625,803l12.1,-7.2v14.3zM626,798l12.1,-7.2v14.3zM626,783l12.1,-7.2v14.3zM627,779l12.1,-7.2v14.3zM627,811l12.1,-7.2v14.3zM628,788l12.1,-7.2v14.3zM628,783l12.1,-7.2v14.3zM629,781l12.1,-7.2v14.3zM629,776l12.1,-7.2v14.3zM630,811l12.1,-7.2v14.3zM630,795l12.1,-7.2v14.3zM631,789l12.1,-7.2v14.3zM631,782l12.1,-7.2v14.3zM632,784l12.1,-7.2v14.3zM632,799l12.1,-7.2v14.3zM633,763l12.1,-7.2v14.3zM633,781l12.1,-7.2v14.3zM634,779l12.1,-7.2v14.3zM634,772l12.1,-7.2v14.3zM634,799l12.1,-7.2v14.3zM635,782l12.1,-7.2v14.3zM635,803l12.1,-7.2v14.3zM636,803l12.1,-7.2v14.3zM636,778l12.1,-7.2v14.3zM637,803l12.1,-7.2v14.3zM637,793l12.1,-7.2v14.3zM638,788l12.1,-7.2v14.3zM638,805l12.1,-7.2v14.3zM639,793l12.1,-7.2v14.3zM639,793l12.1,-7.2v14.3zM640,773l12.1,-7.2v14.3zM640,802l12.1,-7.2v14.3zM641,788l12.1,-7.2v14.3zM641,805l12.1,-7.2v14.3zM642,788l12.1,-7.2v14.3zM642,803l12.1,-7.2v14.3zM643,793l12.1,-7.2v14.3zM643,799l12.1,-7.2v14.3zM644,766l12.1,-7.2v14.3zM644,791l12.1,-7.2v14.3zM644,788l12.1,-7.2v14.3zM645,788l12.1,-7.2v14.3zM645,777l12.1,-7.2v14.3zM646,768l12.1,-7.2v14.3zM646,798l12.1,-7.2v14.3zM647,790l12.1,-7.2v14.3zM647,792l12.1,-7.2v14.3zM648,803l12.1,-7.2v14.3zM648,783l12.1,-7.2v14.3zM649,807l12.1,-7.2v14.3zM649,799l12.1,-7.2v14.3zM650,794l12.1,-7.2v14.3zM650,792l12.1,-7.2v14.3zM651,813l12.1,-7.2v14.3zM651,797l12.1,-7.2v14.3zM652,800l12.1,-7.2v14.3zM652,779l12.1,-7.2v14.3zM653,796l12.1,-7.2v14.3zM653,778l12.1,-7.2v14.3zM654,783l12.1,-7.2v14.3zM654,796l12.1,-7.2v14.3zM654,788l12.1,-7.2v14.3zM655,768l12.1,-7.2v14.3zM655,778l12.1,-7.2v14.3zM656,784l12.1,-7.2v14.3zM656,798l12.1,-7.2v14.3zM657,784l12.1,-7.2v14.3zM657,804l12.1,-7.2v14.3zM658,792l12.1,-7.2v14.3zM658,779l12.1,-7.2v14.3zM659,811l12.1,-7.2v14.3zM659,790l12.1,-7.2v14.3zM660,785l12.1,-7.2v14.3zM660,783l12.1,-7.2v14.3zM661,791l12.1,-7.2v14.3zM661,786l12.1,-7.2v14.3zM662,795l12.1,-7.2v14.3zM662,801l12.1,-7.2v14.3zM663,793l12.1,-7.2v14.3zM663,783l12.1,-7.2v14.3zM664,805l12.1,-7.2v14.3zM664,789l12.1,-7.2v14.3zM664,797l12.1,-7.2v14.3zM665,764l12.1,-7.2v14.3zM665,806l12.1,-7.2v14.3zM666,784l12.1,-7.2v14.3zM666,803l12.1,-7.2v14.3zM667,777l12.1,-7.2v14.3zM667,790l12.1,-7.2v14.3zM668,809l12.1,-7.2v14.3zM668,807l12.1,-7.2v14.3zM669,796l12.1,-7.2v14.3zM669,802l12.1,-7.2v14.3zM670,766l12.1,-7.2v14.3zM670,784l12.1,-7.2v14.3zM671,790l12.1,-7.2v14.3zM671,767l12.1,-7.2v14.3zM672,785l12.1,-7.2v14.3zM672,795l12.1,-7.2v14.3zM673,804l12.1,-7.2v14.3zM673,789l12.1,-7.2v14.3zM674,808l12.1,-7.2v14.3zM674,817l12.1,-7.2v14.3zM674,791l12.1,-7.2v14.3zM675,801l12.1,-7.2v14.3zM675,801l12.1,-7.2v14.3zM676,810l12.1,-7.2v14.3zM676,766l12.1,-7.2v14.3zM677,797l12.1,-7.2v14.3zM677,786l12.1,-7.2v14.3zM678,776l12.1,-7.2v14.3zM678,777l12.1,-7.2v14.3zM679,787l12.1,-7.2v14.3zM679,798l12.1,-7.2v14.3zM680,785l12.1,-7.2v14.3zM680,773l12.1,-7.2v14.3zM681,789l12.1,-7.2v14.3zM681,809l12.1,-7.2v14.3zM682,780l12.1,-7.2v14.3zM682,800l12.1,-7.2v14.3zM683,808l12.1,-7.2v14.3zM683,791l12.1,-7.2v14.3zM684,783l12.1,-7.2v14.3zM684,781l12.1,-7.2v14.3zM684,809l12.1,-7.2v14.3zM685,801l12.1,-7.2v14.3zM685,792l12.1,-7.2v14.3zM686,796l12.1,-7.2v14.3zM686,784l12.1,-7.2v14.3zM687,791l12.1,-7.2v14.3zM687,813l12.1,-7.2v14.3zM688,800l12.1,-7.2v14.3zM688,799l12.1,-7.2v14.3zM689,802l12.1,-7.2v14.3zM689,786l12.1,-7.2v14.3zM690,797l12.1,-7.2v14.3zM690,779l12.1,-7.2v14.3zM691,766l12.1,-7.2v14.3zM691,792l12.1,-7.2v14.3zM692,787l12.1,-7.2v14.3zM692,785l12.1,-7.2v14.3zM693,774l12.1,-7.2v14.3zM693,788l12.1,-7.2v14.3zM694,789l12.1,-7.2v14.3zM694,781l12.1,-7.2v14.3zM694,783l12.1,-7.2v14.3zM695,776l12.1,-7.2v14.3zM695,784l12.1,-7.2v14.3zM696,801l12.1,-7.2v14.3zM696,779l12.1,-7.2v14.3zM697,802l12.1,-7.2v14.3zM697,775l12.1,-7.2v14.3zM698,783l12.1,-7.2v14.3zM698,819l12.1,-7.2v14.3zM699,774l12.1,-7.2v14.3zM699,804l12.1,-7.2v14.3zM700,781l12.1,-7.2v14.3zM700,796l12.1,-7.2v14.3zM701,799l12.1,-7.2v14.3zM701,804l12.1,-7.2v14.3zM702,791l12.1,-7.2v14.3zM702,785l12.1,-7.2v14.3zM703,820l12.1,-7.2v14.3zM703,801l12.1,-7.2v14.3zM704,801l12.1,-7.2v14.3zM704,783l12.1,-7.2v14.3zM705,779l12.1,-7.2v14.3zM705,801l12.1,-7.2v14.3zM705,812l12.1,-7.2v14.3zM706,786l12.1,-7.2v14.3zM706,779l12.1,-7.2v14.3zM707,805l12.1,-7.2v14.3zM707,786l12.1,-7.2v14.3zM708,799l12.1,-7.2v14.3zM708,780l12.1,-7.2v14.3zM709,793l12.1,-7.2v14.3zM709,783l12.1,-7.2v14.3zM710,788l12.1,-7.2v14.3zM710,783l12.1,-7.2v14.3zM711,797l12.1,-7.2v14.3zM711,790l12.1,-7.2v14.3zM712,797l12.1,-7.2v14.3zM712,788l12.1,-7.2v14.3zM713,808l12.1,-7.2v14.3zM713,785l12.1,-7.2v14.3zM714,790l12.1,-7.2v14.3zM714,807l12.1,-7.2v14.3zM715,796l12.1,-7.2v14.3zM715,785l12.1,-7.2v14.3zM715,787l12.1,-7.2v14.3zM716,784l12.1,-7.2v14.3zM716,807l12.1,-7.2v14.3zM717,794l12.1,-7.2v14.3zM717,794l12.1,-7.2v14.3zM718,775l12.1,-7.2v14.3zM718,804l12.1,-7.2v14.3zM719,804l12.1,-7.2v14.3zM719,808l12.1,-7.2v14.3zM720,781l12.1,-7.2v14.3zM720,808l12.1,-7.2v14.3zM721,787l12.1,-7.2v14.3zM721,798l12.1,-7.2v14.3zM722,796l12.1,-7.2v14.3zM722,803l12.1,-7.2v14.3zM723,779l12.1,-7.2v14.3zM723,795l12.1,-7.2v14.3zM724,802l12.1,-7.2v14.3zM724,814l12.1,-7.2v14.3zM725,792l12.1,-7.2v14.3zM725,799l12.1,-7.2v14.3zM725,809l12.1,-7.2v14.3zM726,790l12.1,-7.2v14.3zM726,791l12.1,-7.2v14.3zM727,794l12.1,-7.2v14.3zM727,808l12.1,-7.2v14.3zM728,791l12.1,-7.2v14.3zM728,797l12.1,-7.2v14.3zM729,790l12.1,-7.2v14.3zM729,796l12.1,-7.2v14.3zM730,812l12.1,-7.2v14.3zM730,801l12.1,-7.2v14.3zM731,800l12.1,-7.2v14.3zM731,791l12.1,-7.2v14.3zM732,788l12.1,-7.2v14.3zM732,803l12.1,-7.2v14.3zM733,806l12.1,-7.2v14.3zM733,788l12.1,-7.2v14.3zM734,792l12.1,-7.2v14.3zM734,790l12.1,-7.2v14.3zM735,791l12.1,-7.2v14.3zM735,802l12.1,-7.2v14.3zM735,784l12.1,-7.2v14.3zM736,804l12.1,-7.2v14.3zM736,808l12.1,-7.2v14.3zM737,782l12.1,-7.2v14.3zM737,795l12.1,-7.2v14.3zM738,792l12.1,-7.2v14.3zM738,786l12.1,-7.2v14.3zM739,811l12.1,-7.2v14.3zM739,807l12.1,-7.2v14.3zM740,790l12.1,-7.2v14.3zM740,791l12.1,-7.2v14.3zM741,796l12.1,-7.2v14.3zM741,805l12.1,-7.2v14.3zM742,804l12.1,-7.2v14.3zM742,797l12.1,-7.2v14.3zM743,786l12.1,-7.2v14.3zM743,782l12.1,-7.2v14.3zM744,795l12.1,-7.2v14.3zM744,800l12.1,-7.2v14.3zM745,802l12.1,-7.2v14.3zM745,807l12.1,-7.2v14.3zM745,795l12.1,-7.2v14.3zM746,795l12.1,-7.2v14.3zM746,804l12.1,-7.2v14.3zM747,795l12.1,-7.2v14.3zM747,802l12.1,-7.2v14.3zM748,781l12.1,-7.2v14.3zM748,805l12.1,-7.2v14.3zM749,798l12.1,-7.2v14.3zM749,799l12.1,-7.2v14.3zM750,802l12.1,-7.2v14.3zM750,797l12.1,-7.2v14.3zM751,787l12.1,-7.2v14.3zM751,794l12.1,-7.2v14.3zM752,807l12.1,-7.2v14.3zM752,796l12.1,-7.2v14.3zM753,797l12.1,-7.2v14.3zM753,794l12.1,-7.2v14.3zM754,796l12.1,-7.2v14.3zM754,793l12.1,-7.2v14.3zM755,791l12.1,-7.2v14.3zM755,797l12.1,-7.2v14.3zM755,793l12.1,-7.2v14.3zM756,790l12.1,-7.2v14.3zM756,804l12.1,-7.2v14.3zM757,796l12.1,-7.2v14.3zM757,799l12.1,-7.2v14.3zM758,807l12.1,-7.2v14.3zM758,808l12.1,-7.2v14.3zM759,794l12.1,-7.2v14.3zM759,800l12.1,-7.2v14.3zM760,797l12.1,-7.2v14.3zM760,793l12.1,-7.2v14.3zM761,799l12.1,-7.2v14.3zM761,794l12.1,-7.2v14.3zM762,793l12.1,-7.2v14.3zM762,798l12.1,-7.2v14.3zM763,799l12.1,-7.2v14.3zM763,801l12.1,-7.2v14.3zM764,797l12.1,-7.2v14.3zM764,804l12.1,-7.2v14.3zM765,796l12.1,-7.2v14.3zM765,796l12.1,-7.2v14.3zM765,802l12.1,-7.2v14.3zM766,793l12.1,-7.2v14.3zM766,801l12.1,-7.2v14.3zM767,803l12.1,-7.2v14.3zM767,795l12.1,-7.2v14.3zM768,795l12.1,-7.2v14.3zM768,799l12.1,-7.2v14.3zM769,802l12.1,-7.2v14.3zM769,796l12.1,-7.2v14.3zM770,796l12.1,-7.2v14.3zM770,789l12.1,-7.2v14.3zM771,800l12.1,-7.2v14.3zM771,803l12.1,-7.2v14.3zM772,804l12.1,-7.2v14.3zM772,798l12.1,-7.2v14.3zM773,802l12.1,-7.2v14.3zM773,808l12.1,-7.2v14.3zM774,804l12.1,-7.2v14.3zM774,800l12.1,-7.2v14.3zM775,800l12.1,-7.2v14.3zM775,802l12.1,-7.2v14.3zM775,802l12.1,-7.2v14.3zM776,798l12.1,-7.2v14.3zM776,805l12.1,-7.2v14.3zM777,799l12.1,-7.2v14.3zM777,804l12.1,-7.2v14.3zM778,797l12.1,-7.2v14.3zM778,807l12.1,-7.2v14.3zM779,801l12.1,-7.2v14.3zM779,797l12.1,-7.2v14.3zM780,796l12.1,-7.2v14.3zM780,811l12.1,-7.2v14.3zM781,803l12.1,-7.2v14.3zM781,806l12.1,-7.2v14.3zM782,798l12.1,-7.2v14.3zM782,799l12.1,-7.2v14.3zM783,798l12.1,-7.2v14.3zM783,803l12.1,-7.2v14.3zM784,799l12.1,-7.2v14.3zM784,802l12.1,-7.2v14.3zM785,794l12.1,-7.2v14.3zM785,813l12.1,-7.2v14.3zM785,794l12.1,-7.2v14.3zM786,813l12.1,-7.2v14.3zM786,803l12.1,-7.2v14.3zM787,809l12.1,-7.2v14.3zM787,801l12.1,-7.2v14.3zM788,808l12.1,-7.2v14.3zM788,804l12.1,-7.2v14.3zM789,794l12.1,-7.2v14.3zM789,796l12.1,-7.2v14.3zM790,794l12.1,-7.2v14.3zM790,806l12.1,-7.2v14.3zM791,800l12.1,-7.2v14.3zM791,801l12.1,-7.2v14.3zM792,802l12.1,-7.2v14.3zM792,801l12.1,-7.2v14.3zM793,801l12.1,-7.2v14.3zM793,796l12.1,-7.2v14.3zM794,795l12.1,-7.2v14.3zM794,804l12.1,-7.2v14.3zM795,803l12.1,-7.2v14.3zM795,801l12.1,-7.2v14.3zM795,805l12.1,-7.2v14.3zM796,804l12.1,-7.2v14.3zM796,804l12.1,-7.2v14.3zM797,809l12.1,-7.2v14.3zM797,789l12.1,-7.2v14.3zM798,804l12.1,-7.2v14.3zM798,788l12.1,-7.2v14.3zM799,806l12.1,-7.2v14.3zM799,806l12.1,-7.2v14.3zM800,800l12.1,-7.2v14.3zM800,801l12.1,-7.2v14.3zM801,806l12.1,-7.2v14.3zM801,799l12.1,-7.2v14.3zM802,800l12.1,-7.2v14.3zM802,806l12.1,-7.2v14.3zM803,788l12.1,-7.2v14.3zM803,803l12.1,-7.2v14.3zM804,804l12.1,-7.2v14.3zM804,806l12.1,-7.2v14.3zM805,804l12.1,-7.2v14.3zM805,792l12.1,-7.2v14.3zM805,809l12.1,-7.2v14.3zM806,795l12.1,-7.2v14.3zM806,788l12.1,-7.2v14.3zM807,803l12.1,-7.2v14.3zM807,802l12.1,-7.2v14.3zM808,803l12.1,-7.2v14.3zM808,805l12.1,-7.2v14.3zM809,811l12.1,-7.2v14.3zM809,807l12.1,-7.2v14.3zM810,793l12.1,-7.2v14.3zM810,804l12.1,-7.2v14.3zM811,804l12.1,-7.2v14.3zM811,801l12.1,-7.2v14.3zM812,802l12.1,-7.2v14.3zM812,801l12.1,-7.2v14.3zM813,806l12.1,-7.2v14.3zM813,796l12.1,-7.2v14.3zM814,788l12.1,-7.2v14.3zM814,801l12.1,-7.2v14.3zM815,796l12.1,-7.2v14.3zM815,800l12.1,-7.2v14.3zM815,806l12.1,-7.2v14.3zM816,795l12.1,-7.2v14.3zM816,802l12.1,-7.2v14.3zM817,795l12.1,-7.2v14.3zM817,795l12.1,-7.2v14.3zM818,797l12.1,-7.2v14.3zM818,796l12.1,-7.2v14.3zM819,804l12.1,-7.2v14.3zM819,795l12.1,-7.2v14.3zM820,801l12.1,-7.2v14.3zM820,800l12.1,-7.2v14.3zM821,799l12.1,-7.2v14.3zM821,806l12.1,-7.2v14.3zM822,809l12.1,-7.2v14.3zM822,806l12.1,-7.2v14.3zM823,810l12.1,-7.2v14.3zM823,802l12.1,-7.2v14.3zM824,810l12.1,-7.2v14.3zM824,808l12.1,-7.2v14.3zM825,802l12.1,-7.2v14.3zM825,810l12.1,-7.2v14.3zM826,796l12.1,-7.2v14.3zM826,795l12.1,-7.2v14.3zM826,794l12.1,-7.2v14.3zM827,805l12.1,-7.2v14.3zM827,793l12.1,-7.2v14.3zM828,808l12.1,-7.2v14.3zM828,793l12.1,-7.2v14.3zM829,800l12.1,-7.2v14.3zM829,802l12.1,-7.2v14.3zM830,806l12.1,-7.2v14.3zM830,797l12.1,-7.2v14.3zM831,807l12.1,-7.2v14.3zM831,809l12.1,-7.2v14.3zM832,802l12.1,-7.2v14.3zM832,789l12.1,-7.2v14.3zM833,810l12.1,-7.2v14.3zM833,799l12.1,-7.2v14.3zM834,797l12.1,-7.2v14.3zM834,803l12.1,-7.2v14.3zM835,787l12.1,-7.2v14.3zM835,809l12.1,-7.2v14.3zM836,793l12.1,-7.2v14.3zM836,806l12.1,-7.2v14.3zM836,803l12.1,-7.2v14.3zM837,796l12.1,-7.2v14.3zM837,806l12.1,-7.2v14.3zM838,806l12.1,-7.2v14.3zM838,801l12.1,-7.2v14.3zM839,804l12.1,-7.2v14.3zM839,805l12.1,-7.2v14.3zM840,797l12.1,-7.2v14.3zM840,795l12.1,-7.2v14.3zM841,802l12.1,-7.2v14.3zM841,789l12.1,-7.2v14.3zM842,794l12.1,-7.2v14.3zM842,808l12.1,-7.2v14.3zM843,808l12.1,-7.2v14.3zM843,802l12.1,-7.2v14.3zM844,808l12.1,-7.2v14.3zM844,802l12.1,-7.2v14.3zM845,798l12.1,-7.2v14.3zM845,808l12.1,-7.2v14.3zM846,804l12.1,-7.2v14.3zM846,804l12.1,-7.2v14.3zM846,803l12.1,-7.2v14.3zM847,821l12.1,-7.2v14.3zM847,809l12.1,-7.2v14.3zM848,812l12.1,-7.2v14.3zM848,803l12.1,-7.2v14.3zM849,809l12.1,-7.2v14.3zM849,800l12.1,-7.2v14.3zM850,803l12.1,-7.2v14.3zM850,804l12.1,-7.2v14.3zM851,805l12.1,-7.2v14.3zM851,818l12.1,-7.2v14.3zM852,800l12.1,-7.2v14.3zM852,812l12.1,-7.2v14.3zM853,808l12.1,-7.2v14.3zM853,807l12.1,-7.2v14.3zM854,821l12.1,-7.2v14.3zM854,805l12.1,-7.2v14.3zM855,795l12.1,-7.2v14.3zM855,814l12.1,-7.2v14.3zM856,811l12.1,-7.2v14.3zM856,796l12.1,-7.2v14.3zM856,811l12.1,-7.2v14.3zM857,800l12.1,-7.2v14.3zM857,806l12.1,-7.2v14.3zM858,815l12.1,-7.2v14.3zM858,801l12.1,-7.2v14.3zM859,806l12.1,-7.2v14.3zM859,816l12.1,-7.2v14.3zM860,807l12.1,-7.2v14.3zM860,804l12.1,-7.2v14.3zM861,813l12.1,-7.2v14.3zM861,814l12.1,-7.2v14.3zM862,815l12.1,-7.2v14.3zM862,822l12.1,-7.2v14.3zM863,796l12.1,-7.2v14.3zM863,796l12.1,-7.2v14.3zM864,804l12.1,-7.2v14.3zM864,796l12.1,-7.2v14.3zM865,802l12.1,-7.2v14.3zM865,798l12.1,-7.2v14.3zM866,812l12.1,-7.2v14.3zM866,815l12.1,-7.2v14.3zM866,803l12.1,-7.2v14.3zM867,823l12.1,-7.2v14.3zM867,820l12.1,-7.2v14.3zM868,803l12.1,-7.2v14.3zM868,806l12.1,-7.2v14.3zM869,807l12.1,-7.2v14.3zM869,812l12.1,-7.2v14.3zM870,813l12.1,-7.2v14.3zM870,809l12.1,-7.2v14.3zM871,810l12.1,-7.2v14.3zM871,810l12.1,-7.2v14.3zM872,813l12.1,-7.2v14.3zM872,804l12.1,-7.2v14.3zM873,809l12.1,-7.2v14.3zM873,802l12.1,-7.2v14.3zM874,809l12.1,-7.2v14.3zM874,807l12.1,-7.2v14.3zM875,810l12.1,-7.2v14.3zM875,795l12.1,-7.2v14.3zM876,799l12.1,-7.2v14.3zM876,821l12.1,-7.2v14.3zM876,811l12.1,-7.2v14.3zM877,803l12.1,-7.2v14.3zM877,813l12.1,-7.2v14.3zM878,825l12.1,-7.2v14.3zM878,818l12.1,-7.2v14.3zM879,802l12.1,-7.2v14.3zM879,804l12.1,-7.2v14.3zM880,796l12.1,-7.2v14.3zM880,802l12.1,-7.2v14.3zM881,817l12.1,-7.2v14.3zM881,821l12.1,-7.2v14.3zM882,810l12.1,-7.2v14.3zM882,799l12.1,-7.2v14.3zM883,793l12.1,-7.2v14.3zM883,811l12.1,-7.2v14.3zM884,809l12.1,-7.2v14.3zM884,809l12.1,-7.2v14.3zM885,810l12.1,-7.2v14.3zM885,825l12.1,-7.2v14.3zM886,808l12.1,-7.2v14.3zM886,812l12.1,-7.2v14.3zM886,815l12.1,-7.2v14.3zM887,822l12.1,-7.2v14.3zM887,809l12.1,-7.2v14.3zM888,809l12.1,-7.2v14.3zM888,815l12.1,-7.2v14.3zM889,810l12.1,-7.2v14.3zM889,802l12.1,-7.2v14.3zM890,810l12.1,-7.2v14.3zM890,809l12.1,-7.2v14.3zM891,804l12.1,-7.2v14.3zM891,799l12.1,-7.2v14.3zM892,804l12.1,-7.2v14.3zM892,806l12.1,-7.2v14.3zM893,817l12.1,-7.2v14.3zM893,820l12.1,-7.2v14.3zM894,794l12.1,-7.2v14.3zM894,812l12.1,-7.2v14.3zM895,810l12.1,-7.2v14.3zM895,812l12.1,-7.2v14.3zM896,816l12.1,-7.2v14.3zM896,805l12.1,-7.2v14.3zM896,794l12.1,-7.2v14.3zM897,814l12.1,-7.2v14.3zM897,810l12.1,-7.2v14.3zM898,817l12.1,-7.2v14.3zM898,815l12.1,-7.2v14.3zM899,809l12.1,-7.2v14.3zM899,817l12.1,-7.2v14.3zM900,810l12.1,-7.2v14.3zM900,815l12.1,-7.2v14.3zM901,806l12.1,-7.2v14.3zM901,815l12.1,-7.2v14.3zM902,815l12.1,-7.2v14.3zM902,808l12.1,-7.2v14.3zM903,813l12.1,-7.2v14.3zM903,826l12.1,-7.2v14.3zM904,810l12.1,-7.2v14.3zM904,804l12.1,-7.2v14.3zM905,824l12.1,-7.2v14.3zM905,829l12.1,-7.2v14.3zM906,815l12.1,-7.2v14.3zM906,817l12.1,-7.2v14.3zM906,819l12.1,-7.2v14.3zM907,811l12.1,-7.2v14.3zM907,820l12.1,-7.2v14.3zM908,812l12.1,-7.2v14.3zM908,798l12.1,-7.2v14.3zM909,811l12.1,-7.2v14.3zM909,816l12.1,-7.2v14.3zM910,828l12.1,-7.2v14.3zM910,813l12.1,-7.2v14.3zM911,809l12.1,-7.2v14.3zM911,815l12.1,-7.2v14.3zM912,814l12.1,-7.2v14.3zM912,810l12.1,-7.2v14.3zM913,824l12.1,-7.2v14.3zM913,818l12.1,-7.2v14.3zM914,809l12.1,-7.2v14.3zM914,816l12.1,-7.2v14.3zM915,822l12.1,-7.2v14.3zM915,805l12.1,-7.2v14.3zM916,804l12.1,-7.2v14.3zM916,814l12.1,-7.2v14.3zM916,812l12.1,-7.2v14.3zM917,809l12.1,-7.2v14.3zM917,813l12.1,-7.2v14.3zM918,806l12.1,-7.2v14.3zM918,830l12.1,-7.2v14.3zM919,818l12.1,-7.2v14.3zM919,821l12.1,-7.2v14.3zM920,812l12.1,-7.2v14.3zM920,821l12.1,-7.2v14.3zM921,802l12.1,-7.2v14.3zM921,812l12.1,-7.2v14.3zM922,820l12.1,-7.2v14.3zM922,813l12.1,-7.2v14.3zM923,818l12.1,-7.2v14.3zM923,803l12.1,-7.2v14.3zM924,816l12.1,-7.2v14.3zM924,821l12.1,-7.2v14.3zM925,823l12.1,-7.2v14.3zM925,818l12.1,-7.2v14.3zM926,814l12.1,-7.2v14.3zM926,828l12.1,-7.2v14.3zM926,813l12.1,-7.2v14.3zM927,815l12.1,-7.2v14.3zM927,818l12.1,-7.2v14.3zM928,821l12.1,-7.2v14.3zM928,823l12.1,-7.2v14.3zM929,815l12.1,-7.2v14.3zM929,824l12.1,-7.2v14.3zM930,824l12.1,-7.2v14.3zM930,812l12.1,-7.2v14.3zM931,824l12.1,-7.2v14.3zM931,815l12.1,-7.2v14.3zM932,830l12.1,-7.2v14.3zM932,832l12.1,-7.2v14.3zM933,813l12.1,-7.2v14.3zM933,808l12.1,-7.2v14.3zM934,816l12.1,-7.2v14.3zM934,820l12.1,-7.2v14.3zM935,821l12.1,-7.2v14.3zM935,820l12.1,-7.2v14.3zM936,831l12.1,-7.2v14.3zM936,824l12.1,-7.2v14.3zM936,826l12.1,-7.2v14.3zM937,811l12.1,-7.2v14.3zM937,826l12.1,-7.2v14.3zM938,821l12.1,-7.2v14.3zM938,824l12.1,-7.2v14.3zM939,823l12.1,-7.2v14.3zM939,831l12.1,-7.2v14.3zM940,815l12.1,-7.2v14.3zM940,827l12.1,-7.2v14.3zM941,812l12.1,-7.2v14.3zM941,826l12.1,-7.2v14.3zM942,824l12.1,-7.2v14.3zM942,833l12.1,-7.2v14.3zM943,824l12.1,-7.2v14.3zM943,827l12.1,-7.2v14.3zM944,819l12.1,-7.2v14.3zM944,826l12.1,-7.2v14.3zM945,825l12.1,-7.2v14.3zM945,823l12.1,-7.2v14.3zM946,823l12.1,-7.2v14.3zM946,826l12.1,-7.2v14.3zM946,819l12.1,-7.2v14.3zM947,825l12.1,-7.2v14.3zM947,832l12.1,-7.2v14.3zM948,830l12.1,-7.2v14.3zM948,828l12.1,-7.2v14.3zM949,814l12.1,-7.2v14.3zM949,818l12.1,-7.2v14.3zM950,816l12.1,-7.2v14.3zM950,822l12.1,-7.2v14.3zM951,824l12.1,-7.2v14.3zM951,830l12.1,-7.2v14.3zM952,822l12.1,-7.2v14.3zM952,822l12.1,-7.2v14.3zM953,832l12.1,-7.2v14.3zM953,824l12.1,-7.2v14.3zM954,815l12.1,-7.2v14.3zM954,828l12.1,-7.2v14.3zM955,820l12.1,-7.2v14.3zM955,827l12.1,-7.2v14.3zM956,833l12.1,-7.2v14.3zM956,830l12.1,-7.2v14.3zM957,822l12.1,-7.2v14.3zM957,825l12.1,-7.2v14.3zM957,821l12.1,-7.2v14.3zM958,834l12.1,-7.2v14.3zM958,831l12.1,-7.2v14.3zM959,828l12.1,-7.2v14.3zM959,831l12.1,-7.2v14.3zM960,834l12.1,-7.2v14.3zM960,824l12.1,-7.2v14.3zM961,831l12.1,-7.2v14.3zM961,837l12.1,-7.2v14.3zM962,826l12.1,-7.2v14.3zM962,835l12.1,-7.2v14.3zM963,831l12.1,-7.2v14.3zM963,821l12.1,-7.2v14.3zM964,827l12.1,-7.2v14.3zM964,819l12.1,-7.2v14.3zM965,832l12.1,-7.2v14.3zM965,822l12.1,-7.2v14.3zM966,827l12.1,-7.2v14.3zM966,827l12.1,-7.2v14.3zM967,841l12.1,-7.2v14.3zM967,833l12.1,-7.2v14.3zM967,829l12.1,-7.2v14.3zM968,840l12.1,-7.2v14.3zM968,824l12.1,-7.2v14.3zM969,834l12.1,-7.2v14.3zM969,832l12.1,-7.2v14.3zM970,831l12.1,-7.2v14.3zM970,835l12.1,-7.2v14.3zM971,824l12.1,-7.2v14.3zM971,840l12.1,-7.2v14.3zM972,833l12.1,-7.2v14.3zM972,833l12.1,-7.2v14.3zM973,833l12.1,-7.2v14.3zM973,831l12.1,-7.2v14.3zM974,844l12.1,-7.2v14.3zM974,830l12.1,-7.2v14.3zM975,824l12.1,-7.2v14.3zM975,828l12.1,-7.2v14.3zM976,816l12.1,-7.2v14.3zM976,834l12.1,-7.2v14.3zM977,827l12.1,-7.2v14.3zM977,830l12.1,-7.2v14.3zM977,826l12.1,-7.2v14.3zM978,835l12.1,-7.2v14.3zM978,844l12.1,-7.2v14.3zM979,825l12.1,-7.2v14.3zM979,838l12.1,-7.2v14.3zM980,835l12.1,-7.2v14.3zM980,836l12.1,-7.2v14.3zM981,832l12.1,-7.2v14.3zM981,837l12.1,-7.2v14.3zM982,839l12.1,-7.2v14.3zM982,828l12.1,-7.2v14.3zM983,815l12.1,-7.2v14.3zM983,834l12.1,-7.2v14.3zM984,827l12.1,-7.2v14.3zM984,841l12.1,-7.2v14.3zM985,827l12.1,-7.2v14.3zM985,833l12.1,-7.2v14.3zM986,815l12.1,-7.2v14.3zM986,833l12.1,-7.2v14.3zM987,832l12.1,-7.2v14.3zM987,841l12.1,-7.2v14.3zM987,834l12.1,-7.2v14.3zM988,835l12.1,-7.2v14.3zM988,834l12.1,-7.2v14.3zM989,816l12.1,-7.2v14.3zM989,838l12.1,-7.2v14.3zM990,832l12.1,-7.2v14.3zM990,833l12.1,-7.2v14.3zM991,835l12.1,-7.2v14.3zM991,827l12.1,-7.2v14.3zM992,829l12.1,-7.2v14.3zM992,831l12.1,-7.2v14.3zM993,834l12.1,-7.2v14.3zM993,841l12.1,-7.2v14.3zM994,833l12.1,-7.2v14.3zM994,835l12.1,-7.2v14.3zM995,824l12.1,-7.2v14.3zM995,846l12.1,-7.2v14.3zM996,842l12.1,-7.2v14.3zM996,838l12.1,-7.2v14.3zM997,821l12.1,-7.2v14.3zM997,836l12.1,-7.2v14.3zM997,821l12.1,-7.2v14.3zM998,827l12.1,-7.2v14.3zM998,825l12.1,-7.2v14.3zM999,821l12.1,-7.2v14.3zM999,833l12.1,-7.2v14.3zM1000,846l12.1,-7.2v14.3zM1000,825l12.1,-7.2v14.3zM1001,839l12.1,-7.2v14.3zM1001,830l12.1,-7.2v14.3zM1002,828l12.1,-7.2v14.3zM1002,833l12.1,-7.2v14.3zM1003,835l12.1,-7.2v14.3zM1003,824l12.1,-7.2v14.3zM1004,819l12.1,-7.2v14.3zM1004,824l12.1,-7.2v14.3zM1005,810l12.1,-7.2v14.3zM1005,811l12.1,-7.2v14.3zM1006,823l12.1,-7.2v14.3zM1006,832l12.1,-7.2v14.3zM1007,828l12.1,-7.2v14.3zM1007,826l12.1,-7.2v14.3zM1007,824l12.1,-7.2v14.3zM1008,823l12.1,-7.2v14.3zM1008,829l12.1,-7.2v14.3zM1009,830l12.1,-7.2v14.3zM1009,829l12.1,-7.2v14.3zM1010,832l12.1,-7.2v14.3zM1010,838l12.1,-7.2v14.3zM1011,821l12.1,-7.2v14.3zM1011,818l12.1,-7.2v14.3zM1012,842l12.1,-7.2v14.3zM1012,823l12.1,-7.2v14.3zM1013,826l12.1,-7.2v14.3zM1013,835l12.1,-7.2v14.3zM1014,830l12.1,-7.2v14.3zM1014,841l12.1,-7.2v14.3zM1015,832l12.1,-7.2v14.3zM1015,838l12.1,-7.2v14.3zM1016,834l12.1,-7.2v14.3zM1016,837l12.1,-7.2v14.3zM1017,830l12.1,-7.2v14.3zM1017,829l12.1,-7.2v14.3zM1017,835l12.1,-7.2v14.3zM1018,826l12.1,-7.2v14.3zM1018,843l12.1,-7.2v14.3zM1019,833l12.1,-7.2v14.3zM1019,831l12.1,-7.2v14.3zM1020,845l12.1,-7.2v14.3zM1020,830l12.1,-7.2v14.3zM1021,829l12.1,-7.2v14.3zM1021,838l12.1,-7.2v14.3zM1022,833l12.1,-7.2v14.3zM1022,835l12.1,-7.2v14.3zM1023,836l12.1,-7.2v14.3zM1023,840l12.1,-7.2v14.3zM1024,833l12.1,-7.2v14.3zM1024,843l12.1,-7.2v14.3zM1025,831l12.1,-7.2v14.3zM1025,837l12.1,-7.2v14.3zM1026,833l12.1,-7.2v14.3zM1026,844l12.1,-7.2v14.3zM1027,831l12.1,-7.2v14.3zM1027,849l12.1,-7.2v14.3zM1027,831l12.1,-7.2v14.3zM1028,839l12.1,-7.2v14.3zM1028,838l12.1,-7.2v14.3zM1029,840l12.1,-7.2v14.3zM1029,840l12.1,-7.2v14.3zM1030,829l12.1,-7.2v14.3zM1030,829l12.1,-7.2v14.3zM1031,836l12.1,-7.2v14.3zM1031,838l12.1,-7.2v14.3zM1032,832l12.1,-7.2v14.3zM1032,839l12.1,-7.2v14.3zM1033,845l12.1,-7.2v14.3zM1033,839l12.1,-7.2v14.3zM1034,841l12.1,-7.2v14.3zM1034,834l12.1,-7.2v14.3zM1035,850l12.1,-7.2v14.3zM1035,838l12.1,-7.2v14.3zM1036,839l12.1,-7.2v14.3zM1036,839l12.1,-7.2v14.3zM1037,836l12.1,-7.2v14.3zM1037,839l12.1,-7.2v14.3zM1037,840l12.1,-7.2v14.3zM1038,832l12.1,-7.2v14.3zM1038,843l12.1,-7.2v14.3zM1039,842l12.1,-7.2v14.3zM1039,837l12.1,-7.2v14.3zM1040,832l12.1,-7.2v14.3zM1040,837l12.1,-7.2v14.3zM1041,833l12.1,-7.2v14.3zM1041,850l12.1,-7.2v14.3zM1042,847l12.1,-7.2v14.3zM1042,841l12.1,-7.2v14.3zM1043,838l12.1,-7.2v14.3zM1043,846l12.1,-7.2v14.3zM1044,844l12.1,-7.2v14.3zM1044,851l12.1,-7.2v14.3zM1045,828l12.1,-7.2v14.3zM1045,843l12.1,-7.2v14.3zM1046,831l12.1,-7.2v14.3zM1046,852l12.1,-7.2v14.3zM1047,828l12.1,-7.2v14.3zM1047,833l12.1,-7.2v14.3zM1047,834l12.1,-7.2v14.3zM1048,838l12.1,-7.2v14.3zM1048,838l12.1,-7.2v14.3zM1049,846l12.1,-7.2v14.3zM1049,840l12.1,-7.2v14.3zM1050,841l12.1,-7.2v14.3zM1050,842l12.1,-7.2v14.3zM1051,831l12.1,-7.2v14.3zM1051,848l12.1,-7.2v14.3zM1052,833l12.1,-7.2v14.3zM1052,845l12.1,-7.2v14.3zM1053,845l12.1,-7.2v14.3zM1053,834l12.1,-7.2v14.3zM1054,848l12.1,-7.2v14.3zM1054,845l12.1,-7.2v14.3zM1055,844l12.1,-7.2v14.3zM1055,843l12.1,-7.2v14.3zM1056,843l12.1,-7.2v14.3zM1056,846l12.1,-7.2v14.3zM1057,849l12.1,-7.2v14.3zM1057,829l12.1,-7.2v14.3zM1057,854l12.1,-7.2v14.3zM1058,844l12.1,-7.2v14.3zM1058,845l12.1,-7.2v14.3zM1059,839l12.1,-7.2v14.3zM1059,840l12.1,-7.2v14.3zM1060,846l12.1,-7.2v14.3zM1060,837l12.1,-7.2v14.3zM1061,835l12.1,-7.2v14.3zM1061,847l12.1,-7.2v14.3zM1062,844l12.1,-7.2v14.3zM1062,840l12.1,-7.2v14.3zM1063,855l12.1,-7.2v14.3zM1063,845l12.1,-7.2v14.3zM1064,846l12.1,-7.2v14.3zM1064,843l12.1,-7.2v14.3zM1065,844l12.1,-7.2v14.3zM1065,839l12.1,-7.2v14.3zM1066,853l12.1,-7.2v14.3zM1066,834l12.1,-7.2v14.3zM1067,840l12.1,-7.2v14.3zM1067,832l12.1,-7.2v14.3zM1067,842l12.1,-7.2v14.3zM1068,845l12.1,-7.2v14.3zM1068,845l12.1,-7.2v14.3zM1069,848l12.1,-7.2v14.3zM1069,840l12.1,-7.2v14.3zM1070,847l12.1,-7.2v14.3zM1070,840l12.1,-7.2v14.3zM1071,839l12.1,-7.2v14.3zM1071,844l12.1,-7.2v14.3zM1072,850l12.1,-7.2v14.3zM1072,831l12.1,-7.2v14.3zM1073,839l12.1,-7.2v14.3zM1073,839l12.1,-7.2v14.3zM1074,848l12.1,-7.2v14.3zM1074,842l12.1,-7.2v14.3zM1075,847l12.1,-7.2v14.3zM1075,853l12.1,-7.2v14.3zM1076,847l12.1,-7.2v14.3zM1076,846l12.1,-7.2v14.3zM1077,840l12.1,-7.2v14.3zM1077,836l12.1,-7.2v14.3zM1078,843l12.1,-7.2v14.3zM1078,856l12.1,-7.2v14.3zM1078,838l12.1,-7.2v14.3zM1079,845l12.1,-7.2v14.3zM1079,839l12.1,-7.2v14.3zM1080,849l12.1,-7.2v14.3zM1080,853l12.1,-7.2v14.3zM1081,838l12.1,-7.2v14.3zM1081,846l12.1,-7.2v14.3zM1082,844l12.1,-7.2v14.3zM1082,843l12.1,-7.2v14.3zM1083,839l12.1,-7.2v14.3zM1083,848l12.1,-7.2v14.3zM1084,848l12.1,-7.2v14.3zM1084,856l12.1,-7.2v14.3zM1085,842l12.1,-7.2v14.3zM1085,847l12.1,-7.2v14.3zM1086,842l12.1,-7.2v14.3zM1086,843l12.1,-7.2v14.3zM1087,860l12.1,-7.2v14.3zM1087,854l12.1,-7.2v14.3zM1088,845l12.1,-7.2v14.3zM1088,846l12.1,-7.2v14.3zM1088,848l12.1,-7.2v14.3zM1089,857l12.1,-7.2v14.3zM1089,854l12.1,-7.2v14.3zM1090,847l12.1,-7.2v14.3zM1090,840l12.1,-7.2v14.3zM1091,845l12.1,-7.2v14.3zM1091,858l12.1,-7.2v14.3zM1092,842l12.1,-7.2v14.3zM1092,846l12.1,-7.2v14.3zM1093,836l12.1,-7.2v14.3zM1093,851l12.1,-7.2v14.3zM1094,849l12.1,-7.2v14.3zM1094,859l12.1,-7.2v14.3zM1095,836l12.1,-7.2v14.3zM1095,841l12.1,-7.2v14.3zM1096,841l12.1,-7.2v14.3zM1096,853l12.1,-7.2v14.3zM1097,849l12.1,-7.2v14.3zM1097,840l12.1,-7.2v14.3zM1098,852l12.1,-7.2v14.3zM1098,835l12.1,-7.2v14.3zM1098,857l12.1,-7.2v14.3zM1099,855l12.1,-7.2v14.3zM1099,839l12.1,-7.2v14.3zM1100,843l12.1,-7.2v14.3zM1100,839l12.1,-7.2v14.3zM1101,850l12.1,-7.2v14.3zM1101,852l12.1,-7.2v14.3zM1102,844l12.1,-7.2v14.3zM1102,859l12.1,-7.2v14.3zM1103,847l12.1,-7.2v14.3zM1103,854l12.1,-7.2v14.3zM1104,852l12.1,-7.2v14.3zM1104,852l12.1,-7.2v14.3zM1105,852l12.1,-7.2v14.3zM1105,848l12.1,-7.2v14.3zM1106,845l12.1,-7.2v14.3zM1106,843l12.1,-7.2v14.3zM1107,848l12.1,-7.2v14.3zM1107,854l12.1,-7.2v14.3zM1108,861l12.1,-7.2v14.3zM1108,852l12.1,-7.2v14.3zM1108,849l12.1,-7.2v14.3zM1109,849l12.1,-7.2v14.3zM1109,850l12.1,-7.2v14.3zM1110,843l12.1,-7.2v14.3zM1110,844l12.1,-7.2v14.3zM1111,853l12.1,-7.2v14.3zM1111,857l12.1,-7.2v14.3zM1112,859l12.1,-7.2v14.3zM1112,855l12.1,-7.2v14.3zM1113,848l12.1,-7.2v14.3zM1113,858l12.1,-7.2v14.3zM1114,854l12.1,-7.2v14.3zM1114,850l12.1,-7.2v14.3zM1115,863l12.1,-7.2v14.3zM1115,852l12.1,-7.2v14.3zM1116,860l12.1,-7.2v14.3zM1116,850l12.1,-7.2v14.3zM1117,852l12.1,-7.2v14.3zM1117,853l12.1,-7.2v14.3zM1118,853l12.1,-7.2v14.3zM1118,852l12.1,-7.2v14.3zM1118,854l12.1,-7.2v14.3zM1119,860l12.1,-7.2v14.3zM1119,853l12.1,-7.2v14.3zM1120,848l12.1,-7.2v14.3zM1120,841l12.1,-7.2v14.3zM1121,857l12.1,-7.2v14.3zM1121,863l12.1,-7.2v14.3zM1122,846l12.1,-7.2v14.3zM1122,855l12.1,-7.2v14.3zM1123,864l12.1,-7.2v14.3zM1123,850l12.1,-7.2v14.3zM1124,851l12.1,-7.2v14.3zM1124,859l12.1,-7.2v14.3zM1125,850l12.1,-7.2v14.3zM1125,846l12.1,-7.2v14.3zM1126,852l12.1,-7.2v14.3zM1126,841l12.1,-7.2v14.3zM1127,847l12.1,-7.2v14.3zM1127,858l12.1,-7.2v14.3zM1128,851l12.1,-7.2v14.3zM1128,851l12.1,-7.2v14.3zM1128,853l12.1,-7.2v14.3zM1129,851l12.1,-7.2v14.3zM1129,849l12.1,-7.2v14.3zM1130,852l12.1,-7.2v14.3zM1130,845l12.1,-7.2v14.3zM1131,856l12.1,-7.2v14.3zM1131,853l12.1,-7.2v14.3zM1132,857l12.1,-7.2v14.3zM1132,851l12.1,-7.2v14.3zM1133,864l12.1,-7.2v14.3zM1133,854l12.1,-7.2v14.3zM1134,851l12.1,-7.2v14.3zM1134,860l12.1,-7.2v14.3zM1135,848l12.1,-7.2v14.3zM1135,863l12.1,-7.2v14.3zM1136,867l12.1,-7.2v14.3zM1136,848l12.1,-7.2v14.3zM1137,846l12.1,-7.2v14.3zM1137,857l12.1,-7.2v14.3zM1138,859l12.1,-7.2v14.3zM1138,859l12.1,-7.2v14.3zM1138,849l12.1,-7.2v14.3zM1139,847l12.1,-7.2v14.3zM1139,842l12.1,-7.2v14.3zM1140,857l12.1,-7.2v14.3zM1140,850l12.1,-7.2v14.3zM1141,842l12.1,-7.2v14.3zM1141,857l12.1,-7.2v14.3zM1142,860l12.1,-7.2v14.3zM1142,857l12.1,-7.2v14.3zM1143,852l12.1,-7.2v14.3zM1143,860l12.1,-7.2v14.3zM1144,843l12.1,-7.2v14.3zM1144,857l12.1,-7.2v14.3zM1145,859l12.1,-7.2v14.3zM1145,854l12.1,-7.2v14.3zM1146,850l12.1,-7.2v14.3zM1146,852l12.1,-7.2v14.3zM1147,864l12.1,-7.2v14.3zM1147,851l12.1,-7.2v14.3zM1148,843l12.1,-7.2v14.3zM1148,857l12.1,-7.2v14.3zM1148,846l12.1,-7.2v14.3zM1149,855l12.1,-7.2v14.3zM1149,852l12.1,-7.2v14.3zM1150,855l12.1,-7.2v14.3zM1150,848l12.1,-7.2v14.3zM1151,860l12.1,-7.2v14.3zM1151,860l12.1,-7.2v14.3zM1152,858l12.1,-7.2v14.3zM1152,858l12.1,-7.2v14.3zM1153,859l12.1,-7.2v14.3zM1153,854l12.1,-7.2v14.3zM1154,856l12.1,-7.2v14.3zM1154,860l12.1,-7.2v14.3zM1155,855l12.1,-7.2v14.3zM1155,849l12.1,-7.2v14.3zM1156,844l12.1,-7.2v14.3zM1156,859l12.1,-7.2v14.3zM1157,865l12.1,-7.2v14.3zM1157,858l12.1,-7.2v14.3zM1158,857l12.1,-7.2v14.3zM1158,852l12.1,-7.2v14.3zM1158,856l12.1,-7.2v14.3zM1159,862l12.1,-7.2v14.3zM1159,870l12.1,-7.2v14.3zM1160,862l12.1,-7.2v14.3zM1160,859l12.1,-7.2v14.3zM1161,867l12.1,-7.2v14.3zM1161,867l12.1,-7.2v14.3zM1162,844l12.1,-7.2v14.3zM1162,854l12.1,-7.2v14.3zM1163,846l12.1,-7.2v14.3zM1163,845l12.1,-7.2v14.3zM1164,859l12.1,-7.2v14.3zM1164,857l12.1,-7.2v14.3zM1165,857l12.1,-7.2v14.3zM1165,863l12.1,-7.2v14.3zM1166,858l12.1,-7.2v14.3zM1166,860l12.1,-7.2v14.3zM1167,861l12.1,-7.2v14.3zM1167,853l12.1,-7.2v14.3zM1168,873l12.1,-7.2v14.3zM1168,865l12.1,-7.2v14.3zM1168,858l12.1,-7.2v14.3zM1169,862l12.1,-7.2v14.3zM1169,855l12.1,-7.2v14.3zM1170,861l12.1,-7.2v14.3zM1170,862l12.1,-7.2v14.3zM1171,854l12.1,-7.2v14.3zM1171,854l12.1,-7.2v14.3zM1172,873l12.1,-7.2v14.3zM1172,854l12.1,-7.2v14.3zM1173,868l12.1,-7.2v14.3zM1173,854l12.1,-7.2v14.3zM1174,856l12.1,-7.2v14.3zM1174,864l12.1,-7.2v14.3zM1175,850l12.1,-7.2v14.3zM1175,872l12.1,-7.2v14.3zM1176,865l12.1,-7.2v14.3zM1176,859l12.1,-7.2v14.3zM1177,873l12.1,-7.2v14.3zM1177,855l12.1,-7.2v14.3zM1178,870l12.1,-7.2v14.3zM1178,861l12.1,-7.2v14.3zM1178,864l12.1,-7.2v14.3zM1179,859l12.1,-7.2v14.3zM1179,856l12.1,-7.2v14.3zM1180,857l12.1,-7.2v14.3zM1180,867l12.1,-7.2v14.3zM1181,860l12.1,-7.2v14.3zM1181,857l12.1,-7.2v14.3zM1182,855l12.1,-7.2v14.3zM1182,847l12.1,-7.2v14.3zM1183,869l12.1,-7.2v14.3zM1183,861l12.1,-7.2v14.3zM1184,850l12.1,-7.2v14.3zM1184,858l12.1,-7.2v14.3zM1185,861l12.1,-7.2v14.3zM1185,856l12.1,-7.2v14.3zM1186,858l12.1,-7.2v14.3zM1186,859l12.1,-7.2v14.3zM1187,863l12.1,-7.2v14.3zM1187,860l12.1,-7.2v14.3zM1188,866l12.1,-7.2v14.3zM1188,867l12.1,-7.2v14.3zM1188,862l12.1,-7.2v14.3zM1189,862l12.1,-7.2v14.3zM1189,859l12.1,-7.2v14.3zM1190,867l12.1,-7.2v14.3zM1190,873l12.1,-7.2v14.3zM1191,864l12.1,-7.2v14.3zM1191,865l12.1,-7.2v14.3zM1192,869l12.1,-7.2v14.3zM1192,856l12.1,-7.2v14.3zM1193,860l12.1,-7.2v14.3zM1193,868l12.1,-7.2v14.3zM1194,863l12.1,-7.2v14.3zM1194,869l12.1,-7.2v14.3zM1195,862l12.1,-7.2v14.3zM1195,874l12.1,-7.2v14.3zM1196,867l12.1,-7.2v14.3zM1196,858l12.1,-7.2v14.3zM1197,853l12.1,-7.2v14.3zM1197,869l12.1,-7.2v14.3zM1198,859l12.1,-7.2v14.3zM1198,859l12.1,-7.2v14.3zM1199,855l12.1,-7.2v14.3zM1199,851l12.1,-7.2v14.3zM1199,869l12.1,-7.2v14.3zM1200,858l12.1,-7.2v14.3zM1200,861l12.1,-7.2v14.3zM1201,855l12.1,-7.2v14.3zM1201,855l12.1,-7.2v14.3zM1202,861l12.1,-7.2v14.3zM1202,859l12.1,-7.2v14.3zM1203,869l12.1,-7.2v14.3zM1203,867l12.1,-7.2v14.3zM1204,865l12.1,-7.2v14.3zM1204,874l12.1,-7.2v14.3zM1205,864l12.1,-7.2v14.3zM1205,857l12.1,-7.2v14.3zM1206,869l12.1,-7.2v14.3zM1206,874l12.1,-7.2v14.3zM1207,860l12.1,-7.2v14.3zM1207,872l12.1,-7.2v14.3zM1208,866l12.1,-7.2v14.3zM1208,862l12.1,-7.2v14.3zM1209,851l12.1,-7.2v14.3zM1209,858l12.1,-7.2v14.3zM1209,856l12.1,-7.2v14.3zM1210,869l12.1,-7.2v14.3zM1210,856l12.1,-7.2v14.3zM1211,869l12.1,-7.2v14.3zM1211,870l12.1,-7.2v14.3zM1212,861l12.1,-7.2v14.3zM1212,859l12.1,-7.2v14.3zM1213,856l12.1,-7.2v14.3zM1213,863l12.1,-7.2v14.3zM1214,860l12.1,-7.2v14.3zM1214,861l12.1,-7.2v14.3zM1215,859l12.1,-7.2v14.3zM1215,862l12.1,-7.2v14.3zM1216,874l12.1,-7.2v14.3zM1216,862l12.1,-7.2v14.3zM1217,857l12.1,-7.2v14.3zM1217,856l12.1,-7.2v14.3zM1218,865l12.1,-7.2v14.3zM1218,859l12.1,-7.2v14.3zM1219,863l12.1,-7.2v14.3zM1219,862l12.1,-7.2v14.3zM1219,857l12.1,-7.2v14.3zM1220,849l12.1,-7.2v14.3zM1220,861l12.1,-7.2v14.3zM1221,847l12.1,-7.2v14.3zM1221,868l12.1,-7.2v14.3zM1222,853l12.1,-7.2v14.3zM1222,858l12.1,-7.2v14.3zM1223,860l12.1,-7.2v14.3zM1223,855l12.1,-7.2v14.3zM1224,869l12.1,-7.2v14.3zM1224,856l12.1,-7.2v14.3zM1225,863l12.1,-7.2v14.3zM1225,864l12.1,-7.2v14.3zM1226,872l12.1,-7.2v14.3zM1226,868l12.1,-7.2v14.3zM1227,872l12.1,-7.2v14.3zM1227,867l12.1,-7.2v14.3zM1228,849l12.1,-7.2v14.3zM1228,865l12.1,-7.2v14.3zM1229,860l12.1,-7.2v14.3zM1229,863l12.1,-7.2v14.3zM1229,863l12.1,-7.2v14.3zM1230,870l12.1,-7.2v14.3zM1230,850l12.1,-7.2v14.3zM1231,865l12.1,-7.2v14.3zM1231,861l12.1,-7.2v14.3zM1232,853l12.1,-7.2v14.3zM1232,860l12.1,-7.2v14.3zM1233,864l12.1,-7.2v14.3zM1233,861l12.1,-7.2v14.3zM1234,862l12.1,-7.2v14.3zM1234,858l12.1,-7.2v14.3zM1235,864l12.1,-7.2v14.3zM1235,861l12.1,-7.2v14.3zM1236,855l12.1,-7.2v14.3zM1236,873l12.1,-7.2v14.3zM1237,853l12.1,-7.2v14.3zM1237,870l12.1,-7.2v14.3zM1238,857l12.1,-7.2v14.3zM1238,856l12.1,-7.2v14.3zM1239,865l12.1,-7.2v14.3zM1239,856l12.1,-7.2v14.3zM1239,853l12.1,-7.2v14.3zM1240,857l12.1,-7.2v14.3zM1240,868l12.1,-7.2v14.3zM1241,852l12.1,-7.2v14.3zM1241,873l12.1,-7.2v14.3zM1242,868l12.1,-7.2v14.3zM1242,868l12.1,-7.2v14.3zM1243,865l12.1,-7.2v14.3zM1243,856l12.1,-7.2v14.3zM1244,859l12.1,-7.2v14.3zM1244,865l12.1,-7.2v14.3zM1245,867l12.1,-7.2v14.3zM1245,867l12.1,-7.2v14.3zM1246,862l12.1,-7.2v14.3zM1246,860l12.1,-7.2v14.3zM1247,875l12.1,-7.2v14.3zM1247,855l12.1,-7.2v14.3zM1248,863l12.1,-7.2v14.3zM1248,855l12.1,-7.2v14.3zM1249,870l12.1,-7.2v14.3zM1249,859l12.1,-7.2v14.3zM1249,866l12.1,-7.2v14.3zM1250,872l12.1,-7.2v14.3zM1250,849l12.1,-7.2v14.3zM1251,855l12.1,-7.2v14.3zM1251,849l12.1,-7.2v14.3zM1252,853l12.1,-7.2v14.3zM1252,853l12.1,-7.2v14.3zM1253,856l12.1,-7.2v14.3zM1253,870l12.1,-7.2v14.3zM1254,861l12.1,-7.2v14.3zM1254,864l12.1,-7.2v14.3zM1255,872l12.1,-7.2v14.3zM1255,863l12.1,-7.2v14.3zM1256,861l12.1,-7.2v14.3zM1256,870l12.1,-7.2v14.3zM1257,864l12.1,-7.2v14.3zM1257,856l12.1,-7.2v14.3zM1258,849l12.1,-7.2v14.3zM1258,857l12.1,-7.2v14.3zM1259,863l12.1,-7.2v14.3zM1259,857l12.1,-7.2v14.3zM1259,867l12.1,-7.2v14.3zM1260,874l12.1,-7.2v14.3zM1260,869l12.1,-7.2v14.3zM1261,849l12.1,-7.2v14.3zM1261,860l12.1,-7.2v14.3zM1262,856l12.1,-7.2v14.3zM1262,870l12.1,-7.2v14.3zM1263,867l12.1,-7.2v14.3zM1263,863l12.1,-7.2v14.3zM1264,863l12.1,-7.2v14.3zM1264,861l12.1,-7.2v14.3zM1265,855l12.1,-7.2v14.3zM1265,863l12.1,-7.2v14.3zM1266,857l12.1,-7.2v14.3zM1266,861l12.1,-7.2v14.3zM1267,872l12.1,-7.2v14.3zM1267,862l12.1,-7.2v14.3zM1268,870l12.1,-7.2v14.3zM1268,866l12.1,-7.2v14.3zM1269,858l12.1,-7.2v14.3zM1269,870l12.1,-7.2v14.3zM1269,862l12.1,-7.2v14.3zM1270,868l12.1,-7.2v14.3zM1270,864l12.1,-7.2v14.3zM1271,874l12.1,-7.2v14.3zM1271,869l12.1,-7.2v14.3zM1272,865l12.1,-7.2v14.3zM1272,859l12.1,-7.2v14.3zM1273,881l12.1,-7.2v14.3zM1273,864l12.1,-7.2v14.3zM1274,867l12.1,-7.2v14.3zM1274,866l12.1,-7.2v14.3zM1275,863l12.1,-7.2v14.3zM1275,855l12.1,-7.2v14.3zM1276,862l12.1,-7.2v14.3zM1276,858l12.1,-7.2v14.3zM1277,874l12.1,-7.2v14.3zM1277,883l12.1,-7.2v14.3zM1278,860l12.1,-7.2v14.3zM1278,867l12.1,-7.2v14.3zM1279,873l12.1,-7.2v14.3zM1279,858l12.1,-7.2v14.3zM1279,860l12.1,-7.2v14.3zM1280,860l12.1,-7.2v14.3zM1280,879l12.1,-7.2v14.3zM1281,872l12.1,-7.2v14.3zM1281,859l12.1,-7.2v14.3zM1282,867l12.1,-7.2v14.3zM1282,867l12.1,-7.2v14.3zM1283,867l12.1,-7.2v14.3zM1283,849l12.1,-7.2v14.3zM1284,866l12.1,-7.2v14.3zM1284,869l12.1,-7.2v14.3zM1285,872l12.1,-7.2v14.3zM1285,868l12.1,-7.2v14.3zM1286,862l12.1,-7.2v14.3zM1286,863l12.1,-7.2v14.3zM1287,875l12.1,-7.2v14.3zM1287,886l12.1,-7.2v14.3zM1288,859l12.1,-7.2v14.3zM1288,877l12.1,-7.2v14.3zM1289,878l12.1,-7.2v14.3zM1289,866l12.1,-7.2v14.3zM1289,846l12.1,-7.2v14.3zM1290,872l12.1,-7.2v14.3zM1290,862l12.1,-7.2v14.3zM1291,861l12.1,-7.2v14.3zM1291,872l12.1,-7.2v14.3zM1292,858l12.1,-7.2v14.3zM1292,857l12.1,-7.2v14.3zM1293,877l12.1,-7.2v14.3zM1293,878l12.1,-7.2v14.3zM1294,879l12.1,-7.2v14.3zM1294,873l12.1,-7.2v14.3zM1295,869l12.1,-7.2v14.3zM1295,875l12.1,-7.2v14.3zM1296,881l12.1,-7.2v14.3zM1296,886l12.1,-7.2v14.3zM1297,876l12.1,-7.2v14.3zM1297,879l12.1,-7.2v14.3zM1298,866l12.1,-7.2v14.3zM1298,882l12.1,-7.2v14.3zM1299,890l12.1,-7.2v14.3zM1299,890l12.1,-7.2v14.3zM1299,872l12.1,-7.2v14.3zM1300,851l12.1,-7.2v14.3zM1300,861l12.1,-7.2v14.3zM1301,874l12.1,-7.2v14.3zM1301,858l12.1,-7.2v14.3zM1302,862l12.1,-7.2v14.3zM1302,891l12.1,-7.2v14.3zM1303,854l12.1,-7.2v14.3zM1303,854l12.1,-7.2v14.3zM1304,870l12.1,-7.2v14.3zM1304,870l12.1,-7.2v14.3zM1305,893l12.1,-7.2v14.3zM1305,875l12.1,-7.2v14.3zM1306,877l12.1,-7.2v14.3zM1306,875l12.1,-7.2v14.3zM1307,854l12.1,-7.2v14.3zM1307,849l12.1,-7.2v14.3zM1308,853l12.1,-7.2v14.3zM1308,868l12.1,-7.2v14.3zM1309,851l12.1,-7.2v14.3zM1309,880l12.1,-7.2v14.3zM1309,870l12.1,-7.2v14.3zM1310,877l12.1,-7.2v14.3zM1310,878l12.1,-7.2v14.3zM1311,872l12.1,-7.2v14.3zM1311,850l12.1,-7.2v14.3zM1312,860l12.1,-7.2v14.3zM1312,872l12.1,-7.2v14.3zM1313,852l12.1,-7.2v14.3zM1313,867l12.1,-7.2v14.3zM1314,855l12.1,-7.2v14.3zM1314,877l12.1,-7.2v14.3zM1315,875l12.1,-7.2v14.3zM1315,871l12.1,-7.2v14.3zM1316,876l12.1,-7.2v14.3zM1316,882l12.1,-7.2v14.3zM1317,871l12.1,-7.2v14.3zM1317,874l12.1,-7.2v14.3zM1318,882l12.1,-7.2v14.3zM1318,874l12.1,-7.2v14.3zM1319,872l12.1,-7.2v14.3zM1319,869l12.1,-7.2v14.3zM1320,866l12.1,-7.2v14.3zM1320,862l12.1,-7.2v14.3zM1320,878l12.1,-7.2v14.3zM1321,874l12.1,-7.2v14.3zM1321,867l12.1,-7.2v14.3zM1322,884l12.1,-7.2v14.3zM1322,886l12.1,-7.2v14.3zM1323,873l12.1,-7.2v14.3zM1323,862l12.1,-7.2v14.3zM1324,876l12.1,-7.2v14.3zM1324,872l12.1,-7.2v14.3zM1325,879l12.1,-7.2v14.3zM1325,873l12.1,-7.2v14.3zM1326,885l12.1,-7.2v14.3zM1326,859l12.1,-7.2v14.3zM1327,872l12.1,-7.2v14.3zM1327,869l12.1,-7.2v14.3zM1328,877l12.1,-7.2v14.3zM1328,865l12.1,-7.2v14.3zM1329,864l12.1,-7.2v14.3zM1329,857l12.1,-7.2v14.3zM1330,873l12.1,-7.2v14.3zM1330,894l12.1,-7.2v14.3zM1330,893l12.1,-7.2v14.3zM1331,868l12.1,-7.2v14.3zM1331,873l12.1,-7.2v14.3zM1332,877l12.1,-7.2v14.3zM1332,854l12.1,-7.2v14.3zM1333,881l12.1,-7.2v14.3zM1333,889l12.1,-7.2v14.3zM1334,872l12.1,-7.2v14.3zM1334,852l12.1,-7.2v14.3zM1335,856l12.1,-7.2v14.3zM1335,880l12.1,-7.2v14.3zM1336,869l12.1,-7.2v14.3zM1336,872l12.1,-7.2v14.3zM1337,881l12.1,-7.2v14.3zM1337,874l12.1,-7.2v14.3zM1338,870l12.1,-7.2v14.3zM1338,870l12.1,-7.2v14.3zM1339,853l12.1,-7.2v14.3zM1339,888l12.1,-7.2v14.3zM1340,889l12.1,-7.2v14.3zM1340,869l12.1,-7.2v14.3zM1340,879l12.1,-7.2v14.3zM1341,865l12.1,-7.2v14.3zM1341,882l12.1,-7.2v14.3zM1342,874l12.1,-7.2v14.3zM1342,869l12.1,-7.2v14.3zM1343,868l12.1,-7.2v14.3zM1343,887l12.1,-7.2v14.3zM1344,875l12.1,-7.2v14.3zM1344,881l12.1,-7.2v14.3zM1345,866l12.1,-7.2v14.3zM1345,899l12.1,-7.2v14.3zM1346,880l12.1,-7.2v14.3zM1346,861l12.1,-7.2v14.3zM1347,891l12.1,-7.2v14.3zM1347,863l12.1,-7.2v14.3zM1348,889l12.1,-7.2v14.3zM1348,888l12.1,-7.2v14.3zM1349,898l12.1,-7.2v14.3zM1349,873l12.1,-7.2v14.3zM1350,859l12.1,-7.2v14.3zM1350,882l12.1,-7.2v14.3zM1350,886l12.1,-7.2v14.3zM1351,880l12.1,-7.2v14.3zM1351,878l12.1,-7.2v14.3zM1352,896l12.1,-7.2v14.3zM1352,889l12.1,-7.2v14.3zM1353,867l12.1,-7.2v14.3zM1353,881l12.1,-7.2v14.3zM1354,863l12.1,-7.2v14.3zM1354,874l12.1,-7.2v14.3zM1355,857l12.1,-7.2v14.3zM1355,867l12.1,-7.2v14.3zM1356,864l12.1,-7.2v14.3zM1356,856l12.1,-7.2v14.3zM1357,876l12.1,-7.2v14.3zM1357,880l12.1,-7.2v14.3zM1358,870l12.1,-7.2v14.3zM1358,860l12.1,-7.2v14.3zM1359,894l12.1,-7.2v14.3zM1359,875l12.1,-7.2v14.3zM1360,872l12.1,-7.2v14.3zM1360,871l12.1,-7.2v14.3zM1360,888l12.1,-7.2v14.3zM1361,865l12.1,-7.2v14.3zM1361,877l12.1,-7.2v14.3zM1362,862l12.1,-7.2v14.3zM1362,889l12.1,-7.2v14.3zM1363,867l12.1,-7.2v14.3zM1363,866l12.1,-7.2v14.3zM1364,883l12.1,-7.2v14.3zM1364,882l12.1,-7.2v14.3zM1365,887l12.1,-7.2v14.3zM1365,885l12.1,-7.2v14.3zM1366,899l12.1,-7.2v14.3zM1366,868l12.1,-7.2v14.3zM1367,883l12.1,-7.2v14.3zM1367,886l12.1,-7.2v14.3zM1368,882l12.1,-7.2v14.3zM1368,894l12.1,-7.2v14.3zM1369,889l12.1,-7.2v14.3zM1369,883l12.1,-7.2v14.3zM1370,893l12.1,-7.2v14.3zM1370,872l12.1,-7.2v14.3zM1370,881l12.1,-7.2v14.3zM1371,872l12.1,-7.2v14.3zM1371,893l12.1,-7.2v14.3zM1372,870l12.1,-7.2v14.3zM1372,869l12.1,-7.2v14.3zM1373,883l12.1,-7.2v14.3zM1373,879l12.1,-7.2v14.3zM1374,866l12.1,-7.2v14.3zM1374,879l12.1,-7.2v14.3zM1375,893l12.1,-7.2v14.3zM1375,879l12.1,-7.2v14.3zM1376,864l12.1,-7.2v14.3zM1376,876l12.1,-7.2v14.3zM1377,866l12.1,-7.2v14.3zM1377,868l12.1,-7.2v14.3zM1378,888l12.1,-7.2v14.3zM1378,884l12.1,-7.2v14.3zM1379,894l12.1,-7.2v14.3zM1379,870l12.1,-7.2v14.3zM1380,876l12.1,-7.2v14.3zM1380,866l12.1,-7.2v14.3zM1380,889l12.1,-7.2v14.3zM1381,868l12.1,-7.2v14.3zM1381,868l12.1,-7.2v14.3zM1382,866l12.1,-7.2v14.3zM1382,886l12.1,-7.2v14.3zM1383,883l12.1,-7.2v14.3zM1383,881l12.1,-7.2v14.3zM1384,894l12.1,-7.2v14.3zM1384,881l12.1,-7.2v14.3zM1385,871l12.1,-7.2v14.3zM1385,904l12.1,-7.2v14.3zM1386,873l12.1,-7.2v14.3zM1386,873l12.1,-7.2v14.3zM1387,895l12.1,-7.2v14.3zM1387,881l12.1,-7.2v14.3zM1388,884l12.1,-7.2v14.3zM1388,863l12.1,-7.2v14.3zM1389,872l12.1,-7.2v14.3zM1389,870l12.1,-7.2v14.3zM1390,885l12.1,-7.2v14.3zM1390,877l12.1,-7.2v14.3zM1390,886l12.1,-7.2v14.3zM1391,872l12.1,-7.2v14.3zM1391,878l12.1,-7.2v14.3zM1392,885l12.1,-7.2v14.3zM1392,867l12.1,-7.2v14.3zM1393,870l12.1,-7.2v14.3zM1393,893l12.1,-7.2v14.3zM1394,875l12.1,-7.2v14.3zM1394,905l12.1,-7.2v14.3zM1395,890l12.1,-7.2v14.3zM1395,889l12.1,-7.2v14.3zM1396,880l12.1,-7.2v14.3zM1396,886l12.1,-7.2v14.3zM1397,882l12.1,-7.2v14.3zM1397,865l12.1,-7.2v14.3zM1398,875l12.1,-7.2v14.3zM1398,877l12.1,-7.2v14.3zM1399,891l12.1,-7.2v14.3zM1399,879l12.1,-7.2v14.3zM1400,856l12.1,-7.2v14.3zM1400,884l12.1,-7.2v14.3zM1400,878l12.1,-7.2v14.3zM1401,888l12.1,-7.2v14.3zM1401,884l12.1,-7.2v14.3zM1402,866l12.1,-7.2v14.3zM1402,864l12.1,-7.2v14.3zM1403,873l12.1,-7.2v14.3zM1403,870l12.1,-7.2v14.3zM1404,880l12.1,-7.2v14.3zM1404,874l12.1,-7.2v14.3zM1405,879l12.1,-7.2v14.3zM1405,888l12.1,-7.2v14.3zM1406,878l12.1,-7.2v14.3zM1406,876l12.1,-7.2v14.3zM1407,888l12.1,-7.2v14.3zM1407,893l12.1,-7.2v14.3zM1408,889l12.1,-7.2v14.3zM1408,864l12.1,-7.2v14.3zM1409,884l12.1,-7.2v14.3zM1409,879l12.1,-7.2v14.3zM1410,893l12.1,-7.2v14.3zM1410,857l12.1,-7.2v14.3zM1410,881l12.1,-7.2v14.3zM1411,883l12.1,-7.2v14.3zM1411,887l12.1,-7.2v14.3zM1412,878l12.1,-7.2v14.3zM1412,878l12.1,-7.2v14.3zM1413,883l12.1,-7.2v14.3zM1413,865l12.1,-7.2v14.3zM1414,884l12.1,-7.2v14.3zM1414,863l12.1,-7.2v14.3zM1415,872l12.1,-7.2v14.3zM1415,892l12.1,-7.2v14.3zM1416,887l12.1,-7.2v14.3zM1416,888l12.1,-7.2v14.3zM1417,896l12.1,-7.2v14.3zM1417,888l12.1,-7.2v14.3zM1418,887l12.1,-7.2v14.3zM1418,874l12.1,-7.2v14.3zM1419,875l12.1,-7.2v14.3zM1419,900l12.1,-7.2v14.3zM1420,874l12.1,-7.2v14.3zM1420,895l12.1,-7.2v14.3zM1420,888l12.1,-7.2v14.3zM1421,903l12.1,-7.2v14.3zM1421,875l12.1,-7.2v14.3zM1422,897l12.1,-7.2v14.3zM1422,877l12.1,-7.2v14.3zM1423,880l12.1,-7.2v14.3zM1423,905l12.1,-7.2v14.3zM1424,904l12.1,-7.2v14.3zM1424,887l12.1,-7.2v14.3zM1425,901l12.1,-7.2v14.3zM1425,891l12.1,-7.2v14.3zM1426,883l12.1,-7.2v14.3zM1426,896l12.1,-7.2v14.3zM1427,869l12.1,-7.2v14.3zM1427,870l12.1,-7.2v14.3zM1428,858l12.1,-7.2v14.3zM1428,887l12.1,-7.2v14.3zM1429,875l12.1,-7.2v14.3zM1429,879l12.1,-7.2v14.3zM1430,885l12.1,-7.2v14.3zM1430,884l12.1,-7.2v14.3zM1430,892l12.1,-7.2v14.3zM1431,884l12.1,-7.2v14.3zM1431,899l12.1,-7.2v14.3zM1432,864l12.1,-7.2v14.3zM1432,896l12.1,-7.2v14.3zM1433,897l12.1,-7.2v14.3zM1433,881l12.1,-7.2v14.3zM1434,903l12.1,-7.2v14.3zM1434,882l12.1,-7.2v14.3zM1435,909l12.1,-7.2v14.3zM1435,901l12.1,-7.2v14.3zM1436,891l12.1,-7.2v14.3zM1436,886l12.1,-7.2v14.3zM1437,892l12.1,-7.2v14.3zM1437,889l12.1,-7.2v14.3zM1438,886l12.1,-7.2v14.3zM1438,890l12.1,-7.2v14.3zM1439,901l12.1,-7.2v14.3zM1439,884l12.1,-7.2v14.3zM1440,876l12.1,-7.2v14.3zM1440,910l12.1,-7.2v14.3zM1441,888l12.1,-7.2v14.3zM1441,894l12.1,-7.2v14.3zM1441,885l12.1,-7.2v14.3zM1442,879l12.1,-7.2v14.3zM1442,898l12.1,-7.2v14.3zM1443,900l12.1,-7.2v14.3zM1443,881l12.1,-7.2v14.3zM1444,878l12.1,-7.2v14.3zM1444,888l12.1,-7.2v14.3zM1445,890l12.1,-7.2v14.3zM1445,881l12.1,-7.2v14.3zM1446,898l12.1,-7.2v14.3zM1446,889l12.1,-7.2v14.3zM1447,876l12.1,-7.2v14.3zM1447,885l12.1,-7.2v14.3zM1448,888l12.1,-7.2v14.3zM1448,888l12.1,-7.2v14.3zM1449,881l12.1,-7.2v14.3zM1449,894l12.1,-7.2v14.3zM1450,876l12.1,-7.2v14.3zM1450,892l12.1,-7.2v14.3zM1451,886l12.1,-7.2v14.3zM1451,876l12.1,-7.2v14.3zM1451,878l12.1,-7.2v14.3zM1452,869l12.1,-7.2v14.3zM1452,868l12.1,-7.2v14.3zM1453,868l12.1,-7.2v14.3zM1453,889l12.1,-7.2v14.3zM1454,885l12.1,-7.2v14.3zM1454,873l12.1,-7.2v14.3zM1455,879l12.1,-7.2v14.3zM1455,873l12.1,-7.2v14.3zM1456,896l12.1,-7.2v14.3zM1456,876l12.1,-7.2v14.3zM1457,887l12.1,-7.2v14.3zM1457,891l12.1,-7.2v14.3zM1458,893l12.1,-7.2v14.3zM1458,899l12.1,-7.2v14.3zM1459,884l12.1,-7.2v14.3zM1459,868l12.1,-7.2v14.3zM1460,893l12.1,-7.2v14.3zM1460,893l12.1,-7.2v14.3zM1461,867l12.1,-7.2v14.3zM1461,885l12.1,-7.2v14.3zM1461,890l12.1,-7.2v14.3zM1462,882l12.1,-7.2v14.3zM1462,886l12.1,-7.2v14.3zM1463,871l12.1,-7.2v14.3zM1463,876l12.1,-7.2v14.3zM1464,874l12.1,-7.2v14.3zM1464,905l12.1,-7.2v14.3zM1465,887l12.1,-7.2v14.3zM1465,883l12.1,-7.2v14.3zM1466,877l12.1,-7.2v14.3zM1466,888l12.1,-7.2v14.3zM1467,889l12.1,-7.2v14.3zM1467,885l12.1,-7.2v14.3zM1468,875l12.1,-7.2v14.3zM1468,877l12.1,-7.2v14.3zM1469,871l12.1,-7.2v14.3zM1469,868l12.1,-7.2v14.3zM1470,891l12.1,-7.2v14.3zM1470,881l12.1,-7.2v14.3zM1471,893l12.1,-7.2v14.3zM1471,886l12.1,-7.2v14.3zM1471,885l12.1,-7.2v14.3zM1472,884l12.1,-7.2v14.3zM1472,888l12.1,-7.2v14.3zM1473,909l12.1,-7.2v14.3zM1473,895l12.1,-7.2v14.3zM1474,880l12.1,-7.2v14.3zM1474,901l12.1,-7.2v14.3zM1475,884l12.1,-7.2v14.3zM1475,874l12.1,-7.2v14.3zM1476,867l12.1,-7.2v14.3zM1476,869l12.1,-7.2v14.3zM1477,895l12.1,-7.2v14.3zM1477,896l12.1,-7.2v14.3zM1478,877l12.1,-7.2v14.3zM1478,886l12.1,-7.2v14.3zM1479,874l12.1,-7.2v14.3zM1479,887l12.1,-7.2v14.3zM1480,899l12.1,-7.2v14.3zM1480,893l12.1,-7.2v14.3zM1481,884l12.1,-7.2v14.3zM1481,879l12.1,-7.2v14.3zM1481,890l12.1,-7.2v14.3zM1482,893l12.1,-7.2v14.3zM1482,884l12.1,-7.2v14.3zM1483,887l12.1,-7.2v14.3zM1483,898l12.1,-7.2v14.3zM1484,890l12.1,-7.2v14.3zM1484,875l12.1,-7.2v14.3zM1485,902l12.1,-7.2v14.3zM1485,888l12.1,-7.2v14.3zM1486,869l12.1,-7.2v14.3zM1486,901l12.1,-7.2v14.3zM1487,905l12.1,-7.2v14.3zM1487,893l12.1,-7.2v14.3zM1488,883l12.1,-7.2v14.3zM1488,878l12.1,-7.2v14.3zM1489,884l12.1,-7.2v14.3zM1489,868l12.1,-7.2v14.3zM1490,895l12.1,-7.2v14.3zM1490,895l12.1,-7.2v14.3zM1491,878l12.1,-7.2v14.3zM1491,908l12.1,-7.2v14.3zM1491,899l12.1,-7.2v14.3zM1492,906l12.1,-7.2v14.3zM1492,896l12.1,-7.2v14.3zM1493,903l12.1,-7.2v14.3zM1493,894l12.1,-7.2v14.3zM1494,879l12.1,-7.2v14.3zM1494,891l12.1,-7.2v14.3zM1495,876l12.1,-7.2v14.3zM1495,880l12.1,-7.2v14.3zM1496,889l12.1,-7.2v14.3zM1496,878l12.1,-7.2v14.3zM1497,875l12.1,-7.2v14.3zM1497,897l12.1,-7.2v14.3zM1498,888l12.1,-7.2v14.3zM1498,889l12.1,-7.2v14.3zM1499,892l12.1,-7.2v14.3zM1499,876l12.1,-7.2v14.3zM1500,892l12.1,-7.2v14.3zM1500,881l12.1,-7.2v14.3zM1501,895l12.1,-7.2v14.3zM1501,894l12.1,-7.2v14.3zM1501,891l12.1,-7.2v14.3zM1502,907l12.1,-7.2v14.3zM1502,892l12.1,-7.2v14.3zM1503,896l12.1,-7.2v14.3zM1503,892l12.1,-7.2v14.3zM1504,894l12.1,-7.2v14.3zM1504,904l12.1,-7.2v14.3zM1505,912l12.1,-7.2v14.3zM1505,894l12.1,-7.2v14.3zM1506,889l12.1,-7.2v14.3zM1506,888l12.1,-7.2v14.3zM1507,890l12.1,-7.2v14.3zM1507,904l12.1,-7.2v14.3zM1508,885l12.1,-7.2v14.3zM1508,878l12.1,-7.2v14.3zM1509,869l12.1,-7.2v14.3zM1509,888l12.1,-7.2v14.3zM1510,891l12.1,-7.2v14.3zM1510,888l12.1,-7.2v14.3zM1511,889l12.1,-7.2v14.3zM1511,891l12.1,-7.2v14.3zM1511,883l12.1,-7.2v14.3zM1512,891l12.1,-7.2v14.3zM1512,881l12.1,-7.2v14.3zM1513,888l12.1,-7.2v14.3zM1513,913l12.1,-7.2v14.3zM1514,896l12.1,-7.2v14.3zM1514,893l12.1,-7.2v14.3zM1515,890l12.1,-7.2v14.3zM1515,892l12.1,-7.2v14.3zM1516,905l12.1,-7.2v14.3zM1516,884l12.1,-7.2v14.3zM1517,892l12.1,-7.2v14.3zM1517,889l12.1,-7.2v14.3zM1518,903l12.1,-7.2v14.3zM1518,897l12.1,-7.2v14.3zM1519,885l12.1,-7.2v14.3zM1519,873l12.1,-7.2v14.3zM1520,899l12.1,-7.2v14.3zM1520,905l12.1,-7.2v14.3zM1521,886l12.1,-7.2v14.3zM1521,906l12.1,-7.2v14.3zM1521,877l12.1,-7.2v14.3zM1522,878l12.1,-7.2v14.3zM1522,874l12.1,-7.2v14.3zM1523,898l12.1,-7.2v14.3zM1523,888l12.1,-7.2v14.3zM1524,899l12.1,-7.2v14.3zM1524,871l12.1,-7.2v14.3zM1525,898l12.1,-7.2v14.3zM1525,893l12.1,-7.2v14.3zM1526,908l12.1,-7.2v14.3zM1526,897l12.1,-7.2v14.3zM1527,878l12.1,-7.2v14.3zM1527,909l12.1,-7.2v14.3zM1528,893l12.1,-7.2v14.3zM1528,905l12.1,-7.2v14.3zM1529,883l12.1,-7.2v14.3zM1529,896l12.1,-7.2v14.3zM1530,902l12.1,-7.2v14.3zM1530,903l12.1,-7.2v14.3zM1531,901l12.1,-7.2v14.3zM1531,881l12.1,-7.2v14.3zM1531,890l12.1,-7.2v14.3zM1532,883l12.1,-7.2v14.3zM1532,896l12.1,-7.2v14.3zM1533,875l12.1,-7.2v14.3zM1533,909l12.1,-7.2v14.3zM1534,885l12.1,-7.2v14.3zM1534,901l12.1,-7.2v14.3zM1535,883l12.1,-7.2v14.3zM1535,915l12.1,-7.2v14.3zM1536,911l12.1,-7.2v14.3zM1536,876l12.1,-7.2v14.3zM1537,877l12.1,-7.2v14.3zM1537,897l12.1,-7.2v14.3zM1538,877l12.1,-7.2v14.3zM1538,892l12.1,-7.2v14.3zM1539,903l12.1,-7.2v14.3zM1539,884l12.1,-7.2v14.3zM1540,888l12.1,-7.2v14.3zM1540,889l12.1,-7.2v14.3zM1541,894l12.1,-7.2v14.3zM1541,903l12.1,-7.2v14.3zM1541,900l12.1,-7.2v14.3zM1542,881l12.1,-7.2v14.3zM1542,882l12.1,-7.2v14.3zM1543,896l12.1,-7.2v14.3zM1543,906l12.1,-7.2v14.3zM1544,888l12.1,-7.2v14.3zM1544,886l12.1,-7.2v14.3zM1545,891l12.1,-7.2v14.3zM1545,891l12.1,-7.2v14.3zM1546,896l12.1,-7.2v14.3zM1546,892l12.1,-7.2v14.3zM1547,896l12.1,-7.2v14.3zM1547,887l12.1,-7.2v14.3zM1548,903l12.1,-7.2v14.3zM1548,901l12.1,-7.2v14.3zM1549,898l12.1,-7.2v14.3zM1549,895l12.1,-7.2v14.3zM1550,888l12.1,-7.2v14.3zM1550,883l12.1,-7.2v14.3zM1551,897l12.1,-7.2v14.3zM1551,892l12.1,-7.2v14.3zM1551,892l12.1,-7.2v14.3zM1552,908l12.1,-7.2v14.3zM1552,892l12.1,-7.2v14.3zM1553,907l12.1,-7.2v14.3zM1553,912l12.1,-7.2v14.3zM1554,905l12.1,-7.2v14.3zM1554,892l12.1,-7.2v14.3zM1555,899l12.1,-7.2v14.3zM1555,893l12.1,-7.2v14.3zM1556,897l12.1,-7.2v14.3zM1556,898l12.1,-7.2v14.3zM1557,883l12.1,-7.2v14.3zM1557,894l12.1,-7.2v14.3zM1558,897l12.1,-7.2v14.3zM1558,900l12.1,-7.2v14.3zM1559,898l12.1,-7.2v14.3zM1559,896l12.1,-7.2v14.3zM1560,893l12.1,-7.2v14.3zM1560,905l12.1,-7.2v14.3zM1561,891l12.1,-7.2v14.3zM1561,890l12.1,-7.2v14.3zM1561,895l12.1,-7.2v14.3zM1562,893l12.1,-7.2v14.3zM1562,884l12.1,-7.2v14.3zM1563,901l12.1,-7.2v14.3zM1563,904l12.1,-7.2v14.3zM1564,897l12.1,-7.2v14.3zM1564,896l12.1,-7.2v14.3zM1565,897l12.1,-7.2v14.3zM1565,903l12.1,-7.2v14.3zM1566,887l12.1,-7.2v14.3zM1566,896l12.1,-7.2v14.3zM1567,905l12.1,-7.2v14.3zM1567,889l12.1,-7.2v14.3zM1568,901l12.1,-7.2v14.3zM1568,880l12.1,-7.2v14.3zM1569,903l12.1,-7.2v14.3zM1569,909l12.1,-7.2v14.3zM1570,902l12.1,-7.2v14.3zM1570,900l12.1,-7.2v14.3zM1571,888l12.1,-7.2v14.3zM1571,888l12.1,-7.2v14.3zM1572,888l12.1,-7.2v14.3zM1572,900l12.1,-7.2v14.3zM1572,894l12.1,-7.2v14.3zM1573,904l12.1,-7.2v14.3zM1573,894l12.1,-7.2v14.3zM1574,901l12.1,-7.2v14.3zM1574,899l12.1,-7.2v14.3zM1575,895l12.1,-7.2v14.3zM1575,892l12.1,-7.2v14.3zM1576,901l12.1,-7.2v14.3zM1576,879l12.1,-7.2v14.3zM1577,911l12.1,-7.2v14.3zM1577,892l12.1,-7.2v14.3zM1578,900l12.1,-7.2v14.3zM1578,911l12.1,-7.2v14.3zM1579,886l12.1,-7.2v14.3zM1579,889l12.1,-7.2v14.3zM1580,903l12.1,-7.2v14.3zM1580,886l12.1,-7.2v14.3zM1581,895l12.1,-7.2v14.3zM1581,894l12.1,-7.2v14.3zM1582,898l12.1,-7.2v14.3zM1582,894l12.1,-7.2v14.3zM1582,901l12.1,-7.2v14.3zM1583,890l12.1,-7.2v14.3zM1583,895l12.1,-7.2v14.3zM1584,886l12.1,-7.2v14.3zM1584,900l12.1,-7.2v14.3zM1585,883l12.1,-7.2v14.3zM1585,899l12.1,-7.2v14.3zM1586,891l12.1,-7.2v14.3zM1586,906l12.1,-7.2v14.3zM1587,898l12.1,-7.2v14.3zM1587,899l12.1,-7.2v14.3zM1588,892l12.1,-7.2v14.3zM1588,898l12.1,-7.2v14.3zM1589,902l12.1,-7.2v14.3zM1589,900l12.1,-7.2v14.3zM1590,908l12.1,-7.2v14.3zM1590,896l12.1,-7.2v14.3zM1591,909l12.1,-7.2v14.3zM1591,887l12.1,-7.2v14.3zM1592,893l12.1,-7.2v14.3zM1592,895l12.1,-7.2v14.3zM1592,895l12.1,-7.2v14.3zM1593,900l12.1,-7.2v14.3zM1593,894l12.1,-7.2v14.3zM1594,888l12.1,-7.2v14.3zM1594,894l12.1,-7.2v14.3zM1595,888l12.1,-7.2v14.3zM1595,896l12.1,-7.2v14.3zM1596,897l12.1,-7.2v14.3zM1596,883l12.1,-7.2v14.3zM1597,901l12.1,-7.2v14.3zM1597,891l12.1,-7.2v14.3zM1598,895l12.1,-7.2v14.3zM1598,897l12.1,-7.2v14.3zM1599,895l12.1,-7.2v14.3zM1599,902l12.1,-7.2v14.3zM1600,904l12.1,-7.2v14.3zM1600,883l12.1,-7.2v14.3zM1601,909l12.1,-7.2v14.3zM1601,894l12.1,-7.2v14.3zM1602,897l12.1,-7.2v14.3zM1602,895l12.1,-7.2v14.3zM1602,891l12.1,-7.2v14.3zM1603,895l12.1,-7.2v14.3zM1603,896l12.1,-7.2v14.3zM1604,897l12.1,-7.2v14.3zM1604,902l12.1,-7.2v14.3zM1605,900l12.1,-7.2v14.3zM1605,892l12.1,-7.2v14.3zM1606,905l12.1,-7.2v14.3zM1606,901l12.1,-7.2v14.3zM1607,893l12.1,-7.2v14.3zM1607,900l12.1,-7.2v14.3zM1608,902l12.1,-7.2v14.3zM1608,896l12.1,-7.2v14.3zM1609,897l12.1,-7.2v14.3zM1609,884l12.1,-7.2v14.3zM1610,886l12.1,-7.2v14.3zM1610,894l12.1,-7.2v14.3zM1611,896l12.1,-7.2v14.3zM1611,902l12.1,-7.2v14.3zM1612,889l12.1,-7.2v14.3zM1612,892l12.1,-7.2v14.3zM1612,896l12.1,-7.2v14.3zM1613,890l12.1,-7.2v14.3zM1613,890l12.1,-7.2v14.3zM1614,903l12.1,-7.2v14.3zM1614,897l12.1,-7.2v14.3zM1615,906l12.1,-7.2v14.3zM1615,891l12.1,-7.2v14.3zM1616,902l12.1,-7.2v14.3zM1616,903l12.1,-7.2v14.3zM1617,909l12.1,-7.2v14.3zM1617,898l12.1,-7.2v14.3zM1618,905l12.1,-7.2v14.3zM1618,904l12.1,-7.2v14.3zM1619,898l12.1,-7.2v14.3zM1619,890l12.1,-7.2v14.3zM1620,893l12.1,-7.2v14.3zM1620,894l12.1,-7.2v14.3zM1621,896l12.1,-7.2v14.3zM1621,901l12.1,-7.2v14.3zM1622,903l12.1,-7.2v14.3zM1622,891l12.1,-7.2v14.3zM1622,900l12.1,-7.2v14.3zM1623,901l12.1,-7.2v14.3zM1623,902l12.1,-7.2v14.3zM1624,891l12.1,-7.2v14.3zM1624,890l12.1,-7.2v14.3zM1625,902l12.1,-7.2v14.3zM1625,897l12.1,-7.2v14.3zM1626,897l12.1,-7.2v14.3zM1626,907l12.1,-7.2v14.3zM1627,894l12.1,-7.2v14.3zM1627,889l12.1,-7.2v14.3zM1628,894l12.1,-7.2v14.3zM1628,907l12.1,-7.2v14.3zM1629,897l12.1,-7.2v14.3zM1629,902l12.1,-7.2v14.3zM1630,901l12.1,-7.2v14.3zM1630,910l12.1,-7.2v14.3zM1631,894l12.1,-7.2v14.3zM1631,901l12.1,-7.2v14.3zM1632,900l12.1,-7.2v14.3zM1632,897l12.1,-7.2v14.3zM1632,900l12.1,-7.2v14.3zM1633,889l12.1,-7.2v14.3zM1633,901l12.1,-7.2v14.3zM1634,891l12.1,-7.2v14.3zM1634,905l12.1,-7.2v14.3zM1635,898l12.1,-7.2v14.3zM1635,889l12.1,-7.2v14.3zM1636,896l12.1,-7.2v14.3zM1636,903l12.1,-7.2v14.3zM1637,894l12.1,-7.2v14.3zM1637,887l12.1,-7.2v14.3zM1638,898l12.1,-7.2v14.3zM1638,899l12.1,-7.2v14.3zM1639,898l12.1,-7.2v14.3zM1639,900l12.1,-7.2v14.3zM1640,906l12.1,-7.2v14.3zM1640,905l12.1,-7.2v14.3zM1641,906l12.1,-7.2v14.3zM1641,898l12.1,-7.2v14.3zM1642,910l12.1,-7.2v14.3zM1642,890l12.1,-7.2v14.3zM1642,891l12.1,-7.2v14.3zM1643,893l12.1,-7.2v14.3zM1643,898l12.1,-7.2v14.3zM1644,901l12.1,-7.2v14.3zM1644,894l12.1,-7.2v14.3zM1645,899l12.1,-7.2v14.3zM1645,905l12.1,-7.2v14.3zM1646,902l12.1,-7.2v14.3zM1646,902l12.1,-7.2v14.3zM1647,906l12.1,-7.2v14.3zM1647,908l12.1,-7.2v14.3zM1648,895l12.1,-7.2v14.3zM1648,899l12.1,-7.2v14.3zM1649,891l12.1,-7.2v14.3zM1649,895l12.1,-7.2v14.3zM1650,895l12.1,-7.2v14.3zM1650,897l12.1,-7.2v14.3zM1651,890l12.1,-7.2v14.3zM1651,898l12.1,-7.2v14.3zM1652,900l12.1,-7.2v14.3zM1652,893l12.1,-7.2v14.3zM1652,897l12.1,-7.2v14.3zM1653,904l12.1,-7.2v14.3zM1653,904l12.1,-7.2v14.3zM1654,895l12.1,-7.2v14.3zM1654,897l12.1,-7.2v14.3zM1655,899l12.1,-7.2v14.3zM1655,903l12.1,-7.2v14.3zM1656,905l12.1,-7.2v14.3zM1656,898l12.1,-7.2v14.3zM1657,898l12.1,-7.2v14.3zM1657,902l12.1,-7.2v14.3zM1658,897l12.1,-7.2v14.3zM1658,902l12.1,-7.2v14.3zM1659,892l12.1,-7.2v14.3zM1659,896l12.1,-7.2v14.3zM1660,910l12.1,-7.2v14.3zM1660,901l12.1,-7.2v14.3zM1661,895l12.1,-7.2v14.3zM1661,906l12.1,-7.2v14.3zM1662,901l12.1,-7.2v14.3zM1662,901l12.1,-7.2v14.3zM1662,902l12.1,-7.2v14.3zM1663,913l12.1,-7.2v14.3zM1663,899l12.1,-7.2v14.3zM1664,896l12.1,-7.2v14.3zM1664,905l12.1,-7.2v14.3zM1665,905l12.1,-7.2v14.3zM1665,896l12.1,-7.2v14.3zM1666,899l12.1,-7.2v14.3zM1666,911l12.1,-7.2v14.3zM1667,906l12.1,-7.2v14.3zM1667,910l12.1,-7.2v14.3zM1668,900l12.1,-7.2v14.3zM1668,902l12.1,-7.2v14.3zM1669,895l12.1,-7.2v14.3zM1669,890l12.1,-7.2v14.3zM1670,907l12.1,-7.2v14.3zM1670,895l12.1,-7.2v14.3zM1671,902l12.1,-7.2v14.3zM1671,897l12.1,-7.2v14.3zM1672,902l12.1,-7.2v14.3zM1672,898l12.1,-7.2v14.3zM1672,913l12.1,-7.2v14.3zM1673,902l12.1,-7.2v14.3zM1673,899l12.1,-7.2v14.3zM1674,902l12.1,-7.2v14.3zM1674,891l12.1,-7.2v14.3zM1675,906l12.1,-7.2v14.3zM1675,898l12.1,-7.2v14.3zM1676,909l12.1,-7.2v14.3zM1676,895l12.1,-7.2v14.3zM1677,911l12.1,-7.2v14.3zM1677,891l12.1,-7.2v14.3zM1678,898l12.1,-7.2v14.3zM1678,909l12.1,-7.2v14.3zM1679,906l12.1,-7.2v14.3zM1679,900l12.1,-7.2v14.3zM1680,908l12.1,-7.2v14.3zM1680,897l12.1,-7.2v14.3zM1681,909l12.1,-7.2v14.3zM1681,912l12.1,-7.2v14.3zM1682,913l12.1,-7.2v14.3zM1682,897l12.1,-7.2v14.3zM1682,912l12.1,-7.2v14.3zM1683,912l12.1,-7.2v14.3zM1683,905l12.1,-7.2v14.3zM1684,905l12.1,-7.2v14.3zM1684,906l12.1,-7.2v14.3zM1685,901l12.1,-7.2v14.3zM1685,902l12.1,-7.2v14.3zM1686,907l12.1,-7.2v14.3zM1686,910l12.1,-7.2v14.3zM1687,904l12.1,-7.2v14.3zM1687,893l12.1,-7.2v14.3zM1688,908l12.1,-7.2v14.3zM1688,892l12.1,-7.2v14.3zM1689,912l12.1,-7.2v14.3zM1689,909l12.1,-7.2v14.3zM1690,898l12.1,-7.2v14.3zM1690,910l12.1,-7.2v14.3zM1691,910l12.1,-7.2v14.3zM1691,902l12.1,-7.2v14.3zM1692,895l12.1,-7.2v14.3zM1692,911l12.1,-7.2v14.3zM1693,906l12.1,-7.2v14.3zM1693,902l12.1,-7.2v14.3zM1693,910l12.1,-7.2v14.3zM1694,900l12.1,-7.2v14.3zM1694,912l12.1,-7.2v14.3zM1695,915l12.1,-7.2v14.3zM1695,901l12.1,-7.2v14.3zM1696,901l12.1,-7.2v14.3zM1696,910l12.1,-7.2v14.3zM1697,906l12.1,-7.2v14.3zM1697,894l12.1,-7.2v14.3zM1698,912l12.1,-7.2v14.3zM1698,902l12.1,-7.2v14.3zM1699,913l12.1,-7.2v14.3zM1699,897l12.1,-7.2v14.3zM1700,908l12.1,-7.2v14.3zM1700,909l12.1,-7.2v14.3zM1701,909l12.1,-7.2v14.3zM1701,900l12.1,-7.2v14.3zM1702,896l12.1,-7.2v14.3zM1702,910l12.1,-7.2v14.3zM1703,913l12.1,-7.2v14.3zM1703,907l12.1,-7.2v14.3zM1703,910l12.1,-7.2v14.3zM1704,902l12.1,-7.2v14.3zM1704,900l12.1,-7.2v14.3zM1705,914l12.1,-7.2v14.3zM1705,917l12.1,-7.2v14.3zM1706,919l12.1,-7.2v14.3zM1706,909l12.1,-7.2v14.3zM1707,901l12.1,-7.2v14.3zM1707,894l12.1,-7.2v14.3zM1708,909l12.1,-7.2v14.3zM1708,914l12.1,-7.2v14.3zM1709,912l12.1,-7.2v14.3zM1709,912l12.1,-7.2v14.3zM1710,900l12.1,-7.2v14.3zM1710,915l12.1,-7.2v14.3zM1711,917l12.1,-7.2v14.3zM1711,921l12.1,-7.2v14.3zM1712,917l12.1,-7.2v14.3zM1712,919l12.1,-7.2v14.3zM1713,896l12.1,-7.2v14.3zM1713,898l12.1,-7.2v14.3zM1713,899l12.1,-7.2v14.3zM1714,914l12.1,-7.2v14.3zM1714,908l12.1,-7.2v14.3zM1715,901l12.1,-7.2v14.3zM1715,902l12.1,-7.2v14.3zM1716,912l12.1,-7.2v14.3zM1716,897l12.1,-7.2v14.3zM1717,911l12.1,-7.2v14.3zM1717,911l12.1,-7.2v14.3zM1718,922l12.1,-7.2v14.3zM1718,909l12.1,-7.2v14.3zM1719,896l12.1,-7.2v14.3zM1719,918l12.1,-7.2v14.3zM1720,910l12.1,-7.2v14.3zM1720,908l12.1,-7.2v14.3zM1721,904l12.1,-7.2v14.3zM1721,910l12.1,-7.2v14.3zM1722,904l12.1,-7.2v14.3zM1722,906l12.1,-7.2v14.3zM1723,905l12.1,-7.2v14.3zM1723,917l12.1,-7.2v14.3zM1723,914l12.1,-7.2v14.3zM1724,900l12.1,-7.2v14.3zM1724,909l12.1,-7.2v14.3zM1725,905l12.1,-7.2v14.3zM1725,910l12.1,-7.2v14.3zM1726,912l12.1,-7.2v14.3zM1726,907l12.1,-7.2v14.3zM1727,917l12.1,-7.2v14.3zM1727,917l12.1,-7.2v14.3zM1728,902l12.1,-7.2v14.3zM1728,909l12.1,-7.2v14.3zM1729,901l12.1,-7.2v14.3zM1729,898l12.1,-7.2v14.3zM1730,899l12.1,-7.2v14.3zM1730,901l12.1,-7.2v14.3zM1731,901l12.1,-7.2v14.3zM1731,912l12.1,-7.2v14.3zM1732,911l12.1,-7.2v14.3zM1732,904l12.1,-7.2v14.3zM1733,902l12.1,-7.2v14.3zM1733,910l12.1,-7.2v14.3zM1733,912l12.1,-7.2v14.3zM1734,918l12.1,-7.2v14.3zM1734,910l12.1,-7.2v14.3zM1735,912l12.1,-7.2v14.3zM1735,898l12.1,-7.2v14.3zM1736,906l12.1,-7.2v14.3zM1736,912l12.1,-7.2v14.3zM1737,904l12.1,-7.2v14.3zM1737,903l12.1,-7.2v14.3zM1738,924l12.1,-7.2v14.3zM1738,916l12.1,-7.2v14.3zM1739,909l12.1,-7.2v14.3zM1739,916l12.1,-7.2v14.3zM1740,911l12.1,-7.2v14.3zM1740,904l12.1,-7.2v14.3zM1741,908l12.1,-7.2v14.3zM1741,907l12.1,-7.2v14.3zM1742,916l12.1,-7.2v14.3zM1742,907l12.1,-7.2v14.3zM1743,908l12.1,-7.2v14.3zM1743,900l12.1,-7.2v14.3zM1743,900l12.1,-7.2v14.3zM1744,907l12.1,-7.2v14.3zM1744,908l12.1,-7.2v14.3zM1745,913l12.1,-7.2v14.3zM1745,913l12.1,-7.2v14.3zM1746,910l12.1,-7.2v14.3zM1746,901l12.1,-7.2v14.3zM1747,912l12.1,-7.2v14.3zM1747,898l12.1,-7.2v14.3zM1748,910l12.1,-7.2v14.3zM1748,913l12.1,-7.2v14.3zM1749,919l12.1,-7.2v14.3zM1749,906l12.1,-7.2v14.3zM1750,910l12.1,-7.2v14.3zM1750,909l12.1,-7.2v14.3zM1751,898l12.1,-7.2v14.3zM1751,916l12.1,-7.2v14.3zM1752,906l12.1,-7.2v14.3zM1752,914l12.1,-7.2v14.3zM1753,900l12.1,-7.2v14.3zM1753,913l12.1,-7.2v14.3zM1753,914l12.1,-7.2v14.3zM1754,909l12.1,-7.2v14.3zM1754,925l12.1,-7.2v14.3zM1755,911l12.1,-7.2v14.3zM1755,916l12.1,-7.2v14.3zM1756,895l12.1,-7.2v14.3zM1756,916l12.1,-7.2v14.3zM1757,898l12.1,-7.2v14.3zM1757,902l12.1,-7.2v14.3zM1758,904l12.1,-7.2v14.3zM1758,907l12.1,-7.2v14.3zM1759,924l12.1,-7.2v14.3zM1759,909l12.1,-7.2v14.3zM1760,911l12.1,-7.2v14.3zM1760,906l12.1,-7.2v14.3zM1761,910l12.1,-7.2v14.3zM1761,897l12.1,-7.2v14.3zM1762,914l12.1,-7.2v14.3zM1762,914l12.1,-7.2v14.3zM1763,899l12.1,-7.2v14.3zM1763,896l12.1,-7.2v14.3zM1763,905l12.1,-7.2v14.3zM1764,912l12.1,-7.2v14.3zM1764,904l12.1,-7.2v14.3zM1765,898l12.1,-7.2v14.3zM1765,915l12.1,-7.2v14.3zM1766,898l12.1,-7.2v14.3zM1766,918l12.1,-7.2v14.3zM1767,922l12.1,-7.2v14.3zM1767,896l12.1,-7.2v14.3zM1768,918l12.1,-7.2v14.3zM1768,918l12.1,-7.2v14.3zM1769,918l12.1,-7.2v14.3zM1769,926l12.1,-7.2v14.3zM1770,928l12.1,-7.2v14.3zM1770,917l12.1,-7.2v14.3zM1771,917l12.1,-7.2v14.3zM1771,915l12.1,-7.2v14.3zM1772,913l12.1,-7.2v14.3zM1772,926l12.1,-7.2v14.3zM1773,923l12.1,-7.2v14.3zM1773,918l12.1,-7.2v14.3zM1773,931l12.1,-7.2v14.3zM1774,930l12.1,-7.2v14.3zM1774,928l12.1,-7.2v14.3zM1775,919l12.1,-7.2v14.3zM1775,920l12.1,-7.2v14.3zM1776,934l12.1,-7.2v14.3zM1776,930l12.1,-7.2v14.3zM1777,925l12.1,-7.2v14.3zM1777,914l12.1,-7.2v14.3zM1778,916l12.1,-7.2v14.3zM1778,920l12.1,-7.2v14.3zM1779,918l12.1,-7.2v14.3zM1779,928l12.1,-7.2v14.3zM1780,926l12.1,-7.2v14.3zM1780,903l12.1,-7.2v14.3zM1781,921l12.1,-7.2v14.3zM1781,924l12.1,-7.2v14.3zM1782,909l12.1,-7.2v14.3zM1782,906l12.1,-7.2v14.3zM1783,918l12.1,-7.2v14.3zM1783,917l12.1,-7.2v14.3zM1783,931l12.1,-7.2v14.3zM1784,919l12.1,-7.2v14.3zM1784,927l12.1,-7.2v14.3zM1785,931l12.1,-7.2v14.3zM1785,929l12.1,-7.2v14.3zM1786,914l12.1,-7.2v14.3zM1786,920l12.1,-7.2v14.3zM1787,914l12.1,-7.2v14.3zM1787,911l12.1,-7.2v14.3zM1788,927l12.1,-7.2v14.3zM1788,907l12.1,-7.2v14.3zM1789,908l12.1,-7.2v14.3zM1789,908l12.1,-7.2v14.3zM1790,918l12.1,-7.2v14.3zM1790,917l12.1,-7.2v14.3zM1791,922l12.1,-7.2v14.3zM1791,923l12.1,-7.2v14.3zM1792,899l12.1,-7.2v14.3zM1792,908l12.1,-7.2v14.3zM1793,917l12.1,-7.2v14.3zM1793,923l12.1,-7.2v14.3zM1793,924l12.1,-7.2v14.3zM1794,907l12.1,-7.2v14.3zM1794,913l12.1,-7.2v14.3zM1795,903l12.1,-7.2v14.3zM1795,924l12.1,-7.2v14.3zM1796,917l12.1,-7.2v14.3zM1796,922l12.1,-7.2v14.3zM1797,917l12.1,-7.2v14.3zM1797,909l12.1,-7.2v14.3zM1798,903l12.1,-7.2v14.3zM1798,932l12.1,-7.2v14.3zM1799,903l12.1,-7.2v14.3zM1799,906l12.1,-7.2v14.3zM1800,928l12.1,-7.2v14.3zM1800,908l12.1,-7.2v14.3zM1801,922l12.1,-7.2v14.3zM1801,930l12.1,-7.2v14.3zM1802,929l12.1,-7.2v14.3zM1802,924l12.1,-7.2v14.3zM1803,921l12.1,-7.2v14.3zM1803,929l12.1,-7.2v14.3zM1803,922l12.1,-7.2v14.3zM1804,924l12.1,-7.2v14.3zM1804,917l12.1,-7.2v14.3zM1805,916l12.1,-7.2v14.3zM1805,907l12.1,-7.2v14.3zM1806,932l12.1,-7.2v14.3zM1806,921l12.1,-7.2v14.3zM1807,935l12.1,-7.2v14.3zM1807,905l12.1,-7.2v14.3zM1808,905l12.1,-7.2v14.3zM1808,915l12.1,-7.2v14.3zM1809,911l12.1,-7.2v14.3zM1809,917l12.1,-7.2v14.3zM1810,913l12.1,-7.2v14.3zM1810,915l12.1,-7.2v14.3zM1811,919l12.1,-7.2v14.3zM1811,932l12.1,-7.2v14.3zM1812,925l12.1,-7.2v14.3zM1812,912l12.1,-7.2v14.3zM1813,918l12.1,-7.2v14.3zM1813,917l12.1,-7.2v14.3zM1814,934l12.1,-7.2v14.3zM1814,901l12.1,-7.2v14.3zM1814,913l12.1,-7.2v14.3zM1815,923l12.1,-7.2v14.3zM1815,914l12.1,-7.2v14.3zM1816,929l12.1,-7.2v14.3zM1816,913l12.1,-7.2v14.3zM1817,920l12.1,-7.2v14.3zM1817,928l12.1,-7.2v14.3zM1818,936l12.1,-7.2v14.3zM1818,932l12.1,-7.2v14.3zM1819,917l12.1,-7.2v14.3zM1819,931l12.1,-7.2v14.3zM1820,913l12.1,-7.2v14.3zM1820,918l12.1,-7.2v14.3zM1821,931l12.1,-7.2v14.3zM1821,909l12.1,-7.2v14.3zM1822,932l12.1,-7.2v14.3zM1822,911l12.1,-7.2v14.3zM1823,928l12.1,-7.2v14.3zM1823,922l12.1,-7.2v14.3zM1824,926l12.1,-7.2v14.3zM1824,925l12.1,-7.2v14.3zM1824,909l12.1,-7.2v14.3zM1825,921l12.1,-7.2v14.3zM1825,928l12.1,-7.2v14.3zM1826,919l12.1,-7.2v14.3zM1826,929l12.1,-7.2v14.3zM1827,909l12.1,-7.2v14.3zM1827,915l12.1,-7.2v14.3zM1828,934l12.1,-7.2v14.3zM1828,924l12.1,-7.2v14.3zM1829,923l12.1,-7.2v14.3zM1829,925l12.1,-7.2v14.3zM1830,934l12.1,-7.2v14.3zM1830,916l12.1,-7.2v14.3zM1831,930l12.1,-7.2v14.3zM1831,922l12.1,-7.2v14.3zM1832,922l12.1,-7.2v14.3zM1832,913l12.1,-7.2v14.3zM1833,936l12.1,-7.2v14.3zM1833,926l12.1,-7.2v14.3zM1834,918l12.1,-7.2v14.3zM1834,921l12.1,-7.2v14.3zM1834,916l12.1,-7.2v14.3zM1835,932l12.1,-7.2v14.3zM1835,909l12.1,-7.2v14.3zM1836,918l12.1,-7.2v14.3zM1836,921l12.1,-7.2v14.3zM1837,924l12.1,-7.2v14.3zM1837,915l12.1,-7.2v14.3zM1838,914l12.1,-7.2v14.3zM1838,931l12.1,-7.2v14.3zM1839,939l12.1,-7.2v14.3zM1839,915l12.1,-7.2v14.3zM1840,920l12.1,-7.2v14.3zM1840,919l12.1,-7.2v14.3zM1841,916l12.1,-7.2v14.3zM1841,931l12.1,-7.2v14.3zM1842,903l12.1,-7.2v14.3zM1842,909l12.1,-7.2v14.3zM1843,919l12.1,-7.2v14.3zM1843,925l12.1,-7.2v14.3zM1844,927l12.1,-7.2v14.3zM1844,930l12.1,-7.2v14.3zM1844,930l12.1,-7.2v14.3zM1845,921l12.1,-7.2v14.3zM1845,922l12.1,-7.2v14.3zM1846,928l12.1,-7.2v14.3zM1846,935l12.1,-7.2v14.3zM1847,935l12.1,-7.2v14.3zM1847,921l12.1,-7.2v14.3zM1848,920l12.1,-7.2v14.3zM1848,938l12.1,-7.2v14.3zM1849,932l12.1,-7.2v14.3zM1849,940l12.1,-7.2v14.3zM1850,925l12.1,-7.2v14.3zM1850,922l12.1,-7.2v14.3zM1851,931l12.1,-7.2v14.3zM1851,909l12.1,-7.2v14.3zM1852,933l12.1,-7.2v14.3zM1852,920l12.1,-7.2v14.3zM1853,919l12.1,-7.2v14.3zM1853,925l12.1,-7.2v14.3zM1854,912l12.1,-7.2v14.3zM1854,919l12.1,-7.2v14.3zM1854,939l12.1,-7.2v14.3zM1855,912l12.1,-7.2v14.3zM1855,926l12.1,-7.2v14.3zM1856,915l12.1,-7.2v14.3zM1856,937l12.1,-7.2v14.3zM1857,944l12.1,-7.2v14.3zM1857,904l12.1,-7.2v14.3zM1858,929l12.1,-7.2v14.3zM1858,928l12.1,-7.2v14.3zM1859,934l12.1,-7.2v14.3zM1859,936l12.1,-7.2v14.3zM1860,930l12.1,-7.2v14.3zM1860,933l12.1,-7.2v14.3zM1861,919l12.1,-7.2v14.3zM1861,945l12.1,-7.2v14.3zM1862,933l12.1,-7.2v14.3zM1862,915l12.1,-7.2v14.3zM1863,923l12.1,-7.2v14.3zM1863,925l12.1,-7.2v14.3zM1864,913l12.1,-7.2v14.3zM1864,919l12.1,-7.2v14.3zM1864,916l12.1,-7.2v14.3zM1865,936l12.1,-7.2v14.3zM1865,944l12.1,-7.2v14.3zM1866,929l12.1,-7.2v14.3zM1866,941l12.1,-7.2v14.3zM1867,915l12.1,-7.2v14.3zM1867,927l12.1,-7.2v14.3zM1868,922l12.1,-7.2v14.3zM1868,934l12.1,-7.2v14.3zM1869,918l12.1,-7.2v14.3zM1869,925l12.1,-7.2v14.3zM1870,925l12.1,-7.2v14.3zM1870,921l12.1,-7.2v14.3zM1871,914l12.1,-7.2v14.3zM1871,934l12.1,-7.2v14.3zM1872,915l12.1,-7.2v14.3zM1872,928l12.1,-7.2v14.3zM1873,911l12.1,-7.2v14.3zM1873,910l12.1,-7.2v14.3zM1874,914l12.1,-7.2v14.3zM1874,916l12.1,-7.2v14.3zM1874,936l12.1,-7.2v14.3zM1875,917l12.1,-7.2v14.3zM1875,920l12.1,-7.2v14.3zM1876,919l12.1,-7.2v14.3zM1876,930l12.1,-7.2v14.3zM1877,936l12.1,-7.2v14.3zM1877,919l12.1,-7.2v14.3zM1878,923l12.1,-7.2v14.3zM1878,939l12.1,-7.2v14.3zM1879,940l12.1,-7.2v14.3zM1879,928l12.1,-7.2v14.3zM1880,926l12.1,-7.2v14.3zM1880,904l12.1,-7.2v14.3zM1881,920l12.1,-7.2v14.3zM1881,939l12.1,-7.2v14.3zM1882,922l12.1,-7.2v14.3zM1882,906l12.1,-7.2v14.3zM1883,924l12.1,-7.2v14.3zM1883,920l12.1,-7.2v14.3zM1884,933l12.1,-7.2v14.3zM1884,926l12.1,-7.2v14.3zM1884,929l12.1,-7.2v14.3zM1885,943l12.1,-7.2v14.3zM1885,923l12.1,-7.2v14.3zM1886,918l12.1,-7.2v14.3zM1886,928l12.1,-7.2v14.3zM1887,930l12.1,-7.2v14.3zM1887,915l12.1,-7.2v14.3zM1888,933l12.1,-7.2v14.3zM1888,910l12.1,-7.2v14.3zM1889,917l12.1,-7.2v14.3zM1889,932l12.1,-7.2v14.3zM1890,941l12.1,-7.2v14.3zM1890,924l12.1,-7.2v14.3zM1891,937l12.1,-7.2v14.3zM1891,925l12.1,-7.2v14.3zM1892,918l12.1,-7.2v14.3zM1892,923l12.1,-7.2v14.3zM1893,934l12.1,-7.2v14.3zM1893,933l12.1,-7.2v14.3zM1894,944l12.1,-7.2v14.3zM1894,932l12.1,-7.2v14.3zM1894,941l12.1,-7.2v14.3zM1895,943l12.1,-7.2v14.3zM1895,917l12.1,-7.2v14.3zM1896,916l12.1,-7.2v14.3zM1896,926l12.1,-7.2v14.3zM1897,939l12.1,-7.2v14.3zM1897,942l12.1,-7.2v14.3zM1898,921l12.1,-7.2v14.3zM1898,924l12.1,-7.2v14.3zM1899,918l12.1,-7.2v14.3zM1899,922l12.1,-7.2v14.3zM1900,949l12.1,-7.2v14.3zM1900,928l12.1,-7.2v14.3zM1901,917l12.1,-7.2v14.3zM1901,919l12.1,-7.2v14.3zM1902,911l12.1,-7.2v14.3zM1902,937l12.1,-7.2v14.3zM1903,928l12.1,-7.2v14.3zM1903,950l12.1,-7.2v14.3zM1904,947l12.1,-7.2v14.3zM1904,919l12.1,-7.2v14.3zM1904,915l12.1,-7.2v14.3zM1905,915l12.1,-7.2v14.3zM1905,939l12.1,-7.2v14.3zM1906,950l12.1,-7.2v14.3zM1906,925l12.1,-7.2v14.3zM1907,924l12.1,-7.2v14.3zM1907,926l12.1,-7.2v14.3zM1908,920l12.1,-7.2v14.3zM1908,911l12.1,-7.2v14.3zM1909,922l12.1,-7.2v14.3zM1909,915l12.1,-7.2v14.3zM1910,928l12.1,-7.2v14.3zM1910,925l12.1,-7.2v14.3zM1911,924l12.1,-7.2v14.3zM1911,933l12.1,-7.2v14.3zM1912,915l12.1,-7.2v14.3zM1912,940l12.1,-7.2v14.3zM1913,936l12.1,-7.2v14.3zM1913,938l12.1,-7.2v14.3zM1914,922l12.1,-7.2v14.3zM1914,929l12.1,-7.2v14.3zM1914,941l12.1,-7.2v14.3zM1915,933l12.1,-7.2v14.3zM1915,913l12.1,-7.2v14.3zM1916,933l12.1,-7.2v14.3zM1916,925l12.1,-7.2v14.3zM1917,926l12.1,-7.2v14.3zM1917,928l12.1,-7.2v14.3zM1918,914l12.1,-7.2v14.3zM1918,921l12.1,-7.2v14.3zM1919,918l12.1,-7.2v14.3zM1919,920l12.1,-7.2v14.3zM1920,933l12.1,-7.2v14.3zM1920,938l12.1,-7.2v14.3zM1921,934l12.1,-7.2v14.3zM1921,937l12.1,-7.2v14.3zM1922,928l12.1,-7.2v14.3zM1922,926l12.1,-7.2v14.3zM1923,921l12.1,-7.2v14.3zM1923,937l12.1,-7.2v14.3zM1924,929l12.1,-7.2v14.3zM1924,934l12.1,-7.2v14.3zM1924,932l12.1,-7.2v14.3zM1925,947l12.1,-7.2v14.3zM1925,921l12.1,-7.2v14.3zM1926,926l12.1,-7.2v14.3zM1926,918l12.1,-7.2v14.3zM1927,923l12.1,-7.2v14.3zM1927,936l12.1,-7.2v14.3zM1928,927l12.1,-7.2v14.3zM1928,908l12.1,-7.2v14.3zM1929,920l12.1,-7.2v14.3zM1929,931l12.1,-7.2v14.3zM1930,930l12.1,-7.2v14.3zM1930,924l12.1,-7.2v14.3zM1931,935l12.1,-7.2v14.3zM1931,927l12.1,-7.2v14.3zM1932,929l12.1,-7.2v14.3zM1932,936l12.1,-7.2v14.3zM1933,935l12.1,-7.2v14.3zM1933,913l12.1,-7.2v14.3zM1934,926l12.1,-7.2v14.3zM1934,941l12.1,-7.2v14.3zM1935,931l12.1,-7.2v14.3zM1935,940l12.1,-7.2v14.3zM1935,925l12.1,-7.2v14.3zM1936,936l12.1,-7.2v14.3zM1936,929l12.1,-7.2v14.3zM1937,927l12.1,-7.2v14.3zM1937,931l12.1,-7.2v14.3zM1938,939l12.1,-7.2v14.3zM1938,923l12.1,-7.2v14.3zM1939,928l12.1,-7.2v14.3zM1939,923l12.1,-7.2v14.3zM1940,926l12.1,-7.2v14.3zM1940,928l12.1,-7.2v14.3zM1941,927l12.1,-7.2v14.3zM1941,929l12.1,-7.2v14.3zM1942,940l12.1,-7.2v14.3zM1942,920l12.1,-7.2v14.3zM1943,908l12.1,-7.2v14.3zM1943,944l12.1,-7.2v14.3zM1944,947l12.1,-7.2v14.3zM1944,917l12.1,-7.2v14.3zM1945,924l12.1,-7.2v14.3zM1945,937l12.1,-7.2v14.3zM1945,927l12.1,-7.2v14.3zM1946,924l12.1,-7.2v14.3zM1946,920l12.1,-7.2v14.3zM1947,912l12.1,-7.2v14.3zM1947,940l12.1,-7.2v14.3zM1948,927l12.1,-7.2v14.3zM1948,912l12.1,-7.2v14.3zM1949,933l12.1,-7.2v14.3zM1949,938l12.1,-7.2v14.3zM1950,930l12.1,-7.2v14.3zM1950,932l12.1,-7.2v14.3zM1951,915l12.1,-7.2v14.3zM1951,933l12.1,-7.2v14.3zM1952,926l12.1,-7.2v14.3zM1952,924l12.1,-7.2v14.3zM1953,921l12.1,-7.2v14.3zM1953,930l12.1,-7.2v14.3zM1954,949l12.1,-7.2v14.3zM1954,926l12.1,-7.2v14.3zM1955,929l12.1,-7.2v14.3zM1955,927l12.1,-7.2v14.3zM1955,928l12.1,-7.2v14.3zM1956,944l12.1,-7.2v14.3zM1956,937l12.1,-7.2v14.3zM1957,948l12.1,-7.2v14.3zM1957,945l12.1,-7.2v14.3zM1958,914l12.1,-7.2v14.3zM1958,939l12.1,-7.2v14.3zM1959,928l12.1,-7.2v14.3zM1959,915l12.1,-7.2v14.3zM1960,916l12.1,-7.2v14.3zM1960,927l12.1,-7.2v14.3zM1961,941l12.1,-7.2v14.3zM1961,937l12.1,-7.2v14.3zM1962,931l12.1,-7.2v14.3zM1962,921l12.1,-7.2v14.3zM1963,928l12.1,-7.2v14.3zM1963,932l12.1,-7.2v14.3zM1964,934l12.1,-7.2v14.3zM1964,925l12.1,-7.2v14.3zM1965,912l12.1,-7.2v14.3zM1965,920l12.1,-7.2v14.3zM1965,933l12.1,-7.2v14.3zM1966,928l12.1,-7.2v14.3zM1966,935l12.1,-7.2v14.3zM1967,934l12.1,-7.2v14.3zM1967,921l12.1,-7.2v14.3zM1968,932l12.1,-7.2v14.3zM1968,938l12.1,-7.2v14.3zM1969,920l12.1,-7.2v14.3zM1969,921l12.1,-7.2v14.3zM1970,938l12.1,-7.2v14.3zM1970,924l12.1,-7.2v14.3zM1971,929l12.1,-7.2v14.3zM1971,927l12.1,-7.2v14.3zM1972,928l12.1,-7.2v14.3zM1972,927l12.1,-7.2v14.3zM1973,939l12.1,-7.2v14.3zM1973,930l12.1,-7.2v14.3zM1974,929l12.1,-7.2v14.3zM1974,932l12.1,-7.2v14.3zM1975,926l12.1,-7.2v14.3zM1975,920l12.1,-7.2v14.3zM1975,917l12.1,-7.2v14.3zM1976,945l12.1,-7.2v14.3zM1976,923l12.1,-7.2v14.3zM1977,920l12.1,-7.2v14.3zM1977,935l12.1,-7.2v14.3zM1978,935l12.1,-7.2v14.3zM1978,935l12.1,-7.2v14.3zM1979,935l12.1,-7.2v14.3zM1979,919l12.1,-7.2v14.3zM1980,946l12.1,-7.2v14.3zM1980,939l12.1,-7.2v14.3zM1981,927l12.1,-7.2v14.3zM1981,926l12.1,-7.2v14.3zM1982,908l12.1,-7.2v14.3zM1982,920l12.1,-7.2v14.3zM1983,936l12.1,-7.2v14.3zM1983,937l12.1,-7.2v14.3zM1984,925l12.1,-7.2v14.3zM1984,920l12.1,-7.2v14.3zM1985,928l12.1,-7.2v14.3zM1985,926l12.1,-7.2v14.3zM1985,927l12.1,-7.2v14.3zM1986,934l12.1,-7.2v14.3zM314.9,789l12.1,-7.2v14.3zM832,832l12.1,-7.2v14.3zM1235,896l12.1,-7.2v14.3zM1858,960l12.1,-7.2v14.3z" fill="#f0f"/>
</g>
<defs><filter id="bin" x="0" y="0" width="2262" height="1683" filterUnits="userSpaceOnUse" color-interpolation-filters="sRGB"><feComponentTransfer><feFuncA type="discrete" tableValues="0 1"/></feComponentTransfer></filter></defs>
<g filter="url(#bin)">
<text transform="translate(230.2,115.9) scale(1.0,1.03)" font-size="54.3" text-anchor="end">-400</text>
<text transform="translate(230.2,251) scale(1.0,1.03)" font-size="54.3" text-anchor="end">-420</text>
<text transform="translate(230.2,386) scale(1.0,1.03)" font-size="54.3" text-anchor="end">-440</text>
<text transform="translate(230.2,521.1) scale(1.0,1.03)" font-size="54.3" text-anchor="end">-460</text>
<text transform="translate(230.2,656.1) scale(1.0,1.03)" font-size="54.3" text-anchor="end">-480</text>
<text transform="translate(230.2,791.1) scale(1.0,1.03)" font-size="54.3" text-anchor="end">-500</text>
<text transform="translate(230.2,926.2) scale(1.0,1.03)" font-size="54.3" text-anchor="end">-520</text>
<text transform="translate(230.2,1061.3) scale(1.0,1.03)" font-size="54.3" text-anchor="end">-540</text>
<text transform="translate(230.2,1196.3) scale(1.0,1.03)" font-size="54.3" text-anchor="end">-560</text>
<text transform="translate(230.2,1331.4) scale(1.0,1.03)" font-size="54.3" text-anchor="end">-580</text>
<text transform="translate(230.2,1466.4) scale(1.0,1.03)" font-size="54.3" text-anchor="end">-600</text>
<text transform="translate(277.5,1541.8) scale(1.0,1.03)" font-size="54.3" text-anchor="middle">0</text>
<text transform="translate(468.1,1541.8) scale(1.0,1.03)" font-size="54.3" text-anchor="middle">200</text>
<text transform="translate(658.6,1541.8) scale(1.0,1.03)" font-size="54.3" text-anchor="middle">400</text>
<text transform="translate(849.2,1541.8) scale(1.0,1.03)" font-size="54.3" text-anchor="middle">600</text>
<text transform="translate(1039.7,1541.8) scale(1.0,1.03)" font-size="54.3" text-anchor="middle">800</text>
<text transform="translate(1230.2,1541.8) scale(1.0,1.03)" font-size="54.3" text-anchor="middle">1000</text>
<text transform="translate(1420.8,1541.8) scale(1.0,1.03)" font-size="54.3" text-anchor="middle">1200</text>
<text transform="translate(1611.4,1541.8) scale(1.0,1.03)" font-size="54.3" text-anchor="middle">1400</text>
<text transform="translate(1801.9,1541.8) scale(1.0,1.03)" font-size="54.3" text-anchor="middle">1600</text>
<text transform="translate(1992.5,1541.8) scale(1.0,1.03)" font-size="54.3" text-anchor="middle">1800</text>
<text transform="translate(2183,1541.8) scale(1.0,1.03)" font-size="54.3" text-anchor="middle">2000</text>
<text transform="translate(513.2,76) scale(1.003,1.03)" font-size="54.3">S235 / 1 M HCl + GV extract (ppm GAE) 30<tspan font-size="36" dx="0.3" dy="-24.6">0</tspan><tspan dx="-2.2" dy="24.6">C</tspan></text>
<text transform="translate(1221,1650.9) scale(1.0,1.03)" font-size="68.3" text-anchor="middle">Time, s</text>
<text transform="translate(73.2,790.4) rotate(-90) scale(1.0106,1.03)" font-size="68.3" text-anchor="middle">OCP, mV vs Ag, AgCl</text>
<rect x="590" y="140" width="481" height="461" fill="none" stroke="#000" stroke-width="2" shape-rendering="crispEdges"/>
<g shape-rendering="crispEdges"><rect x="721" y="206" width="10" height="11" fill="#f00"/><circle cx="726" cy="278.6" r="5.8" fill="#000"/><path d="M726.5,338.4l6.7,11.7h-13.4z" fill="#0f0"/><path d="M726.5,421.3l6.7,-11.7h-13.4z" fill="#00f"/><path d="M718.9,481l7.75,-7.4l7.75,7.4l-7.75,7.4z" fill="#0ff"/><path d="M718.9,547.9l12.1,-7.2v14.3z" fill="#f0f"/></g>
<text transform="translate(802.5,229.6) scale(1.012,0.985)" font-size="54.3" text-anchor="start">blank</text>
<text transform="translate(817.8,296.8) scale(1.012,1.02)" font-size="54.3" text-anchor="start">50 ppm</text>
<text transform="translate(802.5,364.7) scale(1.012,1.02)" font-size="54.3" text-anchor="start">100 ppm</text>
<text transform="translate(802.5,431.9) scale(1.012,1.02)" font-size="54.3" text-anchor="start">200 ppm</text>
<text transform="translate(802.5,498.6) scale(1.012,1.02)" font-size="54.3" text-anchor="start">300 ppm</text>
<text transform="translate(802.5,567.2) scale(1.012,1.02)" font-size="54.3" text-anchor="start">400 ppm</text>
</g>
</svg>
</body></html>
